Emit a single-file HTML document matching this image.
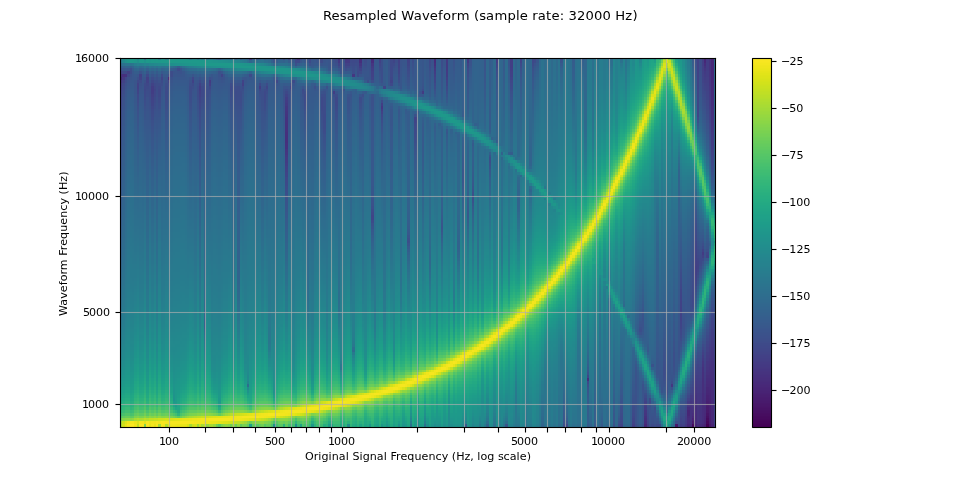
<!DOCTYPE html>
<html lang="en">
<head>
<meta charset="utf-8">
<title>Resampled Waveform (sample rate: 32000 Hz)</title>
<style>
html,body{margin:0;padding:0;background:#fff}
body{width:960px;height:480px;overflow:hidden}
#fig{display:block;width:960px;height:480px;background:#fff;font-family:"DejaVu Sans","Liberation Sans",sans-serif}
</style>
</head>
<body>
<svg id="fig" width="960" height="480" viewBox="0 0 960 480">
<g id="spectrogram" transform="translate(120 58)" shape-rendering="crispEdges" fill="none">
<g stroke-width="2">
<path stroke="#45085b" d="M573 366v3"/>
<path stroke="#48196b" d="M573 363v3m17 0v3"/>
<path stroke="#481e70" d="M590 360v6"/>
<path stroke="#482071" d="M590 355v5"/>
<path stroke="#482172" d="M585 0v2m5 350v3"/>
<path stroke="#482273" d="M573 360v3m12 3v3m5-23v6"/>
<path stroke="#482374" d="M590 343v3"/>
<path stroke="#472575" d="M590 340v3"/>
<path stroke="#472676" d="M315 0v2m275 335v3"/>
<path stroke="#472777" d="M1 19v3m584 338v6m5-31v2"/>
<path stroke="#472878" d="M219 0v2m354 356v2m10 6v3m2-367v3m0 353v2m5-28v3"/>
<path stroke="#472a79" d="M49 19v3m536 333v3m5-29v3"/>
<path stroke="#472b7a" d="M585 352v3m5-29v3"/>
<path stroke="#472c7b" d="M315 2v3m258 350v3m12-9v3m5-29v3"/>
<path stroke="#462d7c" d="M571 366v3m12-34v31m2-361v3m0 338v3m5-29v3"/>
<path stroke="#462f7c" d="M226 0v2m122-2v2m120 318v3m110 43v3m5-49v15m2 8v3m5-346v2m0 315v3"/>
<path stroke="#46307d" d="M315 5v3m258 344v3m10-41v6m2 20v3m5-29v3"/>
<path stroke="#46317e" d="M1 16v3m582 293v2m2 23v3m5-28v2"/>
<path stroke="#45327f" d="M6 16v3m565 330v17m2-17v3m10-43v3m2-304v2m0 325v2m5-28v3"/>
<path stroke="#45347f" d="M1 22v3M377 0v2m201 350v14m7-34v3m5-333v11m0 293v3"/>
<path stroke="#453580" d="M315 8v2m256 336v3m7-3v6m5-46v3m2 20v3m5-319v6m0 284v3"/>
<path stroke="#453681" d="M262 48v3m65-51v2m225 324v3m14 37v3m7-23v3m5-9v6m5-43v3m2-296v3m5 6v6m0 275v3"/>
<path stroke="#443781" d="M571 343v3m7-11v5m7-14v3m5-304v3"/>
<path stroke="#443982" d="M219 2v3m96 5v3m258 330v3m5-14v3m7-12v3m5-298v5m0 264v3"/>
<path stroke="#433a83" d="M1 25v3M226 2v3m122-3v3m223 335v3m7-14v3m5-332v2m0 298v3m2-290v3m0 304v3m5-290v3m0 258v3"/>
<path stroke="#433b83" d="M90 22v3M260 0v2m43 31v3m24-34v11m239 350v3m7-26v3m5-17v3m5-135v3m2 120v3m5-284v3m0 253v2"/>
<path stroke="#433c84" d="M262 51v2m12-53v2m5-2v2m36 11v3m12-3v3m50-14v3m189 355v3M578 0v2m0 321v3m5-29v3m2-284v3m0 295v3m5-278v6m0 244v3"/>
<path stroke="#423d84" d="M1 28v3m139-3v3m74 2v3m48 9v3m65-32v3m244 318v3m2-3v3m5-20v3m12-278v3"/>
<path stroke="#423e85" d="M1 31v2m79-5v5m10-8v3M401 0v2m160 364v3m5-11v2m12-43v3m5-318v6m2 11v3m0 290v2m5-266v3m0 235v3"/>
<path stroke="#424085" d="M80 33v3m43-11v3m77-28v2m115 14v3m12 0v3m201 344v3m45-34v2m5-23v3m5-309v5m0 281v3m2-275v3m0 284v3m5-261v2m0 230v3"/>
<path stroke="#414186" d="M1 13v3m0 17v3m17-8v3m55-9v3M226 5v3m53-6v3m69 0v3m213 241v8M578 2v14m0 296v2m5-301v3m0 181v3m2 106v3m5-256v3"/>
<path stroke="#414286" d="M1 36v3m17-14v3m62-3v3m0 8v3M219 5v3m41-6v3m2 48v3m17-51v5m98-5v3m184 235v6m0 8v6m5 92v3m5-23v2m2-5v3m5-319v6m0 184v5m5-195v3m2 6v3m5 28v3m0 221v3"/>
<path stroke="#404387" d="M1 39v3m17-11v2m31-11v3m74-3v3m46-25v2m2 26v3m144-12v3m12 0v3m88-25v2m146 235v6m0 20v3m0 97v3m17-344v9m0 172v3m0 103v3m5-293v3m0 169v3m0 98v2m2 9v3m5-247v3m0 215v3m5 32v5m0 49v3"/>
<path stroke="#404487" d="M1 42v3m41-26v3m38 17v3m22-26v3m88-19v2m12-2v2m34-2v2m43 8v3m31-13v2m91 0v3m12-5v2m148 232v3m0 29v3m0 91v3m5-11v3m7-26v3m5-301v5m0 15v8m0 152v3m0 92v3m5-287v3m2 3v3m0 269v3m5-241v3m5 238v9m0 5v15"/>
<path stroke="#3f4587" d="M1 45v3m17-15v3m17-5v2m45 9v3m67-17v3m29-31v2m55-2v2m43 0v3m5 8v3m36 6v3m12 0v3m21-20v2m29-2v2m151 353v3m33-135v3m0 35v2m17-235v15m0 149v3m7-172v2m5 241v3m5 20v6m0 29v11"/>
<path stroke="#3f4788" d="M1 48v3m5-32v3m29 6v3m0 2v3m38-17v3m7 23v3m77-26v3m69-17v2m12-10v2m22 3v3m2 48v3m206 258v3m60 40v3m33-135v3m0 40v3m0 84v2m10-28v3m2-98v9m5 57v3m5-281v3m0 261v3m2 5v3m5-235v3m0 203v3m5 20v3m0 46v23"/>
<path stroke="#3e4888" d="M1 51v2m5-40v3m19 15v2m10 3v3m45 9v3m10-23v3m50-6v3m0 3v2m24-33v2m115 14v3m251 321v6m31-120v2m0 46v3m5 72v3m7-118v3m0 9v3m0 77v3m5-132v3m0 14v3m5-189v3m2 2v3m0 258v3m5-229v3m5 221v2"/>
<path stroke="#3e4989" d="M1 53v6m17-37v3m0 11v3m7-11v3m0 2v3m55 15v2m65-20v9m57 0v9m36-38v3m55-16v2m17 0v3m5 20v3m7-28v2m5 26v3m21-21v3m29-3v3m24-8v3m12-6v3m55 318v3m31 40v3m29-11v2m12 6v3m21-146v3m0 129v3m12-130v6m5-175v3m0 238v3m5-272v2m2 3v3m5 32v3m0 195v2m5 18v3"/>
<path stroke="#3d4a89" d="M1 59v3m17-23v3m7-6v3m10-14v3m0 11v3m7-20v3m31 0v3m7-6v3m0 28v3m31-28v5m12-5v3m22 11v3m2-14v2m29-31v3m5-5v2m2 29v2m7-31v3m12 34v3m0 9v2m17-45v2m12-8v3m5-3v3m2 11v3m22-11v2m2-10v2m0 40v3m0 14v3m12-57v3m5 11v3m282 198v3m0 54v3m10 49v3m2-106v2m0 21v2m0 72v3m5-132v3m5-164v3m0 152v3m0 9v3m2 89v2m5-220v2m5 210v3"/>
<path stroke="#3d4b89" d="M1 62v6m24-43v3m0 11v3m5-9v3m5 6v3m7-29v3m7 6v3m31 28v3m36-26v3m53 6v3m2-20v3m29-26v3m14-5v2m24 0v3m72 0v3m17 23v2m21-20v3m65-11v3m115 347v3m33-141v3m0 132v3m5-9v3m7-126v3m5-35v3m5 92v3m2-250v3m5 224v3m5 14v3"/>
<path stroke="#3d4c89" d="M1 68v6m5-52v3m5-12v3m7 26v3m12-17v5m0 3v3m7-14v6m12-15v3m29 12v8m2 20v3m5-37v3m5 3v2m21-8v3m0 5v3m5-5v2m0 3v6m5-9v12m24-14v2m0 12v3m2-23v3m22 11v3m0 3v6m14-18v3m19-34v3m0 48v3m29-51v3m7-3v8m72-5v2m5 18v3m62-18v3m24-8v2m14-8v3m101 361v3m31-37v3m5-12v3m7 40v3m2-155v3m0 63v3m12-63v3m5-6v3m0 77v3m5-264v3m2 3v3m0 244v3m5-216v3m5 201v3"/>
<path stroke="#3c4d8a" d="M1 10v3m0 61v2m24-34v3m5-6v3m5 3v3m2-26v3m0 6v5m5-11v3m36 0v3m0 8v3m2 20v3m5-37v5m26 3v3m10 6v3m19-15v3m5 12v3m2-18v3m22 0v3m0 12v2m2-22v2m31 3v3m0 17v3m12-23v3m10-39v2m2 8v3m10-8v3m7-8v2m5 20v3m2-25v2m10 8v3m2-3v12m0 40v3m31-63v3m10 26v2m19-31v6m12-8v2m14 14v3m5 118v3m17-41v3m74 264v3m84-17v3m19-26v3m24-86v3m2-35v6m0 100v3m5-135v3m5-152v3m7 37v3m0 181v3m5 11v3"/>
<path stroke="#3c4e8a" d="M1 76v6m10-72v3m7 32v3m7-3v3m5-23v3m0 14v3m5-23v3m0 23v3m2-15v3m12-11v3m24-3v3m7 34v6m5-49v3m0 8v3m5-17v3m0 11v3m26-8v3m0 11v3m5-14v2m0 15v3m2-20v2m22 18v2m24 0v3m33 3v3m41-26v3m5-39v2m14 0v8m12-2v2m5 12v3m2-25v2m29 8v3m12-5v2m5 23v3m26 104v2M365 0v2m5 100v3m7-89v3m12-19v2m24 6v2m122 339v3m0 14v3m12-34v2m7-43v15m7-98v3m5 129v3m5-109v9m0 3v5m0 72v3m2-118v3m0 37v3m5 40v3m5-112v3m2-143v3m0 238v3m10-15v3"/>
<path stroke="#3b508a" d="M1 82v6m5-63v3m12-9v3m0 26v3m7-29v3m5 20v3m7-29v3m0 17v6m41-20v3m0 14v3m2 26v3m5-38v3m26 0v3m5 3v3m5-20v3m0 20v2m19-17v3m7-3v3m17-6v6m5-6v3m0 20v3m7-54v3m7 28v3m12-11v3m7 31v3m29-57v2m29 3v3m2 6v3m0 40v3m7-68v2m24 3v3m22 23v2m7-23v3m26 6v3m5 112v3m48-127v3m67 313v3m26 37v3m34-20v3m2-6v3m0 17v3m17-43v3m7-40v5m0 15v3m7-104v3m0 72v3m0 63v3m10-118v3m2-29v3m5-149v3m0 120v3m5-146v3m0 238v3m2-238v3m5 31v3m0 175v3m5 8v3"/>
<path stroke="#3b518a" d="M1 88v6m17-43v2m7-5v3m5-3v3m5 0v2m2-8v3m5-20v3m7 0v2m29 12v3m2 26v2m5-37v3m5-6v3m12-20v3m9 20v3m5 3v3m5 2v3m2-23v3m22-8v3m0 22v3m2-17v3m17-11v2m0 6v3m5 17v3m2-29v3m17-36v2m14 63v3m5-40v3m5-31v2m2 0v3m22 3v2m57-2v2m17 3v3m12-3v3m48 89v3m7-89v3m36-12v3m86 350v3m17-29v29m36-37v3m2-49v6m0 23v2m5 49v3m2-160v2m10 20v6m0 20v3m2-54v5m0 109v3m5-137v2m0 35v3m5-178v3m0 155v3m2 77v3m5-201v3m5 181v2"/>
<path stroke="#3a528b" d="M1 94v5m5-71v3m5-15v3m7 34v3m7-5v2m5-31v3m0 26v2m5 0v3m2-8v5m5-22v2m19-20v3m12 15v2m5 15v3m2-32v3m0 54v6m5-40v3m5-6v3m21 3v3m5-23v3m0 23v2m5 3v3m19-20v3m5 14v3m19-17v3m5-14v2m0 29v3m14-26v3m7-37v3m12 25v3m0 32v3m5-71v2m17 0v3m0 26v2m19-31v6m7-6v14m10 0v3m2 49v3m12-61v3m12-13v2m17-2v2m0 26v3m7-15v3m12-3v3m5 17v3m7-37v3m14 17v3m5 117v3m24-123v3m24-12v3m67 298v3m48 9v11m7-77v3m0 63v6m0 34v3m7-20v3m5 0v3m7-26v3m5-9v3m5-6v3m2-43v3m0 31v3m5-34v14m0 63v3m2-160v3m0 80v3m5 51v3m5-120v5m2-28v3m5 89v2m5-111v2m2-134v2m0 141v3m10 69v3"/>
<path stroke="#3a538b" d="M1 99v6m17-49v3m7-6v3m5-3v3m5 0v3m2-6v3m12-23v3m5-23v3m7-6v3m17 9v3m0 26v2m2 29v3m5-66v3m0 23v6m5-9v3m2-26v3m12-3v3m7 0v3m10 0v3m0 31v3m2-26v3m24 3v3m5-45v2m12 43v3m7-12v3m24-39v2m19 37v3m17-32v3m5-3v3m7-5v2m5-8v3m2 11v3m5-19v2m7 69v3m19-72v8m10-10v2m2 8v3m22 20v3m7-17v3m12-17v3m7-8v2m7 23v3m5 103v3M365 2v6m5 89v2m19-97v3m24 8v3m2-11v3m29 355v3m72-49v9m7-69v3m0 3v6m0 63v3m5 11v3m2 3v3m5 0v11m7-40v3m5-9v3m7-49v6m5-9v12m0 14v3m2-100v3m10 17v3m0 100v3m2-129v3m5-20v3m5-135v3m2 2v3m0 141v3m0 80v3m5-195v3m0 166v3m5 3v3"/>
<path stroke="#39548b" d="M1 105v6m5-80v2m12 26v3m5-37v3m2 28v3m5-3v3m5-40v3m2-6v3m0 37v6m5-29v3m7 0v3m24-6v3m5 17v3m2 29v6m5-40v2m5-8v3m12-26v3m2-9v3m7 29v3m5 2v3m5 6v3m2-26v3m17 0v3m5 14v3m2-17v3m10-23v3m7 0v3m0 17v3m5 14v3m2-29v3m12-14v3m0 11v3m19 26v3m12-69v3m5 2v3m5-8v3m7 28v3m12-29v3m5-8v5m0 9v3m2-3v3m10-3v3m9-20v11m10 12v3m2-18v3m12 0v3m10 9v3m7-9v3m12 0v3m0 143v3M334 8v2m14 18v3m17-23v5m5 95v3m7-86v3m12-23v3m12 8v3m12-3v3m55 310v3m26 31v3m22-54v5m2 49v3m5-115v3m0 12v2m0 64v5m7 15v11m12-43v3m0 6v3m5 2v3m5-23v3m2-49v3m5-11v8m0 87v2m2-163v3m0 146v3m10-135v6m0 37v3m2-66v3m0 57v3m0 57v3m5-94v3m5-175v2m0 227v3m12-23v3"/>
<path stroke="#39558b" d="M1 111v6m5-84v3m5-17v3m7 40v3m5-46v6m0 3v5m2-14v3m0 37v3m5-3v3m5-3v3m2 0v3m5-29v3m7 0v3m5-26v3m2-6v3m5 0v3m12-3v3m0 17v3m5 17v3m2 32v3m5-41v6m5-11v3m2-29v3m10-12v3m9 35v2m5 3v3m5 6v3m2-26v3m17 0v3m5 14v3m2-17v3m17 0v2m5 15v3m2-29v3m12 0v3m17-43v3m2-3v3m0 66v2m10-74v3m2 37v3m10-37v2m7 29v3m12-29v3m0 23v3m5-32v3m14 61v2m7-63v15m5-15v3m7-3v6m0 9v3m22-12v6m7-3v3m12 0v3m0 137v3m12-158v3m14 18v2m5 95v3m12-118v6m12 9v3m67 329v3m50-5v5m22-54v3m7-61v3m0 86v6m5-3v3m14-26v3m5-6v3m7-54v5m0 46v3m5-66v9m0 37v3m12-92v3m2-23v3m5-17v3m5 0v3m2-127v3m0 132v3m5-103v3m5 163v3"/>
<path stroke="#38568b" d="M1 117v5m5-86v3m12-23v3m0 46v3m5-35v3m7-17v3m0 40v3m5-3v3m2 0v6m5-32v3m2-23v12m5 11v3m7-35v3m0 3v3m17 20v3m7 52v5m5-40v6m5-14v2m2-37v3m12 3v3m7 28v3m5 3v3m5 6v3m2-52v3m0 23v3m17-26v3m0 23v3m5-26v3m0 37v3m2-17v5m10-56v2m7 51v3m5-28v3m0 40v3m2-29v3m10-46v3m0 31v3m2-39v2m0 46v3m12-20v2m7 43v3m10-74v3m24 5v3m12-3v6m12 3v3m2 0v3m19-9v9m5-26v8m7 6v3m10-17v17m7 6v3m12 0v3m0 140v3m5-135v3m0 32v2m2-76v2m19 31v3m5 109v3m12-129v6m19-25v2m5 6v2m12 9v3m12-3v3m55 310v3m26 20v3m5 2v3m24-92v3m0 72v20m17-54v14m2-9v3m5-6v3m5-3v3m2-54v3m5-20v8m0 101v3m2-164v3m0 92v3m5-41v9m0 77v3m5-134v5m2-211v2m0 186v3m5-17v3m0 112v3m5-239v3m0 150v2m2-149v3m0 215v3m5-186v3m0 157v3m5-3v3"/>
<path stroke="#38578c" d="M1 122v6M6 10v3m0 26v3m5-20v3m2-9v6m5 46v3m5-35v6m2 20v3m5 0v3m5-3v3m2 3v5m5-63v3m0 26v3m2-14v5m5 9v3m5-29v3m7-3v3m17 37v3m2 37v6m5-40v3m5-15v3m2-31v3m5-9v3m5 3v3m9 28v3m5-37v3m0 37v3m5 6v3m2-26v3m17 0v2m5 15v3m2-15v3m10-40v3m0 6v3m2-6v3m5 28v3m5 15v2m2-76v2m0 46v5m10-20v3m0 3v6m2 6v2m5-20v6m7-37v3m5 31v12m2 31v3m5-80v3m0 26v2m5-25v2m2 21v2m0 12v3m17-15v3m0 6v3m12-3v3m12-43v3m7 71v3m12-63v3m5 32v5m7-46v6m5-14v6m12 28v3m2-39v2m5 26v3m12 0v2m0 129v3m5-94v3m7-61v3m14 20v3m0 115v3m5-32v3m12-103v3m5 83v3m7-83v2m38-25v2m29 348v2m24-48v2m48-8v3m2 20v11m5-91v2m0 72v3m17-20v6m2 0v5m5-8v5m5-2v2m2-57v6m5-26v9m2-55v3m5 49v8m0 9v6m5-63v3m2-23v5m5-123v3m17 183v3"/>
<path stroke="#37588c" d="M1 128v9m5-95v3m7-32v3m0 6v3m5 46v3m5-58v3m0 23v3m2 20v3m5 0v3m5-3v3m2 5v3m5-34v3m2-12v3m5 9v3m7-32v3m10-3v3m2 0v11m5 9v3m5-26v3m0 40v3m2 40v3m5-40v6m5-18v3m2-31v3m5-15v3m0 3v3m5 3v3m2-6v3m5-3v11m2 23v3m5 3v3m5-46v3m0 49v2m2-25v2m5-34v3m12 31v3m5 15v3m2-52v3m0 34v3m17-3v3m5 14v3m2-26v3m10-25v2m0 12v6m2 2v3m5-54v3m0 26v2m0 6v3m12 6v5m2 29v6m5-83v3m7 40v3m10-41v3m7 32v3m5-32v3m7-3v3m0 26v3m12-43v8m7 66v3m5-82v2m7 17v3m5 34v3m7-43v6m5-14v2m2 9v3m17 9v2m5 3v3m7-6v3m12-20v3m2-19v2m5 0v6m7 31v3m0 109v3m0 3v3m17-132v3m5-31v2m7 31v3m12-26v3m12 9v3m12-3v3m55 310v2m7 29v3m19-17v3m24-35v9m0 11v26m5-120v3m0 25v3m5 63v3m12-40v3m0 20v3m2-20v3m5-6v3m5 0v3m2-58v3m0 63v3m5-92v6m0 66v3m2-118v3m5 46v6m0 23v3m5-69v3m0 57v3m0 57v3m2-143v3m0 129v2m5-143v3m0 52v2m5-172v3m0 118v3m0 97v3m2-218v3m0 209v3m5-180v2"/>
<path stroke="#37598c" d="M1 8v2m0 127v5m5-97v6m5-26v3m2-3v3m5 46v2m5-31v6m2 17v3m5 0v3m5-3v3m2 5v6m5-37v3m2-35v3m0 20v3m5-29v3m0 35v2m5-43v3m0 9v3m2-3v3m5-3v3m5-9v3m0 3v3m2-6v3m0 11v3m5 9v6m5 14v3m2 40v6m5-40v8m5-23v3m2-31v2m5-8v6m12 5v6m2 20v3m5 3v3m5 5v3m2-26v6m5-37v3m5-6v6m7 31v3m5 15v2m2-14v6m10-37v2m2-11v3m0 3v3m5 31v3m5 14v3m2-26v6m10-11v2m2 3v3m5-17v6m7-23v3m0 5v3m5-3v3m0 17v3m2-25v2m0 55v3m5-58v3m7-28v2m0 41v2m12-40v3m5-3v3m0 32v5m12-5v3m7-12v9m5-35v6m7 63v3m17-26v3m7-40v3m5-15v3m2 9v3m5 28v3m5 12v23m7-58v3m12 138v3m12-158v3m7-14v2m5 356v3m2-327v3m0 103v3m5-29v3m12-94v5m5 78v3m7-81v3m12-26v3m12 9v3m12-3v3m31 327v3m50-9v3m17 14v3m7-52v3m10-28v2m12 3v6m2 0v6m5-6v3m0 34v3m5-40v6m2-60v5m5-31v8m2-46v3m0 155v3m5-115v6m5-43v6m2-23v3m10-121v3m2 126v3m0 9v3m5 48v3m5-5v2"/>
<path stroke="#365a8c" d="M1 142v6m5-97v2m5-25v3m2-3v3m5 45v3m5-28v2m2-37v3m0 52v3m5 0v2m5-60v3m0 55v2m2-63v3m0 69v6m5-40v5m2-14v6m5 5v6m5-34v3m7-3v3m5-3v3m2 8v3m5 12v2m5 15v3m2-55v3m0 95v3m5-35v6m5-72v3m0 43v6m7-37v2m5-2v2m2-5v3m5-9v3m0 17v3m2-26v3m0 43v6m5 0v3m5 5v3m2-23v3m5-46v3m0 6v3m12 31v6m5 11v3m2-11v3m5-46v8m5 0v3m2-5v2m5-8v3m0 37v3m5 14v3m2-23v3m10-37v3m0 22v6m2 0v6m5-17v3m2-18v9m5-37v3m0 28v3m5 17v6m2 29v3m12-41v3m17-3v3m12-23v3m0 15v5m7-34v3m0 23v3m5-32v6m5 0v3m2 11v3m12-20v3m5 37v3m7-14v2m5-40v3m12 49v3m0 23v8m14-99v2m5 34v3m0 121v2m5-120v3m0 31v3m2-77v6m5 14v3m7-15v3m7 32v6m0 94v3m0 12v2m5-77v3m0 31v3m0 26v3m12-115v3m5 12v20m7-32v3m7-40v11m29 15v3m2-21v3m53 324v3m0 26v3m14-3v3m12-23v3m5 9v2m19-89v3m0 40v3m5-74v3m12 100v3m5-55v3m2 0v6m5-6v6m5-3v3m2-57v3m5-38v12m0 129v3m2-172v2m0 107v2m5-68v5m0 38v2m0 64v2m5-146v3m2-20v3m5-9v3m0 115v3m7-224v3m10 178v3"/>
<path stroke="#365b8c" d="M1 148v6M6 53v3m5-25v2m2-23v3m0 18v2m5 46v3m5-29v6m2 15v2m5-60v3m0 57v3m5-3v3m2 12v6m5-41v3m2-11v3m5 8v3m5-34v3m2-6v3m10 0v3m2-15v3m0 20v6m5 8v3m5 15v3m2 43v5m5-106v3m0 69v6m5-26v3m2-38v3m5-3v3m5-3v3m2-5v2m5 12v6m2 20v3m5 0v2m5 6v3m2-23v6m10-43v3m2-3v6m5 34v3m5-68v2m0 77v3m2-11v5m5-43v3m7-36v2m5 66v3m5 14v3m2-23v6m5-46v3m5 31v3m2 3v3m5-40v3m0 20v5m2-25v2m0 9v6m5-9v3m5 20v3m2 29v3m5-89v2m0 26v6m5-6v12m2 8v6m5-29v9m5-9v3m7 20v6m12-6v6m7-26v3m0 12v2m12 32v3m17-60v3m0 34v3m7-43v3m0 25v3m5-40v3m2 6v3m10 71v6m2-103v6m5 28v3m12 118v3m7-152v2m12 3v3m7 126v3m5-28v2m12-80v3m5-9v18m0 66v2m2-119v2m5 40v3m7-32v9m5-6v3m12 9v3m43 321v3M463 0v2m5 307v3m0 28v3m26 0v3m22-43v3m7-29v3m5 9v3m12 0v2m2-2v5m5-5v5m5-3v6m2-60v6m5-43v8m2-31v3m5 40v3m5-38v3m2-189v3m0 166v3m0 83v3m10-198v3m0 109v3m0 31v3m2 60v3m5-175v3m5 141v3"/>
<path stroke="#355c8c" d="M1 154v6M6 56v6m5-29v3m2-3v3m5 46v3m5-72v3m0 43v3m2 14v3m5 0v3m5-3v3m2 15v5m5-43v6m2-14v5m5 6v6m5-37v2m2-5v3m5-3v3m5-18v3m0 15v2m2 12v3m5 8v6m5 12v5m2 43v6m5-34v8m5-31v5m2-40v3m5-3v3m5-3v3m2-6v3m5 15v5m2 18v2m5 0v3m5 6v3m2-20v3m5-43v3m5-3v3m2-9v3m0 6v2m5 35v3m5 11v3m2-9v3m5-57v3m0 11v6m5-6v3m2-6v3m5 35v3m5-49v3m0 60v3m2-20v5m5-54v3m0 3v3m5 31v6m2-66v3m0 63v6m5-18v6m2-14v5m5-11v3m5-14v2m0 32v6m2 26v2m5-57v3m5-12v3m0 12v5m2 9v3m5-23v6m12 14v6m5-35v3m7 26v6m7-15v6m12 29v3m5-89v6m7 17v3m5 20v3m0 17v3m2-40v2m10-14v3m12 40v3m0 40v3m2-100v5m10 55v3m7-32v3m5 37v3m2-72v6m5 9v3m2-26v6m5 8v3m7 32v2m0 87v2m5-28v3m12-75v3m5-43v31m0 38v3m7-29v3m7-26v3m5-6v3m12 9v2m12-2v2m2-20v3m53 327v6m7 11v6m19-26v3m24-74v2m0 3v3m0 35v2m5-74v3m5 94v3m2-3v3m10-54v6m2-6v6m0 43v2m5-48v3m5-3v5m2-57v3m5-46v9m7 14v6m0 48v3m5-89v3m2-20v3m0 138v3m5-147v3m7-100v3m0 114v3m5 61v2"/>
<path stroke="#355d8c" d="M1 160v5M6 62v6m5-32v3m2-3v3m5-26v3m0 69v6m5-29v6m2 11v6m5-3v3m5-3v3m2 17v6m5-43v6m2-58v3m0 40v3m5 9v3m7-40v2m5-2v2m5 0v3m2 12v5m5 9v3m5 14v3m2 46v3m5-29v6m5-32v3m2-40v6m5-32v3m0 23v3m5-3v3m2-6v3m5-20v3m0 34v3m2 17v3m5 0v3m5 6v3m2-20v5m5-45v2m5-2v2m2 0v6m5 32v3m5-52v3m0 60v3m2-9v6m5-43v3m5-6v6m2-9v3m5 35v2m5-74v3m0 86v3m2-18v6m5-51v2m5 35v3m2 3v2m5-14v6m2-40v3m0 22v6m5-14v3m5 23v3m2 25v3m5-57v3m5 5v6m2 6v3m5-20v3m5-38v3m2 20v6m5 26v6m12-6v6m7-15v3m5-26v3m5 3v6m2 43v3m5-86v11m0 23v3m2 3v5m10 18v3m12-52v3m2 3v3m5 5v3m5 69v6m2-101v6m10 52v3m7 80v3m0 20v3m7-164v3m5 9v3m2-23v8m5 3v3m7 31v3m0 81v3m0 22v3m5-77v3m0 17v6m0 37v3m12-109v3m12 0v3m7-26v6m5-9v3m7-25v2m5 31v3m12-3v3m55 313v9m7-6v8m19-23v3m5 15v3m12 0v8m7-100v3m5-32v3m5 46v3m12-6v3m0 43v3m2-52v6m5-3v6m5-6v6m2-58v6m0 86v3m5-141v9m2-17v3m5 31v6m5-34v2m0 78v3m0 51v3m2-315v3m5 60v3m0 157v3m5-60v3m0 100v3m2-206v3m5 28v3m5 135v3"/>
<path stroke="#345e8d" d="M1 165v3M6 68v3m5-63v2m0 29v3m2-3v6m5 46v3m5-26v6m2 11v3m5-3v3m5-3v6m2 17v6m5-43v3m2-15v6m5 6v5m5-43v6m2-6v3m5-3v3m5 0v3m2 14v3m5 9v6m5-55v3m0 63v3m2 46v6m5-29v9m5-38v6m2-40v3m5-6v3m5-3v6m2-9v3m5 17v6m2 14v3m5-63v3m0 60v3m5-66v3m0 69v3m2-18v6m5-49v3m5-36v2m0 31v3m2 3v3m5 32v5m5 9v3m2-6v3m5-43v3m5-46v3m0 40v3m2-9v3m5 34v3m5 15v3m2-95v3m0 17v3m0 57v6m5-55v3m5 35v5m2 0v6m5-77v3m0 60v6m2-15v3m5-14v3m5 23v5m2-71v2m0 92v3m5-57v5m5-43v3m0 46v6m2 3v6m5-23v5m5-20v3m2 3v6m5 26v5m7-40v6m5 29v5m7-17v6m5-29v6m5-6v3m0 6v3m2 43v3m5-78v3m2 23v3m0 5v6m10 15v2m7-48v3m0 25v3m5-34v3m7-28v2m5 112v3m2-98v3m10 17v3m0 23v3m0 6v2m2-74v11m5 58v8m0 72v3m5-72v3m2-66v3m5 9v5m2-20v3m5 3v3m7 109v3m5-137v2m0 89v3m0 8v6m7-108v2m5 46v3m5 43v3m0 22v3m7-71v2m0 29v3m7-54v5m17 0v3m12-3v3m2-23v3m29 330v3m24 6v8m7-17v3m7 11v3m12-31v2m17 15v6m12-78v3m17-6v6m2-9v6m5-3v6m5-6v6m2-55v3m5-54v8m0 121v3m2-135v3m0 117v3m5-89v3m5-34v6m2-18v3m5-6v3m5-100v3m12 169v3"/>
<path stroke="#345f8d" d="M1 168v6M6 71v5m5-34v3m2 0v3m5 46v3m5-23v5m2 9v3m5-3v3m5 0v3m2 20v5m5-45v5m2-14v6m5 5v6m5-43v3m2-6v3m5-3v3m5 0v3m2 14v6m5 9v3m5 11v3m2 49v5m5-25v8m0 138v6m5-184v3m2-40v3m5-6v6m5-3v3m2-9v3m5 20v3m2 14v6m5-3v3m5 6v3m2-15v3m5-49v3m5-23v3m0 17v3m2-20v3m0 20v3m5 34v3m5 9v3m2-6v6m5-46v5m5-5v3m2-9v3m5 34v6m5 12v2m2-11v3m5-55v6m5 34v3m2-54v3m0 54v3m5-11v5m2-17v6m5-17v5m5 23v3m2 23v6m5-58v6m5-28v2m0 32v6m2 3v2m5-45v2m0 23v6m5-23v3m2-9v3m0 12v3m5 28v9m5-52v3m2-3v3m0 6v6m5-32v3m0 57v6m7-17v3m5-26v6m5 0v2m2 44v2m5-77v3m2 3v3m0 28v6m5-37v3m5 45v3m7-20v3m5-34v3m12 86v5m2-100v3m10 51v3m2-66v9m5 20v3m0 34v9m0 57v6m5-66v3m2-66v3m5 11v3m2-20v6m5 0v3m7 100v6m5-52v3m0 9v8m0 52v3m5-157v2m7 49v2m7-51v6m5 45v3m7-20v3m5-14v3m12 11v3m12-3v3m55 264v3m7 34v6m19-17v3m5 17v3m12-6v3m7-89v3m5-32v3m0 83v3m5-40v3m7 23v3m5-38v3m0 86v3m2-97v5m5-5v8m0 66v3m5-77v8m0 55v3m2-112v5m5-60v9m2-6v3m5 29v5m0 66v3m0 55v3m5-161v3m2-169v2m0 152v3m12-91v2m0 107v2m0 84v2m5-166v3"/>
<path stroke="#33608d" d="M1 174v6M6 76v6m5-37v3m2 0v5m5 44v5m5-23v3m2 9v3m5-3v6m5-3v3m2 22v6m5-46v6m2-14v5m5 6v3m5-43v3m2-6v6m5-6v6m5-3v6m2-35v3m0 46v6m5 6v5m5 9v3m2 51v3m5-20v9m5-46v6m2-43v5m5-5v2m5-2v5m2-11v3m5 20v6m2 14v3m5-3v3m5-91v2m0 95v5m2-17v6m5-52v6m5-6v3m2 3v6m5 31v6m5 6v3m2-3v5m5-97v3m0 48v6m5-8v5m2-11v6m5 34v3m5 11v6m2-14v6m5-55v3m5-20v3m0 51v6m2 0v6m5-12v6m2-77v2m0 58v8m5-68v2m0 46v6m5-54v2m0 72v3m2 26v3m5-104v3m0 46v6m5 6v3m2 2v6m5-20v3m5-23v3m2 6v5m5 32v6m5-63v2m0 6v3m2 9v5m5 29v9m7-23v3m5-49v3m0 23v5m5-3v6m2 40v3m5-77v3m0 17v3m2 17v3m10 11v3m2-29v6m5 3v3m5-34v2m2-2v2m10 26v3m0 60v3m2-100v6m5 8v3m5 37v3m2-60v9m5 37v3m0 17v11m0 41v5m0 35v3m5-138v3m2-23v6m5 8v3m2-17v6m5-3v3m7 25v3m0 29v40m0 37v3m17-115v3m5 18v2m0 46v3m2-117v5m5 43v3m7-20v3m5-14v3m0 63v3m12-55v3m12-3v3m2-26v3m29 324v3M463 2v3m12 335v3m7 17v3m12-34v3m17 11v6m7-89v3m0 46v3m5-81v3m5 60v3m0 38v2m7-34v6m0 3v2m5-45v5m2-14v9m5-6v6m5-6v6m2-49v3m5-66v11m0 181v3m2-184v3m0 169v3m5-143v3m5-32v3m2-14v2m5-2v2m5-94v3m2 132v3m5-21v3m0 58v3m5-15v3"/>
<path stroke="#33618d" d="M1 180v5M6 82v6m5-40v5m2 0v3m5 46v3m5-23v6m2-75v3m0 78v3m5-84v3m0 81v2m5-86v3m0 81v2m2 26v3m5-43v6m2-15v6m5 3v6m5-46v3m2-3v3m5-3v3m5 0v3m2 17v3m5-58v3m0 63v6m5 6v3m2 51v6m5-17v8m0 118v3m5-169v5m2-86v3m0 40v3m5-6v6m5-3v3m2-46v3m0 32v5m5 21v5m2 12v3m5-3v6m5 5v3m2-14v6m5-97v2m0 43v3m5-6v3m2 6v2m5-34v3m0 66v3m5 6v2m2 0v6m5-86v3m0 37v3m5-6v3m2-8v2m5-51v3m0 83v3m5 14v3m2-11v5m5-57v3m5-43v3m0 77v3m2 3v6m5-12v6m2-15v6m5-20v3m5 20v6m2-63v3m0 83v3m5-52v6m5 3v5m2-69v3m0 69v3m5-72v3m0 49v6m5-26v3m2 8v3m5 35v8m5-60v3m2 11v3m5 35v5m5-63v9m2 29v5m5-23v6m5-3v3m2 40v3m5-57v3m2 17v6m10 8v3m2-34v2m0 6v9m5-3v3m12-35v3m5 89v3m2-97v2m10 49v3m2-54v8m5 60v41m5-52v3m2-60v2m5 9v3m2-14v2m5-2v2m5-33v2m2 83v3m17-32v3m5 66v3m2-115v6m5 40v3m7-20v6m5-17v2m7-31v6m5 37v3m12-3v3m62 289v3m19-14v3m5 20v3m12-12v3m5-43v3m2-46v3m10 20v3m7 17v3m5-37v3m2-15v6m5-3v6m5-6v6m2-49v6m5-80v17m2 8v3m5 26v6m5-32v3m2-14v3m0 146v3m5-78v3m0 49v3m5-118v3m0 40v3"/>
<path stroke="#32628d" d="M1 185v6M6 88v6m5-41v3m2 0v6m5 43v3m5-98v3m0 75v6m2 3v5m5-3v3m5-3v3m2 26v6m5-43v6m2-15v6m5 3v6m5-49v5m2-5v3m5-3v3m5 0v5m2 15v5m5 9v6m5 3v5m2 52v3m5-12v9m0 118v2m5-172v3m2-43v6m5-6v6m5-6v6m2-12v3m5 23v6m2 9v5m5-2v2m5 6v3m2-92v3m0 78v5m5-54v3m5-6v6m2 2v6m5 32v6m5 2v6m2 0v3m5-46v6m5-9v6m2-12v6m5 32v3m5 14v3m2-9v6m5-60v5m5 35v6m2 3v2m5-74v3m0 63v8m2-74v3m0 54v6m5-23v6m5-43v3m0 60v3m2 23v5m5-51v5m5 3v6m2 0v6m5-20v5m5-28v5m2 6v6m5-49v3m0 83v9m5-66v3m2-29v3m0 37v6m5 34v9m5-63v6m2 28v3m5-20v6m5-6v6m2 37v3m5-57v5m2 18v2m10 9v6m2-23v6m5-6v6m5-41v3m2 17v9m5-60v31m0 23v3m5 69v6m2-101v3m5 32v6m5 11v3m2-49v6m10 46v3m2-61v3m5 9v3m2-15v3m0 38v2m5-43v6m12-37v60m0 95v3m5-95v3m2-66v17m5 40v3m7-43v3m5 40v6m5-68v2m2 46v3m5-18v3m7-28v5m5 35v3m12-3v3m2-29v3m29 318v3M463 5v3m5 295v3m7 29v2m7 21v2m12-37v3m17 11v3m5-74v5m2-17v3m5-29v3m5 46v3m7 14v6m5-40v6m2-17v5m5-3v6m5-8v8m2-46v3m5-97v23m7 51v3m5-29v3m0 146v3m2-307v3m0 141v3m0 103v3m5-106v3m5-89v3m0 197v3m2-198v3m0 101v3m0 83v3m5-161v3m5 120v3"/>
<path stroke="#32638d" d="M1 191v3M6 94v8m5-46v6m2 0v3m5 43v6m5-20v5m2 3v3m5-3v3m5-3v6m2-98v3m0 121v6m5-130v3m0 84v5m2-14v6m5 3v5m5-49v3m2-5v5m5-5v5m5 0v3m2 17v6m5 9v3m5 5v3m2 52v6m5-9v9m0 97v3m5-158v6m2-43v6m5-6v3m5-3v6m2-15v6m5-46v3m0 66v3m2-72v3m0 80v3m5-3v3m5 6v3m2-9v6m5-57v5m5-5v2m2-53v2m0 57v3m5-62v2m0 95v2m5 6v3m2-108v2m0 17v3m0 86v6m5-46v6m5-9v6m2-69v3m0 54v3m5-40v3m0 69v5m5 12v3m2-6v6m5-61v3m5 38v3m2 2v6m5-6v6m2-17v6m5-23v5m5 18v5m2 23v3m5-49v6m5 3v6m2 0v3m5-18v9m5-32v3m2 9v6m5 40v6m5-69v3m2 14v6m5 37v6m5-63v5m2 26v6m5-20v6m5-6v6m2 34v3m5-55v3m2-17v3m0 31v6m10 9v3m2-20v5m5-48v2m0 41v2m7-14v3m5-6v3m5 72v3m7-72v3m0 6v8m5 6v3m7 92v2m5-91v3m2-61v6m5 6v3m2-15v3m5 0v3m7 40v3m0 83v3M358 2v20m2-3v12m5 31v3m5 63v3m2-109v6m0 51v3m5-14v3m0 8v3m5 12v3m2-46v2m5-17v6m7-29v3m5 35v2m12-2v2m2-28v3m60 304v3m5 31v3m14-49v3m5 23v3m12-17v5m5-74v3m2-15v3m5-28v2m0 55v3m5-12v3m7 12v5m5-37v3m2-20v9m5-6v8m5-8v6m2-41v3m5-97v3m2 45v3m0 132v3m5-112v3m0 86v3m5-118v3m0 101v3"/>
<path stroke="#31648d" d="M1 194v6M6 8v2m0 92v6m5-46v6m2-60v2m0 55v6m5 43v3m5-18v6m2 0v3m5-3v6m5-3v3m2 29v5m5-43v6m2-14v5m5-89v3m0 89v6m5-52v6m2-6v3m5-3v3m5-49v3m0 46v6m2 17v6m5 6v5m5 3v3m2-92v3m0 144v5m5-5v8m5-155v3m0 92v6m2-43v5m5-8v6m5-3v5m2-14v6m5 20v6m2 8v3m5-3v3m5 6v6m2-9v6m5-58v6m5-9v6m2 3v6m5 31v6m5 3v3m2 3v5m5-45v5m5-8v5m2-14v6m5 31v3m5-80v3m0 89v5m2-5v5m5-63v6m5 35v5m2-97v3m0 97v6m5-6v9m2-20v8m5-26v6m5 17v3m2 23v3m5-46v6m5 3v3m2 0v5m5-14v6m5-35v6m2 9v3m5 43v11m5-109v3m0 29v5m2-23v3m0 35v3m5 40v5m5-63v3m2 29v3m5-17v5m5-5v2m2 35v3m5-86v3m0 28v9m2 14v3m5-37v8m5 38v3m2-49v3m0 28v9m5-12v6m7-17v3m5-6v3m5 72v3m2-104v3m5 23v3m0 17v6m5 3v3m12 3v2m2-57v3m7-6v3m5 0v6m12 14v3m0 95v2m5-140v26m0 14v3m2-34v5m5 29v3m7-40v3m5 40v5m7-23v6m5-17v3m7-29v6m5 31v3m12-3v3m2-28v3m29 309v3m24-43v3m7 26v3m7 23v3m12-41v3m5 23v3m5 20v3m7-40v3m5-72v3m0 8v3m2-25v2m10 20v3m7 9v6m5-38v6m2-23v6m5-3v6m5-9v9m2-40v5m0 118v3m5-218v3m2 46v2m5 21v5m5-28v2m2-149v3m0 135v3m5-83v3m5 91v3m2-89v3m0 95v3m5 63v3m5-18v3"/>
<path stroke="#31658d" d="M1 200v6m5-98v6m5-46v6m2-3v5m5 41v2m5-14v6m2-3v3m5 0v3m5-3v3m2 31v6m5-43v9m2-107v3m0 86v6m5 3v6m5-52v6m2-60v2m0 49v6m5-6v6m5 0v6m2 17v6m5 5v6m5 0v6m2 54v3m5-155v3m0 152v12m0 74v3m5-143v3m2-41v6m5-8v5m5-3v6m2-14v3m5 23v5m2 6v6m5-6v6m5 6v2m2-5v3m5-55v3m5-6v6m2 3v6m5 31v3m5-89v3m0 89v6m2 2v3m5-43v6m5-9v6m2-63v3m0 46v6m5 28v3m5 14v3m2-3v6m5-63v6m5 34v3m2 6v3m5 0v8m2-20v6m5-26v6m5 14v6m2 20v6m5-109v3m0 60v9m5-3v5m2 0v6m5-14v6m5-35v3m2 9v5m5 49v9m5-81v3m2 15v5m5 40v9m5-69v6m2 26v3m5-15v9m5-12v6m2 32v3m5-49v6m2 11v6m5-46v3m0 8v6m5 35v2m2-11v6m5-12v3m7-17v3m5-6v9m5 66v2m7-54v9m5-3v5m7-54v3m5 20v3m0 28v3m2-57v3m7-6v3m5 3v5m5-51v8m2 49v3m10-14v14m2-26v9m10 86v3m2-103v5m5 40v3m7-20v3m5-17v3m7-26v3m5 31v3m12-3v3m31 278v3M461 0v2m2 6v2m12 316v3m19-15v3m17 9v3m5-72v3m2-14v3m0 57v3m5-86v3m5 43v2m7 6v6m5-34v2m0 81v3m2-107v6m5-3v6m5-9v6m2-34v3m5 106v3m2-155v3m5 20v3m0 146v3m7-184v3m5 3v3m5-83v2m7 35v3m0 69v2"/>
<path stroke="#31668d" d="M1 206v2m5-94v5m5-45v5m2-3v6m5-72v3m0 106v6m5-14v6m2-6v6m5-3v3m5-3v5m2 32v6m5-40v5m2-17v6m5 3v5m5-51v3m2-6v6m5-6v6m5 0v5m2 18v5m5 6v6m5-98v3m0 95v3m2 54v6m5 6v8m0 63v3m5-137v5m2-40v6m5-9v6m5-3v6m2-17v5m5 23v6m2 6v3m5-114v2m0 14v3m0 92v3m5-98v3m0 100v3m2-5v5m5-57v6m5-6v3m2 6v5m5 29v6m5 3v2m2 3v6m5-43v6m5-9v6m2-14v5m5 26v6m5 11v3m2 0v6m5-63v6m5 31v6m2 3v5m5 3v9m2-23v6m5-26v6m5 14v6m2 20v3m5-40v5m5-74v3m0 68v6m2 0v3m5-11v8m5-40v6m2-40v2m0 46v6m5-54v2m0 104v8m5-86v6m2 14v6m5 43v6m5-69v6m2 23v5m5-11v6m5-12v6m2 29v5m5-83v3m0 32v5m2 12v3m5-32v6m5 31v6m2-11v8m5-17v6m5-35v3m2-26v3m0 35v5m5-2v11m5 57v6m7-51v8m5-63v3m0 17v3m0 34v3m2-57v3m5 137v3m5-86v6m7-57v2m2-8v3m5 5v3m5-46v18m2 143v3m5-12v3m7-120v6m5 17v3m5 63v3m2-101v3m10-37v20m2 40v3m5-17v5m5-53v2m2 23v3m5 31v3m7-62v2m5 57v3m2-31v2m17-33v2m5-2v2m31 295v3m7 23v3m7 26v3m12-43v2m5 26v3m7 23v3m5-49v6m5-72v3m2-14v3m5-26v3m5 43v3m0 63v3m2-46v5m5-25v8m0 37v3m5-74v6m2-26v5m5-5v8m0 115v3m5-129v8m2-34v6m0 166v3m5-261v3m2 43v3m5 20v3m5-23v3m2-144v3m0 126v3m5 86v3m5-23v3m2-135v3m0 121v2"/>
<path stroke="#30678d" d="M1 208v6m5-95v9m5-49v6m2-3v6m5 37v3m5-11v8m2-8v2m5-2v5m5-3v3m2 35v5m5-40v6m2-17v6m5 2v6m5-54v5m2-5v5m5-68v2m0 61v5m5 0v6m2 17v6m5 6v6m5-3v3m2 57v3m5 11v12m0 46v5m0 20v3m5-152v6m2-40v6m5-9v9m5-6v6m2-18v6m5 23v6m2 3v5m5-5v3m5 5v6m2-6v6m5-57v5m5-8v6m2 5v6m5 29v3m5 2v3m2 6v6m5-43v8m5-11v6m2-15v6m5 26v3m5 11v6m2 0v6m5-129v2m0 64v5m5 32v3m2 5v6m5 6v11m2-28v8m5-28v5m5 15v3m2 20v3m5-38v9m5-6v6m2-3v6m5-9v9m5-43v5m2 9v6m5 54v12m5-92v6m2 14v6m5 43v8m5-109v3m0 35v5m2 23v3m5-8v8m5-14v6m2 28v3m5-46v6m2 9v5m5-31v6m5-43v2m0 72v3m2-6v9m5-63v3m0 40v3m5-41v3m0 3v6m2 11v6m5 3v9m5-38v3m0 89v3m2-92v6m5 40v9m5-12v3m2-37v3m5-6v3m5-20v3m0 57v3m2-63v3m7-3v3m0 25v3m10-51v11m12 29v3m2-20v5m12-17v6m10-23v23m0 54v3m2-37v3m5-15v3m7-28v3m5 31v3m12-3v3m2-32v3m5-36v2m24 333v2m19-327v3m12 307v3m5 32v11m2-17v3m5 14v3m7-60v3m5 25v3m12-23v3m5-69v3m7-37v3m5 40v6m2 14v9m0 5v3m5-34v6m5-29v3m2-29v9m5-6v6m5-12v9m2-29v3m5 152v3m7-175v3m0 103v3m5-129v3m2 146v3m5-155v3m5-78v3m2 95v3m0 86v3m10-144v12m0 92v2"/>
<path stroke="#30688d" d="M1 214v6m5-92v6m5-49v6m2-3v9m5 31v6m5-9v6m2-12v6m5-3v3m5-3v6m2 34v3m5-37v6m2-17v5m5 3v6m5-55v6m2-6v6m5-6v6m5 0v6m2 17v9m5 3v5m5-5v5m2 55v6m5 17v17m0 23v6m5-118v3m2-37v8M97 0v2m0 92v5m5-5v5m2-17v6m5 23v6m2-117v2m0 117v3m5-5v5m5 6v3m2-3v6m5-58v6m5-8v5m2-63v3m0 66v6m5 26v5m5 0v6m2 6v6m5-41v6m5-11v5m2-14v6m5 23v3m5 14v3m2-129v3m0 129v5m5-123v3m0 57v6m5 29v5m2 6v3m5 14v9m2-29v6m5-29v9m5 9v5m2 18v5m5-34v6m5-6v3m2-86v3m0 83v3m5-3v8m5-46v6m2-66v3m0 72v6m5 60v8m5-94v5m2 15v6m5 45v6m5-72v6m2 20v6m5-6v6m5-14v5m2-71v3m0 94v3m5-43v6m2 8v3m5-71v2m0 41v2m5-31v3m0 60v3m2 0v6m5-23v5m5-34v6m2 11v3m5 9v8m5-63v3m0 109v3m2-115v3m0 23v6m5 43v11m0 72v9m5-101v3m2-43v3m0 3v8m10 32v3m14-58v3m5-20v9m2 126v3m5-12v3m7-112v3m10 78v3m2-95v3m10-3v14m2 9v6m5-18v6m7-31v5m5 29v3m12-3v3m2-32v3m60 278v3m5 20v15M492 0v2m2 304v3m5 26v2m5-91v3m0 88v29m7-54v5m5-68v2m2-11v3m0 34v3m5 37v3m5-63v3m2 14v6m0 17v3m5-46v9m5-29v6m2-32v6m0 123v3m5-129v6m5-11v5m2-26v6m7-40v3m5 17v3m5-23v3m0 158v2m2-295v3m0 120v3m10 17v3m0 104v2m7-157v3m5-117v2m0 109v11m0 12v3"/>
<path stroke="#2f698d" d="M1 220v3m5-89v6m5-49v6m2 0v5m5 32v3m5-6v6m2-127v3m0 112v3m5-118v3m0 112v6m5-121v3m0 115v3m2 34v6m5-37v6m2-18v9m5 0v6m5-55v9m2-9v6m5-6v6m5 0v6m2-84v3m0 101v5m5 3v6m5-6v3m2 58v2m5 32v23m5-109v6m2-35v6m5-9v6m5-6v6m2-17v9m5 20v5m2 0v6m5-6v3m5 6v6m2-3v6m5-58v6m5-9v6m2 6v6m5 25v3m5 3v3m2 9v2m5-37v6m5-12v9m2-17v6m5 20v5m5 12v3m2 5v6m5-63v6m5 28v3m2 6v6m5-126v2m0 141v11m2-34v9m5-29v6m5 8v3m2 20v3m5-31v8m5-11v5m2-2v5m5 0v9m5-115v3m0 9v3m0 51v6m2 9v5m5 63v9m5-98v6m2 15v5m5 46v6m5-72v6m2 20v3m5-3v9m5-18v6m2 23v3m5-40v6m2 5v6m5-32v9m5 26v3m2 3v11m5-29v3m5-51v2m0 18v5m2 9v6m5 11v9m5 43v3m2-101v3m0 12v3m5-15v3m0 63v12m0 51v9m0 9v2m5-100v6m2-35v9m5 100v3m5-77v3m7-41v9m2-6v3m10-34v8m2 23v3m10 6v20m2-49v6m10 75v2m2-94v5m10 6v15m2 0v2m5-14v3m7-29v3m5 29v6m0 43v2m12-51v3m2-32v3m10-42v2m2-2v2m17 330v3M461 2v3m2 8v3m5 278v3m7 17v3m5 12v11m2 6v3m12-46v3m5 26v3m5-15v17m7-28v3m5-66v3m2-12v3m5-26v3m5 37v3m2 12v5m0 61v2m5-88v5m5-23v3m2-31v5m5-5v8m0 141v3m5-158v9m2-23v2m5-80v3m2 40v3m0 186v3m5-175v6m5-23v3m2-11v2m5 138v3m7-198v3m5 100v3m0 49v3m5-149v17m0 26v3"/>
<path stroke="#2f6a8d" d="M1 5v3m0 215v3m5-86v8m5-51v5m2 0v6m5 29v5m5-5v5m2-14v3m5 0v3m5-3v3m2 37v6m5-37v5m2-14v6m5 0v5M54 8v2m0 81v6m2-9v6m5-6v6m5 0v5m2 20v6m5 3v6m5-9v3m2 57v6m10-54v5m2-34v6m5-104v3m0 92v9m5-9v9m2-17v5m5 20v6m2 0v3m5-6v6m5 6v3m2-140v2m0 138v5m5-132v3m0 72v6m5-9v6m2 6v8m5 20v6m5 0v3m2 8v6m5-37v8m5-11v6m2-17v5m5 20v3m5 12v5m2 6v3m5-60v6m5-75v3m0 97v6m2 6v6m5 22v15m2-40v5m5-28v5m5 6v6m2 17v6m5-29v6m5-12v6m2-3v6m5-100v3m0 100v9m5-52v6m2 8v6m5 66v9m5-101v6m2 14v6m5 46v6m5-72v6m2 17v6m5 0v8m5-89v3m0 66v6m2 20v3m5-37v5m2 6v3m5-26v6m5 23v5m2 9v9m5-35v6m5-32v6m2 9v6m5 14v6m5 40v3m2-86v5m5-37v3m0 92v20m0 20v11m0 20v3m5-97v3m2-29v6m10 23v2m7-45v2m0 9v9m2-43v2m10 3v3m2 118v3m5-12v3m5-63v11m7-48v3m5 2v3m2-26v3m10 18v11m2-9v3m5-14v6m5-69v20m2 17v6m5 29v2m7-74v17m5 52v5m2-34v3m17-43v14m5-14v11m14-13v2m10 3v3m14 304v2m5 3v12m2 14v3m12-46v3m5 26v3m5-23v11m2 32v14m5-63v6m5-66v3m0 51v3m2-66v3m5-26v3m5 35v5m2 9v6m0 31v3m5-63v9m5-23v5m2-34v6m5-6v6m5-12v6m0 138v2m2-157v3m7-38v3m0 152v3m5-141v3m5-20v3m7-74v2m0 72v3m5-72v3m2 89v3m10-100v20"/>
<path stroke="#2e6b8e" d="M1 226v5m5-83v6m5-52v9m2-3v9m5 25v3m5-3v6m2-17v6m5-3v3m5-3v6m2 37v6m5-38v6m2-14v5m5 0v6m5-51v5m2-8v8m5-8v5m5 0v6m2 20v6m5 3v6m5-12v6m2 57v3m5 80v3m5-135v6m2-34v8m5-8v5m5-109v3m0 101v5m2-17v6m5 20v6m2-3v6m5-6v3m5 6v5m2 0v3m5-54v8m5-11v8m2 6v6m5 20v6m5-3v6m2 8v6m5-35v6m5-11v5m2-17v6m5 17v6m5 11v3m2 6v6m5-60v5m5 26v3m2 9v2m5 35v17m2-52v9m5-32v6m5 6v3m2-124v3m0 141v3m5-26v9m5-15v3m2 0v3m5 9v8m5-54v5m2 9v6m5 69v8m5-103v6m2 14v6m5 46v5m5-71v5m2-66v3m0 81v2m5 6v6m5-20v3m2 20v6m5-38v6m2 3v6m5-26v6m5 22v3m2 15v8m5-37v3m5-29v9m2-40v2m0 44v5m5 15v8m5 35v2m2-83v6m5 72v20m0 34v3m5-97v2m2-57v3m0 29v8m5 89v3m5-75v6m2-54v11m5 12v5m2-17v3m10-6v3m7-17v3m0 103v3m5-55v15m2-69v3m5 23v6m5 45v3m2-89v6m10 23v3m2-9v3m5-11v5m5-54v11m2 12v3m5 28v3m5-79v2m2 17v12m5 45v3m2-34v3m5-46v8m12 6v9m5-12v9m2 344v3m5-40v3M461 8v2m0 356v3m2-353v3m5 273v2m7 15v3m5-3v8m7 46v3m7-69v3m5 26v3m5-32v12m2 31v12m5-52v3m5-63v3m2-12v3m5-26v3m0 75v3m5-43v3m0 48v3m2-43v6m5-29v6m5-20v6m0 134v3m2-172v6m5-6v6m0 152v3m5-169v8m2-17v6m7-38v3m5 15v2m0 164v3m5-60v2m2-249v3m0 112v3m10 20v2m12-123v35m0 66v2m0 81v3"/>
<path stroke="#2e6c8e" d="M1 231v3m5-80v6m5-49v6m2 0v5m5 23v6m5-3v6m2-17v3m5-3v5m5-2v2m2 41v2m5-34v9m2-18v6m5 0v6m5-52v9m2-9v6m5-9v9m5-3v9m2 17v6m5 3v2m5-8v3m2 57v6m10-52v3m2-29v9m5-12v9m5-128v2m0 117v9m2-20v6m5 20v6m2-3v3m5-6v3m5 8v3m2 0v6m5-52v6m5-106v3m0 94v6m2 6v6m5 20v3m5 0v2m2 12v3m5-32v9m5-129v3m0 111v9m2-20v6m5 17v3m5-129v3m0 137v6m2 6v5m5-60v9m5 20v6m2 5v6m5 46v37m2-80v6m5-32v6m5 3v6m2 17v3m5-20v8m5-135v3m0 112v6m2-3v6m5 11v12m5-61v9m2 6v5m5 72v6m5-103v5m2 15v5m5 46v6m5-72v6m2 14v6m5-92v3m0 95v9m5-112v3m0 83v5m2 21v2m5-34v6m2 3v2m5-77v3m0 52v5m5 20v6m2 17v12m5-46v6m5-26v6m2 5v6m5 17v6m5 31v3m2-80v9m10 25v3m2-20v6m10 17v3m2-77v2m0 29v6m5 11v9m2-23v6m10-32v3m0 14v3m2 101v3m10-98v3m0 46v11m7-48v2m5 46v3m2-86v6m10 34v6m2-26v3m5-9v6m5-49v6m2 9v3m5 28v3m7-51v11m5 37v3m2-34v5m5-43v9m12 6v6m5-9v6m7 298v3M473 0v2m2 304v3m5-9v9m2 31v3m5 9v11m7-71v5m5 26v3m5-83v3m0 40v11m2 35v8m5-43v3m5-63v3m2-12v3m5-25v2m5 35v3m2 5v6m5-31v8m0 109v3m5-129v3m2-35v6m5-6v6m5-14v6m2-12v3m0 155v3m5-230v3m7 52v3m5-160v2m0 140v3m2 118v3m5-29v3m5-23v3m2-132v3m0 117v3m0 49v3m5-146v2m5-117v37"/>
<path stroke="#2e6d8e" d="M1 234v6m5-80v5m5-48v8m2-3v6m5 23v3M23 8v2m0 144v6m2-20v5m5-3v3m5-3v6m2 37v6m5-31v5m2-17v6m5 0v3m5-46v6m2-9v6m5-6v6m5 0v5m2 18v5m5-132v3m0 129v6m5-11v5m2 58v3m10-52v6m2-26v6m5-9v6m5-6v6m2-20v8m5-109v3m0 124v5m2-5v5m5-8v5m5 6v3m2 3v6m5-52v9m0 209v3m5-224v6m2 6v8m5 15v5m5-3v6m2 9v5m5-28v8m5-14v6m2-20v8m5 12v6m5 11v3m2 8v6m5-57v6m5 20v5m2-120v3m0 123v6m5 77v6m2-80v8m5-155v3m0 118v6m5-112v3m0 112v2m2 18v5m5-17v6m5-20v6m2-127v3m0 121v5m5 18v11m5-63v6m2 5v6m5 72v6m5-104v6m2 14v6m5-103v3m0 146v6m5-72v6m2 14v3m5 12v8m5-29v6m2 17v3m5-31v8m2-3v6m5-23v9m5 17v3m2 26v11m5-135v3m0 81v2m5-83v3m0 58v5m2 6v6m5-75v3m0 89v6m5 28v3m2-74v5m5 115v3m5-95v6m2-20v9m5 77v3m5-69v3m2-43v6m5-41v3m0 52v6m2-23v3m10-12v3m7 89v3m5-32v15m2-72v3m5 8v6m7-37v6m0 2v3m10 29v9m2-32v3m5-6v6m0 3v3m5-55v9m2 3v5m5 26v3m7-43v9m5 31v3m2-32v3m5-37v6m5-23v14m2-14v11m5 18v5m5-8v5m19-33v2m5 8v3m2 6v3m5 267v3m7 11v3m5-14v8m2 37v3m5 6v6m5-350v3m2 284v3m5 28v3m5-46v9m2 37v9m5-40v5m5-63v3m0 37v3m2-51v2m10 12v3m0 86v3m2-83v2m5-34v9m5-15v6m2-37v5m5-5v5m5-17v9m2-9v3m0 192v3m5-54v2m2-174v2m5 12v3m0 126v3m5-146v2m2-117v3m0 106v3m5 8v3m7 20v3m5 9v3"/>
<path stroke="#2d6e8e" d="M1 240v3m5-78v9m5-49v6m2-3v9m5 17v6m5 0v5M25 0v2m0 143v3m5-3v6m5-3v3m2 40v6m5-32v6m2-17v6m5-3v5m5-45v5m2-8v8m5-8v8m5-3v9m2 14v9m5-3v6m5-12v3m2 58v5m10-51v3m2-23v8m5-11v8m5-8v8m2-20v6m5 17v6m2-6v3m5-6v3m5 6v6m2 3v5m5-48v5m5-11v8m2 6v6m5-115v3m0 126v3m5-146v3m0 143v3m2-149v3m0 157v6m5-152v3m0 123v6m5-132v3m0 115v6m2-18v6m5 12v2m5 12v3m2 11v3m5-54v5m5 20v3m2 9v3m5 80v6m2-221v3m0 140v6m5-34v8m5-135v3m0 129v6m2-123v3m0 137v3m5-155v3m0 138v8m5-22v2m2 0v3m5 26v12m0 51v12m5-132v5m2 6v6m5 72v3m5-101v9m2 11v6m5 46v6m5-72v6m2 11v6m5-103v2m0 115v9m5-32v6m2 14v6m5-29v6m2-3v3m5-17v6m5 14v3m2-89v3m0 120v12m5-61v6m5-23v6m2 6v3m5 20v8m5 23v3m2-72v6m10 23v3m2-14v5m5-74v3m5 80v3m2-66v3m0 23v5m5-28v3m0 40v8m2-28v5m5-17v6m5-3v6m2 92v2m10-25v17m2-109v3m0 20v3m5 11v3m5 40v3m2-77v2m5 23v6m5 12v11m7-40v3m0 17v3m5-63v5m2 3v6m5 23v3m5-86v3m0 361v3m2-318v5m5 29v3m2-32v3m5-34v6m5-15v9m2-12v12m5 11v6m5-9v3m7 287v3m7-324v8m10 3v3m0 347v3m2-344v3m5 261v3m7 11v3m5-20v9m2 43v2m5 3v6m5-341v3m0 358v3m2-83v3m5 28v3m5-49v6m2-277v2m0 312v9m10-92v3m2-11v3m0 77v3m5-103v3m5 28v6m2 3v6m0 54v3m5-95v6m5-9v3m2-37v6m5-6v6m5-18v6m2-6v6m7-31v3m5 11v3m7 146v3m10-221v3m2 6v3m10 48v3"/>
<path stroke="#2d6f8e" d="M1 243v3m5-72v6m5-49v9m2-3v5m5 18v2m5 3v6m2-23v6m5-3v3m5-3v6m2 40v3m5-29v6m2-17v5m5-3v6m5-46v9m2-9v6m5-6v6m5 0v6m2 17v6m5-3v6m5-15v6m2 57v3m5 66v3m5-120v5m2-20v6m5-9v6m5-6v6m2-20v9m5 14v3m2-141v3m0 132v6m5-9v6m5 6v3m2 5v3m5-46v9m5-12v6m2 6v6m5 11v6m5-3v3m2 14v3m5-23v9m5-17v8m2-20v6m5-115v3m0 120v6m5 9v5m2-143v3m0 149v6m5-55v9m5 14v6m2 6v5m5-140v3m2 146v9m5-35v6m5-3v6m2 14v3m5-9v9m5-29v6m2-3v6m5 32v17m0 23v11m0 12v3m5-130v6m2 6v9m5 66v5m5-97v5m2 12v6m5 46v5m5-71v5m2 12v3m5-109v3m0 126v8m5-34v6m2 14v3m5-26v6m2-6v6m5-17v5m5 12v6m2 40v14m5-69v3m5-20v6m0 252v3m2-252v5m5 23v6m5 20v6m2-72v6m5 106v3m5-89v3m2-12v9m5 66v3m5-66v3m2-38v6m5 17v6m2-75v3m0 15v3m0 25v3m5-23v3m0 6v6m5-3v6m2-35v3m5 112v3m5-3v14m2-106v3m0 6v3m5 11v3m5 40v3m7-49v6m5 17v12m2-52v3m10-38v6m2 3v3m5 23v3m5-86v23m2 28v9m5 23v3m2-32v3m5-31v5m5-11v8m2-8v8m5 9v6m5-12v6m2 316v8M449 0v2m2 8v6m10 336v11m14-66v3m5-26v9m2 49v3m5 2v3m7-57v3m5 28v3m5-77v3m2 66v5m5-25v3m5-64v3m2-11v3m5-23v3m5 28v3m2 3v6m5-40v8m0 106v3m5-117v5m2-40v6m0 192v3m5-201v6m5-17v5m2-2v2m5-63v3m7 46v3m5-14v3m0 169v3m2-284v3m0 100v3m10 132v3m7-32v3m5-20v3"/>
<path stroke="#2c708e" d="M1 246v3m5-69v5m5-45v5m2-3v9m5 11v6m5 3v3m2-20v3m5-3v6m5-3v3m2 40v6m5-29v6m2-18v6m5-3v6m5-43v9m2-12v9m5-9v9m5-3v8m2 15v5m5-2v5m5-14v3m2 57v3m10-49v6m2-20v9m5-12v9m5-9v9m2-20v5m5 12v6m2-6v3m5-6v3m5 6v5m2 3v6m5-172v3m0 126v6m5-124v3m0 109v9m2-132v3m0 132v8m5 9v6m5-6v6m2 11v6m5-20v5m5-14v6m2-149v3m0 126v8m5 6v3m5 11v3m2 12v6m5-52v6m5-129v2m0 141v3m2-146v2m0 152v6m5 75v3m2-66v5m5-163v3m0 126v6m5-3v3m2 14v6m5-6v6m5-29v6m2-3v3m5 46v23m0 26v2m5-126v9m2 6v5m5 66v3m5-95v6m2 12v3m5 48v3m5-69v6m2-103v3m0 109v5m5 23v9m5-37v5m2 12v3m5-23v6m2-6v3m5-15v9m5 9v2m2-109v3m0 158v14m5-80v6m5-20v8m2-86v3m0 83v6m5-77v2m0 98v6m5 20v3m2-69v6m10 17v3m2-6v6m10 0v5m2-37v9m5 14v9m2-35v6m5-32v3m0 15v5m5-2v2m2 86v3m5-8v3m5 8v6m2-100v2m5 12v3m5-23v3m0 60v3m7-60v2m0 12v3m5 26v8m12-89v6m2 0v6m0 28v3m5-11v3m5-66v11m2 26v6m5 20v3m2-32v3m5-29v6m5-9v6m0 327v3m2-336v9m5 6v5m5-11v6m2-48v2m0 350v6m5-38v3m5 43v3m2-353v6m10-6v3m0 327v6m2-327v3m5 255v3m5-284v23m0 341v3m7-100v5m2 55v3m5 0v5m7-57v3m5 26v5m5-77v3m2 34v3m0 26v6m5-23v3m5-63v2m2-11v3m5-23v3m5 26v5m2 0v6m5-40v6m5-3v3m0 132v2m2-175v6m5-6v6m5-17v6m2 0v3m5 183v3m2-212v3m5 8v3m5-146v3m0 129v3m7 5v3m5 12v3m2 5v3m5-49v3"/>
<path stroke="#2c718e" d="M1 249v5m5-69v6m5-46v9m2-3v6M18 8v2m0 158v3m5 3v6m2-23v5m5-2v2m5-2v5M37 8v2m0 196v2m5-25v2m2-14v6m5-3v6m5-40v5m2-8v5m5-5v5m5 0v6m2 14v6m5-3v6m5-17v6m2-150v3m0 201v6m10-49v3m2-164v3m0 147v5m5-8v5m5-5v5m2-162v2m0 140v9m5-151v2m0 158v5m2-8v5m5-8v6m5 5v3m2-155v3m0 158v6m5-43v8m5-11v6m2 5v6m5 9v2m5-2v2m2 15v3m5-18v9m5-17v6m2-18v6m5-143v3m0 143v6m5-138v3m0 143v6m2 12v2m5-48v8m5 9v6m2 8v3m5 75v3m2-64v6m5-34v5m5-5v5m2 15v3m5-3v8m5-31v3m2-3v6m5 91v3m5-120v6m2 5v6m5 63v3m5-92v6m2 9v5m5 46v6m5-69v9m2 5v3m5 29v9m5-41v6m2 9v3m5-20v5m2-8v5m5-11v6m5 5v3m2 63v9m5-83v3m5-15v6m2 0v6m5 23v5m5 18v3m2-66v5m0 244v3m5-149v3m5-86v5m2-5v5m5 58v3m5-61v3m2-31v5m5 18v8m2-37v6m5-15v6m5-6v6m12 92v3m2-101v6m5-17v3m0 23v3m12-3v3m5-29v3m0 57v14m2-71v3m5 17v3m5-49v6m0 26v2m2-28v5m5 18v3m5-58v9m2 23v8m5 15v3m2-32v6m5-29v3m5-6v6m2-3v6m5 5v6m5-11v5m2 293v6m5-35v3m7-298v6m5-26v37m0 327v3m5-350v3m0 318v6m2-318v3m10-6v23m2 246v3m5-34v6m2 57v3m5 0v3m5-324v2m2 267v3m5 26v3m5-78v6m2 60v6m10-80v3m2-12v3m5-23v3m5 26v3m2 2v3m5-43v9m5-3v6m2-40v2m5-5v5m5-20v9m2 0v6m7-26v3M571 5v3m2 23v2m0 95v3m5-55v3m5 6v3"/>
<path stroke="#2c728e" d="M1 254v3m5-66v6M11 5v3m0 146v6m2-3v8m5 6v6m5 3v5m2-23v3m5-3v6m5-3v3m2 40v6M42 8v2m0 175v6M44 8v2m0 167v6M49 8v2m0 170v3m5-38v9m2-12v9m5-9v9m5-3v9m2 11v6m5-3v3m5-164v3m0 147v2m2 58v3m5-213v3m0 267v3m5-109v6m2-15v9m5-12v9m5-9v6m2-17v6m5 8v6m2-9v3m5-152v3m0 144v2m5 6v6m2 6v3m5-38v6m5-11v8m2 3v6m5-155v3m0 157v6m5-152v3m0 143v6m2-152v3m0 161v5m5-14v6m5-17v8m2-20v6m5 3v3m5 11v3m2 11v6m5-46v6m5 9v2m2 9v6m5 72v2m2-60v6m5-35v6m5-6v3m2 15v5m5 0v6m5-34v5m2-2v5m10-25v5m2 6v3m5 63v3m5-89v9m2-109v2m0 112v6m5 46v3m5-63v5m2 3v6m5 32v8m5-43v3m2-115v3m0 121v5m5-20v6m2-9v3m5-8v8m5 0v6m2 66v6m5-86v5m5-14v6m2 0v3m5 25v3m5 18v2m2-63v6m10-83v3m0 94v3m2-3v9m10-6v3m2-29v6m5 20v9m2-40v3m5-12v6m5-6v6m2 77v3m5-8v2m5 15v3m2-98v3m5 9v5m5 35v3m7-43v2m5 43v12m2-69v3m5-3v3m0 6v5m5-48v5m2 0v3m0 32v3m5-17v2m5-51v8m0 304v6m2-287v6m5 12v2m2-28v3m5-29v6m5-6v6m2-3v5m5 6v6m5-12v3m2 284v6m5-346v2m7 26v5m5 6v20m5 278v3m2-309v2m5 247v3m5-235v8m2 236v2m5-37v6m2 60v3m5-3v6m5 23v14m2-92v3m5 26v3m5-80v5m0 38v2m2 18v8m10-77v3m2-12v3m10 6v3m2 0v5m5-48v8m5 3v3m2-40v6m5-9v6m5-20v5m2 6v3m5-54v2m2 29v3m0 172v3m5-164v3m5-137v2m0 121v3m14-40v3m0 160v3m5-69v3"/>
<path stroke="#2b738e" d="M1 257v3m5-63v6m5-43v8m2-3v6m5 6v3m5 5v6m2-26v6m5-3v3m5-3v6m2 40v3m5-26v6m2-14v5m5-5v5m5-34v6m2-9v9m5-9v6m5 0v5m2 12v6m5-6v6m5-18v6m2 55v3M90 10v3m0 167v3m2-9v9m5-12v6m5-9v9m2-20v5m5 9v6m2-12v6m5-9v6m5-155v3m0 158v3m2 6v5m5-37v9m5-12v6m2 3v8m5 3v3m5-3v3m2 14v3m5-183v3m0 169v8m5-17v6m2-20v8m5-2v5m5 9v3m2 14v6m5-46v9m5 2v6m2 9v3m7 17v6m5-35v6m5-9v6m2 14v3m5 3v9m5-38v3m2 0v3m5 86v3m5-112v6m2 3v6m5 60v3m5-83v5m2 6v6m5 43v6m5-64v6m2 3v3m5 37v9m5-49v6m2 8v3m5-17v3m2-9v6m5-6v9m5-3v3m2 69v5m5-86v3m5-97v3m0 83v6m2-3v5m5 23v6m5 14v3m2-60v9m10 8v3m2 3v6m5 46v3m5-155v2m0 95v3m2-26v6m5 23v6m2-43v5m5-11v3m5-3v6m12 86v3m2-98v6m5-40v2m0 46v3m5 35v2m7-43v6m5 49v9m2-81v3m0 3v3m5 8v6m5-49v6m2-3v6m10-29v6m2 23v6m5 8v3m2-28v2m5-25v5m5-5v5m2-3v6m0 307v3m5-304v6m5-15v6m2 275v3m5-26v3m5-315v14m2 17v3m5 23v15m5-52v3m0 307v5m12-281v9m2 224v3m5-38v3m2 63v3m5-3v3m5-313v3m0 324v15m2-81v3m5 23v6m5-83v6m2-224v6m0 269v12m10-72v3m2-12v3m5-20v3m0 120v3m5-100v3m2-3v6m5-49v6m5 8v3m2-40v3m5-9v6m5-20v6m0 229v3m2-224v3m12-8v2m0 181v3m5-316v3m2 112v3m5 112v3m0 34v3m5-60v3m2-12v3m10-69v3"/>
<path stroke="#2b748e" d="M1 260v3m5-60v5m5-40v6m2-3v9m5 0v5m5 6v3M25 8v2m0 161v3M30 8v2m0 161v6m5-3v3m2 40v6m5-26v6m2-15v6m5-6v6m5-34v8m2-8v5m5-8v8m5-3v9m2 9v5m5-5v5m5-17v3m2 55v2m10-45v5m2-5v5m5-11v8m5-8v6m2-173v3m0 149v9m5 6v3m2-9v3m5-6v3m5 6v6m2 5v6m5-34v8m5-14v6m2 5v6m5 0v6m5-6v6m2 11v6m5-9v6m5-17v6m2-18v6m5-3v3m5 9v6m2 14v3m5-40v5m5 3v3m2 9v5m5 66v3m2-244v3m0 190v5m5-34v6m5-9v3m2 14v3m5 9v6m5-41v6m2-3v6m5-158v3m5 132v9m2 0v5m5-146v3m0 201v3m5-81v6m2 6v5m5 44v2m5-60v6m2 0v6m5 40v11m5-54v5m2 6v3m5-17v6m2-121v3m0 109v3m5 0v6m5-6v6m2 68v3m5-86v6m5-11v8m2-6v6m5 23v6m5-124v3m0 132v3m2-54v5m5 81v3m5-167v3m0 86v6m2 3v8m10-14v3m2-23v6m5 23v8m2-46v3m5-11v5m5-2v2m2 72v3m5-9v3m5 18v2m2-94v3m5 8v3m5 34v3m2-66v3m5 23v3m5-37v3m0 89v5m2-77v6m5 8v6m5-49v6m2-3v6m0 6v2m0 267v3m10-307v9m0 287v2m2-269v6m5 5v3m2-29v6m5-26v3m5-3v6m0 278v26m2-307v6m5 6v5m5-14v6m2-66v20m0 310v5m5-25v2m5-298v9m0 333v8m2-330v3m5 35v11m5-60v3m0 301v3m2-299v3m5 241v3m5-215v3m0 284v14m2-80v3m5-40v5m2 63v3m5-6v6m5 6v11m2-68v2m5 23v3m5-83v6m2-212v2m0 261v3m5-17v6m0 20v3m5-72v3m2-11v2m5-20v3m5 20v6m2-3v3m5-49v6m5 9v5m2-43v6m5-9v3m5-20v6m2 11v3m7-20v3m0 207v2m5-200v3m0 146v3m5-276v3m0 112v3m2-98v3m5 104v2m5 12v3m2 5v3m5-43v3m0 52v3m5 37v3"/>
<path stroke="#2a758e" d="M1 263v3M6 5v3m0 200v3m5-37v6M13 5v3m0 172v5m5 0v3m5 6v6m2-26v3m5 0v3M35 8v2m0 167v3m2 43v3m5-23v5m2-14v6m5-6v3m5-29v6m2-9v9m5-9v6M66 8v2m0 161v6m2 8v6m5-6v3m5-17v6m2 51v6m5 49v3m5-98v6m2-6v9m5-12v6m5-8v5m2-17v6m5 3v5m2-11v6m5-9v3m5 9v2m2 9v3m5-29v6m5-14v8m2 3v6m5 0v3m5-3v3m2 14v3m5-6v9m5-20v5m2-17v6m5-6v6m5 9v2m2 15v6m5-41v9m5-3v6m2 8v3m7 20v6m5-34v5m5-11v6m2 11v3m5 12v5m5-40v6m2-3v3m10-17v5m2 0v6m5 55v2m5-77v9m2 2v6m5 40v3m5-57v6m2 0v2m5 49v9m5-58v6m2 3v6m5-17v5m2-11v6m5 0v8m5-8v2m2 69v3m5-83v3m5-6v6m2-6v6m5 23v6m5 8v3m2-152v3m0 97v6m10 6v3m2 8v6m5 35v2m5-54v6m2-23v5m5 26v9m2-52v6m5-12v6m5-6v6m7 63v3m7-74v5m5 6v3m7-34v2m0 3v6m5 20v3m5 57v3m2-74v2m0 247v3m5-238v6m5-49v9m2-6v6m5 2v3m0 17v3m5-51v5m0 279v3m2-261v5m0 6v3m5-6v3m2-26v3m5-26v6m5-3v3m0 261v14m2-275v6m5 5v3m5-11v3m2-49v14m0 293v3m10-307v6m0 321v6m2-319v6m0 321v3m5-284v9m0 258v14m5-338v3m0 295v3m2-293v3m10 29v3m0 272v9m2-69v3m5-40v3m2 65v3m5-5v2m5-301v3m0 301v9m2-60v3m5 20v5m5-86v6m7 40v3m5-46v3m2-11v3m5-21v3m0 101v3m5-84v3m2-3v6m0 118v3m5-175v8m5 12v3m2-41v3m5-8v5m5-23v6m0 212v3m2-200v2m0 218v3m5-269v3m2 25v3m5 9v3m5-121v3m0 106v3m0 143v3m2-152v3m10-37v3m2 6v2"/>
<path stroke="#2a768e" d="M1 266v3m5-58v6m5-37v8m2-3v6m5-3v6m5 6v6m2-29v6m5-3v5m5-5v5m2 41v2m5-20v3m2-11v6m5-9v6m5-29v9m2-9v6m5-9v9m5-3v6m2 8v3m5-6v6m5-17v3m2 54v3m10-43v3m2 0v6m5-12v6m5-9v9m2-20v6m5 2v6m2-11v3m5-9v6m5 5v3m2 9v6m5-29v9m5-15v6m2 3v6m5-3v5m5-5v5m2 12v6m5-3v6m5-21v6m2-17v6m5-6v3m5 8v6m2 15v2m5-34v6m5-3v3m2 8v6m5 60v3m2-43v6m5-35v3m5-8v3m2 11v6m5 11v9m5-43v3m2-3v6m5 74v3m5-95v6m2 0v6m5 51v3m5-71v5m2 3v3m5 40v6m5-57v5m2-3v6m5 52v11m5-63v3m2 6v3m5-15v6m2-11v2m5 6v6m5-12v3m7-11v6m5-6v6m2-6v3m5 26v2m5 9v3m2-49v6m5-98v3m0 167v2m5-71v3m2 11v6m10-112v3m0 92v2m2-20v6m5 29v8m2-54v6m5-78v3m0 12v2m0 49v6m5-6v6m2 63v3m5-118v3m5 126v3m2-89v3m5 6v6m5 28v3m2-74v3m0 11v3m5 20v3m5 57v3m2-75v3m5 15v8m17-69v6m0 270v3m2-253v6m7-23v3m5-23v3m0 298v3m5-304v6m0 249v6m2-255v5m5 3v6m5-14v5m2-40v12m0 275v6m5-327v20m0 287v3m5-281v5m0 313v3m2-307v3m5 46v5m0 247v6m5-321v2m0 290v3m2-287v3m0 324v3m5-95v3m5-206v3m0 261v8m2-63v3m7 26v5m5-8v6m5 0v5m2-68v2m0 12v3m5 20v3m5-83v2m2-198v3m5 238v3m5-46v3m0 83v3m2-97v3m5-20v2m5 21v2m0 118v3m2-123v2m0 98v3m5-155v6m5 14v6m2-43v5m0 198v3m5-209v3m5-23v5m2 18v3m5 174v3m14-281v3m0 227v3m0 28v3m17-66v3"/>
<path stroke="#2a778e" d="M1 269v2m5-54v6m5-35v6m2-3v9m5-6v3m5 9v2m2-25v2m5 0v3m5-3v3m2 40v6m5-23v6m2-11v2m5-5v5m5-25v5m2-8v5m5-5v5m5-2v8m2 3v6m5-6v6m5-20v3m2 54v3m10-43v6m2 0v5m5-11v9m5-9v6m2-20v8m5 0v3m2-11v5m5-8v3m5 5v6m2 9v3m5-23v5m5-14v9m2 0v5m5-3v3m5-3v3m2 15v3m5 0v5m5-20v6m2-17v5m5-8v3m5 11v3m2 14v3m5-31v5m5-5v5m2 9v3m7 23v6m5-38v6m5-11v5m2 12v3m5 17v6m5-201v3m0 152v5m2-2v2m10-14v6m2-149v3m0 146v6m5 48v3m5-69v6m2 0v6m5 40v3m5-55v6m2-3v3m5 60v15m5-75v6m2 3v3m5-12v6m2-15v6m5 6v6m5-15v6m2 63v3m5-77v2m5-2v5m2-8v5m5 23v6m5 6v3m2-46v6m10 0v2m2 15v6m5-121v3m0 143v3m5-49v3m2-17v6m5 31v9m2-57v3m5-9v3m5-3v3m7 57v3m7-123v3m0 51v6m5 6v3m5 28v3m2-60v6m5 17v3m5-40v2m0 95v3m2-75v3m5 20v6m7-37v3m0 229v9m10-273v6m7 20v3m2-23v3m5-23v6m5-3v5m0 241v3m2-244v6m0 273v11m5-281v6m5-15v6m0 284v3m2-321v8m0 264v3m5-301v11m5 3v3m0 304v6m2-301v3m5 48v6m0 235v6m5-313v3m0 281v6m2-281v3m5-45v2m0 269v3m5-200v2m0 253v6m7-92v3m2 60v3m5-6v3m5-290v3m0 287v6m2-52v3m5 20v3m5-83v3m2-193v3m5 233v2m5-45v2m2-11v3m0 80v3m10-83v6m0 94v3m2-103v6m5-58v6m5 17v3m0 184v2m2-226v3m5-9v6m5-23v3m2 20v3m7-18v3m5 9v3m5-115v3m0 100v3m12 138v3"/>
<path stroke="#29788e" d="M1 271v3m5-51v3m5-32v6m2 0v6m5-9v3m5 8v6m2-29v6m5-3v3m5-3v6m2 40v3m5-20v3m2-12v6m5-6v3m5-23v9m2-12v9m5-9v6m5 0v6m2 3v6m5-6v3m5-20v5m2 52v3m5 43v3m5-86v3m2 2v9m5-11v5m5-8v5m2-17v6m5-3v6m2-12v3m5-8v5m5 6v3m2 9v5m5-23v9m5-14v5m2-175v3m0 172v6m5-6v6m5-6v3m2 15v5m5 0v9m5-23v6m2-187v3m0 166v6m5-11v5m5 9v3m2 14v6m5-32v6m5-6v3m2 9v6m5 54v3m2-34v2m5-34v6m5-12v3m2 12v3m5 20v5m5-46v3m2-3v6m5 69v3m5-86v6m2 0v2m5 49v3m5-66v6m2 0v6m5 37v3m5-52v6m2-6v3m5 72v14m5-227v3m0 141v3m2 3v2m5-8v3m2-12v3m5 9v8m5-17v3m2 63v3m5-78v6m5-3v6m2-9v3m5 26v3m7-141v3m0 104v5m5 63v3m5-69v6m2-120v3m0 132v5m5 23v3m5-49v3m2-14v6m5 34v12m2-66v5m5-11v6m5-6v6m2-64v3m0 118v3m5-6v3m5 14v3m2-83v3m5 6v2m5 29v3m2-57v5m5 15v3m5 57v3m2-75v3m5 23v6m7 180v9m0 9v11m5-244v3m5-37v6m0 255v3m2-227v3m7-37v6m5-23v5m5-3v6m0 46v3m0 183v3m2-235v3m0 255v15m5-264v6m0 269v3m5-287v3m2-29v9m0 249v6m5-287v9m0 264v3m5-270v6m0 295v3m2-292v5m5 49v3m0 229v3m5-304v3m0 275v3m2-272v3m10 28v3m0 244v6m2-52v3m5-40v3m2 60v3m5-9v6m5-284v3m0 278v6m2-52v6m5 17v6m5-83v3m7 43v3m12-69v3m5 14v3m2-3v3m5-58v6m5 20v3m2-43v6m5-9v3m5-23v6m2 17v6m0 198v3m12-207v3m5 175v3m2-190v3m5 15v3"/>
<path stroke="#29798e" d="M1 274v3m5-51v5m5-31v6m2 0v5m5-11v6m5 8v3m2-26v3m5-3v6m5-3v3m2 40v3m5-20v6m2-12v6m5-9v6m5-20v6m2-9v6m5-9v9m5-3v6m2 3v5m5-8v5m5-20v3m2 52v3m10-40v2m2 9v6m5-12v6m5-9v6m2-17v6m5-3v6m2-15v3m5-6v3m5 6v6m2 8v3m5-17v6m5-15v6m2 0v6m5-6v3m5-6v6m2 14v3m5 6v6m5-23v5m2-17v6m5-12v3m5 9v6m2-195v2m0 207v3m5-29v9m5-12v6m2 9v3m7 22v6m5-34v3m5-12v3m2 12v5m5 20v6m5-49v6m2-3v3m10-11v5m2-3v6m10-14v6m2 0v2m5 38v3m5-201v3m0 149v3m2-6v6m5 80v6m5-235v2m0 147v5m2 0v6m5-11v5m2-154v2m0 138v6m5 11v6m5-20v3m2 63v3m5-75v3m5 0v6m2-12v6m5 23v6m5 0v3m2-38v6m10-3v3m2-112v3m0 126v9m10-29v3m2-11v5m5 41v11m2-161v3m0 86v3m5-8v2m5-80v3m0 75v5m12-63v3m0 129v3m2-83v3m5 5v3m7-23v3m5-40v3m0 52v2m5 58v3m2-75v6m5 23v5m7 173v2m10-243v3m0 249v3m7-238v3m2-17v2m5-20v3m5 0v3m0 227v2m2-229v6m0 238v11m5-243v2m5-14v6m2-26v6m0 241v2m5-272v6m0 255v3m5-261v6m0 286v3m2-284v3m0 301v6m5-258v3m0 221v5m5-298v3m0 270v2m2-266v3m5 218v2m5-192v3m0 235v6m2-49v3m5-40v3m2 60v3m5-303v2m0 292v3m5-3v6m2-49v3m5 20v3m5-80v3m2-184v3m0 232v3m5-14v6m5-43v3m2-12v3m0 103v3m5-126v3m5 14v3m2-6v6m5-57v2m5 20v6m2-43v3m5-9v6m5-26v6m2 20v3m5-37v3m2 23v2m5 6v3m5-106v3m2 14v3m5 37v3m5 9v3m2 5v3m0 58v2m0 92v3m5-132v3m5 20v3"/>
<path stroke="#287a8e" d="M1 277v6m5-52v9m5-34v14m2-9v12m5-17v5m5 6v9m2-32v9m5-6v9m5-9v9m2 34v9m5-23v8m2-14v8m5-11v6m5-20v11m2-14v14m5-14v11m5-8v11M68 8v2m0 201v9m5-12v9M78 0v2m0 189v9m2 46v5m5 38v3m5-84v9m2 6v11m5-17v11m5-14v12m2-23v11m5-8v8m2-20v9m5-12v9m5 3v5m2 6v9m5-20v14m5-23v12m2-6v11m5-14v9m5-9v6m2 11v9m5 3v11m5-29v12m2-23v11m5-20v9m5 6v5m2 12v8m5-28v11m5-17v9m2 3v8m5 46v3m2-29v9m5-40v11m5-20v9m2 8v6m5 20v12m5-55v6m2-6v9m5 60v3m5-78v12m2-9v9m5 37v6m5-60v11m2-9v9m5 32v5m5-51v11m2-11v8m5 78v5m5-86v9m2-3v6m5-12v9m2-17v6m5 11v14m5-31v8m2 58v3m5-75v9m5-3v11m2-17v9m5 20v8m5-5v5m2-37v9m5 51v3m5-63v6m2 20v9m5 8v3m5-46v9m2-127v3m0 109v12m5-109v3m0 146v23m2-92v9m5-15v12m5-9v6m2 49v6m5-9v6m5 14v3m2-83v8m0 221v3m5-224v6m5 23v6m2-55v9m5 8v9m5 52v3m2-72v6m5 22v12m5 192v3m2-252v8m0 207v3m5-233v3m0 20v6m5-34v8m0 238v3m2-235v3m0 8v3m0 3v6m5-6v3m2-32v6m5-23v9m0 264v11m5-281v12m0 43v2m0 167v3m2-221v8m0 218v12m5-230v12m5-20v8m0 250v17m2-295v11m0 221v9m5-264v11m0 241v3m5-252v5m0 276v5m2-278v6m0 281v14m5-249v6m0 206v9m5-290v6m0 258v6m2-261v5m0 284v26m5-364v11m0 253v3m5-187v3m0 221v11m2-317v2m0 267v5m5-274v2m0 232v3m2-237v2m0 290v8m5-14v8m5-272v3m0 258v11m7-28v8m5-83v6m2-178v3m0 221v8m5-17v6m0 23v3m0 14v3m5-86v6m0 74v3m2-92v6m5-20v3m5 8v9m2-9v6m5-60v9m0 180v3m5-166v5m2-43v6m5-11v5m5-28v8m2 20v6m5 215v3m2-229v3m0 189v3m5-187v3m5-100v3m0 91v3m2-80v3m0 72v2m5 124v3m5-95v3m0 69v3m2-12v3m5-43v3m0 17v3m5 17v3"/>
<path stroke="#287b8e" d="M1 283v3m5-46v3m5-23v6m2-3v5m5-17v6m5 9v5m2-28v3m5 0v2m5-2v2m2 41v2m5-17v3m2-9v3m5-8v5m5-14v9m2-9v6m5-9v6m5-3v6m2 0v3m5-6v3m5-20v6m2 45v3m10-37v6m2 11v6m5-12v6m5-8v5m2-17v6m5-6v3m2-14v5m5-8v3m5 5v6m2 9v3m5-9v6m5-17v5m2 0v6m5-11v2m5-5v5m2 15v3m5 11v6m5-23v6m2-18v6m5-17v3m5 8v6m2 14v3m5-20v6m5-14v3m2 8v3m5-207v3m0 250v3m2-23v3m5-32v3m5-14v3m2 11v3m5 29v5m5-54v6m2-3v3m10-6v3m2-3v6m5 37v3m5-52v6m2-6v6m5-169v2m0 198v3m5-43v6m2-9v3m10 3v3m2 0v3m5-6v6m2-17v5m5 20v6m5-181v3m0 149v3m7-8v3m5 5v6m2-14v3m5 25v3m5-3v3m2-31v5m5-140v3m5 129v3m2 26v5m5 6v3m5-40v3m2-118v3m0 109v6m5 57v3m2-86v5m5-8v3m5-6v6m14-12v3m5 3v6m0 209v3m5-290v3m0 98v3m2-49v3m5 14v3m7-55v3m0 38v2m0 221v3m5-192v6m5-66v5m2 6v3m0 201v3m5-201v3m5 206v3m2-209v6m7-35v3m5-17v3m0 258v3m5-258v2m0 207v3m2-210v6m0 207v5m5-206v3m0 244v8m5-267v6m0 232v12m2-267v6m0 212v3m5-244v6m0 232v3m5-244v6m0 267v3m2-267v3m0 272v6m5-26v3m5-275v3m0 252v3m2-250v3m0 273v8m5-327v12m0 238v3m5-181v3m0 215v3m7-75v3m2 55v3m5-9v3m5-261v3m0 249v6m7-20v3m7-26v3m5-12v3m5-40v3m2-12v3m5-17v3m5 9v2m2-5v5m5-60v6m5 20v6m2-40v2m5-11v6m5-29v6m2 26v2m5-31v3m2 20v3m10 3v2m7 15v3"/>
<path stroke="#277c8e" d="M6 243v6m5-23v5m2-3v6m5-17v3m5 11v3m2-28v5m5-3v3m5-3v6m2 37v3m5-17v6m2-12v6m5-9v3m5-8v5m2-8v6m5-9v6m5-3v6m2-3v5m5-8v3m5-17v2m2 46v3m10-34v3m2 14v6m5-12v6m5-9v3m2-14v6m5-9v3m2-12v3m5-8v5m5 6v3m2-215v3m0 221v2m5-5v5m5-17v6m2 0v3m5-12v6m5-6v3m2 15v2m5 15v6m5-23v2m2-14v3m5-17v6m5 8v3m2 14v3m5-17v6m5-204v3m0 184v2m2 9v3m7 26v5m5-34v6m5-17v5m2 9v3m5 31v3m5-51v2m2-183v3m0 178v2m5 58v3m5-66v5m2-2v2m10-8v6m2-6v3m5 31v3m5-40v3m2-9v3m5 77v3m5-77v6m2-3v6m5-6v3m2-15v3m5 23v6m5-32v3m2 55v3m5-66v5m5 6v6m2-17v5m5 23v3m5-172v3m0 166v3m2-29v6m5 43v3m5-57v5m2 26v6m10-34v2m2-2v5m5-132v3m0 184v3m2-84v3m5-8v5m5-5v3m2 46v2m5-5v3m5-135v3m0 146v3m2-75v6m5 3v3m7-23v5m5-48v3m0 57v3m5 49v2m2-66v3m5 35v5m5-66v6m2 3v6m5 0v3m7 3v2m0 224v3m5-238v3m2-26v6m5-20v5m0 247v6m5-253v6m2 0v6m0 195v6m5-198v5m0 224v15m5-253v3m0 221v8m2-249v6m0 203v3m5-235v6m5-9v3m0 261v3m2-261v6m0 263v3m5-223v2m0 195v6m5-269v2m0 247v3m2-244v3m0 264v6m5-307v6m5 266v6m2-37v3m7 17v3m5-287v8m0 270v3m5-255v3m0 243v3m7-17v3m5-75v3m2-169v3m0 209v6m5-14v5m5-40v3m2-11v2m5-17v3m5 9v3m2-6v3m5-58v3m0 215v3m5-195v3m0 186v3m2-226v3m5-12v3m5-26v3m14 34v3m0 167v3m0 28v3m5-295v3"/>
<path stroke="#277d8e" d="M1 2v3m0 281v3m5-40v2m5-20v3m2 0v3m5-17v3m5 11v3m2-26v3m5-3v6m5-3v3m2 37v3m5-14v3m2-9v3m5-9v3m5-6v6m2-8v5m5-8v5m5-2v5m2-3v3m5-8v5m5-20v3m2 46v3m5 32v2M90 0v2m0 224v2m2 18v5m5-11v6m5-12v6m2-14v2m5-218v3m0 207v6m2-15v3m5-6v3m5 6v3m2 8v6m5-6v6m5-17v6m2-3v6m5-12v3m5-6v3m2 14v3m5 18v2m5-23v6m2-17v6m5-17v2m5 9v3m2 14v3m5-14v5m5-20v6m2 6v3m5 43v3m2-18v3m5-31v3m5-15v3m2 9v3m5 31v6m5-55v6m2-6v6m10-6v6m2-6v3m5 35v3m5-43v2m2-186v3m0 178v5m5 29v3m5-40v6m2-175v2m0 161v6m10 3v3m2-175v2m0 173v2m5-177v2m0 170v5m2-17v3m5 26v6m5-184v3m0 146v6m7-152v3m0 140v3m5 9v3m0 160v3m2-178v3m5 23v6m5-6v3m2-26v3m10-9v3m2 29v6m5-3v3m5-38v3m2 0v3m7-26v3m5-6v3m5-5v5m7 41v2m7-54v3m5 3v2m5 21v2m2-94v3m0 48v3m5 12v3m7-15v3m5 37v3m5-77v3m0 11v3m2 6v3m0 189v3m5-192v3m5-35v3m0 229v3m2-198v6m12-49v3m0 241v3m5-241v3m0 195v3m2-195v3m0 189v3m5-187v3m0 213v8m5-235v6m0 209v6m2-235v5m0 195v3m5-226v5m0 218v3m5-232v6m0 252v3m2-252v2m0 256v5m5-218v3m0 190v2m5-261v3m0 241v3m2-238v3m0 255v6m5-295v5m0 224v3m5-175v3m0 201v5m2-295v8m0 253v3m5-264v11m0 215v3m2-229v11m0 270v3m5-276v6m0 212v3m0 43v6m5-11v5m2-28v3m10-64v3m0 61v2m2-20v3m5-11v3m5-38v3m2-11v3m5-18v3m5 9v3m2-6v3m5-58v3m5 23v3m2-37v3m5-12v3m5-26v3m2 32v3m7-9v3m5 6v2m7-74v3m0 66v3m10-23v3m2 5v3m0 52v3"/>
<path stroke="#277e8e" d="M1 289v3m5-41v3m5-20v6m2-3v6m5-20v5m5 9v6m2-29v3m5 0v3m5-3v3m2 37v3m5-14v3m2-9v3m5-9v6m5-6v6m2-9v6m5-9v6m5-3v6m2-6v6m5-9v3m5-20v6m2 43v3m10-35v3M92 0v2m0 249v6m5-11v5m5-11v6m2-18v6m5-8v2m2-14v6m5-9v3m5 6v3m2 11v3m5-3v6m5-17v5m2-2v5m5-14v3m5-6v6m2 11v6m5 14v6m5-23v3m2-14v5m5-20v6m5 6v3m2 14v6m5-15v3m5-17v3m2 6v5m7 26v3m5-31v2m5-14v3m2 9v2m5 35v6m5-55v3m2-3v3m10-3v3m2-6v6m5 32v2m5-43v6m2-6v3m5 29v3m5-212v2m0 173v2m2-8v3m5 71v3m5-71v2m2 0v3m5-3v3m2-17v6m5 26v5m5-34v3m2 49v2m5-60v3m5 9v5m2-160v3m0 140v3m5 26v3m5-6v3m2-26v6m5 37v3m5-52v3m2 32v5m5-5v3m5-38v3m2 0v6m5 49v3m2-81v6m5-9v3m5-3v3m2 40v3m5-143v3m7 86v3m5 2v3m5 20v3m2-43v3m5 12v2m5 46v3m2-114v2m0 49v3m5 37v6m5-66v6m2 3v3m5 0v2m7 6v3m5-37v3m0 17v3m2-23v3m5-15v6m0 232v3m5-235v6m2 0v3m0 183v3m5-181v3m0 204v6m5-221v3m0 200v6m2-224v3m0 190v2m5-218v3m5-8v3m0 246v3m2-247v3m0 250v3m5-23v3m5-256v3m0 235v3m2-232v3m0 249v3m5-284v6m5 247v3m2-282v12m0 238v3m5-250v12m2-12v9m0 258v3m5-267v6m0 249v3m5-243v2m0 233v3m7-12v3m7-235v3m0 198v5m0 23v3m5-37v3m12 89v2m5-140v3m2-6v3m5-57v2m5 23v3m2-37v3m0 252v3m5-267v3m5-26v3m2 32v3m0 244v2m5-275v3m12-57v2m0 81v3m19 114v3"/>
<path stroke="#267f8e" d="M1 0v2m0 290v2m5-40v6m5-20v6m2-3v6m5-21v3m5 12v3m2-29v6m5-3v3m5-3v6m2 34v3m5-14v2m2-8v6m5-9v3m5-3v3m2-6v6m5-9v6m5-3v3m2-3v3M73 8v2m0 221v3m5-17v3m2 43v3m10-35v6m2 20v6m5-12v3m5-8v3m2-15v6m5-12v3m2-11v3m5-9v6m5-218v3m0 218v5m2 9v3m5 0v6m5-18v6m2-3v3m5-14v6m5-6v3m2-218v3m0 229v3m5 17v6m5-26v6m2-15v3m5-17v3m5-209v2m0 213v5m2 15v3m5-15v6m5-20v3m2 8v3m5 38v2m2-14v3m5-32v6m5-17v6m2-210v3m0 212v6m5 35v2m5-54v3m2-3v3m5 49v2m5-54v6m2-6v3m5 31v3m5-40v6m2-9v3m5 29v3m5-38v6m2-186v3m0 172v3m10 2v3m2-178v3m0 175v3m5-3v3m2-14v3m5 28v6m5-37v3m7-9v3m5 11v6m2-20v3m5 26v3m5-6v3m2-23v3m0 160v3m10-175v3m2 34v3m5-180v2m5 138v3m2 3v3m7-26v3m5-9v6m5-6v3m0 192v3m2-155v3m5-6v3m5 12v3m2-66v2m5 3v3m5 20v3m2-43v6m5 8v3m7-71v3m0 54v3m0 206v3m5-169v3m5-63v3m0 226v3m2-226v5m0 178v3m5-184v3m5-20v3m0 207v2m2-186v6m5-20v3m7-32v3m0 226v3m5-226v3m0 183v3m2-186v5m0 175v3m5-175v6m0 192v6m5-212v2m0 193v5m2-215v6m0 181v3m5-213v6m0 207v2m5-220v2m0 241v3m2-241v3m0 244v3m5-207v3m0 181v3m5-250v3m0 230v2m2-226v3m0 241v5m5-275v6m0 209v3m5-169v3m0 192v3m2-267v6m0 229v3m5-235v6m0 195v2m2-206v6m0 246v6m5-258v3m0 244v2m5-238v3m0 224v6m7-266v2m5-2v2m0 181v2m0 81v3m2-46v3m5-9v3m5-35v3m2-11v3m5-18v3m5 6v3m2-9v6m5-57v3m5 23v2m2-37v3m5-11v2m5-25v2m2 32v3m7-6v3m5-108v2m0 112v3m5 157v3m2 17v3m5-23v3m5-129v3m7-23v3m5 20v3"/>
<path stroke="#26808e" d="M6 260v3m5-17v5m2-2v2m5-20v3M23 5v3m0 238v3m2-26v3m5-3v5m5-2v2m2 35v3m5-15v6m2-8v2m5-8v3m5-3v6m2-6v6m5-9v6m5-6v6m2-6v6m5-12v6m5-20v3m2 43v3m5 25v3m5-60v3m2 23v3m5-12v6m5-11v5m2-14v3m5-12v6m2-14v3m5-6v3m5 5v3m2 9v3m5 3v5m5-17v6m2-6v6m5-14v2m5-5v3m2 14v3m5 20v3m5-23v3m2-15v6m5-20v3m5 8v3m2 15v3m5-12v6m5-23v6m2 5v3m7 26v3m5-29v3m5-215v3m0 198v3m2 8v3m5 34v3m5-54v3m2-3v3m10 0v3m2-6v3m10-3v3m2-9v6m10-6v3m2-11v5m5 66v3m5-69v6m2-3v3m5-3v6m2-17v3m5 31v6m5-40v3m2 45v3m5-57v6m5 11v3m2-20v6m5 23v2m7-25v5m5 32v3m5-49v3m2 34v6m5-11v2m5-34v3m2 3v6m5 43v2m2-74v3m5-6v3m5-103v2m0 95v6m2-112v3m5 143v3m7-52v6m5 0v3m7-17v3m5 8v3m7-14v3m5 40v6m5-66v3m0 220v3m2-218v3m5-3v3m5-26v3m0 3v6m0 198v3m2-178v3m0 192v14m5-226v2m7-31v3m0 221v2m5-220v2m0 6v3m2-6v3m0 169v3m5-166v3m0 183v6m5-204v6m0 181v6m2-204v3m0 175v3m5-204v3m0 201v3m5-216v3m0 235v3m2-235v3m0 235v6m5-26v6m5-244v3m2 6v3m0 235v3m5-264v5m0 201v3m5 23v6m2-258v5m5-2v5m2-8v3m0 240v3m5-249v3m0 238v3m5-12v3m14-232v3m0 186v6m5-9v3m5-34v2m2-11v3m5-17v2m5 6v3m2-9v3m5-54v3m5 20v6m2-38v3m5-11v3m0 258v3m5-287v3m2 31v3m5 209v3m12-209v3m7-32v3m0 46v3m5 126v3"/>
<path stroke="#26818e" d="M1 294v3m5-34v3m5-15v3m2-3v6M18 5v3m0 226v3m5 12v2m2-25v2m5 0v3m5-3v3m2 35v3m5-12v3m2-9v3m5-8v3m5 0v5m2-5v2m5-5v5m5-5v5m2-5v3m5-9v3m5-20v3m2 43v2m10-31v3m2 23v5m5-11v6m5-12v3m2-14v6m5-12v3m2-230v3m0 213v2m5-5v3m5 5v3m2 9v6m5 2v6m5-17v3m2-3v3m5-230v3m0 212v3m5-5v2m2 15v3m5 20v5m5-25v5m2-14v3m5-20v3m5 8v3m2 15v2m5-8v3m5-20v2m2-209v3m0 212v3m5 34v3m2-11v3m5-29v3m5-14v2m2 9v3m5 34v3m5-54v5m2-5v5m5 43v3m5-48v5m2-8v5m5-200v3m0 223v3m5-34v5m2-8v3m5 23v3m5-32v6m2-12v3m10 3v3m2-3v3m5 0v3m2-17v2m5 35v3m5-40v2m2 46v3m5-54v3m5 11v3m2-17v3m5 22v3m5-8v3m2-18v3m10-14v3m2 37v3m10-43v3m2 6v2m7-28v3m5-6v3m5-3v3m2 34v3m10 9v2m2-60v3m0 192v3m5-195v3m5 17v3m2-37v3m5 8v3m5 40v3m2-57v3m5 43v3m5-66v2m0 216v2m2-212v6m5-6v3m5-17v3m2 23v2m0 181v9m5-210v3m2-14v3m5-20v3m0 215v3m5-216v6m0 172v3m2-175v3m0 164v2m5-160v3m0 177v3m5-192v3m0 175v3m2-195v3m0 169v3m5-198v6m5-15v3m0 230v2m2-229v3m0 229v3m5-195v3m0 169v3m5-235v3m0 221v3m2 11v6m5-256v3m5 38v3m0 180v3m2-247v6m0 215v3m5-221v6m0 181v3m2-195v5m0 233v2m5-243v3m0 232v3m5-230v3m0 215v3m12-77v3m2 31v3m5-6v3m5-34v3m0 109v2m2-123v3m5-17v3m0 132v2m5-129v3m2-8v2m0 147v3m10-181v3m2-35v3m5-11v3m5-26v3m0 269v3m2-241v3m7-3v3m0 227v3m5-224v3m5-81v3m0 267v3m2-258v3m0 60v3m12 137v3"/>
<path stroke="#25828e" d="M1 297v3m5-34v3m5-15v6m2-3v3m5-23v3m5 11v6m2-29v3m5 0v3m5-3v3m2 35v2m5-11v3m2-9v3m5-8v5m5 0v6m2-9v6m5-6v3m5-3v3m2-5v2m5-8v3m5-20v5m2 40v3m10-31v3m2 25v6m5-11v3m5-12v6m2-14v2m5-11v3m2-15v6m5-8v2m5 6v3m2 12v2m5 6v6m5-20v6m2-6v6m5-18v3m5-6v6m2 12v3m5 22v3m5-23v3m2-14v3m5-20v5m5 6v3m2 14v3m5-8v5m5-23v3m2 6v3m7 26v3m5-29v6m5-18v3m2 9v3m5 34v3m5-52v3m2-3v3m10 0v3m2-215v3m0 206v3m10-3v3m2-8v3m5 23v2m5-28v3m2-12v3m10 3v3m2-3v3m5-187v3m0 184v3m2-18v6m5 32v5m5-43v6m7-178v3m0 167v2m5 12v6m2-20v2m5 23v3m5-8v2m2-17v6m5 26v3m5-46v3m2 37v6m5-18v3m5-31v3m2 5v6m7-31v5m5-8v5m5-5v3m7 31v3m7-135v3m0 86v3m5 0v3m0 186v3m5-172v3m2-115v3m0 75v2m5 9v3m7-14v2m5 44v2m5-109v3m0 40v6m2 6v3m0 163v3m5-172v3m5-17v3m0 189v3m2-170v3m0 175v3m5-198v3m7-31v2m12 190v5m5-186v3m0 166v6m2-189v5m0 161v3m5-189v3m0 189v3m5-207v6m0 221v3m2-224v3m0 223v3m5-23v3m5-229v3m0 215v3m2-215v2m0 224v3m5-247v6m0 189v3m5-157v2m0 175v3m2-238v6m0 206v3m5-212v6m0 172v3m2-187v3m0 227v3m5-238v2m0 224v6m5-224v3m0 207v5m2-28v5m12-200v2m0 178v3m5-8v5m5-34v3m2-12v3m10-9v3m0 158v3m2-169v3m0 169v3m5-224v3m5 17v3m0 224v3m2-261v2m5-11v3m7 8v3m5-20v3m0 252v3m14-71v2m12-166v3m5 63v3"/>
<path stroke="#25838d" d="M1 300v3m5-34v2m5-11v3m2-3v6m5-26v6m5 11v3m2-29v6m5-3v3m5-3v3m2 34v3m5-11v3m2-9v3m5-6v3m5 3v3m2-6v6m5-9v6m5-6v6m2-9v3m5-8v3m5-18v3m2 40v3m5 20v3m5-54v3m2 28v3m5-11v5m5-11v3m2-15v6m5-14v3m2-12v3m5-9v6m5 3v3m2 11v3m5 9v6m5-20v2m2-2v2m5-17v6m5-6v3m2 12v2m5 23v3m5-23v3m2-14v6m5-233v3m0 209v3m5 6v3m2 14v3m5-6v3m5-23v3m2 6v3m5 31v3m2-8v2m5-25v3m5-18v3m2 9v3m5 34v3m5-52v3m2-218v3m0 212v3m5 40v3m5-43v6m2-9v3m5 23v3m5-238v3m0 206v6m2-11v2m5 23v3m5-226v3m0 195v2m2-11v3m5 60v3m5-60v3m2-3v3m5 0v2m2-14v3m5 34v6m5-43v3m2 40v3m5-52v3m5 15v2m2-20v3m5 23v3m5-9v3m2-14v3m10-17v3m2 40v3m10-46v3m2 8v3m5 34v3m2-66v3m5-6v3m5-5v2m2 32v3m10 8v3m2-57v3m5 0v3m7-18v6m10 46v3m2-55v3m0 193v2m10-252v3m0 37v3m0 204v3m2-201v3m5-6v3m5-49v3m0 29v5m2 20v6m0 164v5m7-223v2m0 247v3m5-40v3m5-38v3m2-169v3m0 158v3m5 14v3m5-178v3m0 160v3m2-178v3m5-25v2m5-11v3m0 215v3m2-218v3m0 218v2m5-186v3m0 161v2m5-223v3m0 209v3m2-210v3m0 218v3m5-238v3m5 204v5m2-229v3m5 0v3m2-12v3m0 221v3m5-233v3m0 218v3m5-215v3m0 201v3m2-249v2m0 221v3m5-224v3m5-3v3m0 172v3m2 28v3m5-8v3m12-52v3m5 3v2m0 141v3m2-152v3m5-52v3m5 17v3m2-34v3m5-12v3m5-23v3m9 31v3m5 6v3m17-14v2m0 127v2m7-31v3m5 11v3"/>
<path stroke="#24848d" d="M6 271v3m5-11v6m2-3v3m5-23v3m5 11v3m2-26v3m5-3v3m5-3v6m2 31v3m5-11v3m2-9v6m5-9v3m5 3v6m2-6v3m5-6v3m5-3v3m2-9v3m5-8v2m5-17v3m2 40v3m10-31v2m2 29v6m5-12v3m5-11v3m2-12v3m5-14v5m2-14v3m5-6v3m5 3v6m2 8v3m5 12v2m0 52v3m5-75v6m2-6v3m5-14v3m5-238v3m0 229v3m2 11v3m5 23v6m5-26v3m2-11v2m5-20v3m5 6v3m2 14v3m5-6v6m5-26v3m2 6v3m7 25v3m5-25v2m5-238v3m0 218v3m2 9v3m5 34v3m5-52v3m2-3v3m10 3v3m2-9v3m5 23v3m5-26v3m2-12v6m5-209v3m0 226v3m5-29v3m2-11v3m10 3v2m2-2v2m5 0v3m2-14v3m5-181v3m0 215v6m5-46v3m7-9v3m5 14v3m2-20v3m5 23v3m7-20v3m5 23v3m5-43v2m2 41v2m5-20v3m5-28v2m2 9v3m7-29v3m5-123v3m0 114v3m5-6v3m7 29v3m0 146v3m7-192v3m5-104v3m0 101v3m5 14v3m2-32v3m5 3v3m5 189v3m2-204v3m5 40v3m5-60v3m0 198v3m2-195v2m0 155v3m5-163v3m5-15v3m0 178v3m2-158v3m0 158v3m5-187v3m0 215v3m2-235v3m5-18v3m0 204v3m12-26v3m5-172v3m0 155v2m2-172v3m0 152v3m5-181v3m0 181v3m5-195v3m0 209v3m2-212v3m0 212v3m5-23v3m5-218v2m0 204v3m2-204v3m0 212v3m5-232v3m0 181v2m5 15v3m2-221v3m0 198v2m5-200v2m2-11v3m0 215v3m5-227v3m0 212v3M499 5v8m0 218v6m5-232v8m2 20v3m0 170v2m5-8v3m5-29v3m2-12v3m5-17v3m5 3v3m2-9v3m10-32v3m2-34v3m0 249v3m5-264v3m7 12v2m0 236v2M566 2v6m5 28v3m0 69v3m2-60v2m5 193v3m7-95v3m0 60v3"/>
<path stroke="#24858d" d="M1 303v3m5-32v3m5-8v2m2-2v2m5-22v2m5 12v3M25 5v3m0 232v3m5-3v6m5-3v3m2 31v3m5-11v2m2-5v3m5-9v3m5 6v5m2-8v5m5-8v6m5-6v3m2-9v6m5-12v6M78 8v2m0 227v3m7 60v3m5-52v6m2 29v3m5-12v3m5-11v5m2-14v3m5-12v3m2-14v3m5-6v3m5 6v3m2 8v3m5 11v6m5-20v3m2-6v3m5-14v3m5-6v3m2 11v3m5 26v3m5-26v6m2-15v3m5-20v3m5 6v3m2 14v3m5-3v3m5-26v3m2 6v3m5 28v3m2-6v3m5-26v3m5-17v3m2-218v3m0 224v2m5 35v3m5-52v3m2-3v3m10 3v3m2-9v3m10 0v3m2-9v3m10-6v6m2-14v3m10 2v3m2-3v3m5 0v3m2-14v3m5 40v3m5-46v3m2 37v3m5-49v3m5 14v6m0 123v3m2-149v3m5 23v3m5-12v3m2-11v3m10-178v3m0 157v3m2 40v3m5-20v3m5-29v3m2 9v3m7-155v3m0 123v3m5-6v3m5-6v3m2 29v3m12-43v3m5-98v3m0 95v2m5 15v3m2-32v3m5 3v3m7-12v3m5 40v3m0 152v3m5-215v3m2 5v3m5-5v2m5-14v3m2 23v3m0 149v6m5-181v3m2-17v3m5 183v3m5-34v2m2-8v3m5 11v3m5-166v3m0 149v3m2-167v3m0 146v3m5-175v6m5-14v3m0 203v3m2-206v2m0 207v3m5-23v3m5-213v3m0 198v3m2-198v3m0 204v5m5-226v3m5 28v3m0 161v3m2-215v5m0 190v3m5-196v6m2-14v3m0 209v3m5-221v3m0 207v2m5-206v3m2 172v3m5-210v6m0 207v5m0 6v3m5-227v3m0 158v3m2 23v6m5-9v3m0 66v3m5-98v3m2-12v3m10-11v3m2-9v3m5-151v2m0 100v3m5 14v3m7-43v3m5-20v3m0 298v3m2-272v3m7 0v2m0 210v3m5-304v2m0 95v3"/>
<path stroke="#24868d" d="M1 306v3m5-32v3m5-9v3m2-3v3m5-23v3m5 12v3m2-26v3m5 0v3m5-3v3m2 31v3m5-12v3m2-5v2m5-8v3m5 8v3m2-6v3m5-5v2m5-5v5m2-8v3m5-9v3m5-20v3M80 8v2m0 270v3m10-26v3m2 29v3m5-12v6m5-12v3m2-14v6m5-15v3m2-14v3m5-244v3m0 235v3m5 6v2m2 9v3m5 14v6m5-23v3m2-6v6m5-17v3m5-6v3m2 11v3m5 26v3m5-23v3m2-15v3m5-20v3m5 6v3m2 14v3m5-3v3m5-26v6m2-236v3m0 236v2m7 26v3m5-26v3m5-17v3m2 8v3m5 35v3m5-52v3m2-3v3m5-218v3m0 249v3m5-34v3m2-9v3m5 20v3m5-23v3m2-9v3m5 17v3m5-23v3m2-14v2m5 55v3m5-55v3m2-3v3m5-201v3m0 198v6m2-17v3m5-193v3m0 230v5m5-48v3m2-184v3m5 172v3m5 17v3m2-201v3m0 175v6m5 20v3m5-12v3m2-11v2m5 21v2m5-40v3m2 40v3m10-204v3m0 155v3m2 9v5m5 26v3m2-60v3m5-6v3m5-6v6m7 23v3m5 8v3m2-51v2m5 0v3m7-14v3m5 3v3m5 34v3m2-49v3m0 181v3m10-201v3m0 189v3m2-187v6m5-66v3m0 54v3m0 201v3m5-218v3m0 169v3m2-149v3m0 143v3m5-172v3m2-17v2m5-5v3m0 180v3m12-26v3m5-160v2m0 144v3m2-161v3m5-23v3m0 169v3m5-186v2m0 198v3m2-201v3m0 201v3m5-175v3m0 149v3m5-207v3m0 192v3m2-192v3m0 198v3m5-218v5m0 170v3m5 11v3m2-207v3m0 184v3m5-187v3m2-14v3m0 203v3m5-215v3m0 201v3m5-201v3m0 175v2m0 15v3m2-29v3m5-201v3m0 201v3m5-210v3m2 17v3m0 158v3m5-6v3m5-29v3m2-11v2m0 121v3m0 11v3m5-152v3m5 0v3m2-9v3m5-49v3m0 221v3m5-209v2m2-31v3m12 0v3m5-15v3m7 210v2m7-186v3m5 17v3m5 14v3m7-17v3"/>
<path stroke="#23878d" d="M6 280v3m5-9v6m2-6v6M18 0v2m0 252v3m5 12v2m2-25v3M30 5v3m0 241v2m5-2v2m2 32v3m5-12v3m2-6v3m5-8v3m5 8v6m2-9v6m5-9v6m5-6v3m2-8v3m5-9v3m5-20v6m2 34v3M85 0v2m5 258v3m2 29v2m5-8v3m5-12v3m2-11v2m5-14v3m2-14v3m5-239v3m0 230v3m5 5v3m2 9v3m5 17v3m5-23v6m2-6v3m5-17v2m5-5v3m2 11v3m5 26v3m5-23v2m2-14v6m5-23v3m5 6v2m2 15v3m5-3v5m5-25v3m2 2v3m5 26v3m7-26v3m5-17v6m12-233v3m0 224v3m2-3v3m10-227v3m0 227v2m2-8v3m5 20v3m5-241v3m0 215v5m2-11v3m5 17v3m5-23v3m2-15v6m10 0v3m2-3v3m5 3v3m2-207v3m0 187v2m5 43v3m5-48v2m7-8v3m5 17v3m2-20v3m5 20v3m0 117v3m5-132v3m2-12v6m0 126v3m10-149v3m2 40v3m5-23v3m7-12v3m7-31v3m5-6v3m5-3v3m0 160v3m2-140v3m5-3v3m7-41v3m0 172v3m5-175v3m0 169v3m5-275v3m0 112v3m2-29v3m5 3v2m7-11v3m5 37v3m5-57v2m2 9v3m0 140v3m10-163v3m0 163v3m2-143v3m0 137v3m5-166v3m2-18v3m0 210v11m10-224v3m2 0v3m0 135v3m5-135v6m0 137v3m5-14v3m2-155v3m0 137v3m5-163v3m5-15v3m0 192v3m2-195v3m0 195v3m5-23v3m5-201v3m2 3v3m0 192v3m5-210v3m5 23v3m0 152v3m2-201v3m5 0v3m2-14v2m0 198v3m5-209v3m0 195v3m7-244v6m0 206v3m5-195v3m0 195v3m0 31v3m5-238v3m0 149v3m2 20v3m5-6v3m12-49v3m5 0v3m2-9v3m10-31v3m2-32v3m5-12v3m14 15v3m5-87v3m5 26v3m19 186v3"/>
<path stroke="#23888d" d="M1 309v3m5-29v3m5-6v3m2-3v3m5-26v3m5 11v3m2-25v2m5 0v3m5-3v3m7 23v3m2-6v3m5-8v2m5 12v3m2-6v3m5-6v3m5-6v3m2-8v2m5-8v3m5-17v2m2 35v3m5 14v3m5-43v3m2 28v6m5-11v3m5-12v3m2-12v3m5-14v3m2-14v2m5-5v3m5 5v3m2 9v3m5 17v6m0 37v3m5-63v2m2-5v3m5-18v3m5-241v3m0 233v2m2 12v3m5 26v2m5-23v3m2-11v3m5-258v2m0 233v6m5 2v3m2 15v2m5 0v3m5-25v2m2 3v3m7 23v3m5-23v3m5-14v2m2 3v3m5 35v2m5-48v3m2-3v3m5 31v3m5-32v6m2-11v3m10 2v3m2-226v3m0 212v3m5-218v3m5 212v3m2-12v3m10 0v3m2-3v3m5 3v3m2-213v3m0 192v3m5 43v6m5-52v3m2 32v3m5-43v3m5 17v3m2-20v2m5 21v2m7-17v3m5 14v3m5-37v3m2 40v3m10-49v3m2 14v3m7-31v3m5-6v3m5-3v3m2 23v2m10 6v3m2-49v3m5 0v3m5 12v2m2-28v3m5 2v3m5 172v6m2-189v3m5-83v2m0 3v3m5 57v3m0 181v3m2-175v3m5-12v3m5-11v3m2 23v2m0 132v3m5 40v6m2-238v3m0 14v3m0 201v6m5-215v2m0 175v3m5-31v3m2-144v3m5-14v3m0 152v2m5-14v3m2-149v3m5-23v3m0 160v3m5-178v3m2 0v3m0 189v3m5-166v3m0 140v3m5-195v3m0 183v3m2-183v3m0 186v3m5-204v3m0 161v3m5 8v3m2-195v3m0 175v3m5-178v3m0 149v3m2-167v3m0 193v2m5-203v3m0 189v3m5-192v2m2-45v11m5 6v3m0 189v3m5-198v3m2 14v3m0 149v3m5-6v3m0 86v3m5-115v3m2-11v3m10-15v3m2-8v2m5-45v2m5 12v3m7-40v2m5-17v3m2 26v3m12 11v3m0 212v3m5-215v3m2-55v3m12 52v3m10 43v3"/>
<path stroke="#23898d" d="M6 286v3m5-6v3m2-3v3m5-26v3m5 11v3m2-26v3m5 0v3M35 5v3m0 246v3M37 5v3m0 278v3m5-9v3m2-6v3m5-9v3m5 12v3m2-6v3m5-6v3m5-6v3m2-9v3m5-8v3m5-18v3m12 12v3m2 31v3m5-11v2m5-11v3m2-12v3m5-14v3m2-15v6m5-8v2m5 6v3m2 9v2m5 21v5m0 23v3m5-52v3m2-5v2m5-17v3m5-6v3m2 12v3m5 25v3m5-23v3m2-11v3m5-20v2m5 3v3m2 14v3m5 0v3m5-26v3m2 3v3m5-241v3m0 261v3m2-3v3m5-23v3m5-15v3m2 3v3m5 34v3m5-48v2m2-2v2m10 6v3m2-11v2m5 18v2m5-17v3m2-11v3m5 14v3m5-20v3m2-12v3m5 46v3m5-49v3m2-3v3m5 3v3m2-18v3m5 46v3m5-52v3m7-8v2m5 18v3m7 2v3m5-14v3m2-6v3m10-184v3m0 161v3m2 40v3m5-26v3m5-26v3m2 14v3m0 129v3m5-112v3m2-54v2m5-5v3m5-3v3m7 20v2m0 135v3m7-292v2m0 115v3m5 0v3m7-14v2m5-97v6m0 94v3m5 29v3m0 135v2m2-180v3m0 169v3m5-138v3m0 140v6m5-201v3m2 9v3m5-12v3m5-52v3m0 38v2m0 155v3m2-135v3m0 126v3m5-157v2m0 190v8m2-212v3m0 192v6m5-227v3m0 17v3m0 169v3m5-172v3m2-17v3m0 17v3m0 126v3m5-126v3m0 129v3m7-155v3m0 129v2m5-154v2m0 155v3m5-172v3m0 184v2m2 0v3m5-23v3m5-189v3m0 178v2m2 6v3m5-198v3m5 20v3m0 143v3m2-189v3m5 0v3m2-15v3m0 187v3m5-198v2m0 184v3m5-187v3m2-37v6m0 186v3m5-186v3m0 183v3m5-192v3m0 140v3m2 17v3m10-29v3m0 115v3m2-129v3m5-15v3m5-3v3m2-8v3m10-32v3m2-29v3m5-14v3m7 11v3m5-12v3m2 12v3m5-81v3m12 69v3"/>
<path stroke="#22898d" d="M1 312v2m5-25v3m5-6v3m2-3v3m5-26v3m5 11v3m2-26v3m5 0v3m5-3v3m2 29v3m5-9v3m7-12v3m5 12v5m2-8v6m5-9v3m5-6v3m2-9v3m5-8v2m5-17v3m2 32v3M85 8v2m5 259v2m7 23v3m5-11v3m2-12v3m5-14v3m2-12v3m5-9v6m5 3v3m2 8v3m5 23v6m0 14v3m5-46v3m2-6v3m5-269v3m0 249v3m5-6v3m2 12v2m10 6v3m2-11v2m5-20v3m5-238v3m0 238v3m7 17v3m5-270v3m0 241v3m2 3v3m12 3v3m7-9v3m10-12v3m2-3v3m10 6v3m2-12v3m10 3v3m2-11v2m5 15v3m5-20v2m2-11v3m10 0v3m2-3v3m5 3v2m2-17v3m5 46v3m5-52v3m2 29v3m5-41v3m5 18v2m2-23v3m5 23v3m5-14v3m2-6v3m10-20v3m2 40v3m10-49v3m2 14v3m7-32v3m5-5v2m5-2v2m2 20v3m12-37v3m10 11v3m2-26v3m10 164v6m7-6v8m5-192v3m0 172v3m2-166v3m0 129v2m5-143v3m0 189v3m5-204v3m2 147v2m5-197v2m0 43v3m0 181v6m2-201v3m0 186v3m5-198v3m5 0v3m0 135v3m2-135v3m5-9v3m0 9v2m0 124v3m5-147v3m0 132v3m2-140v2m0 3v3m5-29v3m5-14v3m0 178v3m2-184v3m0 181v2m5-157v3m0 131v3m5-183v3m0 172v3m2-175v3m0 177v3m5-192v3m0 152v3m5 6v2m2-183v3m0 166v3m5-169v3m2-15v3m0 181v3m5-193v3m5 167v3m2-201v3m0 180v3m5-180v2m0 178v3m5-186v3m2 154v3m5-3v3m12-48v2m5-2v2m2-8v3m5-43v3m5 8v3m2-29v3m12 273v3m12-259v3m7 190v2m10-195v3m7 66v3"/>
<path stroke="#228a8d" d="M6 292v2m5-5v3m2-3v3m5-26v3m5 11v3m2-26v3m5 0v3m5-3v3m2 29v2m7-14v3m5-6v3m5 14v3m2-5v2m5-8v3m5-6v3m2-9v3m5-9v3m5-17v3M80 0v2m0 290v2m5 12v3m7-6v3m5-9v3m5-11v3m2-12v3m5-14v2m2-269v3m0 255v3m5-6v3m5 3v3m2 8v3m5 26v9m0 2v3m5-40v3m2-6v3m5-17v3m5-6v3m2-247v3m0 255v3m5 23v3m5-20v3m2-12v3m5-20v3m5 3v3m2 11v3m5 3v3m5-26v3m2 3v3m5 20v3m2-3v3m5-20v2m5-17v3m2 6v3m5-244v3m0 272v3m5-46v3m2-3v3m5 26v3m5-23v3m2-12v3m5-235v3m0 246v3m5-14v3m2-238v3m0 223v3m10-3v3m2-11v3m10 0v3m2-3v3m7-12v3m5 46v3m5-52v3m7-9v3m5 17v3m2-23v3m5 129v3m5-315v2m2 190v3m5 8v3m5-31v2m7 15v3m5-184v3m0 158v3m2 14v3m7-32v3m5-6v3m5-3v3m7 17v3m0 129v3m5-126v3m0 126v3m2-172v3m0 158v2m5-163v3m0 158v2m7-172v3m0 175v3m5-178v3m5 29v3m0 123v3m2-169v2m0 164v3m5-6v6m5-181v3m0 166v3m2-160v2m5-71v3m0 238v8m5-198v3m0 146v3m2-129v3m0 118v3m5-147v3m0 172v6m2-192v3m0 178v5m5-28v2m5-163v3m2-12v3m0 12v3m5 2v3m0 118v3m5-12v3m2-135v3m0 121v3m5-147v3m0 146v3m5-163v3m0 172v3m2-178v3m0 175v3m5-23v2m5-177v3m2 0v2m0 172v3m5-186v3m5 17v3m0 135v3m2-178v3m0 160v3m5-163v2m2-14v3m0 175v3m5-12v6m5-181v3m2-31v5m0 198v3m5-201v3m0 172v3m0 29v3m5-212v2m2 9v3m0 138v2m0 84v2m5-271v2m0 181v2m5-25v2m2-11v3m10-17v3m2-9v3m10 206v3m7-275v3m5-15v3m2 23v3m5 250v2m7-321v3m5 23v3m12 212v3m2-11v2"/>
<path stroke="#228b8d" d="M1 314v3m10-25v2m2-2v2m5-25v2m7-11v3m5 0v3m5-3v3M42 5v3m0 278v3m2-6v3m5-6v3m5 14v3m2-6v3m5-8v3m5-6v3m2-9v3M73 0v2m0 272v3m5-17v3m12 8v3m2 32v3m5-9v3m5-11v2m2-11v3m5-15v3m2-11v3m5-6v3m5-253v3m0 253v3m7 43v2m5-34v3m2-6v3m5-17v3m5-6v3m2 11v3m5 23v3m5-20v3m2-12v3m5-20v3m5 3v3m2 11v3m5 3v3m5-26v3m2 3v3m7-250v3m0 267v3m5-279v3m0 255v3m5-17v3m2 6v3m10-12v3m2-3v3m10-235v3m0 238v3m2-12v3m10 3v3m2-12v3m5 12v2m5-17v3m2-11v3m5 40v3m5-43v2m2-2v2m5 0v3m2-14v3m5 46v3m5-52v3m2-207v3m0 230v2m5-37v3m5-198v3m0 212v3m0 101v2m2-126v3m5 20v3m5-14v3m2 109v2m10-132v3m2 38v2m10-45v2m7 32v3m2-49v3m5-6v3m5 144v2m2-129v3m12-34v3m5-3v3m5 8v3m2-23v3m5 0v3m0 169v3m5-23v3m2-164v3m5 32v3m0 117v6m5-172v3m2 132v3m5-138v3m0 172v6m5-187v3m2 20v3m5 143v3m2-183v3m0 172v3m5-187v3m0 158v3m5-158v3m2 3v2m0 115v3m5-115v3m5 103v3m2-120v3m5-32v3m5-14v3m0 166v3m2-172v3m0 169v3m5-23v3m5-172v2m0 164v3m2-167v3m0 167v2m5-180v3m0 143v3m5 3v3m2-172v2m5 0v3m2-14v3m0 169v3m5-184v3m5 161v3m2-190v3m0 170v2m5-172v3m0 167v2m5-175v3m0 129v3m7 12v3m5-26v3m2-12v3m5-14v3m0 169v3m12-221v3m0 243v3m5-238v3m2-29v3m0 281v3m5-298v3m12 252v3m2-235v3m10 11v3m0 172v3m0 20v3m2-247v3m0 46v3m5 163v3m7-123v3m5 46v3"/>
<path stroke="#218c8d" d="M6 294v3m5-3v3m2-3v3m5-26v3m5 9v3m2-23v3m5 0v3m5-3v3m2 25v3m5-8v3M44 5v3m0 278v3m10 11v3m2-6v3m5-8v5m5-8v3m12-29v3m2 28v3m10-23v3m2 32v3m5-9v3m5-12v3m2-11v3m5-287v3m0 269v3m7-14v3m5 3v2m2 6v3m10 3v3m2-6v3m5-17v3m5-6v3m14 11v3m5-20v3m5 3v3m2-253v3m0 261v3m5 3v3m0 77v3m5-106v3m2 3v2m12 3v3m5-17v3m7 37v3m5-43v3m2-3v3m5 23v3m7-264v3m0 232v3m5 11v3m5-252v3m0 238v3m7 2v3m5-17v3m12-9v3m2-3v3m5 0v3m2-14v3m5-210v3m0 253v2m12-57v3m5 17v3m2-23v3m5 20v3m0 97v3m5-114v2m2-5v3m5 8v3m5 106v3m7-123v3m7-6v3m0 114v6m7-307v3m0 155v3m5-6v3m5-6v3m7 17v3m0 124v2m5-120v3m2-40v3m5-3v3m5 8v3m0 149v3m2-281v3m0 103v3m5 0v3m5 143v3m2-158v3m5 146v3m5-163v3m0 157v3m2-155v3m5-11v3m0 166v3m5-178v3m0 138v2m2-120v3m0 109v3m5-141v3m0 164v2m2-8v3m5-198v3m0 14v3m5 3v3m0 123v3m2-124v3m5 115v3m5-129v6m2-12v3m0 112v3m5-138v3m0 138v2m5-154v2m2-2v2m0 164v3m5-146v2m0 121v3m5-167v3m0 158v3m7-169v3m5 143v3m2-167v3m0 152v3m5-155v3m2-14v3m0 163v3m5-178v3m5-3v3m0 155v3m2-184v3m0 164v3m5-167v3m5-6v3m2 6v3m0 132v3m5-6v3m5 109v3m12-158v3m2-9v3m10-32v3m2-28v2m12 3v3m12 15v2m12 26v3m17 80v3"/>
<path stroke="#218d8c" d="M1 317v3m5-23v3m5-3v3m2-3v3m5-26v3m5 9v3m2-23v3m5 0v2m5-2v2m2 26v3m5-8v2m2-5v3m5-9v3m5 17v3m2-6v3m5-6v3m5-8v2m2-11v3m5-9v3m5-14v3m2 28v3m5 9v3M90 8v2m0 267v3m7 26v3m5-12v3m2-11v3m5-15v3m2-14v3m5-3v3m5 2v3m2-264v3m0 267v3m10 3v3m2-6v3m5-17v2m5-5v3m2 8v3m5 23v3m5-20v3m2-281v2m5 253v3m5 3v2m7 18v3m5-26v3m7 20v3m2 0v2m5-17v3m5-17v3m2 3v2m5-255v3m5 244v3m2-3v3m5-247v3m5 247v2m2-8v3m5-241v3m5 241v2m2-14v3m10 0v3m2-14v2m17 6v3m2-14v3m10-213v6m0 201v3m2 25v3m5-34v3m5-198v3m0 212v3m2-23v3m5 20v3m7-17v2m5-198v3m5 175v3m2 37v3m10-46v3m2 15v3m0 106v5m7-140v3m5-161v3m0 152v3m5-6v3m2 17v3m17-31v2m0 147v3m7-161v3m10 26v2m0 112v3m2-152v3m0 152v3m5-250v3m0 121v3m0 109v2m5-157v3m2-81v3m0 83v3m5-11v3m0 160v3m5-172v3m2 126v3m5-135v3m0 155v6m2-175v2m0 164v3m5-175v3m0 149v3m5-149v2m2 112v3m5-109v3m0 106v3m5-120v2m0 107v2m7-140v3m5 146v3m2-3v3m5-23v3m5-161v3m2-3v3m0 161v3m5-172v2m0 135v3m5-126v3m2-35v3m0 146v3m5-149v3m7-23v3m0 158v3m5-164v3m0 149v3m0 23v3m2-204v3m5 0v3m0 158v3m5-44v3m2 12v3m5-6v3m5-23v3m2-12v3m5-14v3m5-6v3m2-9v3m10-31v2m0 253v3m7-293v3m7 11v3m5-5v2m7-57v3m5 23v3m7 201v2m5-109v3m0 83v3m7-97v3"/>
<path stroke="#218e8c" d="M6 300v3m5-3v3m2-3v3m5-26v3m5 9v3m2-23v2m5 0v3m5-3v3m7 20v3m2-5v2m5-8v3m5 17v6m2-9v3m5-6v3m5-9v3m2-11v3m5-9v3m5-14v2m12 9v3M92 8v2m0 302v2m5-5v3m7-20v2m7-25v2m10 3v3m2 6v3m10 3v3m2-287v3m0 278v3m5-18v3m5-5v2m2 9v3m5 23v3m5-20v3m2-12v3m10-12v3m2 9v3m5 6v2m7-23v3m17-8v3m2 2v3m5 29v3m5-40v3m12 2v3m2-8v3m5 8v3m5-9v3m2-14v3m5 11v3m5-14v3m2-15v3m5 38v2m5-40v3m2-3v3m5 3v3m2-14v2m5 43v3m5-51v3m7-6v3m7-3v3m5-204v3m0 313v2m5-109v3m2-3v3m5 6v3m5-29v3m7-178v3m0 187v2m5-20v3m2 15v2m0 101v3m12-135v3m5-158v3m0 149v3m2-146v2m5 0v3m0 155v3m5 123v6m2-160v2m0 147v3m10-141v3m2 140v6m5-166v3m12 129v3m5 0v2m2-146v3m0 112v3m5 31v3m5-166v3m0 129v3m2-115v3m0 100v3m5-178v3m0 198v3m2-210v3m0 40v3m0 158v3m5-169v3m0 143v3m5-144v3m0 115v3m2-118v3m17 98v3m5-150v3m0 155v3m2-161v3m10 135v3m2-155v3m0 155v3m10-29v3m2-158v3m5 0v3m2-17v3m0 157v3m5-169v3m5 143v3m2-172v3m0 155v3m5-3v3m5-164v3m0 209v3m2-206v3m0 123v3m5-175v3m5 146v3m2-154v2m5 129v3m5-6v3m0 189v3m2-201v3m0 187v2m5-226v3m5 3v3m2-26v3m5-15v3m5-9v3m0 287v3m9-261v3m0 241v3m12-61v3m12-163v3m0 106v3"/>
<path stroke="#208f8c" d="M1 320v3m10-20v3m7-26v3m5 9v2m2-23v3m5 0v3m5-3v3m2 23v3M49 5v3m0 281v3m5 20v2m2-8v3m10-12v3M68 0v2m0 287v3m5-9v3m5-15v3m2 26v3m5 9v2m5-31v3m7 26v2m5-14v3m2-9v3m5-17v3m2-12v3m5-5v2m7 15v3m10 3v2m7-20v3m5-6v3m2 9v3m5-273v3m5-8v2m0 282v2m2-11v3m5-20v3m5 5v3m2 9v3m5-279v3m0 281v3m5-28v2m2 3v3m5 15v2m2 0v3m5-17v3m5-14v2m2 3v3m10-255v3m0 244v2m2-5v3m5 20v3m5-18v3m2-255v3m12 238v3m12-12v3m10 0v3m2-3v3m5 3v3m2-15v3m10-5v2m7-5v3m5 14v3m2-20v3m5-201v3m0 215v3m7-224v3m0 206v3m10-20v3m2 34v3m10-43v3m2 14v3m0 95v3m5-89v3m2-43v3m5-3v3m5-6v3m0 132v3m2-121v3m5 115v3m5-279v3m0 161v3m0 112v2m2-152v3m5-3v3m5-129v3m2 115v3m0 152v5m5-157v3m0 157v3m5-29v3m2-146v3m0 146v3m5-17v3m5-149v2m0 147v3m2-141v3m5-14v2m0 152v3m5-229v3m7 60v3m0 146v3m2-161v3m0 152v3m5-163v2m7 6v3m5 0v3m0 100v3m5-132v3m0 14v3m0 101v3m2-9v3m5-129v3m5-15v3m0 149v3m2-155v3m0 152v3m5-138v3m0 112v3m5-155v3m0 146v3m2-149v3m0 149v3m5-164v3m0 129v3m5-120v3m0 117v3m2-152v3m0 138v2m5-20v3m2-137v2m0 152v3m10-166v3m0 140v3m0 17v3m2-186v3m0 149v3m5-155v3m0 149v3m5-158v3m0 218v3m2-95v3m0 83v3m5-255v5m0 161v3m0 95v2m7-129v3m5 149v3m7-178v3m0 204v3m24-255v2m12 18v3"/>
<path stroke="#20908c" d="M6 303v3m5 0v3m2-6v3M18 2v3m7 269v3m5 0v3m5-3v3m2 23v3m5-9v3m2-6v3m5-5v2M54 5v3m0 306v3m2-8v3m5-9v3m5-6v3m2-11v2m5-8v3m5-15v3m12 9v3m2 25v3m10-14v3m2-304v3m5 278v3m2-12v3m5-6v3m5 3v3m7-270v3m5-8v3m0 286v3m2-8v3m10-18v3m7 32v3m5-18v3m2-11v3m5-20v2m7 18v3m5-276v3m5 252v3m2 3v3m12-261v3m0 261v3m5-15v3m12-3v3m2-252v3m0 244v2m10-249v3m0 252v3m2-11v2m5 9v3m5-9v3m2-11v3m5 8v3m5-14v3m2-12v3m10 0v3m2-3v3m17-12v3m2-215v3m0 232v3m5-235v3m5 221v3m7 0v2m0 84v3m5-104v3m2 0v3m0 95v3m5-95v3m5-26v3m7 8v3m7 92v3m7-123v2m10-5v3m7 11v3m5 115v3m2-147v3m0 138v3m5-144v3m0 138v3m5-135v3m0 137v6m2-281v3m0 115v3m0 146v3m5 3v5m5-135v3m0 104v2m2-140v3m0 140v3m5-117v2m0 98v3m5-224v3m0 77v3m7-3v3m0 147v2m5-157v3m0 123v3m2-109v3m0 94v3m5-123v3m2 137v3m5-158v3m0 135v3m5-138v3m2 103v3m5-100v3m0 94v3m5-109v3m2-11v3m5-23v3m5-15v3m2-3v3m0 146v3m5-23v3m5-149v3m2 146v3m5-158v3m5 126v3m2-146v3m5-3v3m2-15v3m0 147v2m5-160v3m0 146v3m7-172v3m5-3v3m0 143v3m5-152v3m0 112v2m7-152v6m0 152v3m5-23v3m2-11v2m5-14v3m5-6v3m0 178v3m7-224v3m5 3v3m2-26v3m5-15v3m14 253v2m5-292v3"/>
<path stroke="#20918c" d="M1 323v3M6 2v3m0 301v3m7-3v3m5-26v3m5 8v3m2-20v3m10 0v3m7 17v3m2-6v3m10 17v3M56 5v3m0 304v2m5-8v3m12-20v3m7 11v3M97 8v2m0 304v3m5-315v3m0 301v3m2-12v3m5-14v3m2-12v3m5-6v3m5 3v3m2 6v3m10 5v3m2-8v2m5-17v3m5-3v3m2 6v3m12 0v3m5-21v3m5 3v3m7 17v3m5-26v3m7 17v3m2-284v3m0 281v3m5-14v3m7-12v3m5 26v3m7-290v3m0 249v3m5-252v3m0 267v2m7-23v3m10 3v3m12-11v2m2-11v3m5 31v3m12-31v3m2-15v3m5 40v3m5 66v3m7-330v3m0 207v2m5 18v2m0 84v3m2-109v2m10 6v3m2-209v2m22 184v3m2 14v3m7-29v3m5-5v2m7 12v3m5 109v3m5-3v3m2-141v3m10 138v5m2-154v2m0 141v3m5-146v2m0 147v3m5-26v3m2-135v3m5 120v3m5-138v3m0 138v3m2-224v3m0 86v3m5 132v3m5-152v2m7 135v3m2-155v3m10-3v3m0 106v3m2-109v3m10-26v6m0 109v3m7-126v2m0 121v3m5-138v3m0 140v3m2-3v3m10-163v3m0 137v3m2-143v3m0 140v3m5-152v3m0 120v3m7-8v3m5-135v3m0 109v5m0 6v3m2 0v3m0 3v3m5-155v3m0 140v3m5-149v3m0 135v2m2-157v2m0 141v3m5-6v3m7-143v2m0 115v3m5-155v3m0 146v3m5-168v2m12 120v3m2-8v2m5 207v3m5-241v3m14-20v3m0 263v3m5-340v2m0 69v3m0 258v3m2-253v3m5 209v3m5-198v3m2-43v3m10 40v3m7 121v2"/>
<path stroke="#1f928c" d="M11 309v3m2-3v3m5-26v3m5 8v3m2-20v3m5-3v3m7 23v3m12-15v3m5 23v3m0 17v3m2-29v3m5-8v3m5-9v3m2-12v3m10-20v3m7 34v3m5-28v3m2 25v3m5-3v3m7-20v3m5-14v3m2-12v3m5-6v3m5 3v3m2 6v2m12 0v3m5-17v3m7 6v3m10-279v3m0 281v3m7-26v3m5 3v3m2 9v2m5 6v3m5-26v3m2 0v3m17-264v3m0 252v3m2-261v3m0 261v3m10-9v3m12 3v3m2-9v3m5 6v3m5-6v3m2-14v2m5 9v3m5-12v3m2-11v3m10-3v3m2-3v3m5 3v2m2-14v3m10-6v3m2 20v3m5-29v3m7-209v3m0 203v3m5 17v3m7-14v3m10-20v3m2-190v3m0 218v3m0 86v3m5-115v3m5-17v3m2 14v3m0 83v3m5-281v3m0 198v3m7-41v3m5-5v2m0 124v3m7-115v3m5 3v3m0 100v3m7-138v3m0 132v3m5-267v3m0 135v3m0 126v3m2-147v3m0 135v3m5-141v3m0 141v3m7-18v3m5-20v3m7-123v3m0 100v3m5-118v3m0 138v3m5-147v3m0 115v3m2-103v3m0 88v3m5-117v3m0 134v3m2-149v3m0 140v3m5-192v3m0 37v3m0 129v3m5-129v3m2 0v3m5 0v3m0 89v2m5-103v3m2-11v2m0 95v3m5-118v3m7-17v3m5 14v3m0 103v3m5-140v3m0 132v2m2-137v3m10 0v2m0 109v3m2-140v3m5 0v3m2-18v3m5 138v3m5-152v3m0 129v3m2-153v3m0 135v3m0 49v3m5-195v2m5-5v3m2 114v3m5-149v3m5 123v3m2-146v3m0 132v3m0 154v3m5-172v3m7-14v3m12-52v3m0 278v3m5-296v3m5-5v2m0 307v3m19-315v3m24 106v3"/>
<path stroke="#1f938b" d="M1 326v3m5-20v3m5 0v2m7-25v3m5 8v3M25 2v3m0 278v3m5-3v3m5-3v3m7 17v3m2-6v3M49 0v2m0 295v3m5 23v3m0 11v3m2-23v3M61 5v3m0 304v2m5-8v3m2-12v3m5-8v2m5-14v3m2 23v3m10-17v2M102 8v2m0 299v3m2-9v3m7-23v3m5-6v3m5 3v3m2 5v3m5-292v3m0 324v3m5-325v3m0 287v3m7-20v3m5-6v3m2 9v2m5-286v2m0 302v2m5-14v3m2-290v3m0 276v2m5-17v3m5 3v3m2-276v3m5 290v3m5-290v3m2 264v3m5-273v3m2 284v3m5-14v3m5-15v3m2-261v3m10-3v3m0 255v3m2-6v3m10 6v3m14-15v3m22-8v3m2-3v3m5 2v3m2-14v3m10-6v3m7-6v3m5 14v3m12-229v3m0 212v3m2 0v3m5 0v3m5-23v3m2-198v2m12 3v3m5 307v3m2-138v3m5-3v3m0 132v3m5-141v3m12-157v2m2 141v3m0 129v3m5-273v3m0 135v3m5 129v3m7-3v3m5-121v3m0 95v3m2-129v3m10-104v3m0 86v3m0 132v3m2-126v3m5-15v3m0 132v3m12-15v3m2-5v2m5-146v3m12-31v2m0 3v3m12 112v3m5-132v3m0 135v2m2-140v3m0 135v2m5-22v2m7 0v3m5-146v3m0 115v2m5-2v2m2-134v3m0 123v3m5-12v3m2-132v3m5-11v2m0 135v3m5-14v3m2-147v3m5-6v3m0 132v3m5-34v3m7-138v3m0 137v3m5-23v3m2-140v3m0 278v3m10-170v3m7-40v3m5 0v3m14-20v3m7-71v2m5 23v3m0 63v3m0 220v3m12-229v3m12 74v3"/>
<path stroke="#1f948b" d="M13 312v2m17-28v3m5-3v3m2 20v3m5-6v3m2-6v3m10 20v11m2-17v3M66 0v2m0 307v3m2-12v3m5-9v3m5-14v3m12 8v3M97 2v3m0 315v3m5-11v2m2-306v2m5 282v2m7-11v3m17 17v3m2-296v3m0 284v3m5-14v3m5-6v3m14 8v3m5-17v3m7 11v3m10-17v3m2-267v3m0 267v3m5 8v3m7-8v2m5-278v3m2 264v3m5-267v3m0 287v3m5-32v3m2-6v3m5 14v3m5-11v3m2-12v3m5 6v3m5-6v3m2-12v3m5 6v3m5-12v3m2-11v3m29-9v3m12-221v3m0 229v3m2-235v3m0 209v3m5 17v3m0 75v3m7-3v3m5-307v3m5 312v3m7-109v3m5-17v3m2-184v3m0 195v3m0 77v3m7-109v3m0 129v3m10-138v3m2 9v3m0 120v3m5-126v3m0 103v3m5-6v3m2-129v3m5-141v3m0 261v3m5-123v2m0 118v3m2-138v3m0 129v3m5-135v3m0 132v3m5-23v3m2 6v2m5-109v3m0 86v3m5-126v3m0 126v3m7-3v3m5-138v3m2-77v3m0 2v3m0 84v2m0 84v2m5-111v2m0 127v2m2-140v3m0 132v3m5-18v3m5-166v3m0 40v3m0 97v3m2-143v3m0 40v3m0 89v2m10-100v3m0 86v3m2-101v3m5-20v3m5-14v3m0 129v3m2-3v3m10-152v2m0 127v3m2-132v2m0 130v2m5-140v3m5 5v3m2-25v2m5-2v2m0 101v3m2 17v3m5-15v3m5-137v2m2-17v3m0 126v3m5-6v3m0 55v3m5-195v2m2 0v3m0 106v3m5-5v2m5 121v6m2-281v2m0 124v3m5-15v3m5-125v2m0 115v2m2-8v3m10-32v3m7-34v2m14 26v3m12 20v3m0 184v3m5-170v3m7 23v3"/>
<path stroke="#1f958b" d="M6 0v2m0 310v2m5 0v3m2-3v3m5-25v2m5 9v3m2-20v3M30 0v2m0 287v3M35 0v2m0 287v3m2 20v2m12-14v3m7 20v3M61 0v2m0 312v3M66 5v3m2-3v3m10 278v3m2 20v3m5 5v3M92 2v3m0 315v3m5 0v3m7-20v3m5-15v3m2-11v3m10 0v3m2-287v3m0 289v3m10 6v3m2-9v3m10-17v3m2-281v2m0 284v3m5 17v3m5-14v3m12-296v3m0 273v3m2 8v3m5 6v3m5-26v3m2-273v3m7 287v3m5-290v3m5 261v3m2 3v3m24-9v3m10 3v3m12-12v3m2-11v2m5 26v3m5-31v2m2-2v2m5 3v3m2-14v3m5 34v3m7-23v3m5-26v3m7-3v3m10 3v3m2 0v3m5 0v2m5-22v2m19-192v3m2 175v3m5-6v3m5 112v3m7-281v3m5 175v2m0 92v3m2-267v3m0 264v3m5-129v3m7-9v3m0 123v3m5-129v3m0 126v3m7-140v2m5 106v3m5-120v3m2-95v3m0 98v2m0 92v3m5-195v3m0 83v3m5-6v3m0 106v3m9-126v3m5-9v3m7-34v2m5 38v3m0 83v3m7-118v3m0 11v3m0 86v3m5-109v3m0 106v3m7-126v3m5 11v3m0 95v3m5-130v3m7-8v3m0 106v3m5-3v3m2-9v3m7-135v3m5-12v3m5 118v3m7-144v3m5-6v3m0 98v3m2 3v2m5-137v3m0 246v3m5-275v6m0 132v2m2-132v3m12 95v3m12-49v3m12 287v3m5-32v3m26-80v3m5-46v3"/>
<path stroke="#1f968b" d="M1 329v3m5-18v3m5 0v3m7-26v3m7-8v3m17 17v3m2-6v3m5-6v3m12 11v3m5-8v2m2-11v3m5-9v3M90 2v3m0 292v3m12 14v3m7-309v2m2 279v3m5-6v3m5-284v3m0 284v2m19-284v3m0 276v3m19 5v3m5-287v3m0 267v3m5 3v3m7 17v3m5-299v3m0 270v3m2 0v3m5-276v3m0 281v3m2-287v3m5 275v3m5-14v3m12-3v3m2-6v3m5 14v3m5-11v3m7-3v3m7-15v3m5 6v3m17-18v3m2-3v3m5 92v3m2-103v3m10-6v3m7-6v3m5 14v3m0 72v3m7-310v3m0 229v3m17-29v3m2 26v3m0 80v3m5-313v3m0 204v3m5-17v3m0 117v3m2-106v3m5 3v2m7-34v3m5-6v3m2-169v3m0 175v3m5 97v3m7-273v3m0 144v3m5-3v3m5 2v3m0 112v3m7-6v3m5-20v3m2-118v3m0 121v3m10-15v3m7-3v3m5-206v2m2 89v3m0 78v3m5-107v3m0 121v3m2-6v3m5-135v3m0 115v2m5-117v3m2 0v3m10-9v3m0 80v3m12-123v3m0 123v3m2-129v3m0 123v3m10-23v3m2-127v3m0 124v3m10-29v3m2-124v3m5-3v3m2-14v3m5-12v3m0 124v2m5-132v3m0 115v3m0 40v3m2-178v3m0 120v3m0 46v3m5-54v2m12-157v3m0 126v3m0 111v3m5-266v5m2 0v3m0 115v3m5-134v2m0 117v3m5-8v3m7-38v3m5-3v3m0 261v3m7-298v3m7 14v3m5 0v3m14-9v3m10 75v2m0 112v3"/>
<path stroke="#1e978a" d="M13 317v3m5-23v3m5 6v3m2-17v2M30 2v3m0 287v2m5-2v2m2 20v3m7-8v3M56 0v2m0 324v3M73 5v3m0 292v3m5-14v3m2 20v2M85 2v3m5 295v3m7 23v3m7-20v3m5-15v3m2-292v2m0 282v2m5-5v3m7 8v3m10 6v3m2-9v3m5-14v2m5-286v2m0 279v3m2 5v3m10 6v3m2-9v3m5-293v3m0 273v3m5-276v3m0 276v2m2-281v3m0 284v3m5-290v3m14 290v3m12-20v3m5 20v2m5-28v3m2-6v3m12-3v3m10 3v3m12-12v3m2-12v3m17 3v3m12-14v3m2 14v3m12-26v3m10-215v3m0 215v3m2 0v2m10-220v2m2 307v3m10-114v2m2 86v3m5 20v6m2-126v3m5-175v3m0 289v6m5-295v3m0 163v3m7 6v3m5 91v3m2-117v2m5 115v3m5-6v3m2-126v3m0 117v3m5-123v3m5 14v3m7-6v3m0 78v2m5-114v3m2 5v3m5-14v3m0 117v3m5-126v3m0 100v3m7-112v3m0 115v3m2-129v3m0 120v3m10-169v3m0 40v3m0 88v3m2-91v2m0 81v3m5-127v3m0 38v2m0 78v3m7-98v3m5-20v3m5-14v2m0 118v3m2-3v3m5-20v3m5-124v3m2-3v3m0 118v3m5-129v2m5 3v3m2-23v3m0 109v3m5-115v3m0 92v3m2 11v3m5-11v3m7-141v3m5-9v3m0 118v3m5-127v3m2-3v3m0 98v3m5-6v3m5-144v3m0 121v3m14-35v3m5 227v2m5 12v3m2-293v3m0 296v2m5-2v2m5-312v3m14-23v3m0 57v3m5-40v2m0 244v3m14-186v3m5 20v3m5 66v2"/>
<path stroke="#1e988a" d="M6 317v3m5 0v3m12-14v3m7-18v3M35 2v3m0 289v3m7 15v2M44 0v2m5 304v3M54 0v2m2 327v3m5-12v3m5-9v3m2-11v3M78 5v3m0 284v2M80 2v6m12 315v3m10-9v3m2-8v2m5-14v3m7-298v5m0 282v2m5 0v3m2 6v3M140 8v2m5 0v3m0 279v2m2-284v3m0 287v3m5-293v3m0 304v3m5-310v3m0 296v3m2-302v3m17 299v2m5-25v3m2 0v2m12 3v3m5-14v3m24 3v2m7-2v2m5-2v2m2-14v3m5 6v3m5-9v3m2-12v3m0 89v3m5-69v3m5-29v3m2-3v3m0 89v3m5-89v3m2-14v2m17-8v3m5 14v3m2-20v3m5 14v3m0 66v3m7-304v3m0 220v3m0 75v3m5-301v2m0 218v3m5-221v3m0 198v3m2 101v2m10-304v3m2 207v3m5 89v2m2-295v3m0 175v3m0 117v3m5-126v3m0 115v2m5-14v3m2-100v2m0 112v3m5-23v3m5-270v3m0 172v3m2 89v3m5-120v2m5 3v3m2-14v3m0 112v2m5 0v3m5-20v3m2-112v3m0 115v3m10-15v3m2-109v3m0 83v3m5-189v3m5 83v3m9-17v2m5-8v3m0 109v3m19-41v3m5 0v3m7-117v2m5 9v3m0 86v3m5-118v3m0 112v3m7-23v3m5-6v3m9-129v3m0 120v3m5-135v3m5-6v3m0 109v3m2-11v2m5 66v3m5-103v3m7-123v2m5-17v3m2-3v3m0 109v3m5-14v2m0 187v3m5-198v3m12-38v3m14-17v3m5-63v3m2-3v3m0 71v3m10 18v2m0 181v3m7-32v3m0 15v2m5-40v3"/>
<path stroke="#1e998a" d="M1 332v3m5-15v3M11 2v3m0 318v3M13 2v3m0 315v3m5-23v6M23 2v3m0 307v2m2-20v6m5-3v3m5-3v3M37 2v3m0 312v3M42 0v5m0 309v3M44 2v3m0 307v2M49 2v3m0 304v3m5 31v3M56 2v3m0 327v5M61 2v3m0 318v3M66 2v3m0 312v3M68 2v3m0 304v3M73 2v3m0 298v6M78 2v3m0 289v3m2 17v3M85 5v3m0 312v3M90 5v3m0 295v3M92 5v3m5-3v3m0 321v3m5-327v3m0 312v3m2-318v3m0 306v3m5-312v3m0 295v3m2-301v3m0 286v6m5-6v3m5-289v2m0 287v3m2-292v2m0 296v3m5-301v2m5-2v2m0 302v2m2-306v2m0 296v3m5-15v6m5-6v3m2 6v3m10 6v2m2-11v3m5-17v5m5 0v3m2 6v3m5 8v3m5-25v2m2 0v3m5 6v3m2 3v3m5-12v3m5-14v3m2 0v2m5 20v3m5-28v3m2-6v6m5 8v3m5-9v3m2-11v3m5 5v3m5-3v3m2-14v3m5 6v2m5-8v3m2-12v3m10-3v3m2-3v3m5 3v3m2-15v3m5 29v3m5-37v2m2 15v3m5-23v3m0 97v3m5-86v3m2-20v3m5 14v3m5-17v2m2 3v3m10-20v3m0 100v3m2-310v3m0 227v3m0 66v6m5-302v3m0 204v3m5-207v3m0 189v3m2 15v2m5 0v3m0 78v6m2-296v3m0 181v3m0 109v5m5-298v3m0 175v3m0 106v6m5-290v3m0 169v3m0 100v3m2-275v3m0 281v8m5-289v2m0 173v2m5 86v3m2-112v3m0 109v3m5-115v3m0 109v3m5-109v3m0 98v5m2-117v3m0 106v3m5-115v3m0 112v2m5-100v3m0 77v3m2-106v3m0 109v3m5-20v3m5-109v5m0 106v3m2-103v3m5-17v3m0 111v3m5-117v3m0 91v3m2-86v3m0 72v3m5-170v3m0 69v3m0 106v6m2-184v3m0 60v3m0 112v3m5-172v3m0 46v3m0 103v3m5-106v2m0 84v2m2-134v3m0 45v3m5-3v3m0 72v3m5-86v3m0 74v3m2-86v3m5-20v6m0 91v3m5-112v3m0 112v3m2-118v3m0 112v3m5-23v3m5-112v3m0 106v3m2-115v3m0 112v3m5-124v3m5 3v3m0 86v3m2-112v3m0 103v3m5-109v3m0 86v3m2-103v3m0 111v3m5-126v3m0 112v3m0 23v2m5-40v3m2-123v3m0 109v3m5-121v3m0 112v3m5-121v3m2-3v3m0 92v3m0 109v3m5-236v3m0 115v3m5-135v6m0 109v3m2-118v3m0 103v3m5-126v3m0 109v3m5-115v3m0 103v3m2-9v3m5-29v3m5-5v2m2-20v3m5-14v3m12 281v3m2-327v3m12 266v3m10-172v3m2 115v3"/>
<path stroke="#1e9a89" d="M13 323v3m12-26v3m5-3v3m5-3v3M37 0v2m0 318v3m7-9v3m5-5v2M54 2v3m2 332v3m5-14v3m5-9v3m2-11v2m10-17v3m2 17v3m10-14v3m2 17v3m17-23v3m7-12v3m5 0v3m12 11v3m2-8v3m10-15v3m7 20v3m7-17v3m10-12v3m2 6v3m10-15v3m2 0v3m5 6v3m7-6v3m5-14v2m2 0v3m10-5v2m12 3v3m2-11v3m12-6v3m12-9v3m10-3v3m2-3v3m7-9v3m10-6v3m7-5v2m17 0v3m7 0v3m12-11v3m5-15v3m0 106v3m2-307v3m0 273v2m5-275v3m0 284v3m2 3v3m5-112v3m5-6v3m2 5v3m0 98v3m5-15v3m5-8v2m2-106v3m5 103v3m12-117v3m0 106v3m7-118v3m5 86v3m12-106v3m0 106v2m5-200v3m7 77v3m2 100v3m5-172v3m0 52v2m5 0v3m2 75v3m10-86v3m12-38v3m0 106v3m2-3v3m5-103v3m7-29v3m0 106v3m5-118v3m0 92v3m7-112v3m0 97v3m5-103v3m2 95v2m5-11v3m5-118v3m0 100v3m2-117v3m5-9v3m0 106v3m5-115v3m0 189v3m2-106v3m5-118v3m0 109v3m5-126v3m2-6v3m5-20v5m5 95v3m2-9v3m0 212v3m5 12v3m5-261v3m0 272v3m7-307v3m0 315v3m5-318v3m0 298v3m2-290v3m5 3v3m0 258v3m2-321v2m0 304v3m0 9v3m5-298v2m24 190v3"/>
<path stroke="#1e9b89" d="M1 335v2m5-14v3m5 0v3m7-23v3M23 0v2m0 312v3m12-14v3m7 11v3m14 20v6m17-37v3m5-12v3m7 20v3m5-17v3m12 11v3m2-9v3m7-20v3m10 0v3m2 3v3m5 23v2m7-25v2m5-14v3m7 3v3m10 5v3m7-23v3m5 3v3m7 14v3m5-23v3m9 12v2m22-20v3m2-5v2m5 9v3m7-14v2m10 3v3m7-6v3m5-8v3m7 11v3m12-20v3m12-15v3m12 9v3m0 60v3m2-83v2m5 15v3m7-12v3m10-20v3m2 86v3m5 14v3m5-9v3m2-92v3m5 72v3m2-100v2m5 98v3m7-3v3m5-101v3m5 0v3m2-23v3m0 100v3m5-109v3m5 98v3m2-109v2m0 101v3m5-3v3m5-18v3m2 6v3m5-92v3m5-29v3m0 101v2m2-97v3m0 74v3m5 12v3m5-109v3m0 86v2m2-177v2m0 95v3m0 66v3m5-164v3m0 172v3m2-175v3m0 60v3m0 103v3m5-14v3m5-152v3m2 51v3m12-17v3m0 72v2m10-103v3m2-6v3m0 103v3m10-123v3m0 100v3m2-3v3m5-112v3m5 83v3m9-117v2m5-11v3m5 140v3m2-160v2m0 101v3m5-9v3m5-26v3m12-20v3m2 158v2m5 3v3m5-295v3m0 309v3m2 3v3m5-252v2m26-2v2m5 9v3"/>
<path stroke="#1e9c89" d="M13 326v3m12-26v3m5-3v3m14 11v3m5-6v3m7 29v3m5-20v3m5-9v3m2-12v3m29 15v3m12-26v3m2-9v3m5-6v3m17 14v3m12-20v3m14 6v3m5-15v3m7 9v3m12-12v3m12 3v3m5-15v3m2 0v3m22 0v3m7-6v3m7-11v3m12-9v3m10-3v3m2-3v3m5 77v3m2-89v3m12 9v3m5-21v3m12 72v3m7-3v3m22-92v3m0 98v2m9-8v3m5-106v2m5-5v3m0 91v3m2-89v3m0 89v3m5-12v3m5-8v3m7-101v3m0 98v2m5-100v3m7-14v2m7-8v3m5 80v3m12-100v2m19-23v3m5 0v3m7-3v3m0 66v3m5-9v3m7-94v2m0 87v2m5 0v3m7-20v3m7-106v3m5 80v3m7-106v3m0 92v2m5-17v3m2 9v3m5-12v3m5-112v3m0 95v2m0 49v3m7-169v3m5 189v3m2-201v3m0 83v3m0 109v3m5-224v3m0 103v3m5-120v3m2-6v3m0 94v3m0 164v3m5-282v3m0 98v3m5-12v3m0 204v3m2-215v2m10-31v3m2-18v3m12 284v3m5-338v3m2 2v3m5 284v3m5-247v3m2 9v3m17 94v3m0 41v2m5-48v2"/>
<path stroke="#1e9d88" d="M11 0v2m0 327v3M13 0v2m5 307v3m5 5v3m7-14v3m5-3v3m2 14v3m5-6v3m31-11v2m5-11v3m2 14v3m10-11v2m12 12v3m2-9v3m17-17v3m2 3v2m17-11v3m5-3v3m2 3v3m5 11v3m17-23v3m12-6v3m7 6v3m12-15v3m7 17v3m5-23v3m2-6v3m12-3v3m10 3v3m12-11v2m19-5v3m2-12v3m5 83v3m5-92v3m7-6v3m5 12v3m2-21v3m10 0v3m0 89v3m7-92v3m0 86v3m5-106v3m0 92v2m2-74v3m0 57v3m5-80v2m12 72v3m2-95v3m5 92v3m5-100v2m2 92v3m12-109v3m10 89v3m2-104v3m0 95v3m5-3v3m5-89v3m0 69v2m2 6v3m10-112v3m0 95v3m7-6v3m5-103v2m7-11v3m0 94v3m2-106v3m0 98v2m5-14v3m5-17v3m2-78v3m12-17v3m5-18v3m5-14v3m2-6v3m0 98v2m10-117v3m0 94v3m2-3v3m5-106v3m5-3v3m0 77v3m2-97v3m5-6v3m2-15v3m5-11v3m7-18v3m0 95v3m0 63v3m5-75v3m5-106v3m12 60v3m7-118v3m7-16v2m5 330v3m7 14v3m5-313v3m5 316v2m2-304v3m24 32v3m0 25v3m12 89v3"/>
<path stroke="#1e9e88" d="M1 337v3m5-14v3m7 0v3m5-20v2m7-8v3m19 11v3m5-6v3m12 12v3m7-18v3m24 9v3m17-20v2m2-8v3m5-6v3m17 14v3m2-9v3m5-11v3m17 8v3m2-8v2m5-14v3m7 9v2m5 6v3m7-20v3m7 8v3m12-17v3m17 3v3m5-6v3m7-6v3m7-11v2m5 3v3m7-14v3m10-3v3m2-3v3m12 17v3m5 54v3m19-77v3m7-12v3m22-23v3m0 92v3m2-84v3m0 55v3m5-61v3m2 72v3m5-101v3m12 0v3m0 78v2m5-80v3m0 69v3m2 3v2m5-5v3m5-95v3m7-15v3m19-11v3m0 69v2m5-86v3m5 78v3m2-75v3m0 60v3m12-95v3m5 0v3m2 66v3m10-80v2m12 64v2m7-94v3m0 71v3m7-100v3m19 63v3m5-12v3m5-106v3m0 89v3m2 54v3m5-169v3m5 71v3m2-3v3m5-106v3m0 97v3m5-114v2m2-5v3m0 88v3m5-14v3m5-103v2m0 89v3m2-8v3m5-95v3m0 66v3m5-9v3m33 218v3m17-75v3"/>
<path stroke="#1e9f88" d="M11 332v3m12-15v3m2-14v3m5-3v3m5-3v3m2 14v3m5-6v3m24 0v3m7-15v3m5-11v3m7 17v3m5-15v3m7 18v2m7-14v3m12-20v3m5 0v3m2 2v3m22-11v3m2 3v2m22-8v3m12-6v3m14 3v3m5-12v3m12-3v3m2-6v3m12-3v3m22-6v3m7 9v3m12-17v2m2-11v3m10-6v3m2 9v2m5-17v3m7-6v3m10 0v3m12-14v3m2 74v3m5 14v6m12-26v3m2-89v3m5 86v3m5-95v3m0 83v3m2-83v3m0 80v3m12-103v3m5-6v3m5 86v3m2-98v3m0 89v3m5-3v3m5-17v3m2-89v3m0 91v3m5-83v3m0 60v3m5-89v3m7 86v3m5-98v3m7-11v3m0 89v2m2-100v3m0 92v3m22-43v2m2-5v3m5-84v3m0 78v3m5-95v3m2-6v3m0 92v3m10-112v3m0 88v3m2-3v3m5-20v3m5-8v2m7-94v3m2-15v3m5-11v3m7-18v3m5 83v3m0 78v3m5-181v3m2-6v3m0 195v3m10-233v3m0 89v3m7-112v3m19 32v2m12 296v3m7-281v3m5-41v3m0 276v2m7-215v3m12 43v3m0 95v3"/>
<path stroke="#1ea087" d="M6 329v3m12-18v3m26 6v3m5-6v3m19-3v3m10-14v3m2 11v3m22 3v3m7-18v3m2-8v3m22 11v3m2-9v3m5-11v3m12 14v3m5-9v3m2-9v3m5-14v3m12 17v3m7-20v3m5 3v2m14-11v3m34-3v3m2-12v3m12-8v3m10-3v3m2-3v3m7 74v3m17-6v3m5-74v2m14-11v3m5-6v3m5 72v3m7-87v3m0 84v2m5-97v3m9 80v3m5-95v3m17 69v3m2 3v3m17-104v3m17 72v3m2-86v3m5-15v3m19-23v3m0 83v3m7-86v3m5-6v3m0 60v3m7-77v3m29-52v3m5-3v3m2-17v2m5 69v3m2 6v3m5-12v3m5-14v3m2-9v3m5-100v2m12-31v3m0 92v2m7-111v2m5-14v3m7 69v3m12 261v3m5-322v3m5 3v3m2 8v3m5 6v3m2-52v3m22 121v3m2-23v2m5 21v2m5 41v2"/>
<path stroke="#1fa187" d="M1 340v3m12-11v3m10-12v3m2-14v2m5-2v2m5-2v2m7 12v3m19 6v2m5-8v3m7-15v3m17-3v3m26-11v3m5 0v2m2 3v3m22-11v3m19-6v3m5 0v3m2 2v3m10-11v3m9 8v3m5-8v2m5-11v3m7 14v3m5-20v3m2-6v3m5 6v3m5-6v3m7-6v3m12-6v3m5-6v3m19 60v3m2-77v3m5 74v3m5-83v3m7-6v3m5 63v3m2-72v3m5 12v2m0 49v3m7-3v3m5 17v3m5-97v2m7 84v3m5-6v3m2-78v3m5 57v3m2-83v3m5 80v3m7-6v3m5-83v3m0 72v3m7-92v3m5-6v3m0 86v3m5-89v3m0 77v3m2-92v3m5 83v3m5-80v3m2-20v2m0 86v3m10-100v3m7 80v3m5-17v3m7-86v3m0 83v3m2-95v3m0 86v3m10-95v3m0 66v3m12-81v3m12 58v3m2-95v3m5 71v3m5-91v2m2-5v3m0 86v2m19-123v3m5-11v2m5-8v3m2-12v3m5 77v3m0 84v2m5 6v3m2-118v3m10-109v3m2 78v2m5-14v3m0 195v3m5-296v3m0 84v2m12-37v3m26 17v3m5 9v3m0 197v3m7-43v3m5-6v3m7-46v3"/>
<path stroke="#1fa286" d="M11 335v2m7-20v3m17-6v3m2 12v3m12-9v3m19-3v3m10-14v2m2 12v3m5 0v3m7 0v3m12-9v3m5-12v3m2-8v2m24 6v3m5-11v2m7 0v3m55-11v3m24-9v3m10 3v3m2-12v3m12-8v2m17 0v3m7 63v3m7-69v3m22-17v3m0 80v3m7-8v5m7-23v3m17-66v3m2 63v3m5-89v3m5-6v3m0 78v2m2-77v3m10-3v3m14 57v3m10-17v3m7-12v3m5 3v3m7-92v3m5-6v3m2 6v3m0 54v3m12-86v3m7 60v3m17-92v3m0 72v3m5-89v3m2 83v3m5-86v2m5 64v2m7-94v3m5 63v3m2-84v3m5-5v2m2 75v3m5-12v3m7-20v3m10-100v3m0 68v3m7-97v3m0 86v3m5-18v3m2-92v3m12-34v3m0 83v3m5-23v3m7-23v3m17-43v2m31 210v3m5-20v3"/>
<path stroke="#1fa386" d="M6 332v3m17-9v3m2-15v3m5-3v3m14 9v3m17 8v3m12-20v3m24 14v3m5-8v3m14-23v2m5 0v3m2 3v3m5 14v3m5-14v3m12-17v2m12 9v3m2-9v3m5-11v3m5 0v2m7 12v3m5-20v3m2-3v3m5 2v3m7-3v3m17 49v3m2-66v3m10 3v3m31-3v3m5-20v2m2-2v2m29 0v3m2-17v3m0 83v3m10-9v3m2-77v3m5-6v3m5-15v3m2 15v3m5-18v3m0 75v3m5-89v3m0 80v3m9-92v3m5 74v3m7-5v2m5-8v3m5-9v3m2 3v3m5-89v3m0 80v3m5-9v3m2-86v3m5-6v3m0 80v3m7-92v3m0 81v2m10-94v3m2 3v2m0 61v3m5 5v3m12-14v3m7-15v3m7-80v3m12-17v2m10 58v3m7-20v2m5-86v3m2-5v2m5 66v3m7-11v3m17-29v3m7-101v3m7-11v3m17-49v3m0 275v3m5-209v3m2-92v3m0 309v3m10-261v3m2 290v3m5-322v3m14 281v3m10-264v3m0 224v3m2-9v3m5-14v3m5-161v3m0 123v3"/>
<path stroke="#20a485" d="M13 335v2m5-17v3m17-6v3m7 9v3m12 14v3m12-17v3m12-21v3m12 3v3m19-3v3m2-9v3m29-3v3m7 0v3m5 9v3m19-15v3m10 46v3m19-63v3m12-3v3m7 3v2m7-11v3m5 0v3m7-9v3m5 0v3m5-6v3m2-9v3m5 69v3m12-72v3m2-11v3m5 66v2m5-74v3m2 77v3m5-86v3m0 74v3m12-69v3m5 61v2m7-5v3m5-6v3m7-6v3m7-72v3m0 46v3m5 3v2m12-80v3m7 0v3m7-17v3m10-3v3m2 68v3m17-80v3m17-29v3m7-11v2m2-8v3m0 80v3m5-89v3m5-3v3m7-6v3m0 54v3m5-8v3m2-6v3m5-75v3m5-14v2m2-5v3m0 80v3m12-20v3m10-92v3m2-15v3m0 78v3m5-21v3m2-80v3m0 80v3m5-95v3m0 81v2m5-91v3m2-12v3m5 72v2m7-22v2m5-91v2m0 81v3m5-98v3m2 72v3m5-15v3m5-92v3m0 296v5m2 3v3m22 26v3m2-301v2m0 290v3m7-330v3m0 304v3m5-290v3m7 29v3m17 89v2"/>
<path stroke="#20a585" d="M1 343v3m10-9v3m14-23v3m5-3v3m7 12v3m7-6v3m5-6v3m7 20v3m12-26v3m5-6v3m31 3v3m12-18v3m5 0v3m14 3v3m10-12v3m36-5v2m2-2v2m7 6v3m12-14v3m34-3v3m24-18v3m2-3v3m0 66v3m12-57v3m19-29v3m10-3v3m14 51v3m10-71v2m0 75v3m9-86v3m0 74v3m5-83v3m5 69v3m2-72v3m0 66v3m12-9v3m12-89v3m5-6v3m5 63v3m7-12v3m5 3v3m7-86v3m5 63v3m7-3v3m12-26v3m12-75v3m7 49v3m17-20v3m7-89v3m5 63v3m2-9v3m5-81v3m12 49v3m2-9v3m10-94v2m12 43v3m2-86v3m5-14v3m7-20v2m0 75v3m24 258v3m7-281v3m12 212v3m12-60v2m5-74v3m0 60v3"/>
<path stroke="#21a685" d="M6 335v2m17-8v3m12-12v3m43-6v3m2 9v3m5 0v3m5-12v3m2 9v2m10-2v2m9-20v3m12 3v3m10 3v3m24-6v3m2-9v3m5-11v2m5 0v3m2 3v3m24-6v3m5-11v3m7 11v3m5-17v3m2-6v3m10 3v2m24-11v3m2-9v3m17 58v2m2-68v2m0 69v3m5-11v3m5-69v3m0 68v3m2-66v3m5-14v3m5 8v3m14-11v3m0 48v3m5 9v3m5-81v3m7 0v3m0 66v3m19-14v2m12-11v3m5-66v3m0 54v3m2-74v2m5-5v3m0 74v3m5-9v3m7-6v3m5-71v3m2-18v3m0 75v3m10-89v3m2 2v3m5 63v3m7-74v3m0 48v3m7-74v3m0 74v3m5-12v3m29-112v3m0 75v3m2-83v2m0 75v3m5-78v3m5-20v3m2-6v3m0 75v3m5-17v2m14-97v3m5-12v3m7-17v3m5-12v3m0 75v3m5-20v2m12-100v3m12 46v3m7-29v3m5-12v3m2-14v3m10-9v3m0 313v3m7-299v3"/>
<path stroke="#21a784" d="M13 337v3m5-17v3m7-6v3m5-3v3m12 9v3m7-6v3m12 8v3m5-8v2m2-8v3m41-9v3m7-9v3m5 0v3m19-6v3m7 0v3m29 6v3m12-15v3m38-14v3m5 0v3m7-9v3m5 0v3m24-9v3m24 40v3m2 17v3m5-26v3m5 12v3m7-72v3m5 60v3m19-72v3m0 49v3m2 2v3m5-77v3m5-6v3m7 0v3m17-17v2m2 63v3m22-20v3m2-14v3m10-72v3m7-12v3m7-11v3m5-3v3m2-3v3m0 51v3m12-72v3m5-14v3m12 46v3m19-101v3m7 60v3m5-11v3m5-86v2m14-28v3m0 63v3m5-87v3m0 75v3m7-23v3m5-15v3m12-97v3m12 23v2m12-23v3m2 307v3m5-23v3m7-23v3"/>
<path stroke="#22a784" d="M11 340v3m26-8v2m7-5v3m29-9v3m5-9v3m12 3v3m7 11v3m7-11v3m7-15v3m24 3v3m10-12v3m19-6v3m5 0v3m12-6v3m2-3v3m19-5v2m12-5v3m5 2v3m17-5v2m0 52v3m19-57v2m5-17v3m2-3v3m19 63v3m5-8v2m7-74v3m0 71v3m5-66v3m5-14v3m7 60v3m5-75v3m12-9v3m0 69v3m9-80v3m10 60v3m2-3v3m12-9v3m5-77v2m0 69v3m7-80v3m5-6v3m0 69v2m5-14v3m2-69v3m10-11v2m7-8v3m0 69v2m5-14v3m7-3v3m19-86v3m0 49v2m5-8v3m2-6v3m10-6v3m12-92v3m0 69v3m7-83v2m5-5v3m7-18v3m0 58v2m12-17v3m2-9v3m22-48v2m2-80v3m5-14v3m5-15v3m2-9v3m0 69v3m24-37v3m12 28v3m12 35v2m12 38v3m5 2v3"/>
<path stroke="#23a883" d="M6 337v3m12-14v3m5 3v3m2-12v3m5-3v3m5-3v3m45 6v3m22 2v3m14-20v3m7 3v3m10 3v3m7-15v3m12 9v3m5-6v3m2-9v3m31-3v3m5-6v3m5-11v2m12-2v2m12 0v3m24-11v3m0 57v3m2-69v3m0 60v3m5-3v3m14-72v3m5 55v3m5-63v2m2 66v3m5-74v3m17 60v3m2-63v2m12-2v2m0 41v2m5-57v3m0 60v3m7-63v3m12 46v3m5-72v3m2 0v3m5 54v3m5-9v3m2-69v3m10 60v3m14-11v3m5-66v3m0 46v2m7-63v3m19-28v2m0 69v3m5-11v2m5-14v3m12-69v3m7 43v3m5-75v3m2-6v3m0 69v3m12-92v3m0 69v3m12-26v3m7-83v3m0 68v3m5-83v3m0 69v3m7-89v3m5-12v3m0 69v3m5-81v3m12-34v3m12 40v3m12-38v3m12 296v3m9-336v3m5 287v3m12-218v3m12 45v3"/>
<path stroke="#23a982" d="M1 346v3m12-9v3m29-8v2m7-5v3m12 8v3m5-9v3m2-8v3m5-6v3m5-9v3m31 0v3m12-6v3m24-6v3m2 0v3m17-9v3m7 3v3m5 6v3m5-18v3m7 0v3m38-14v3m12-6v3m5 0v3m24-9v3m14-6v3m10-3v3m2 55v2m17-14v3m5-3v3m14-23v3m5 0v3m2 3v2m5-71v3m31 43v2m22-20v3m12-77v3m7-12v3m7-11v3m5-3v3m19-29v3m12 40v3m12-20v3m7-78v3m17-32v3m12 35v3m2-6v3m5-81v3m0 69v3m60 161v2m7-37v3m7-141v3m0 118v3"/>
<path stroke="#24aa82" d="M30 326v3m5-3v3m9 6v2m41-2v2m5-8v3m2 5v3m12-5v2m7-14v3m17 14v3m7-14v3m34-12v3m14-6v3m17-6v3m2-3v3m5 9v3m5-15v3m2-5v2m17-2v2m5 0v3m19 43v3m5-63v3m2-3v3m5 52v3m2-61v3m0 60v3m10-5v2m2-2v2m5-68v2m7-5v3m10-3v3m7-3v3m5-12v3m7 57v3m5-69v3m0 63v3m9-74v2m10 55v3m2-3v3m5-63v3m5-3v3m2-15v3m0 63v3m5-72v3m0 63v3m5-69v3m2-8v3m5-6v3m0 63v3m5-63v2m2-14v3m0 63v3m10-78v3m7-8v3m0 63v3m12-15v3m14-77v3m12-18v3m10 43v3m7-72v3m5-17v3m0 63v3m7-78v3m5 52v3m19-35v3m2-8v2m12-88v2m10 38v3m2-75v3m0 63v3m5-80v2m0 64v2m5-80v3m2-9v3m0 63v3m5-20v3m7-23v3m5-17v3m14 34v3m5-29v3m5 17v3m0 224v3m7-26v3m7-124v3"/>
<path stroke="#25ab81" d="M11 343v3m7-17v3m5 3v2m2-11v3m12 8v3m79-17v3m7 3v3m17-9v3m19 0v3m60-12v3m29-11v3m2-9v3m12 54v3m12-51v2m5-20v3m14 58v3m10-9v3m2-15v3m36-11v3m5-66v3m7 51v3m5-9v3m12-5v2m12-17v3m14-17v3m10-9v3m2-54v2m0 43v3m7-66v3m0 63v3m5-11v3m29-101v3m2-6v3m0 63v3m12-86v3m0 63v3m10-23v3m7-72v3m2-11v2m0 64v2m5-77v3m0 63v3m7-83v3m5-12v3m0 63v3m17-106v3m12 34v3m24-52v3m19 52v3m12 40v3m0 112v2"/>
<path stroke="#26ac81" d="M6 340v3m43-8v2m19-2v2m5-5v3m5-9v3m2 6v2m17 6v3m12-17v3m2-6v3m10-3v3m12 6v2m12-14v3m2 0v3m10 3v3m7-15v3m7 3v3m10-9v3m9 3v3m5-6v3m29-9v3m2-8v2m10 49v3m2-57v3m10 51v3m7-52v3m19 32v3m7 3v3m5-3v3m12-58v3m7-9v3m5 46v3m12-63v3m12-3v3m7-17v2m7-2v2m24 38v3m17-23v3m7-58v3m10-14v3m7-12v3m7-11v2m7 43v3m46-114v2m2-11v3m0 57v3m5-14v3m24-104v3m7-23v3m0 63v3m29-77v2m7 310v6m7-324v3m19 49v2m5 161v3m5-26v3m12-40v3"/>
<path stroke="#27ad80" d="M13 343v3m5-14v3m7-6v3m5-3v3m5-3v3m7 5v3m24 0v3m24-11v3m12 5v3m14-17v3m36 6v2m17-14v3m14-6v3m5 0v3m14-9v3m12-6v3m10 49v3m19-57v2m17-11v3m0 60v3m2-66v3m5 0v3m2-9v3m12 0v3m10-3v3m0 34v3m2-51v2m5 43v3m17-57v3m0 57v3m2-14v3m10-58v3m0 57v3m2-54v3m5 37v3m2-58v3m0 58v3m12-12v3m12-9v3m5-66v3m0 57v3m5-63v3m2-8v2m5-5v3m0 57v3m17-78v3m0 58v2m7-68v2m0 58v3m12-15v3m12-71v2m7-8v3m0 43v3m5-9v3m2-6v3m5-60v3m0 51v3m12-20v3m5-66v3m0 57v3m7-72v3m24-46v3m0 57v3m14-34v3m12-89v3m5-15v3m12-28v2m24 3v3m0 40v3m7 244v3m5-17v3m2-221v3m22 111v3"/>
<path stroke="#28ae7f" d="M1 349v3m22-15v3m21-3v3m10 9v3m7-6v3m24-12v3m19-3v3m17-11v3m2 0v3m12-3v3m5-9v3m19 0v3m17 3v2m24-20v3m12-3v3m19-6v3m5 0v3m14-14v3m5 49v2m24-63v3m7-6v3m7 55v3m10-63v2m0 52v3m7-57v2m12 43v3m24-17v3m14-69v3m10 49v3m14-72v3m0 57v3m31-92v3m0 57v3m10-20v3m12-63v3m12-26v3m0 57v3m2-66v3m0 57v3m12-80v3m0 57v3m5-14v3m26-106v2m0 58v3m5-72v3m0 57v3m5-17v3m12-86v2m0 58v3m2-9v3m5-14v3m5-75v3m2-9v3m0 57v3m31-57v3m5 281v3m17-198v3m2 114v3"/>
<path stroke="#29af7f" d="M11 346v3m24-17v3m2 5v3m41-14v3m31 0v3m2-6v3m34-6v3m2 0v3m17-9v3m17-3v3m38-6v3m7-9v3m10 43v3m2-51v2m5 52v3m5-57v2m0 46v3m19-11v3m2 3v2m10-5v3m2-6v3m29-15v3m7-49v3m24-26v3m0 52v3m5-60v2m7-2v2m0 46v3m29-26v3m7-51v3m31-41v3m0 52v3m7-60v2m12-17v3m34-3v3m7-66v3m2-12v3m0 58v3m5-72v3m0 57v3m19-98v3m5 43v3m17-43v3m7-26v3m5-62v2m2 37v3m5-17v3m43 123v3m5 26v3"/>
<path stroke="#2ab07e" d="M6 343v3m12-11v2m7-5v3m5-3v3m12 5v3m7-6v3m19-3v3m5-5v2m7 0v3m12 0v3m24-14v3m17 5v3m24-5v2m14-8v3m12-9v3m12 0v3m7-9v3m5 6v3m17-12v3m36-17v3m2-3v3m24 43v3m7-61v3m22 43v3m7-57v3m5 46v2m2-14v3m7-52v3m0 52v3m12-61v3m0 46v3m10-54v2m0 41v2m14-63v3m0 52v3m10-58v3m12 35v3m2-55v3m10-14v2m0 46v3m7-60v3m0 51v3m43-106v3m19-37v3m0 51v3m36-129v3m29-17v3m26 25v3m24 66v3"/>
<path stroke="#2bb17d" d="M13 346v3m31-9v3m12 9v3m22-23v3m12 0v2m50-8v3m24 34v3m5-43v3m19-3v3m2 0v3m10-12v3m12-3v3m2-6v3m24 46v3m5-55v3m7-8v3m0 48v3m12-5v2m5-51v3m2-9v3m5 40v3m5-49v3m7-6v3m7 49v3m12-55v3m0 35v2m10-51v3m7 46v2m5-57v3m33-23v3m0 51v3m5-60v3m0 52v2m12-65v2m0 52v3m7-63v3m0 51v3m10-66v3m2 43v3m5-55v3m0 52v3m7-58v3m0 38v2m17-63v3m19-28v2m0 46v3m17-77v3m0 51v3m7-66v3m5-9v3m19-40v3m0 52v2m12-80v3m14-37v3m5-15v3m62 198v3"/>
<path stroke="#2cb17d" d="M23 340v3m12-8v2m31 6v3m36-3v3m7-11v2m2-5v3m10-3v3m2 0v2m5 6v3m7-11v2m10-8v3m14 0v3m5-9v3m43 37v3m17-6v3m7-49v3m24-3v3m0 35v3m5 5v3m21-60v3m17-6v3m5-12v3m0 46v3m31-23v3m12-55v3m0 46v3m24-66v3m0 46v3m19-23v3m26-75v3m0 52v2m12-22v2m22-77v3m0 51v3m2-60v3m0 52v2m5-14v3m7-63v3m0 51v3m17-34v3m2-3v3m5-12v3m7-72v3m0 52v3m5-66v3m0 51v3m7-20v3m10-78v3m0 52v3m2-9v3m5-14v3m5-69v3m2-9v3m0 52v2m24-34v3m7 17v3m5-23v3m12 69v3m5 129v3m12-84v3"/>
<path stroke="#2eb27c" d="M25 335v2m5-2v2m7 6v3m12-6v3m12 6v3m12-15v3m24 6v3m7-9v3m43-11v3m5 2v3m29-14v3m45-12v3m10 0v3m0 35v2m2-46v3m10-3v3m0 41v2m12 0v3m9-8v3m12-9v3m10-46v3m19-15v3m0 40v3m7-11v3m12-43v3m5-6v3m7-15v3m0 46v3m12-12v3m67-106v3m0 46v3m5-12v3m7-51v3m0 37v3m5-9v3m2-6v3m29-40v3m14-78v3m5-11v3m24-52v3m0 51v3m17-43v3m24-49v3m26 61v2m5 141v3"/>
<path stroke="#2fb37b" d="M6 346v3m5 0v3m7-15v3m50 0v3m17-3v3m5-6v3m26-8v3m53-6v3m7 5v3m0 23v3m7-40v3m12 0v3m0 34v3m7-46v3m12-6v3m5 0v3m5-3v3m19 37v3m17-57v3m2-3v3m12 2v3m5 35v3m7-6v3m7-55v3m0 46v3m22-12v3m12-57v3m0 46v3m9-58v3m0 46v3m17-58v3m5 35v3m14-58v3m0 46v3m10-14v2m12-57v3m0 46v3m12-61v3m7-11v3m0 46v2m14-63v3m10-14v3m36-12v3m2-54v3m0 45v3m5-57v3m24-3v3m31-124v3m12 9v3m12-9v3m12 43v3m14 166v3m5-86v3"/>
<path stroke="#30b47a" d="M1 352v3m41-12v3m36-11v2m2 3v3m41-8v2m12 3v3m7-11v3m17 2v3m14-8v3m29-12v3m12-3v3m0 37v3m31-49v3m7-8v2m17-2v2m0 35v3m2-46v3m10-6v3m7-6v3m29-14v3m7-3v3m0 40v3m26-61v3m0 40v3m12-57v3m0 46v2m5-54v3m0 46v3m12-61v3m0 46v3m7-57v3m0 45v3m12-57v3m5-12v3m0 46v3m5-12v3m9-8v3m24-75v3m5-12v3m5-11v3m12-20v2m0 46v3m31-54v3m14-81v3m12-31v2m5-14v3m12 14v3m5-14v3m2-12v3m19-14v3m24 94v3m0 109v3m10-40v3"/>
<path stroke="#32b57a" d="M23 343v3m2-9v3m5-3v3m5-3v3m9 3v3m48-3v3m17-9v3m2-5v2m24 0v3m10-8v3m19-6v3m24-3v3m2 0v3m34 25v3m2 3v3m5-49v3m0 43v3m7-6v3m22-8v2m31-23v3m7-5v2m5-40v3m0 40v3m2-43v3m41-29v3m12-6v3m12-14v3m0 40v3m19-57v2m26-34v3m34 6v2m2-54v3m0 46v3m5-55v3m7-17v3m0 46v2m5-57v3m14 20v3m10-69v3m2-9v3m5 37v3m5-60v3m12-32v3m14 12v3m24-74v2m5 51v3m24 187v3m2-106v2m10 46v3"/>
<path stroke="#33b679" d="M13 349v3m5-12v3m48 3v3m7-9v3m43-8v2m7 0v3m36-5v2m22-8v3m26 0v3m0 28v3m19-46v3m12-6v3m5 40v3m5-46v3m2 38v2m12-5v3m19-12v3m36-52v3m17 20v3m7-46v3m5 37v3m36-66v3m38-43v3m5-6v3m19 14v3m38-106v3m5-11v2m0 46v3m7-17v3m5-60v3m7 28v3m10-23v3m2-9v3m5-14v3m5-63v3m0 45v3m2-57v3m53 106v3"/>
<path stroke="#35b778" d="M37 346v3m12-6v3m19-3v3m10-9v3m12 0v3m12 3v3m2-6v3m43-11v2m36-8v3m7 34v3m29-3v3m17-46v3m12 29v3m7-6v3m5-43v2m9 38v3m5-12v3m5 3v3m2-43v3m12-12v3m17 32v2m19-17v3m7-43v3m5 37v3m12-11v2m19-57v3m17 23v3m7-9v3m12-49v3m0 32v3m5-3v3m7-12v3m36-49v3m12-20v3m5-52v3m2-8v2m5 32v3m31-109v3m0 46v2m60-31v3m2-17v2"/>
<path stroke="#36b877" d="M35 340v3m19 9v3m86-20v2m29-5v3m26-3v3m5-9v3m2-3v3m12-6v3m0 40v3m10-43v3m14 31v3m12-49v3m5 3v3m7-11v2m7-5v3m10-6v3m7-6v3m0 40v3m7-6v3m5-40v3m7 23v3m5-38v3m5-8v2m0 41v2m12-51v3m0 40v3m9-9v3m12-12v3m5-43v3m7-11v3m0 40v3m5-49v3m0 40v3m7-9v3m5-49v3m0 40v3m7-8v2m10-54v3m0 40v3m7-52v3m0 40v3m5-49v3m7-11v3m14 20v3m34-87v3m93-126v3m41 135v3"/>
<path stroke="#38b976" d="M6 349v3m19-12v3m5-3v3m12 3v3m38-6v3m5-3v3m26-9v3m10-3v3m24-5v2m7 3v3m12-11v3m7 0v2m41-11v3m7-3v3m17 26v3m24-3v3m7-44v3m24-8v3m26 14v3m5 0v3m7-40v2m19-17v3m10 26v3m24-20v3m2-43v2m31-31v3m0 40v3m10-17v2m7-45v2m0 32v3m5-9v3m7-49v3m5-11v3m0 40v3m2-6v3m10-17v2m2-5v3m10-21v3m2-5v2m5-51v3m12 17v3m26-104v3m22-14v3m7-26v3m19 52v2m7 18v3m10 17v3m12 51v3m0 23v3"/>
<path stroke="#39b976" d="M11 352v3m7-12v3m5 0v3m21-3v3m17 3v3m48-15v3m7-6v3m79 23v3m31-3v3m5-3v3m12-46v3m0 35v2m60-23v3m19-48v2m12-5v3m12-15v3m24 20v3m26-60v3m10 23v2m21-60v3m10-14v3m2 28v3m12-57v3m12-20v2m19 9v3m5-12v3m5-54v3m2-9v3m5 32v2m5-14v3m2-49v3m10-26v3m7-20v3m12-32v3m7 17v3m24 9v3m29 143v3"/>
<path stroke="#3bba75" d="M49 346v3m24-6v3m5-6v3m19 6v3m26-12v3m5 3v3m5-6v3m2-6v3m22-3v3m19-3v3m5-11v3m7-3v3m36 23v2m2-37v3m5-3v3m7-6v3m24 29v3m5-9v3m14-6v3m22-46v3m38-23v3m5 31v3m24-54v3m50-49v3m19-23v3m29-46v3m14-29v3m5-12v3m7 26v3m5-54v2m5-11v3m24-60v2m2-8v3m0 40v3m5-18v3m17-25v2m9 26v3"/>
<path stroke="#3dbb74" d="M1 355v3m12-6v3m55-9v3m22-6v3m2 0v3m48-12v3m7-3v3m12-3v3m24-8v3m7 0v2m10 29v3m7-9v3m7-37v3m5 34v3m12-6v3m7-5v2m10-40v3m2 32v3m10-44v3m33-14v3m12-3v3m5 26v3m17-9v3m9-46v3m5 31v3m31-60v3m41 0v3m12-52v3m19 9v2m12-54v3m50-55v3m5-54v3m0 40v3m5-15v3m2-8v2m5-14v3m5-14v2m26-74v3m5 14v3m19 89v3"/>
<path stroke="#3ebc73" d="M25 343v3m5-3v3m5-3v3m31 3v3m38-6v3m7-9v3m10-3v3m43-8v2m5-2v2m0 29v3m31-40v3m2-3v3m0 34v3m34-43v3m14-12v3m5 29v3m5 0v3m2-41v3m7-5v2m0 35v3m5-35v3m5-11v3m0 34v3m2-37v2m5-8v3m0 34v3m7-6v3m22-49v3m0 35v3m12-46v3m7 25v3m2 0v3m17-14v3m5-38v3m2-8v2m0 35v3m5-6v3m7-9v3m5-6v3m7-8v3m5-41v3m5-11v3m0 34v3m7-9v3m19-23v3m55-115v3M540 2v3m21 23v3m10 34v3m7 31v3m17 69v6"/>
<path stroke="#40bd72" d="M37 349v3m65-3v3m43-15v3m62-5v2m5-8v3m0 28v3m2 0v3m12-6v3m22-11v3m62-55v3m12 23v3m26-17v2m17-48v3m12-12v3m5-3v3m2-9v3m17-17v3m5-6v3m7-11v2m2-5v3m0 34v3m34-80v2m7 23v3m5-46v3m7 23v3m5-46v3m7 20v3m12-23v3m55-138v3m38 106v3"/>
<path stroke="#42be71" d="M6 352v3m12-9v3m5 0v3m19-3v3m14 3v3m29-12v3m24-6v3m7-6v3m55-6v3m19 23v3m5-31v2m24-8v3m5-3v3m19 23v3m48-23v2m7-5v3m5 0v2m50-60v3m17 17v3m19-20v3m7-9v3m12-43v3m0 26v3m41-46v3m2-43v3m0 34v3m10-17v3m2-6v3m12-23v3m19-75v3m65-60v2m26 84v3"/>
<path stroke="#44be70" d="M44 349v3m29-6v3m5-6v3m2 0v3m77 17v3m24-34v2m38 23v3m7-37v3m12-6v3m5-3v3m24-9v3m7 20v3m48-49v3m24-17v3m2-3v3m10 20v3m24-20v3m62-98v3m19-32v3m10 18v2m7-48v3m2 28v3m5-11v2m12-25v3m17-78v3m2-9v3m5-14v3m17-9v3"/>
<path stroke="#45bf6f" d="M30 346v3m5-3v3m14 0v3m74-9v3m12-3v3m17-3v3m19 20v3m17-34v2m43-11v3m0 29v2m5-8v3m19-32v3m7 23v3m36-43v3m5-9v3m14-6v3m24-20v3m79-66v3m5 23v3m2-6v3m41-89v3m14-29v3m5-12v3m5-11v3m2 28v3m10-23v3m26-63v3m24-32v3m29 89v3"/>
<path stroke="#47c06e" d="M11 355v3m14-12v3m65-3v3m21-6v3m29-6v3m7-3v3m10 0v3m2-6v3m10-6v3m7 20v3m7-28v2m12 23v3m5-31v3m14-6v3m10 23v3m14-3v3m10-35v3m2-6v3m0 29v3m10-38v3m9-6v3m12 23v3m5-34v3m5 0v2m2-8v3m12 20v3m22-9v3m2-9v3m7-34v3m5 25v3m5-5v2m24-48v3m2-6v3m24-20v3m10 17v3m7-9v3m19-55v3m0 26v3m5-9v3m2-6v3m60-132v3m7-17v3m5-14v2m0 35v3m17-81v3m2-8v3m17-18v3m26 60v3"/>
<path stroke="#49c16d" d="M68 349v3m53-9v3m12 0v3m31-12v3m24 26v3m12-6v3m2-34v3m0 28v3m5-8v2m7 0v3m12-5v2m34-11v3m2-35v3m7 26v3m10-37v2m0 29v3m7-6v3m7-6v3m17-11v3m5-35v3m0 29v3m2-9v3m10-34v2m2 0v3m7 20v3m17-14v3m7-38v3m5 26v3m7-9v3m5-5v2m7-8v3m10-43v3m7 22v3m26-60v3m10-14v3m67-115v3m12 5v3m2-8v3m5-15v3m5-14v3m7-58v3m0 32v2m7-22v2m41 84v2"/>
<path stroke="#4bc26c" d="M13 355v3m5-9v3m43 3v3m31-9v3m24-9v3m29-6v3m45-6v3m77 3v3m67-54v2m26 9v3m5-37v2m12-11v3m7-9v3m10 20v3m7-40v3m12-15v3m2 26v3m5-9v3m5-37v3m14-20v3m5 20v3m17-58v3m14-26v3m31-29v3M552 0v2m2 3v3m24 100v3"/>
<path stroke="#4dc26b" d="M37 352v3m29-3v3m12-9v3m26 0v3m48 14v3m29-6v3m2 0v3m29-37v3m7 23v2m17-31v3m7 20v3m12-9v3m50-43v3m17 14v3m26-17v3m67-86v2m34-43v3m2 26v3m5-40v3m7 17v3m29-52v3m74-103v3m5 34v3m7 14v3m7 23v3"/>
<path stroke="#4fc369" d="M23 352v3m31 0v3m43-6v3m12-9v3m67-6v3m5-9v3m67 9v3m33-38v3m22 15v3m55-58v3m12 14v3m36-60v3m43-23v3m2-37v2m5 21v2m5-8v3m7-15v3m84-163v3m7-9v3m2 31v3m5 12v3m7 17v3m12 40v3"/>
<path stroke="#51c468" d="M1 358v2m5-5v3m19-9v3m5-3v3m5-3v3m7 0v3m2-3v3m29-6v3m7-3v3m5-3v3m43-3v3m43-12v3m24-6v3m17 18v2m7-28v3m5-3v3m2-6v3m5 23v3m7-32v3m72-26v3m24 8v3m7-31v3m5-6v3m117-121v3m10-17v3m2 23v3m5-12v3m2-6v3m5-11v3m7-49v3m5 20v3m19-78v3m24-62v2m19 29v2"/>
<path stroke="#53c567" d="M49 352v3m53-3v3m21-9v3m67 11v3m53-37v3m19 17v3m5-29v3m55-26v3m31-20v3m29-23v3m7-9v3m55-63v3m38-63v3m34-72v3m7-20v3m17-46v3m0 28v3m38 66v3"/>
<path stroke="#55c666" d="M90 349v3m21-6v3m29-6v3m7-3v3m12 20v3m24-32v3m5-3v3m12-5v2m2 23v3m12-31v3m17-6v3m7 20v3m12-32v3m10-6v3m9-6v3m17-8v2m7-5v3m10-6v3m24 11v3m9-34v3m12-9v3m10 14v3m14-37v3m17 8v3m7-9v3m24-51v3m53-46v3m7-43v2m7-17v3m5-11v2m2 23v3m36-83v3m41 3v3m12 54v3m2 3v3"/>
<path stroke="#57c665" d="M121 346v3m14-3v3m10-6v3m0 20v3m12-6v3m2-23v3m5-6v3m5-3v3m19 20v3m12-6v3m2-28v2m5 0v3m7 18v2m12-5v3m24-9v3m10-6v3m2-29v3m7 20v3m10-32v3m0 23v3m2-6v3m5-3v3m7-5v2m22-11v3m26-17v2m5-5v3m14-38v3m5 20v3m5-31v2m7 18v3m5-9v3m12-37v2m7 18v2m7-34v3m0 20v3m5-6v3m55-100v2m31-60v3m12-29v3m0 29v3m17-75v3m55 80v3"/>
<path stroke="#59c764" d="M18 352v3m50-3v3m10-6v3m38-6v3m36-3v3m19 14v3m77-40v3m26-9v3m36 3v3m5-29v3m12-9v3m9 17v3m24-17v3m5-32v3m7 18v2m12-11v3m22-23v3m98-144v3m2-37v3m10 6v2m12-31v3m2-40v2m29 15v3m14 28v3"/>
<path stroke="#5bc862" d="M133 366v3m50-6v3m53-17v3m117-49v3m24-43v3m7-9v3m10 14v3m2-28v2m5-8v3m14 8v3m10-14v3m2-6v3m48-95v3m43-60v3m5-15v3m31-49v3m29 86v3"/>
<path stroke="#5ec961" d="M11 358v2m19-8v3m5-3v3m98-6v3m24-6v3m12 14v3m26-8v2m17-25v2m7 18v3m5-6v3m19-6v3m12-26v3m19 8v3m17-8v3m7-6v3m115-101v3m2-6v3m5 18v2m12-40v3m0 20v3m17-49v3m12-20v3m43-80v3m2 20v2m29-100v3m0 26v3m7-23v3"/>
<path stroke="#60c960" d="M23 355v3m2-6v3m84-6v3m81-12v3m17 12v3m115-38v3m26-17v3m79-92v3m10-14v2m0 20v3m2-5v2m5-8v3m7-12v3m12-20v3m29-52v3M554 8v2"/>
<path stroke="#62ca5f" d="M13 358v2m24-5v3m36-6v3m19-3v3m29 11v3m7-3v3m53-29v3m50 9v3m36-15v3m24-29v3m7-5v2m5 15v3m2-6v3m12-26v3m53-14v2m36-54v3m19-23v3m14-20v3m10 8v3m2-32v3"/>
<path stroke="#64cb5d" d="M42 355v3m24-3v3m38-6v3m48 8v3m12-3v3m7-23v3m17 14v3m38-31v3m12-6v3m10 14v3m69-29v3m12-9v3m12-28v3m5-6v3m110-109v3m5 14v3m2-32v3m19-9v3m5-11v3m7-43v3m5 14v3m74-46v3"/>
<path stroke="#67cc5c" d="M6 358v2m38-5v3m36-6v3m31-6v3m24 14v3m5-23v3m0 17v3m7-3v3m34-9v3m14-23v3m17 12v3m7-23v2m17-5v3m19 8v3m5-23v3m2 17v3m19-29v3m12-8v2m12-5v3m24-15v3m5-6v3m134-112v3m7-14v3m7-40v3m34-72v3m2-9v3m5-14v2m43-2v2m5 29v3"/>
<path stroke="#69cc5b" d="M49 355v3m7 0v2m29-8v3m5-3v3m33-6v3m36 11v3m5-23v3m19-6v3m5-3v3m12-6v3m2 18v2m12-25v2m10-2v2m7-5v3m12-6v3m7-6v3m19-9v3m17-9v3m24-11v3m17 8v3m9-28v2m36-25v2m72-74v3m12 3v3m17-52v3m14-29v3m53-98v3m12-11v3m7-3v3m2 25v3"/>
<path stroke="#6bcd59" d="M18 355v3m60-6v3m38 11v3m5-20v3m24-6v3m2-3v3m22-6v3m21 12v2m10-2v2m2-23v3m12 15v3m12-6v3m12-6v3m12-6v3m29-12v3m24-31v3m12 11v3m7-26v3m36-23v3m19 3v3m43-63v2m60-63v3m14-28v2m17-37v3m19-49v3m31-29v3m5 32v3m5 0v3m2 8v3"/>
<path stroke="#6dce58" d="M116 349v3m67 8v3m77-20v3m2-23v3m5-3v3m2 14v3m10-26v3m7 15v2m7-5v3m22-32v3m12-9v3m7 12v2m7-5v3m5-6v3m2-23v3m5-6v3m7-9v3m5 14v3m19-17v3m10-32v3m7 12v3m12-15v3m60-80v3m19-61v3m7-17v3m12-29v3m17-43v3m12-34v2"/>
<path stroke="#70ce56" d="M61 358v2m7-5v3m29 8v3m14-3v3m24-20v3m201-40v2m24-17v3m5-26v3m5-6v3m98-112v3m12-23v3m48-80v3m2-35v3m43 49v3"/>
<path stroke="#72cf55" d="M25 355v3m5-3v3m5-3v3m124-12v3m89-20v3m33 3v2m91-48v3m5-26v3m5-6v3m2-6v3m5-6v3m26-9v3m89-135v3m12-28v3m26-95v3m5 5v3m5-11v3"/>
<path stroke="#74d054" d="M1 360v3m53-5v2m43-5v3m74 2v3m139-40v3m48-29v3m36-29v3m2-5v2m5-25v3m14-18v3m46-60v3m14-26v3m31-63v3m12-6v3m5-15v3"/>
<path stroke="#77d052" d="M123 366v3m5-17v3m48 3v2m36-23v3m7 12v3m163-75v3m7-9v3m17-17v3m7-29v3m36-46v3M554 31v2m5 12v3"/>
<path stroke="#79d151" d="M102 355v3m0 8v3m7-17v3m134-9v3m110-49v3m55-63v3m0 14v3m12-14v3m31-41v3m12-20v3m41-97v2m2 15v3m29-95v3m0 20v3m7-23v3"/>
<path stroke="#7cd24f" d="M23 358v2m50-5v3m60 5v3m24-6v3m19-17v3m5-6v3m50 3v3m91-35v3m26-17v3m48-55v3m29-14v3m24-32v3m2-26v3m41-49v3m62-135v3m17 66v3"/>
<path stroke="#7ed24e" d="M25 366v3m144-9v3m19-5v2m38-25v2m12-5v3m65-9v3m124-92v3m55-80v2m12-45v2m77-45v2"/>
<path stroke="#81d34c" d="M111 352v3m36 8v3m5-17v3m55-12v3m139-54v3m24-3v3m57-72v3m5-9v3m0 14v3m5-8v2m2-5v3m5-9v3m17-26v3m2-26v3m24-23v3m12-26v3m67-78v3"/>
<path stroke="#83d34b" d="M18 358v2m19-2v2m91 3v3m12-17v3m5 11v3m50-11v3m65-32v3m2 11v3m79-51v2m65-51v3m19-23v3m12-18v3m79-140v3m2-9v3m5-15v3"/>
<path stroke="#86d449" d="M80 355v3m12-3v3m17 8v3m24-17v3m2 8v3m22-17v3m7-6v3m19-6v3m7-3v3m10-6v3m2 12v3m12-21v3m10 9v3m12-6v3m14-20v3m19-9v3m24-12v3m146-111v2m17-25v2m12-2v2m14-45v2m5-11v3m53-103v2m19-5v3m12 45v3"/>
<path stroke="#88d547" d="M11 360v3m31-5v2m2-2v2m5-2v2m29-5v3m7-3v3m19 8v3m55-9v3m12-17v3m84-20v3m31-15v3m29 0v3m12-9v3m9-23v3m139-126v3m55-118v3m22-37v3m9 11v3m0 12v2m5 12v3"/>
<path stroke="#8bd546" d="M90 355v3m26-6v3m5-3v3m2-3v3m17 8v3m5-17v3m2-3v3m17 8v3m17-5v2m2-2v2m5-17v3m12 9v3m7-6v3m5-3v3m7-18v3m29 3v3m19-9v3m7-17v3m5 9v2m93-66v3m84-74v3m17-46v3m21-23v3m17-58v3m0 17v3m17-63v3"/>
<path stroke="#8dd644" d="M6 360v3m19-5v2m5-2v2m74-5v3m65-12v3m33-9v3m12 9v3m12-6v3m5-17v2m7 9v3m5-17v3m7 8v3m10-6v3m2-17v3m7 8v3m10-20v3m2-3v3m5 9v3m5-6v3m69-52v3m5 9v2m12-11v3m17-32v3m26-29v3m24-31v3m36-41v3m12-43v3m7-17v3m41-101v3"/>
<path stroke="#90d643" d="M13 360v3m22-5v2m31-2v2m86 0v3m122-28v2m19-8v3m5-6v3m7-6v3m10-20v3m69-32v3m17-17v3m12-15v3M528 62v3m2-29v3"/>
<path stroke="#92d741" d="M195 343v3m41-11v2m55-20v3m7-6v3m5-5v2m7-5v3m17-12v3m9 6v3m24-18v3m113-123v3m43-86v3m36-89v3"/>
<path stroke="#95d73f" d="M224 337v3m31 0v3m62-37v3m5-6v3m19 0v3m24-32v3m103-115v3m12-23v3m26-54v3m12-12v3m5-14v2"/>
<path stroke="#97d83e" d="M190 355v3m115-46v2m12 3v3m12-8v2m5-17v3m12 3v3m2-17v3m24-6v3m5-20v2m7-8v3m31-17v2m89-134v2M542 5v3m12 20v3m5 11v3m7 11v3"/>
<path stroke="#9ad83c" d="M135 352v3m132-29v3m62-29v3m24-17v3m17-15v3m24-8v2m21-37v3m34-43v3m12-20v3m14-26v3m67-135v3"/>
<path stroke="#9dd93a" d="M68 358v2m91-11v3m199-69v3m43-37v2m50-45v2m12-20v3m41-92v3m31-77v3m0 14v3m19-32v3m12 46v3"/>
<path stroke="#9fd938" d="M78 366v3m170-37v3m33-3v3m53-26v3m79-75v3m79-100v2m14-31v3"/>
<path stroke="#a2da37" d="M171 358v2m211-94v3m38-26v3m31-55v3M561 39v3"/>
<path stroke="#a5da35" d="M212 340v3m7 6v3m91-32v3m79-63v3m7 3v3m10-12v3m43-52v3m33-54v3m5-12v3m7-32v3m65-91v2m2 15v3m5 8v3"/>
<path stroke="#a7db33" d="M1 363v3m89 0v3m33-6v3m120-23v3m115-52v3m105-123v3m36-52v3m19-60v3m5-15v3m17-31v3m7-23v2"/>
<path stroke="#aadb32" d="M1 366v3m91-3v3m17-14v3m273-81v3m7-9v3m36-37v3m36-49v3m21-52v3m34-71v2m36-57v3"/>
<path stroke="#addc30" d="M23 360v3m50-5v2m108-14v3m7 6v3m43-12v3m91-35v3m26-17v3m5-6v3m43-46v3m12-14v3m0 8v3m19-23v3m17-23v3m43-83v3m43-84v3"/>
<path stroke="#afdc2e" d="M121 363v3m182-43v3M511 99v3m17-57v3m12-35v3"/>
<path stroke="#b2dd2c" d="M18 360v3m129-3v3m22-5v2m57-23v3m12-5v2m108-45v2m24-8v3m57-66v3m5-9v3m0 8v3m5-20v3m0 9v3m2-6v3m17-38v3m12-8v3m7-15v3m19-37v3m17-52v3m17-29v3m24-54v2m7 29v3"/>
<path stroke="#b5dd2b" d="M111 355v3m230-64v3m65-51v3m19-23v2m14-20v3m34-51v2m19-37v3m7-17v3m31-75v3m17-37v3m14 34v3"/>
<path stroke="#b7dd29" d="M140 352v3m120-26v3m2 5v3m31-23v3M516 88v3m38-66v3m7 17v3"/>
<path stroke="#bade27" d="M202 352v3m12-15v3m122-46v3m120-103v3m24-40v2m38-80v3m5-14v3m19-66v2m12 6v3m5 14v3"/>
<path stroke="#bdde26" d="M25 360v3m53-5v2m67 0v3m19-14v3m19-6v3m17-6v3m50-14v3m19-9v3m17-9v3m41-11v2m45-40v3m48-46v3m24-31v3m98-187v3"/>
<path stroke="#bfdf24" d="M80 358v2m235-43v3m62-40v3m17-26v3m19-11v2m60-80v3m31-60v3m2-20v2m29-60v3m24-6v3"/>
<path stroke="#c2df22" d="M18 366v3m12-9v3m86 0v3m163-34v3m81-52v3m5 3v3m19-18v3m17-17v3m67-95v3m12-23v3m55-123v3"/>
<path stroke="#c5df21" d="M85 366v3m31-14v3m388-256v3m48-89v3"/>
<path stroke="#c7e01f" d="M35 360v3m2-3v3m242-40v3m170-129v3m12-20v3m14-26v3m31-52v3"/>
<path stroke="#cae01e" d="M85 358v2m60-8v3m19 3v2m19-5v3m17-6v3m2-12v3m12 3v3m36-12v3m19-8v2m17-8v3m29-23v3m45-20v2m55-57v3m0 6v3m36-46v3m12-21v3m29-51v3m48-115v3m12-18v3m2 9v3"/>
<path stroke="#cde01d" d="M80 366v3m60-9v3m120-26v3m2-11v3m65-29v3m38-26v3m19-17v3m110-147v3m24-54v3m5-15v3m31-43v3"/>
<path stroke="#cfe11c" d="M42 360v3m31 3v3m38-6v3m10-11v3m26-6v3m22-6v3m124-26v3m43-23v3m41-38v3m24-23v3m50-60v3m31-43v3m5-12v3m12-26v3m17-49v3m14-28v2m10-37v3"/>
<path stroke="#d2e11b" d="M44 360v3m137-8v3m7-12v3m38-3v3m12-6v3m103-43v3m31-23v3m22-20v3m55-63v2m79-160v3m24-38v3"/>
<path stroke="#d4e11a" d="M90 358v2m19 3v3m14-11v3m108-21v3m12-5v2m60-23v3m43-17v3m67-63v3m50-66v3m19-35v3m5-11v3m24-52v3m0 6v2m17-43v3m2-17v3"/>
<path stroke="#d7e219" d="M92 358v2m79-11v3m41-3v3m7-12v3m103-37v3m26-17v2m22-17v3m50-40v3m41-55v3m81-181v3m0 3v3"/>
<path stroke="#dae218" d="M49 360v3m19 3v3m67-9v3m24-5v2m31-14v3m58-9v3m33-20v3m29-14v2m43-25v3m53-38v3m69-92v3m19-37v3m5-20v3"/>
<path stroke="#dce218" d="M18 363v3m36-6v3m50 0v3m48-14v3m43-3v3m29-9v3m12-6v3m19-14v3m12 0v2m91-51v3m86-78v3m24-37v3m24-52v3m24-46v3m2-9v3m5-14v3m12-35v3"/>
<path stroke="#dfe318" d="M6 363v3m50-6v3m41-5v2m5 3v3m26-11v3m5 2v3m24-5v2m50-17v3m98-26v3m29-23v3m48-34v2m14-8v3m29-32v3m31-49v3m17-29v3m62-134v2"/>
<path stroke="#e1e318" d="M176 355v3m98-32v3m17-3v3m7-6v3m19-17v3m12-3v3m60-49v3m38-35v3m12-17v3m41-63v3m24-49v3m2-15v3m34-80v3m2-12v3"/>
<path stroke="#e4e318" d="M25 363v3m24 0v3m12-9v3m41-5v2m74-11v3m98-20v3m17-15v3m7-6v3m19-6v3m12-14v3m79-60v3m0 2v3m24-34v3m0 3v2m5-14v3m0 3v3M540 19v3m7-22v5"/>
<path stroke="#e7e419" d="M66 366v3m31-6v3m7-8v2m24 0v3m5-8v3m19 0v2m5-8v3m38-9v3m12 0v3m17-12v3m12-6v3m19-3v3m50-26v3m29-11v3m24-17v2m24-20v3m7-8v2m7-14v3m29-32v3m2-5v2m12-17v3m17-20v3m24-46v3m24-49v3"/>
<path stroke="#e9e419" d="M6 366v3m24-3v3m5-3v3m26-3v3m5-9v3m2-3v3m24 0v3m43-11v3m24-6v3m31-3v3m58-20v2m19-8v3m14-3v3m29-15v3m43-26v3m53-48v2m38-45v2m24-37v3m5-6v3m33-66v3m12-34v2m5-14v3m5-14v2m2-5v3m5-18v3"/>
<path stroke="#ece41a" d="M90 363v3m19-8v2m14 0v3m48-8v3m10-9v3m31-9v3m7 0v3m12-6v3m12-6v3m60-23v3m19-11v2m24-20v3m2 0v3m22-17v3m50-52v3m55-77v2m17-28v3m24-58v3m12-29v3m2-11v3"/>
<path stroke="#eee51b" d="M30 363v3m26 0v3m17-9v3m12 0v3m26-8v2m10 0v3m19-8v3m7 0v2m22-5v3m19-6v3m38-15v3m12-6v3m22-8v3m2 0v2m31-17v3m43-23v3m5-6v3m31-23v3m5-3v3m17-20v3m7-6v3m12-14v3m36-49v3m12-20v2m2-2v2m19-34v3m5-12v3m7-20v3m5-9v3m12-28v3m12-32v3"/>
<path stroke="#f1e51c" d="M35 363v3m9 0v3m10-3v3m24-9v3m2-3v6m36-8v5m29-5v2m19-8v3m19-6v3m17-6v3m2 0v3m12-9v3m36-11v2m19-8v3m10-3v3m7-9v3m29-12v3m12-8v3m33-26v3m5-3v3m19-18v3m31-34v6m36-49v6m31-55v3m5-11v2m24-51v3m5-12v3m2-9v3"/>
<path stroke="#f3e51e" d="M23 363v3m55-3v3m7-6v3m26-3v3m10-5v2m19-2v2m5-5v3m2-3v3m17-3v3m5-6v3m14-3v3m17-6v3m2-6v3m12-3v3m12-6v3m12-6v3m12-6v3m10-5v2m2-5v3m7-3v3m10-9v3m7-3v3m7-6v3m22-14v2m12-8v3m9-6v3m5-6v3m19-14v3m5-9v3m7-6v3m5-9v3m7-8v2m10-8v3m7-12v3m12-14v3m7-9v3m29-37v3m12-21v3m2-8v3m5-9v3m5-12v3m2-6v3m5-11v3m12-26v3m2-6v3m5-14v2m5-11v3m2-9v3"/>
<path stroke="#f6e61f" d="M11 363v3m2-3v3m24-3v3m5-3v6m2-6v3m5-3v3m5-3v3m2-3v3m5-3v3m5-3v3m2-3v3m5-3v3m17-6v3m2-3v3m5-3v3m5-3v3m2-3v3m5-3v3m14-5v2m5-2v2m5-2v2m2-2v2m17-5v3m5-3v3m2-3v3m12-6v3m5-3v3m5-3v3m7-6v3m2-3v3m5-3v3m12-6v3m5-3v3m7-6v3m5-3v3m7-6v3m5-3v3m7-6v3m5-3v3m7-5v2m12-5v3m7-6v3m7-6v3m10-6v3m7-6v3m5-6v3m2-3v3m5-6v3m7-5v2m5-5v3m7-6v3m5-6v3m12-9v3m2-6v3m5-5v2m5-5v3m12-12v3m12-12v3m7-8v3m7-9v3m10-12v3m2-5v2m17-20v3m2-6v3m5-8v3m5-9v3m2-6v3m5-9v3m12-20v3"/>
<path stroke="#f8e621" d="M37 366v3"/>
<path stroke="#fae622" d="M23 366v3"/>
<path stroke="#fde724" d="M11 366v3m2-3v3"/>
</g>
<g stroke-width="3" transform="translate(.5)">
<path stroke="#440154" d="M587 366v3"/>
<path stroke="#45085b" d="M587 363v3"/>
<path stroke="#460c5f" d="M587 360v3"/>
<path stroke="#471163" d="M587 358v2"/>
<path stroke="#471567" d="M587 355v3"/>
<path stroke="#48196b" d="M556 366v3m31-17v3"/>
<path stroke="#481c6e" d="M587 349v3"/>
<path stroke="#481d6f" d="M587 346v3"/>
<path stroke="#482071" d="M252 0v2m335 341v3"/>
<path stroke="#482273" d="M587 340v3m5-343v2"/>
<path stroke="#482374" d="M587 337v3m5 26v3"/>
<path stroke="#472575" d="M240 0v2"/>
<path stroke="#472676" d="M568 352v6m7 8v3m12-34v2"/>
<path stroke="#472777" d="M525 366v3m62-37v3m5-333v14"/>
<path stroke="#472878" d="M568 366v3m19-40v3m5-316v9m0 324v17"/>
<path stroke="#472a79" d="M568 358v2m24-335v8m0 307v9"/>
<path stroke="#472b7a" d="M575 360v6m12-40v3m5-296v6m0 293v8"/>
<path stroke="#472c7b" d="M568 360v3m7-8v5m5 6v3m7-46v3m5-287v3m0 284v6"/>
<path stroke="#462d7c" d="M252 2v3m273 358v3m43-17v3m0 11v3m7-17v6m12-35v3m5-281v6m0 272v6"/>
<path stroke="#462f7c" d="M240 2v3m285 355v3m50-17v3m12-32v3m5-272v3m0 263v6"/>
<path stroke="#46307d" d="M3 16v3m163 55v11m409 258v3m17-295v5m0 256v2"/>
<path stroke="#46317e" d="M166 65v9m0 11v3m12-88v2m50-2v2m297 356v2m50-20v3m5 20v3m7-52v3m5-261v3m0 247v6"/>
<path stroke="#45327f" d="M166 59v6m0 23v3m409 246v3m5 12v11m7-51v2m5-255v3m0 241v3"/>
<path stroke="#45347f" d="M166 56v3m409 276v2m5 9v6m12-290v3m0 235v3"/>
<path stroke="#453580" d="M166 53v3m0 35v3m359 261v3m43-12v3m7-17v3m5 8v3m7-37v3m5-247v3m0 226v6"/>
<path stroke="#453681" d="M166 51v2m0 41v3m67-81v3m7-14v3m12-3v3m323 321v3m5 8v3m7-37v3m5-241v3m0 221v2"/>
<path stroke="#443781" d="M166 48v3m359 301v3m55-20v5m7-37v3m5-235v3m0 215v3"/>
<path stroke="#443982" d="M3 19v3m163 75v2M391 0v2m184 324v3m5 3v3m7-335v2m5 72v2m0 210v3"/>
<path stroke="#433a83" d="M166 45v3m62-46v3m347 318v3m5 3v3m7-32v3m5-227v3m0 204v3"/>
<path stroke="#433b83" d="M130 0v2m36 97v3m86-94v2m273 339v3m55-26v3m7-32v3m5-221v3m0 198v3"/>
<path stroke="#433c84" d="M32 31v2m134 9v3m0 57v3m402 238v3m7-26v3m5 0v3m7-324v3m5 77v3m0 192v3"/>
<path stroke="#423d84" d="M32 28v3m0 2v3M240 8v2m48-10v2m103 0v8m134 336v3M587 5v8m0 281v3m5-212v3m0 186v3"/>
<path stroke="#423e85" d="M166 39v3m0 63v3m86-98v3m139-3v3m122 353v3m62-161v9m0 100v3m5 0v3m7-310v6m5 69v3m0 180v3"/>
<path stroke="#424085" d="M8 13v3m19 3v3m5 14v3m359-26v3m184 187v5m0 9v3m5 97v3m7-301v6m0 267v2m5-203v3"/>
<path stroke="#414186" d="M166 108v3M228 5v3m24 5v3m139 0v3m134 324v3m38 20v3m12-172v6m0 17v3m0 91v3m5-3v3m7-292v3m0 261v3m5-23v2"/>
<path stroke="#414286" d="M3 22v3m17-9v3m12 6v3m0 11v3m134 69v3m86-98v3m43 40v3m273 278v3m7-149v3m12-169v5m5 61v3m0 169v3"/>
<path stroke="#404387" d="M27 22v3m139 11v3m67-39v2m38 20v3m17-23v3m213 361v3m12-6v3m62-178v6m0 29v3m0 86v2m5-2v2m7-281v3m0 250v3m5-192v2m0 164v3"/>
<path stroke="#404487" d="M20 19v3m12 20v3m134 69v3m74-107v3m12 6v3m0 135v3m12-132v3m7-31v2m24 60v3m96-46v3m184 163v3m5 121v3m7-276v3m0 158v3m5 60v3"/>
<path stroke="#3f4587" d="M32 45v3m134 69v2m86 41v2M288 5v3m225 352v3m12-23v3m38 20v3m12-183v2m0 41v2m12-189v3m0 241v3m5-187v3"/>
<path stroke="#3f4788" d="M3 25v3m24-3v3m12 3v5M216 0v2m29-2v2m26 17v3m120 0v3m122 333v2m50 0v3m5-26v3m7-160v3m0 126v3m5-6v3m7-267v3m0 149v3m5-95v3m0 152v3"/>
<path stroke="#3e4888" d="M3 13v3m5 0v3m24 3v3m0 23v3m7-15v3m127-6v3m0 83v3m50-83v9m36 106v3M288 8v2m7 55v3M441 0v2m60 361v3m62-8v2m12-183v3m12-135v3m0 232v3"/>
<path stroke="#3e4989" d="M3 28v3m24-15v3m12 9v3m43 0v8m84 83v3M228 8v2m5-8v3m38-3v17m0 6v3m24 40v6m96-49v3m110 332v3m12-8v3m62-184v3m0 51v3m5 72v3m7-258v3m5 54v3m0 146v3"/>
<path stroke="#3d4a89" d="M27 28v3m5 20v2m7-14v3m7-9v3m36-8v3m72-31v2m12 123v3m7-106v3m5-23v3m7 31v9m19 11v9m12-17v3m60-51v2m12 8v3m7 61v2m151 290v3m55-11v2m24-23v3m7 26v3m5-3v3m26-14v3M575 0v2m0 169v3m0 132v3m5-309v2m0 198v6m7-155v2m0 224v3m5-29v3"/>
<path stroke="#3d4b89" d="M3 31v2m29 20v3m7-14v3m7-17v5m0 3v6m12-32v3m24 26v3m48-26v3m55 26v3m19 0v8m0 9v6m12-20v2m17-48v3m19 143v3m0 8v3m43-89v3m96-51v3m110 324v3m12-6v3m62-187v3m5 26v3m0 100v3m7-250v3m5 52v3"/>
<path stroke="#3d4c89" d="M3 33v3m17-14v3m7 6v2m5 23v3m7-34v3m7 14v3m5-32v6m19 9v8m12 6v3m36-17v11m48 89v3m38-92v9m0 23v3m12-72v3m0 31v3m24-26v3m0 23v3m5-40v3m43 8v3m7 63v3m17-82v2m38-2v2m163 347v3m31-43v8m19 35v3m5-20v2m7-172v3m0 63v3m5-28v2m12 41v2"/>
<path stroke="#3c4d8a" d="M27 33v3m5-17v3m0 37v3m7-17v3m7-23v3m0 17v3m24-12v6m43-14v3m5 8v3m48-11v2m0 98v3m19-101v3m0 12v3m19-15v3m0 35v2m12-23v3m17-48v2m0 3v3m7 26v3m55 37v3m96-54v2m110 319v3m43-49v3m0 8v3m36-126v3m0 100v3m7-244v3m0 215v3m5-166v3"/>
<path stroke="#3c4e8a" d="M3 36v3m24-3v3m12 9v3m7-3v3m24-26v3m0 14v3m12-20v3m0 17v3m5-17v8m26-8v2m5 9v6m24-15v9m24 92v3m19-86v2m31 3v3m5-59v2m12 8v3m12-8v3m7 14v3m0 123v3M276 2v3m12 11v3m0 164v2m213 164v3m12-6v3m7-78v3m5 61v2m19-34v3m0 14v3m12 40v3M575 2v3m0 157v3m0 138v3m5-304v11m7 46v3m5 184v3"/>
<path stroke="#3b508a" d="M3 39v3m5-23v3m24 40v3m14-14v2m24-8v3m12 0v3m5-23v3m0 8v6m26-20v3m0 5v3m5-11v3m0 20v3m24-20v2m0 9v6m24 89v3M185 0v2m0 51v3m12-56v2m7-2v2m0 31v3m0 40v3m12-74v3m0 51v3m24-17v3m48 132v3m7-98v3m96-55v3m129 233v2m12 92v3m12-69v6m0 20v3m19 23v3m12-192v2m0 72v3m5-224v6m0 172v3m0 14v3m0 83v3m7-235v3m0 126v3m0 77v3m5-160v3"/>
<path stroke="#3b518a" d="M3 42v6m17-23v3m7 11v3m5 23v3m7-46v3m0 26v2m7-31v3m0 28v3m24-34v3m0 23v3m17-6v3m12-35v3m14 20v3m5 12v5m24-8v5m62 26v3m5-82v2m19 8v3m0 26v6m12 3v3m5-43v2m7 29v9m0 97v3m0 17v3M276 5v3m7-8v2m5 17v3m7 34v3m29-59v2m93-2v2m84 344v3m12-6v3m19 14v3m5 0v3m7-72v3m19-31v5m5 61v3m7-330v3m5 11v3m12 221v3"/>
<path stroke="#3a528b" d="M3 48v3m24-9v6m5 20v3m7-18v3m7 0v3m5-40v3m19 29v2m12-2v2m5-28v3m0 20v3m12-35v3m14 20v3m5 14v3m24-6v3m24 84v2m19-86v3m7-59v2m12 80v3m12-23v3m12-20v3m24 0v5m0 89v3m43-57v3m5-58v3m12-34v3m38-3v3m41 31v3m110 304v3m12-6v3m19-37v3m0 49v2m12-68v2m0 32v3m19-69v6m0 5v3M575 8v2m0 147v3m5-138v6m0 160v3m7-126v3m5 49v2"/>
<path stroke="#3a538b" d="M3 51v2m5-31v3m12-12v3m0 12v3m7 17v3m5 20v3m7-18v3m7 0v3m12-49v3m12 37v3m12-34v3m0 28v3m5-5v2m26-31v3m0 17v3m5 14v6m24-37v3m0 25v6m24-34v3m0 111v3m19-114v2m0 26v3m31 3v3m5-66v11m7 35v3m12 0v2m5-43v3m7 23v3m0 14v6m24-51v2m12 12v3m7 66v3m17-89v3m38-3v3m163 329v3m7-74v3m0 5v3m24 12v3m19-38v6m0 14v3m0 69v3m12-195v3m0 143v3m5-275v3m0 261v2m7-226v3m0 198v2m5-31v3"/>
<path stroke="#39548b" d="M3 53v6m24-46v3m0 35v2m5-37v3m0 55v2m14-57v3m0 40v3m24-9v3m5-34v6m7 25v3m5-6v3m12-37v3m14 23v6m5 14v6m24-9v3m24 80v3m7-148v2m0 23v3m12 34v3m19-34v2m0 52v3m12-55v3m0 32v3m5-58v3m7 20v3m0 12v2m12-17v3m0 14v3m12 3v6m0 75v2m0 26v3m5-171v2m31 175v3m0 5v3m7-188v2m5-2v2m7-2v2m84 37v3m50-40v3m60 335v3m31 12v3m5 2v3m7-77v3m5 17v11m14-66v3m12-244v3m0 224v3m5-209v2m0 152v3m0 23v3m7-26v3"/>
<path stroke="#39558b" d="M3 10v3m0 46v3m5-37v3m7-6v9m5 0v2m7 20v3m5 20v3m7-60v3m0 37v3m7 3v3m5-46v3m7-9v3m12 0v3m0 37v3m5-40v3m0 6v2m7 26v3m5-40v3m0 31v3m26-8v2m5-31v3m0 46v5m7-57v6m17 40v6m24 77v3m19-86v3m12-66v3m7-3v3m0 83v3m5-89v8m7 61v3m12-21v3m12-40v3m0 37v3m5-46v3m0 3v3m7 43v9m0 60v6m24-130v3m7-11v3m5 20v3m7 66v3m17-89v2m12-8v3m19 112v5m43 244v3m5-327v3m110 292v3m12-5v2m7-74v3m5 66v3m12-29v11m7-34v3m0 43v3m5-35v9m0 11v6m14-77v5m0 26v3m5-40v9m7-98v3m5-121v3m7 35v3m5 45v3"/>
<path stroke="#38568b" d="M3 62v6m5-58v3m7 18v5m5-3v3m7 20v6m5 17v3m7-20v3m7 3v3m17-58v6m7 43v3m5-32v6m12 20v6m12-43v3m14 28v6m5 17v9m12-66v3m12 3v3m0 43v3m12-72v3m0 17v3m12 126v3m19-86v3m7-69v3m12 86v3m12-86v2m0 64v2m29-60v3m7 55v8m0 46v6M264 0v2m7 49v17m5-55v3m7-11v3m41-3v3m7-8v2m12 109v6m0 5v3m7-117v2m67-8v3m96 327v3m19 17v3m5-55v6m7-26v3m5 9v5m14-54v3m5-15v9m0 9v5m0 75v3m7-319v3m5 20v3m0 144v2m0 104v3m7-218v2m0 109v3m0 78v3m5-32v3"/>
<path stroke="#38578c" d="M3 68v6m5-46v3m7-12v3m0 14v3m5-3v3m7 23v6m5 14v6m7-23v3m7 3v3m5-49v3m7-9v3m5-3v3m7 43v3m5-49v3m0 17v3m7 20v3m5 0v3m12-43v3m14 31v3m5 23v6m7-66v3m12 0v14m5 32v5m12-54v3m12 126v3m19-86v3m7-69v3m12-3v3m0 86v3m5-87v3m7 63v3m12-23v3m12 0v3m12 20v15m0 22v9m19-60v6m12-66v2m12 87v2m17-89v3m12-5v2m19 98v3m0 14v3m48-83v3m55 315v3m55-31v2m12-8v3m24-38v6m7-23v3m5 9v3m0 31v3m14-89v6m0 100v3m5-120v5m0 23v3m24-135v3"/>
<path stroke="#37588c" d="M3 74v2m12-37v6m5-6v3m7 26v3m5 17v3m7-23v3m7 3v5m24-11v6m5-32v3m7-26v3m0 43v3m5 0v3m7-52v3m5 6v3m14 31v6m5 23v8m19-57v6m5 31v3m12-63v3m0 6v3m12 126v3m7-132v3m12-29v3m12 26v2m7 64v2m12-20v3m12-23v3m12 0v3m12 32v22m0 52v3m5-172v6m14 40v3m0 23v5m5-63v3m7-9v3m5 15v3m0 143v3m7-175v26m0 71v3m5-100v6m0 23v2m7-31v8m5 3v3m26-16v2m5 103v3m7-98v3m41 35v3m62-51v2m48 330v3m12-9v3m7-69v3m12 86v3m5-63v5m0 23v3m7-46v3m0 55v3m5-52v6m0 37v3m7-35v18m7-78v3m0 43v3m5-63v6m0 31v3m7-244v3m0 129v3m0 146v3m5-261v3m0 138v3m0 31v3m7-141v3m0 104v2"/>
<path stroke="#37598c" d="M3 76v6m5-51v2m7-17v3m0 26v3m5-6v3m7 26v5m5 15v3m7-23v3m7-58v3m0 60v3m5-54v3m7-9v3m5-3v3m7 49v2m5-31v6m7 17v3m5-52v3m0 49v3m7-52v3m5 6v2m7-14v9m7 40v3m5 28v6m7-77v3m5-9v3m7 0v3m0 20v5m5 29v6m7-63v8m5-2v2m31-5v3m0 43v2m7-48v11m12 60v3m12-20v3m12-23v3m12 0v3m5-35v3m12-28v5m7 12v3m7 51v9m12-75v3m12 12v3m0 71v3m5-97v11m0 9v3m0 5v3m7-29v9m17-9v3m19 86v6m0 23v3m7-118v3m67-11v3m84 321v3m12-9v3m24-43v6m7-18v3m5 3v6m7 6v5m0 18v2m0 46v3m7-135v6m5-20v6m0 40v3m7-23v3m5-201v3m0 241v3m7-26v3m5-32v3"/>
<path stroke="#365a8c" d="M3 82v6m5-55v3m7 12v5m5-8v3m7 28v6m5 12v3m7-23v2m7 6v3m5-54v2m7-8v3m5-3v3m7 48v3m5-28v2m7 18v3m5 0v2m7-60v3m0 6v6m5 2v3m7-8v3m7-12v3m0 49v5m5 29v9m7-83v2m12 20v3m5 32v3m7-58v3m5-3v3m7-5v5m5 124v2m7-160v3m0 26v2m12 43v3m7-40v6m5-40v3m0 20v3m0 2v3m19 49v3m12-75v3m0 49v3m12 0v3m12 103v3m5-164v6m7-17v6m7 80v6m5-75v3m7-6v3m5 152v3m0 14v3m12-172v9m7-9v6m5-9v3m7-19v2m5 11v3m7-14v14m12 81v2m48-48v2m50-48v3m79 249v3m0 106v3m17-95v9m0 75v2m7-91v2m5 0v6m0 52v3m7-49v6m7-63v2m5-20v6m7-195v3m0 123v3m5-103v3m0 129v3m7-101v3m0 98v3m0 17v3"/>
<path stroke="#365b8c" d="M3 88v6m5-58v3m7 14v3m5-8v3m7 31v6m5-75v3m0 81v2m7-83v3m0 57v3m7 6v3m5-55v3m19-20v3m0 60v3m5-66v3m0 34v6m7 15v2m5 0v3m7-48v2m5 3v3m7-8v2m7 43v6m5 32v8m7-89v3m5-11v3m7-28v2m0 54v6m5 29v6m7-75v3m0 11v3m5-3v6m7-42v2m0 26v3m0 5v6m5-17v3m0 134v3M178 5v3m7 71v3m7-74v2m0 15v3m0 17v6m5-15v3m7 63v3m12-17v3m12-58v3m0 32v3m12 0v3m5-52v3m12-6v3m7-14v17m7 69v8m5-80v3m12 31v6m7-31v2m0 72v3m12-83v3m5-9v3m12-6v3m7-3v6m12 34v3m0 35v3m0 34v3m7-118v3m41 34v3m110 270v3m12-9v3m7-69v3m0 20v3m5 49v3m7 14v3m5-80v5m7-11v6m5 0v2m7 6v6m7-63v6m0 114v3m5-137v2m0 55v3m0 60v3m12-281v3m12 74v3"/>
<path stroke="#355c8c" d="M3 94v5m5-60v3m7 14v6m5-11v5m7 32v6m5 5v6m7-26v3m7 6v3m5-81v3m0 23v3m7-31v2m0 18v3m5-3v3m7 51v3m5-26v3m7 14v3m5 0v6m7-52v3m5 3v3m7-9v3m7 46v6m5-69v3m0 100v12m7-98v3m5-11v3m7 31v3m5-43v3m0 72v2m7-60v3m5 0v3m7-3v6m5 117v3m7-135v3m12 46v6m7-37v5m5-17v3m7 63v3m12-17v3m12-23v3m12 0v2m17-54v3m14 3v3m0 14v3m0 54v6m12-89v3m5 31v3m0 6v6m0 100v3m7-63v3m12-83v3m17-12v3m7 0v6m7-26v8m5 43v3m0 32v6m0 40v3m48-43v3m26-89v2m36-8v3m48 318v3m12-9v3m24-63v12m7-9v3m0 72v2m5-74v6m7 0v8m0 37v3m7-100v3m0 63v3m5-86v6m7-184v3m5 149v3m0 40v3m7-138v3m0 92v3m0 80v3"/>
<path stroke="#355d8c" d="M3 99v9m5-66v6m7-35v3m0 46v3m5-9v3m7 35v5m5 6v3m7-26v3m7 6v3m5-55v3m7-11v2m5-2v2m7 52v6m5-29v6m7 11v3m5 3v3m7-52v3m5 3v3m7-9v3m7 49v6m5 40v8m7-103v3m5-11v2m7-11v3m0 40v6m5 28v6m7-63v6m5-3v3m7-23v3m0 20v3m5 117v3m7-135v3m5-11v11m7 49v3m7-35v6m5-20v3m7-37v2m0 98v3m12-101v3m0 81v3m5-66v5m7 38v2m12 0v3m12 98v3m19-72v6m12-92v3m5 6v2m0 35v8m0 89v3m7-57v3m12-83v2m5-11v3m19 3v5m7-23v15m5-25v2m0 83v3m7-69v3m12-22v2m29 54v3m62-54v5m48 310v3m12-9v3m7-66v3m0 72v26m17-103v8m7 0v3m5 0v3m0 69v3m7-72v6m7-58v6m5-20v3m0 66v3m7-127v3m5-94v2m0 230v3m12-55v3"/>
<path stroke="#345e8d" d="M3 108v6m5-66v3m7 14v6m5-12v6m7 34v6m5 3v3m7-26v3m7 6v5m5-57v3m7-12v3m5-26v3m0 20v3m7 55v3m5-26v6m7 8v3m5 3v3m7-52v3m5 3v6m7-35v3m0 20v3m7 52v5m5 43v12m7-138v3m0 23v3m5-12v3m7 35v3m5 31v6m7-63v3m5-3v5m7-2v5m5-56v2m0 169v3m7-135v6m5-6v6m7 46v3m7-32v6m5-23v3m7-20v3m0 80v3m5-83v11m7-11v2m0 64v2m5-63v3m7 37v6m5-49v6m7 40v3m17-57v3m14 86v5m5-94v3m7-3v3m5 48v6m0 80v3m0 26v3m19-161v3m5-11v3m7-26v3m5 17v3m7 8v3m7-11v8m5 18v2m0 29v3m0 52v3m7-118v3m41 34v3m26-52v3m24-5v2m5 350v3m7-353v6m48 301v3m12-8v2m7 9v3m0 26v14m12-63v3m5-69v12m0 71v3m7-69v3m5-3v6m7-3v6m7-55v3m5-17v3m7-172v3m0 215v3m0 48v3m12-212v3m5 40v3"/>
<path stroke="#345f8d" d="M3 114v5m5-68v2m7 18v5m5-66v3m0 52v3m7-58v3m0 92v6m5 0v6m7-29v3m7-78v3m0 83v3m5-57v3m7-12v6m5-6v3m7 55v3m5-23v5m7-63v3m0 66v6m5-75v3m0 72v3m7-52v3m5 6v2m7-11v3m7 54v6m5 49v14m7-123v3m5-12v3m7 35v5m5 32v3m7-63v2m5 0v6m7-3v3m5 115v3m7-132v3m5-3v6m7 43v3m7-29v8m5-28v3m7 63v5m5-77v6m7 51v3m5-63v6m7 37v3m5-46v3m7 40v3m5-49v3m7 141v3m12-141v14m7 63v6m17-43v9m0 69v2m7-109v3m0 58v3m17-89v3m7-26v14m0 46v3m5-43v3m7 8v3m7-6v6m5 3v9m7-26v3m5-28v2m36 60v3m12-65v2m50 14v3m60 290v3m7-63v2m0 69v3m5-49v9m7 26v3m5-84v9m7 12v5m5-5v5m7-3v6m7-54v5m5-20v6m12-141v3m0 115v3m7 0v3"/>
<path stroke="#33608d" d="M3 8v2m0 109v6m5-72v6m7 17v6m5-14v6m7 37v6m5 0v2m7-28v3m7 8v3m5-57v5m7-11v3m5-6v3m7 55v5m5-23v6m7 6v3m5 0v5m7-86v3m0 29v6m5-51v2m0 51v6m7-14v3m7 57v6m5 57v15m7-135v5m5-14v3m7 37v3m5 32v5m7-66v6m5 0v3m7-3v6m5 112v3m7-132v3m5-26v3m0 23v2m7 44v2m7-23v6m5-31v5m7 63v3m5-74v5m7 49v6m5-63v3m7 37v3m5-46v3m7 40v6m5-52v3m19 14v9m7 60v6m12-103v3m5 60v11m0 52v6m7-127v3m0 81v2m12-57v3m12-46v9m5 0v3m7 8v3m7-3v6m5-32v29m0 98v2m7-114v3m5 34v3m36-3v3m26-55v3m36 3v3m17 344v3m31-55v3m12-11v3m7-63v3m5 20v5m0 9v3m7 57v3m5-129v11m7 18v3m5-3v3m7-3v5m0 66v3m7-120v3m0 134v3m5-155v3m7-160v3m0 109v2m5-86v3m7 29v3m0 166v3"/>
<path stroke="#33618d" d="M3 125v6m5-72v6m7 17v3m5-11v5m7 38v5m5-3v3m7-109v3m0 78v5m7 6v6m5-58v3m7-11v3m5-6v6m7 54v3m5-20v6m7 3v3m5 2v3m7-51v2m5 6v6m7-17v5m7 58v6m5 66v17m7-147v3m5-14v3m7 37v6m5 31v3m7-122v2m0 57v6m5-3v6m7-3v6m5 109v3m7-178v3m0 43v5m5-3v6m7-54v3m0 91v3m7-20v6m5-32v3m7 63v3m5-97v3m0 22v6m7 49v3m5-63v5m7 35v3m5-46v6m7-18v3m0 55v3m5-52v3m7 138v2m5-146v6m7 20v9m7 57v6m5-109v3m12 20v2m0 49v15m0 28v9m7-35v3m12-57v3m5-37v2m7-5v5m5-2v2m7 9v3m7 0v3m0 28v3m5-77v11m0 66v3m0 60v3M362 2v8m29 58v3m62-49v3m12-25v2m36 310v2m12-11v3m7 11v3m5-54v3m7 31v3m5-97v11m0 138v3m7-115v3m0 91v3m5-100v6m0 89v2m7-97v6m0 112v2m7-163v3m0 86v3m5-106v2m0 84v2m0 52v3m7-295v2m5 135v3m0 49v3m0 57v3"/>
<path stroke="#32628d" d="M3 131v6m5-72v3m7 17v6m5-12v6m7 37v6m5-6v6m7-29v3m7 9v3m5-58v6m7-14v3m5-3v3m7-38v3m0 89v3m5-17v6m7 0v2m5 3v3m7-52v6m5 6v3m7-15v3m7 61v8m5 75v11m7-155v6m5-17v6m7-32v3m0 66v6m5 28v6m7-63v6m5-3v6m7-3v5m5 107v2m7-129v3m5 0v6m7 37v6m7-20v9m5-89v2m0 49v6m7 60v3m5-69v3m7 49v3m5-61v6m7 32v3m5-63v2m0 18v2m7-34v3m0 72v3m5-52v6m12-15v3m0 6v6m7 23v8m7 55v3m17-23v28m0 49v3m7-75v3m12-89v3m0 29v3m5-38v3m7-3v3m5-3v6m7 32v5m7-28v3m0 28v3m0 101v8m12-160v2m12-23v9m29 52v3m26-58v3m24-9v3m60 296v3m12-12v3m7-60v3m5 14v6m0 20v3m0 37v3m12-129v6m7 31v6m5-9v6m7-9v9m7-49v6m5-17v3m12-124v3m7 29v3m0 77v3m5-43v3m0 94v3"/>
<path stroke="#32638d" d="M3 137v8m5-77v6m7 17v6m5-12v6m7 37v6m5-6v3m7-29v3m7 9v3m5-55v6m7-17v5m5-5v5m7 52v6m5-101v3m0 81v5m7-3v3m5 3v6m7-52v3m5-52v3m0 55v6m7-18v6m7 63v6m5 80v9m7-158v3m5-52v3m0 35v2m7 41v3m5 31v6m7-115v3m0 49v5m5-2v5m7-57v3m0 51v3m5 106v3m7-129v6m5 0v6m7-46v3m0 80v3m7-14v5m5-37v3m7 60v3m5-69v6m7 46v3m5-58v6m7 29v3m5-44v6m7 38v2m5-48v2m7 132v3m5-137v5m7 26v9m7 49v5m5-97v5m19 72v3m12-69v3m0 9v3m5-38v3m7-3v3m0 29v3m5-32v3m7 3v3m7 34v3m0 95v3m0 8v3m5-49v3m7-115v3m5-34v11m7 6v9m5 338v3m31-229v8m5-146v8m7-10v2m0 92v11m36 253v2m7-335v3m48 278v3m12-12v3m7-60v3m5 14v3m7 37v3m5-109v9m7 34v3m5-6v3m7-8v5m7-43v3m5-17v6m7-147v3m0 101v3m5 25v3"/>
<path stroke="#31648d" d="M3 145v6M8 8v2m0 64v5m7-69v3m0 84v5m5-11v6m7 37v6m5-9v3m7-29v3m7 9v5m5-54v6m7-18v6m5-6v3m7 55v3m5-15v6m7-6v6m5 3v3m7-52v6m5 6v5m7-17v6m7-52v3m0 112v6m5 83v6m7-161v6m5-18v6m7 38v5m5-83v3m0 112v3m7-61v6m5-3v6m7-83v3m0 74v6m5-63v3m0 163v3m7-126v6m5 0v3m7 37v3m7-12v9m5-43v6m7 57v3m5-66v6m7 43v5m5-57v3m7 29v5m5-43v6m7 34v3m5-49v6m12-3v3m7 32v6m7 48v6m5-98v3m7-25v2m12 95v3m12-57v2m12-37v3m5 0v3m14 6v2m0 32v9m0 83v3m5-32v3m7-115v6m5-29v12m7 3v5m5-33v2m12-2v2m12 72v2m7 61v3m0 8v3m5-141v6m7 72v6m0 11v3m0 23v3m7-115v3m5 344v3m19-356v3m12 12v3m48 272v3m12-12v3m7-60v3m0 74v3m5-63v3m12-72v6m7 37v6m5-8v5m7-11v6m7-41v3m5-17v3m7 72v3m5-187v3m7 29v3"/>
<path stroke="#31658d" d="M3 151v6m5-78v6m7 17v6m5-11v5m7 38v5m5-135v3m0 121v6m7-32v6m7 8v3m5-51v2m7-14v3m5-6v6m7 52v5m5-14v6m7-6v3m5 3v3m7-49v6m5 5v6m7-17v6m7 63v5m5-126v3m0 207v2m7-157v5m5-74v3m0 54v6m7 37v3m5 32v5m7-60v6m5-3v6m7-6v6m5 100v3m7-123v5m5-2v5m7 35v3m7-6v8m5-45v5m7 55v6m5-66v5m7 43v3m5-57v6m7 28v3m5-40v3m7 34v6m5-49v3m7-37v3m0 160v3m5-163v3m0 28v6m7-26v3m0 55v8m7 46v3m5-109v3m0 8v6m7-11v5m5 141v3m7-69v3m5-72v9m7 5v3m17-34v3m7 28v3m7-5v2m0 18v8m0 69v6m0 17v3m12-155v3m5-20v8m7 0v6m29 37v3m7-79v2m0 129v6m0 14v3m5-138v3m7 60v9m43-57v2m12-31v17m5 344v3m26 0v3m5-69v3m12-11v2m7-14v3m5-32v3m7 38v5m5-114v2m7 41v2m5-5v3m7-12v6m7-37v2m5-17v3m0 100v3m7 18v2m5-71v3m7 28v3"/>
<path stroke="#31668d" d="M3 157v5m5-77v6m7 17v6m5-12v6m7 37v6m5-11v2m7-28v3m7 8v6m5-55v6m7-17v6m5-6v6m7 51v3m5-11v8m7-11v3m5 3v5m7-48v5m5 6v9m7-20v5m7 63v6m5 80v3m7-155v6m5-17v3m7 37v6m5 31v6m7-60v6m5-3v8m7-8v6m5-95v3m0 189v3m7-121v6m5-60v3m0 54v6m7 32v5m7-3v6m5-100v3m0 51v6m7 55v2m5-63v6m7 40v3m5-100v3m0 43v8m7 23v3m5-89v3m0 46v6m7 34v3m5-49v6m12-3v6m7 34v9m7 40v3m5-95v3m7-9v6m12 72v3m5-78v3m0 9v5m7 3v6m5-46v3m7 29v3m12-26v3m0 28v3m7 20v12m0 51v6m5-20v3m7-109v3m5-15v9m7-3v6m12-45v2m17 77v6m7 43v3m5-112v6m7 37v17m7-57v3m24-9v3m5 336v3m7-325v3m12-17v14m5 327v3M501 0v2m0 295v3m19-66v3m5 12v2m7 38v3m5-115v6m7 40v3m5-9v6m0 114v3m7-132v6m0 106v3m7-146v6m0 106v3m0 43v2m5-172v3m7-132v3m0 95v3m5-72v3m0 94v3m0 112v3m7-112v3"/>
<path stroke="#30678d" d="M3 162v6m5-77v6m7 17v5m5-11v6m7 37v6m5-15v6m7-31v2m7 12v3m5-52v9m7-20v5m5-5v5m7 49v3m5-6v6m7-115v3m0 98v5m5-106v3m0 106v3m7-46v6m5 9v5m7-20v6m7 63v6m5 77v3m7-152v6m5-20v6m7 37v6m5 31v3m7-57v5m5-83v3m0 80v6m7-8v5m5 95v3m7-118v6m5-3v6m7 31v3m7 0v9m5-49v6m7-81v3m0 129v3m5-132v3m0 69v9m7 34v6m5-52v6m7-72v3m0 12v2m0 75v6m5-40v5m7 32v3m5-46v6m7 117v3m5-123v5m7 38v8m7-80v3m0 112v5m5-97v6m7-23v3m0 11v3m5-32v3m0 164v3m7-66v3m5-64v6m7 3v3m12-46v3m0 29v2m12 6v3m7-32v3m0 58v20m0 23v8m0 32v3m5-46v3m7-109v3m5-9v6m0 14v3m7-20v6m29 34v3m0 3v3m7 31v3m5-103v3m7-26v60m7-37v3m36 8v3m12-6v12m5 313v2m31-66v3m7 69v3m12-138v3m5 9v6m0 40v3m7-6v3m5-115v3m0 146v3m7-109v6m0 117v3m5-132v6m7-14v5m7-34v3m5-15v3m0 155v3m19-226v2m0 104v3m5-72v3"/>
<path stroke="#30688d" d="M3 168v6m5-77v8m7 14v6m5-11v8m7 35v5m5-14v3m7-32v6m7-115v3m0 121v3m5-46v6m7-21v6m5-6v6m7 46v6m5-6v6m7-15v3m5 3v6m7-46v6m5 8v6m7-92v3m0 69v6m7 63v6m5 74v3m7-149v9m5-23v5m7 38v5m5-122v2m0 149v6m7-58v9m5-3v9m7-12v6m5 92v3m7-184v3m0 66v6m5-3v8m7 26v6m7 3v6m5-49v6m7 48v3m5-54v5m7 35v3m5-121v3m0 69v6m7 20v3m5-38v9m7 26v5m5-45v5m7 115v3m5-121v6m7 40v9m7 31v3m5-94v5m7-11v6m12 69v2m5-60v6m7-49v3m0 46v6m12-18v3m12 6v3m7 46v23m12-106v2m5-5v14m7-11v5m5-54v11m12-11v14m7-16v2m5 86v3m7 31v3m0 29v3m5-129v3m14-3v3m5 332v3m19-347v3m12 17v3m12 3v11m24-56v2m0 364v3m7-6v3m5-74v2m19-66v3m5 9v3m7 37v6m0 54v3m5-172v3m7 40v3m5-9v3m7-14v6m7-32v3m5-14v2m7-123v3m5 118v2m12 64v2"/>
<path stroke="#2f698d" d="M3 174v6m5-75v6m7 14v6m5-9v6m7 34v6m5-17v6m7-32v3m7 9v5m5-45v5m7-20v6m5-6v6m7 46v3m5-3v6m7-18v3m5 6v3m7-43v8m5 6v9m7-23v6m7 63v5m5 72v3m7-143v5m5-23v6m7 37v3m5 32v3m7-52v9m5-112v3m0 106v5m7-11v6m12-20v8m5-3v6m7 26v3m7-112v3m0 115v8m5-51v5m7 46v6m5-55v6m7-92v3m0 121v3m5-46v5m7 18v2m5-31v6m7 25v3m5-43v6m12-52v3m0 46v6m7 43v9m7 25v3m5-92v6m7-11v5m12 66v3m5-89v3m0 29v6m7 0v3m5-35v9m7 8v6m5-37v3m7 37v3m12-15v3m0 78v3m7-107v3m12 0v6m5-49v18m7 48v3m5-66v12m19-26v95m5-66v5m7 72v3m0 23v3m7-106v2m5 327v3m19-341v3m5 327v3m19-299v9m5 290v3m26-9v14m5-74v3m12-3v3m7-66v2m5 9v3m7 34v6m5-112v3m7 37v6m5-11v5m7-17v6m7-29v3m5-14v3m12-92v3m7 180v3"/>
<path stroke="#2f6a8d" d="M3 180v5m5-74v6m7 14v6m5-9v6m7 34v6m5-17v3m7-150v3m0 115v6m7 8v3m5-43v6m7-20v6m5-6v6m7 43v5m5-2v5m7-20v6m5 3v6m7-41v6m5 9v5m7-22v5m7 63v6m5 69v3m7-243v2m0 100v6m5-23v6m7 34v6m5 29v5m7-163v3m0 112v5m5-3v9m7-14v8m5 81v3m7-104v6m5-3v6m7 23v3m7 11v9m5-55v6m7 46v3m5-52v6m7 29v5m5-46v9m7 11v6m5-31v5m7 23v3m5-40v6m7 106v3m5-112v6m7 46v8m7 20v3m5-140v2m0 49v6m7-12v6m5 121v3m7-170v3m0 106v3m5-54v3m7 0v5m5-60v3m0 26v3m7 11v3m12 3v3m7 106v3m5-144v3m0 98v2m7-106v3m12 3v3m5-34v8m7-37v34m5-8v8m19 61v2m0 20v3m0 35v3m5-124v3m7 89v3m7-98v3m5 322v2m31-318v3m12 20v3m5 284v3m26-15v9m5-63v3m19 23v2m5-80v3m0 86v3m7-57v5m5-109v3m0 184v3m7-149v2m5-8v3m7-15v3m0 164v3m7-193v3m5-14v3m7-115v3m0 86v3m0 115v2m12-152v3"/>
<path stroke="#2e6b8e" d="M3 185v6m5-74v8m7 12v5M20 8v2m0 124v6m7 34v6m5-20v5m7-31v3m7 8v6m5-43v9m7-23v8m5-8v5m7 43v3m5 0v6m7-20v3m5 6v2m7-37v6m5 8v9m7-26v9m7 60v6m12-69v9m5-26v8m7 32v6m5 28v6m7-49v9m5-3v6m7-12v6m5 78v2m7-100v9m5-6v6m7 20v5m7-132v3m0 144v5m5-54v6m7 43v3m5-49v8m7-91v3m0 114v3m5-40v6m7 11v3m5-29v9m0 184v2m7-169v6m5-40v8m12-5v5m7 49v9m7 14v3m5-86v3m7-9v6m12 60v3m5-54v5m7 0v3m5-31v5m7 9v6m12 0v5m12 63v3m19-100v3m5-29v9m7-12v20m0 38v3m5-61v6m24-3v3m14-6v3m24-14v3m5 321v3m7-307v3m12 20v6m19 292v3m12-34v5m5-57v3m7 57v23m12-143v3m5 5v3m7 29v6m5-107v3m7 35v6m5-12v6m7-17v5m7-26v3m5-14v3m0 120v3m12-206v3m0 83v3m0 66v2"/>
<path stroke="#2e6c8e" d="M3 191v6m5-72v6m7 11v6m5-8v5m7 35v5m5-20v3m7-31v5m7 9v3m5-37v5m7-20v6m5-9v6m7-95v3m0 132v6m5 0v9m7-26v6m5 2v6m7-37v8m5 9v6m7-23v6m7 60v6m5 60v3m7-129v5m5-23v6m7-89v3m0 118v3m5 31v3m7-43v9m5-6v8m7-123v3m0 106v6m5 74v3m7-94v5m5-5v5m7 20v3m7 17v9m5-57v5m7 41v2m5-137v3m0 91v6m7 23v3m5-37v8m7 6v6m5-26v6m7 17v3m5-35v6m7 95v3m5-104v9m7 49v8m7 9v6m5-89v6m7-9v6m5 112v2m7-57v6m5-55v6m7-3v6m5-32v6m7-40v3m0 14v3m0 29v5m5-28v8m7-28v2m0 46v3m19-43v3m12 6v3m5-23v8m7 0v23m5-37v9m7-49v23m12 135v2m5-120v6m7 89v3m7-101v3m5 313v3m19-330v3m12 17v3m12 23v2m5 273v3m7 14v3m12-52v49m7-37v6m5-55v3m7 49v11m12-123v3m5 3v5m7 26v6m5-103v2m7 35v3m5-12v6m0 146v3m7-166v6m7-23v2m0 130v2m5-146v3m7-106v3m5 226v3m7-112v3"/>
<path stroke="#2e6d8e" d="M3 197v3m5-69v9m7 8v3m5-6v9M27 8v2m0 175v3m5-20v6m7-32v3m7 9v6m5-38v9m7-23v9m5-12v9m7 37v3m5 6v5m7-25v2m5 6v3m7-32v6m5 9v8m7-25v5m7 61v2m5 61v3m7-127v9m5-26v6m7 29v5m5 29v6m7-40v5m5-3v6m7-14v6m5 71v3m7-92v9m5-123v2m0 112v9m7 14v6m7 20v6m5-58v9m7-103v3m0 134v6m5-43v6m7 20v6m5-35v6m7 6v3m5-23v8m7 12v3m5-32v6m7-78v3m0 167v3m5-98v6m7 51v9m7 6v3m5-86v5m7-69v3m0 58v5m12 58v3m5-52v3m7 0v3m5-29v6m7 8v3m5-34v3m0 8v6m7 17v6m7 95v3m5-41v3m24-112v9m12-14v5m7-31v11m17 12v3m14-9v3m5 307v3m7-355v2m5-2v2m7 29v2m5 313v3m7-298v2m5 313v3m7-293v3m5 267v3M489 2v3m0 238v74m7 3v9m5-52v3m7-23v3m0 63v9m12-115v3m5 3v3m7 25v6m5-100v3m7 34v3m5-12v3m7-17v6m7-20v3m0 172v3m24-233v3m5 32v3"/>
<path stroke="#2d6e8e" d="M3 200v6m5-66v5M15 8v2m0 141v6m5-3v6m7 28v6m5-20v3m7-32v3m7 12v2M51 8v2m0 121v6m7-20v5m5-8v5m7 35v6m5-150v3m0 152v6m7-29v6m5 3v6m7-32v9m5 8v6m7-26v9m7 54v6m12-60v9m5-29v8m7 26v6m5 29v3m7-38v9m5-6v9m7-17v5m5 69v3m7-86v6m5-6v6m7-129v2m0 141v3m7 23v8m5-57v6m7 34v3m5-40v9m7 17v3m5-32v9m7 0v3m5-18v6m7 9v5m5-31v8m12-5v5m7 55v9m7 0v2m5-83v9m7-12v6m5 103v3m7-51v2m5-51v6m7-3v5m5-60v3m0 29v6m7 5v6m5-23v6m7 17v3m12 57v3m24-106v6m7 26v2m5-43v6m0 23v3m7-52v12m0 315v3m17-315v5m7 84v2m7-97v3m5-48v2m19 31v3m5 307v3m7-293v3m17 287v3m26-32v6m5-46v3m7 37v9m12-109v3m5 3v3m0 69v2m7-48v5m5-97v3m7 31v6m5-14v5m7-17v3m0 152v3m7-172v3m5-12v3m0 169v3m7-31v3m5-218v2m0 78v3"/>
<path stroke="#2d6f8e" d="M3 206v5m5-66v6m7 6v5m5-2v5m7 29v6m5-23v6m7-35v6m7 8v6m5-31v8m7-23v9M63 8v2m0 109v9m7 32v2m5 9v6m7-29v3m5 6v3m7-150v3m0 121v6m5 8v9m7-26v6m7 54v6m5 52v2m7-238v3m0 124v5m5-26v6m7 26v3m5 29v5m7-34v8m5-5v5m7-17v6m5 66v3m7-83v8m5-8v5m7-120v3m0 129v3m7 28v6m5-181v3m0 121v6m7 31v3m5-34v5m7 15v5m5-28v8m7-5v5m5-17v9m0 152v3m7-150v3m5-26v6m7 81v2m5-177v2m0 86v6m7 58v5m7-3v3m5-77v6m7-12v6m5-63v3m7 111v3m5-126v3m0 75v5m7-66v3m0 60v3m5-25v5m7 6v6m5-23v6m7 14v6m7-61v3m0 147v2m5-37v3m7-112v3m0 17v6m12-17v3m0 17v8m5-28v3m0 17v3m0 269v3m7-267v6m5-43v6m7-20v8m12 61v2m0 43v3m5-109v3m14-11v3m5 298v3m31 14v3m5-369v2m7 77v3m19 258v26m5-361v3m7 301v5m12-8v8m5-57v12m7-58v3m5 3v3m7 20v6m5-95v3m7 31v3m5-11v3m7-18v6m7-17v3m5-12v3m7-97v3m0 77v3m12 118v2m5-28v3"/>
<path stroke="#2c708e" d="M3 211v3m5-63v9m7 2v6m5-3v6m7 29v3m5-20v2m7-31v3m7 11v3m5-26v6m7-20v6m5-9v6m7 28v6m5 9v6m7-32v3m5 6v5m7-25v8m5 9v5m7-25v8m7-132v3m0 181v3m5 51v3m7-109v9m5-29v9m7 20v6m5 28v3m7-29v9m5-9v9m7-20v6m5-152v3m0 212v3m7-215v2m0 135v9m5-12v6m7 9v5m7 29v6m5-57v5m7 29v6m5-35v6m7 14v3m5-23v6m7-6v3m5-11v8m7 0v6m5-26v9m7 74v3m5-86v6m7 57v9m7-9v3m5-74v5m7-11v8m5 92v3m7-163v2m0 112v3m5-46v3m7-3v6m5-26v6m7 6v3m5-20v5m7 15v2m19-31v6m12-6v3m0 8v6m12 0v6m5-43v6m7-18v6m12 37v3m5-43v6m7 77v3m7-94v2m24-17v3m0 327v3m5-29v3m7-287v3m12 23v3m5 255v3m7-343v2m0 356v8m7-43v17m12-37v6m5-38v3m7 26v6m5-52v3m7-49v3m0 72v3m5-72v3m7 17v6m0 72v2m5-166v3m7 29v5m0 158v3m5-175v6m7-17v2m7-14v3m5-11v2m19-37v3"/>
<path stroke="#2c718e" d="M3 5v3m0 206v6m5-60v5m7 3v6m5-3v6m7 26v5M32 8v2m0 175v3m7-31v5m7 9v6m5-26v9m7-23v8m5-11v8m7 26v3m5 12v5m7-34v6m5 5v3m7-20v9m5 5v9m7-26v6m7 49v6m12-52v8m5-28v6m7-138v3m0 155v5m5-149v3m0 172v3m7-178v3m0 152v9m5-9v6m7-172v3m0 149v5m5-143v3m0 201v3m7-72v6m5-12v6m7 8v3m7 32v6m5-58v6m7 29v3m5-32v9m7 8v3m5-20v9m7-12v6m5-9v6m7 0v3m5-20v6m12-9v9m7 57v9m7-175v2m0 158v3m5-72v6m7-9v6m12 43v3m5-118v3m0 69v6m7-3v3m5-23v6m7 3v5m5-20v6m7 11v6m12 49v3m7-83v5m5-11v11m7 6v6m5-37v2m0 18v3m7-15v3m0 26v8m0 247v3m5-295v11m7-23v9m12 94v3m5-103v3m14-15v3m5 290v3m7-347v29m5-29v17m7 20v6m12 14v3m5 281v23m12-29v3m7 9v9m7-49v14m12-26v6m5-301v3m0 264v2m7 23v6m5-49v3m0 15v2m7-65v2m5 3v3m7 14v6m5-89v3m0 178v3m7-152v3m5-12v3m7-17v6m7-15v3m5-11v3m12-64v3m0 72v3m0 74v3"/>
<path stroke="#2c728e" d="M3 220v6m5-61v6m7 3v3m5 0v6m7 25v6m5-26v6m7-32v3m7 12v3m5-20v5m7-20v6m5-9v6m7 23v6m5 11v6m7-34v2m5 6v6m7-17v5m5 9v6m7-26v6m7 49v5m5-198v3m0 238v3m7-95v6m5-28v8m7 17v3m5 26v6m7-20v8m5-11v8m7-23v6m5 58v2m7-68v8m5-14v6m7 5v6m7 32v8m5-60v6m7 26v2m5-25v5m7 6v6m5-17v5m7-11v3m5-6v9m7-6v3m5-17v8m7 63v3m5-74v5m7 61v5m7-17v3m5-69v6m7-9v6m5 83v3m7-46v3m5-43v6m7-6v6m5-23v5m7 3v3m5-60v3m0 40v6m7-46v3m0 54v3m7 80v3m5-34v3m7-81v3m5-17v3m0 11v6m7 6v8m5-22v2m7 20v9m12-57v5m5 38v3m12-49v6m7 71v3m7-92v6m5-60v6m0 335v3m7-315v11m5-23v17m0 330v3m7-324v3m5 289v3m7-278v3m5 249v29m7-258v3m5 247v2m7 6v6m7-52v12m5-301v2m0 230v3m7 51v3m12-11v8m5-48v5m7-48v3m0 103v3m5-106v5m7 12v5m12-57v6m5-12v3m7-17v3m7-12v3m5 132v3m7-229v2m0 198v3"/>
<path stroke="#2b738e" d="M3 226v2m5-57v9m7-3v6m5 0v5m7 26v3m5-23v3m7-32v6m7 9v5m5-20v9m7-23v9m5-12v9m7 20v3m5 14v3m7-187v3m0 149v6m5 6v3m7-15v9m5 6v8m7-28v8m7 46v3m12-46v9m5-29v6m7 14v6m5-172v3m0 195v3m7-15v9m5-12v6m7-23v6m12-6v6m5-14v8m7 3v3m7 37v6m5-60v5m7 23v6m5-26v6m7 6v3m5-15v9m7-17v5m5-2v8m7-11v5m5-14v6m7 60v3m5-72v6m7 60v6m7-20v3m5-66v6m7-95v3m0 83v6m12 37v3m5-40v3m7-98v3m0 92v3m5-21v6m7 0v6m5-17v5m7 9v3m12 49v3m7-81v6m5-40v3m0 34v6m7 8v6m5-26v3m7 26v6m12-58v6m5 29v3m0 3v2m7 49v3m5-97v2m14-14v3m5-57v23m7 11v11m0 313v3m5-333v12m7 0v3m5-51v2m0 333v2m7-272v3m0 295v3m5-364v8m0 287v17m12 18v3m7 5v3m7-54v8m12-8v5m12-14v6m5-43v3m12-43v3m7 11v6m5-81v3m7 23v3m5-11v5m7-20v6m7-11v2m5-8v3m19 69v2m5-68v2"/>
<path stroke="#2b748e" d="M3 228v3m5-51v5m7-2v5m5 0v6m7 23v6m5-26v6m7-32v3M46 8v2m0 175v3m5-14v6m7-20v5m5-8v5m7 18v5m5 12v6m7-35v3m5-161v3m0 164v6m7-12v6m5 8v6m7-191v2m0 163v6m7 43v6m5-220v2m0 255v3m7-83v6m5-29v8m7 12v3m5 26v5m7-11v9m5-15v9m7-26v6m5 48v3m7-57v9m5-15v6m7 0v3m7 40v6m5-61v6m7 23v3m5-23v6m7 3v3m5-9v9m7-21v3m5 3v9m7-15v3m5-11v8m12-11v6m7 60v9m7-26v3m5-161v3m0 95v5m7-8v5m5 75v3m7-43v3m5-40v5m7-5v5m5-20v6m7 0v6m5-18v6m7 6v6m7 74v3m5-31v2m7-106v3m0 26v6m5-3v3m7 11v6m5-29v6m7 26v8m12-60v6m5 31v3m12-46v3m7 32v3m0 34v3m7-86v3m5-37v11m0 298v3m7-290v9m5-14v11m7-8v2m0 250v63m5-34v3m7-267v3m0 287v5m5-353v9m0 270v8m7-209v3m5 238v3m7-330v6m0 327v5m7-60v9m12-6v6m17-49v3m7-43v3m5-3v3m7 8v6m5-77v2m7 23v3m5-11v3m0 183v3m7-204v3m0 207v3m7-218v3m0 154v3m5-166v3m7-81v3m0 69v3m5-49v3m0 189v3m7-166v3"/>
<path stroke="#2a758e" d="M3 231v6M8 5v3m0 177v6m7-3v6m5 0v3m7 26v3m5-23v3m7-32v6m7 8v3m5-11v5m7-20v9m5-12v9m7 14v3m5 15v5m7-37v6m5 6v2m7-8v8m5 6v6m7-26v9m7 40v3m5 37v3m7-80v8m5-29v6m7 9v6m5 25v3m7-5v8m5-14v6m7-26v3m5 48v3m7-51v8m5-172v3m0 152v6m7-3v6m7 40v5m5-60v6m7 20v3m5-20v6m7 0v5m5-5v5m7-23v3m5 9v6m7-18v6m5-9v6m7 49v3m5-63v5m7 64v5m7-28v3m5-61v6m7-9v6m12 32v5m5-40v3m7-3v3m5-17v6m7 0v3m5-15v6m7 6v3m19-26v5m5-5v5m7 12v6m5-29v6m7 28v6m12-60v6m5 28v3m12-46v6m14-17v6m5-32v9m0 286v3m7-278v6m5-9v9m7-15v3m0 241v6m12 52v3m5-339v9m0 255v6m7-198v3m0 272v3m5-43v3m7-321v5m0 316v6m7-335v2m0 269v9m5-270v3m7 264v6m5-17v3m12-32v3m7-43v3m5-3v3m0 120v3m7-117v5m0 126v3m5-203v3m0 209v3m7-192v5m5-14v6m7-17v2m24 6v3"/>
<path stroke="#2a768e" d="M3 237v3m5-49v6m7-3v3m5 0v6m7 23v5m5-25v2M39 8v2m0 170v3m7 8v6m5-12v9m7-20v6m5-9v6m7 11v6m5 14v6m7-37v3M87 0v2m0 183v6m7-6v6m5 6v9m7-26v5m7-185v2m0 221v3m12-35v6m5-29v9m7 6v2m5 26v3m7 0v9m5-17v5m7-28v5m5 46v3m7-46v6m5-17v3m7 0v2m7 43v6m5-60v6m7 17v3m5-17v5m7 0v3m5-3v9m7-29v6m5 9v8m7-20v3m5-6v9m7 43v3m5-61v6m7 63v3m7-28v2m5-57v3m7-6v6m5 66v3m7-38v3m5-40v6m7-6v6m5-109v3m0 89v5m7-2v5m5-14v6m7 3v5m12 40v3m7-69v3m5-40v3m0 34v6m7 12v5m5-28v5m0 241v3m7-215v6m0 209v3m5-267v6m7 255v3m5-238v3m7 43v3m0 192v3m5-284v3m7 63v3m7-80v2m5-25v8m7 9v8m5-8v6m0 284v8m7-310v6m0 232v3m5 32v3m7-261v3m0 275v6m5-327v5m0 247v3M470 0v2m0 321v3m7-313v6m0 307v3m7-63v5m12 0v6m17-43v3m7-43v3m5-3v3m7 3v6m12-49v3m5-12v3m7-17v6m7-6v3m0 192v3m5-204v3m19 31v3m0 81v3"/>
<path stroke="#2a778e" d="M3 240v6m5-49v6m7-6v6m5 0v5m7 23v3m5-26v6m7-31v2m7 12v3m5-6v6m7-20v8m5-11v8m7 9v3m5 17v3m7-37v5m5 6v3M94 0v2m0 189v9m5 6v5m7-26v6m7 35v5m5 32v3m7-69v9m5-29v6m7 2v6m5 23v3m7 6v11m0 40v12m5-75v6m7-29v6m5 43v3m7-43v6m5-20v5m7-3v6m7 43v3m5-57v5m7 15v6m5-18v6m7-3v3m5 3v6m7-29v3m5 14v9m0 86v3m7-267v3m0 149v3m5 0v6m12-15v6m7 60v6m7-32v3m5-57v6m7-6v6m12 28v3m5-37v3m7-3v3m5-15v6m7-100v3m0 94v3m5-97v2m0 84v5m7-89v3m0 89v3m7-77v3m0 140v3m5-29v3m7-69v6m5-3v3m7 14v6m5-29v6m7 29v6m5-63v2m0 6v6m7-17v3m5 31v3m12-43v6m14-18v3m5-20v6m0 270v2m7-261v6m0 276v8m5-292v8m0 270v6m7-296v3m0 227v2m5-292v20m0 304v3m7-255v2m0 270v3m5-316v3m0 241v3m7-186v3m5 223v3m7-304v6m0 295v6m7-69v9m5-253v3m7 253v2m12-17v3m5-26v3m0 52v3m7-98v3m5-3v3m0 100v3m7-100v3m5-66v3m7 17v3m5-12v3m7-17v3m0 192v3m7-198v3m5-134v2m0 123v3m0 186v3m7-31v3"/>
<path stroke="#29788e" d="M3 246v3m5-46v5m7-5v3m5 2v3m7 23v3m5-23v3m7-32v6m7 9v6m5-6v6m7-18v6m5-9v6m7 6v3m5 17v6m7-38v3m5 6v3m7 3v6m5 5v6m7-26v6m7 34v3M125 2v3m0 201v5m5-28v8m7 0v3m5 23v6m7 11v12m0 23v5m5-57v6m7-29v3m5 43v3m7-40v8m5-23v6m7-3v3m7 43v6m5-58v6m7-178v3m0 190v2m5-14v6m7-6v6m5 3v5m0 101v3m7-135v6m5 17v6m7-175v2m0 144v6m5 0v8m7 32v3m5-52v6m7 60v3m7-32v3m5-54v5m7-5v5m5 58v3m7-35v3m5-37v5m7-5v3m5-12v3m7-3v6m5-12v6m7 0v3m12 40v3m7-66v6m5-6v6m7 14v6m5-66v3m0 34v3m7 32v5m5-54v3m12-6v3m0 20v3m7 40v3m5-83v3m0 22v3m7 32v3m7-78v6m5-20v6m0 261v3m7-253v6m0 261v9m5-276v6m0 258v6m7-287v3m5-46v9m0 292v3m7-250v3m0 264v3m5-310v6m0 232v3m12 40v3m7-295v3m0 289v3m7-69v6m12 6v6m5-264v3m12 218v5m7-43v3m5-3v3m7 0v6m5-66v3m7 17v3m5-12v3m7-17v3m7-3v3m12-75v3m5 23v3m0 146v3"/>
<path stroke="#29798e" d="M3 249v2m5-43v6m7-8v5m5 0v6m7 20v6m5-26v3m7-29v3m7 12v2m5-2v5m7-17v6m5-9v6m7 3v6m5 17v3m7-38v3m5 6v6m7 3v5m5 6v6m7-26v6m7 31v3m5 29v3m7-58v9m5-29v6m7-3v6m5 23v3m7 20v23m0 17v3m5-66v5m7-31v6m12 8v6m5-23v6m7-6v3m7 46v6m5-58v3m7 14v3m5-11v6m7-6v3m5 5v9m0 89v3m7-126v2m5 21v8m7-31v2m5 6v6m7-169v3m0 195v2m5-48v3m7 60v3m12-81v6m7-6v6m5-135v3m7 155v3m5-35v3m7-5v5m5-14v6m7-3v3m5-9v6m7-3v6m7 60v3m5-146v2m7-11v3m0 66v3m5-3v3m7 17v6m5-32v6m7 31v3m0 192v3m5-249v5m7-11v6m5 20v3m12-40v2m14-14v3m5-17v5m7 12v6m0 249v6m5-261v6m0 246v6m7-278v3m0 218v3m5-261v8m0 281v3m7-244v3m0 258v3m5-301v6m0 223v3m7-177v2m0 244v23m5-52v3m7-289v3m0 281v5m7-315v11m0 236v2m5-235v3m7 241v3m12-12v3m0 23v3m5-57v3m7-41v3m5-3v3m7-3v6m5-63v3m7 14v6m5-14v5m7-17v3m12-6v3m7-3v3m5 20v3m7-37v3m5 106v3"/>
<path stroke="#287a8e" d="M3 251v6m5-43v12m7-15v9m5-3v9m7 17v6m5-29v8m7-34v9m7 5v9m5-6v12m7-23v14m5-17v14m7-5v8m5 12v8m7-43v9m5 3v8m7 0v15m5-3v11m7-224v3m0 190v11m7 23v9m5 23v2m7-51v11m5-34v11m7-8v8m5 18v5m7-226v3m0 281v3m5-64v12m7-37v8m5 32v6m7-32v14m5-31v8m7-11v9m7 43v8m5-235v3m0 169v12m7 5v9m5-14v8m7-11v5m5 9v11m7-43v9m5 20v14m0 55v3m0 8v3m7-112v9m5 3v11m7-177v2m0 195v3m5-48v11m7 52v5m7-37v6m5-49v9m7-9v12m5 43v5m7-34v6m5-38v9m7-9v6m5-14v11m7-11v8m5-11v8m7-5v5m7 58v3m5-29v6m7-63v8m5-8v8m7-60v3m0 72v8m5-92v3m0 55v8m0 216v2m7-192v12m5-61v9m7-23v3m0 6v8m0 236v2m5-263v2m0 38v5m7 35v3m0 183v3m5-267v3m7 55v3m0 206v3m7-281v9m5-21v12m0 238v6m7-238v11m0 230v8m5-249v11m0 227v8m7-269v8m0 207v3m5-250v14m0 264v3m7-238v3m0 250v5m5-292v8m0 213v2m7-172v3m0 224v17m5-341v20m0 287v5m7-283v8m0 267v6m7-299v9m0 215v12m5-230v3m7 235v3M508 0v2m0 244v5m5-34v6m0 48v3m7-94v5m5-5v5m7-8v8m5-60v3m7 12v5m0 201v3m5-218v6m7-18v6m7-3v6m5-126v3m0 114v3m0 158v3m7-224v3m0 192v3m17-115v3"/>
<path stroke="#287b8e" d="M3 257v6m5-37v5m7-11v3m5 3v5m7 18v2m5-23v3m7-28v3m7 11v3m5 3v5m7-14v6m5-9v6m7-3v3m5 17v3m7-37v6m5 5v3m7 12v5m5 3v6m7-26v6m7 26v3m5 22v3m7-43v6m5-29v9m7-9v3m5 20v3m12 6v6m7-35v6m5 32v2m7-20v6m5-29v6m7-8v2m7 49v6m5-57v2m7 12v3m5-9v6m7-12v6m5 14v6m7-40v3m5 31v9m7-43v3m5 11v9m7 14v3m5-40v6m7-164v3m0 212v3m7-34v3m5-43v5m7-2v5m12-149v3m0 161v3m5-32v6m7-9v6m5-9v3m7-6v3m5-6v6m7-6v6m12 32v3m7-58v6m5-6v6m7-77v2m0 92v6m5-32v6m7 32v3m5-55v6m7-12v6m5 14v3m7-31v3m0 63v3m0 177v3m5-261v3m7 55v2m7-65v2m5-11v6m7 11v6m0 23v3m0 192v6m5-230v6m0 218v3m7-253v3m5-29v6m0 255v3m7-232v3m0 244v3m5-279v3m0 207v3m7 51v6m5-304v6m0 278v3m7-270v3m0 258v6m7-284v6m0 206v3m5-215v3m7-25v2m5 6v2m0 224v9m7-3v6m5-32v3m12-40v3m7-9v6m5-55v3m7 12v3m5-12v3m7-14v2M568 5v3"/>
<path stroke="#277c8e" d="M3 263v3m5-35v3m7-11v5m5 3v3m7 17v3m5-23v3m7-28v5m7 9v3m5 5v6m7-14v6m5-9v6m7-6v3m5 17v6m7-37v2m5 6v3m7 14v6m5 3v6m7-26v6m7 23v2m12-14v6m5-26v6m7-12v3m5 20v6m12 6v5m7-34v3m5 31v3m7-17v6m5-29v6m7-12v6m7 49v3m5-58v6m7 9v3m5-6v3m7-207v3m0 195v3m5 17v6m7-221v3m0 6v3m0 166v3m5 37v9m0 34v3m7-86v3m5 17v6m7 11v3m5-37v3m7 51v3m7-34v3m5-41v6m7-3v3m5 40v3m7-28v2m5-28v3m7-6v3m5-9v6m7-9v6m5-6v3m7-3v3m7 52v3m5-23v3m7-55v3m5-3v3m7 20v6m5-32v3m7 32v5m0 170v2m5-272v3m0 43v3m7-35v3m0 23v3m5 14v3m19 14v3m7-66v3m5-8v5m0 224v3m7-215v3m0 212v3m5-218v3m0 26v2m0 181v6m7-247v6m0 195v3m5-227v3m0 250v2m7-226v3m0 238v3m5-273v3m0 201v3m7-164v3m0 209v6m5-292v5m0 270v3m7-264v3m0 252v3m7-272v3m17 200v3m0 29v3m7-29v3m5-29v3m7-214v2m0 175v3m0 126v3m5-135v3m7-9v3m5 158v3m7-201v6m5-12v3m7-14v3m7 2v3m0 175v3m5-292v2m0 107v2m12-34v3"/>
<path stroke="#277d8e" d="M3 266v3m5-35v6M15 5v3m0 220v3m5 3v6m7 14v3m5-23v3M39 0v2m0 209v3m7 9v5m5 6v6m7-14v5m5-8v5M70 8v2m0 210v3m5 20v3M82 0v2m0 206v3m5 6v3m7 17v6m5 3v5m7-25v5m7 20v3m5 20v3m7-34v6m5-26v5m7-215v3m0 198v6m5 20v3m7 49v2m5-43v6m7-37v6m12 17v6m5-29v3m7-9v3m7 49v3m5-55v3m7 9v2m5-5v5m7-11v3m5 20v6m7-46v6m5 40v8m0 20v6m7-80v6m5 17v5m12-25v5m7 49v3m7-221v3m0 184v2m5-37v3m7-3v6m12 11v3m5-28v2m7-5v3m5-127v3m0 118v6m7-9v3m5-6v6m7-6v3m19-20v6m5-6v3m7 23v3m5-32v6m0 198v3m7-170v3m5-97v3m0 40v5m7-11v6m0 218v3m5-210v3m7 32v2m0 173v2m5-238v3m14-23v6m5-9v3m7 12v5m0 201v6m5-212v5m0 201v3m7-235v3m5-29v6m0 241v3m7-221v3m0 232v3m5-267v6m7 241v5m5-281v6m0 261v3m7-258v3m0 246v3m7-266v2m0 198v3m5-209v3m0 189v3m7 34v3m5-29v3m7-229v3m0 229v3m5-29v3m7-37v3m0 109v3m5-118v3m7-12v6m0 146v3m5-198v3m7 6v3m5-12v6m0 221v3m7-238v3m7 3v2m5-109v3m12 129v3m0 124v2m7-157v3m0 126v3"/>
<path stroke="#277e8e" d="M3 269v2m5-31v6m7-15v3M20 5v3m0 232v3m7 14v6m5-26v6m7-29v3m7 11v3m5 9v6m7-15v6m5-9v6M70 0v2m0 221v5m5 18v3m7-38v6m5 3v6m7 17v6m5 2v3m7-23v3m7 20v3m12-8v5m5-26v6m7-14v3m5 20v3m12 11v3m7-244v3m0 207v2m5 26v3m7-8v5m5-31v5m7-11v3m7 49v5m5-57v6m7 5v3m5-3v3m7-11v3m5 23v5m7-45v2m5 46v20m7-68v2m5-177v2m0 195v6m7 3v3m5-32v3m7-180v2m0 227v3m7-35v3m5-37v6m7-3v6m5 31v3m7-26v3m5-29v6m7-8v5m5-5v2m7-8v3m5-3v3m7-6v3m7-118v3m0 164v2m5-22v2m7-48v2m5-5v5m7 21v5m5-31v3m7 31v6m0 158v3m5-216v3m7-8v3m5 11v3m7-52v3m12 20v3m0 37v3m0 195v3m7-258v3m0 255v3m5-267v6m0 212v3m7-204v3m0 195v3m5-201v3m0 195v3m7-229v3m0 186v3m5-215v6m7 20v3m0 226v3m5-258v3m0 189v3m7 40v6m5-270v3m0 252v6m7-252v3m0 238v5m7-261v3m5-8v3m0 183v3m0 3v3m0 14v3m12-14v2m0 15v3m7-18v6m5-28v2m7-37v3m5-6v3m7-11v2m5-45v2m7 6v3m5-11v2m7-11v3m0 238v3m12-339v3m0 98v3m7-55v3"/>
<path stroke="#267f8e" d="M3 271v3m5-28v3m7-15v3m5 6v3m7 17v3m5-23v3m7-29v6m7 8v3m5 12v3m7-12v6m5-9v3m7-9v3m5 18v5m7-37v3m5 6v2m7 21v5m5 0v6m7-26v6m7 17v3m5 17v3m7-26v6m5-26v3m7-14v3m5 20v3m12 11v6m7-38v3m5 26v3m7-6v6m5-32v3m7-11v3m7 51v3m5-54v3m7 5v3m5-3v6m7-14v3m5 25v9m0 43v3m7-98v3m12-3v3m5-186v3m0 206v3m7 3v3m5-32v6m19-17v3m7 0v3m12 8v3m5-26v3m7-6v3m5-6v6m7-11v5m5-123v3m0 115v5m7-8v6m12-121v3m0 143v3m7-49v6m5-6v3m7 23v3m5-31v5m7 32v3m5-55v3m7-8v5m5 9v3m7 28v3m0 167v3m5-233v3m7 232v3m7-252v3m5-6v3m0 206v3m7-198v6m0 186v3m5-195v6m0 186v3m7-223v5m5-25v2m0 230v3m7 8v6m5-252v5m7 29v3m0 189v6m5-261v6m0 244v2m7-243v2m0 233v3m7-253v6m12-40v14m0 212v3m5-221v3m0 210v3m7-221v3m0 218v2m5-25v3m7-38v3m5-6v3m7-11v3m5 186v3m7-227v3m5-11v3m7-12v3m7 6v3m12 2v3m12 86v3"/>
<path stroke="#26808e" d="M3 274v3m5-28v2m7-14v6m5 3v3m7 17v3m5-23v3m7-26v3m7 8v3m5 12v5m7-11v3m5-9v6m7-12v3m5 20v3m7-37v3m5 5v3m7 23v3m5 3v6m7-26v3m7 17v3m12-3v6m5-29v6m7-17v5m5 18v2m12 15v3m7-38v6m5 23v3m7-3v6m5-35v3m7-11v5m7 49v3m5-54v5m7 3v3m5 0v3m7-14v2m5 32v6m7-55v3m12-3v3m5 23v6m12-26v3m7 43v3m7-35v3m5-31v3m7 0v5m5 26v3m7-23v3m5-26v3m7-6v3m5-3v3m7-9v3m5-3v3m7-5v2m7 43v3m12-63v3m5-6v3m7 23v6m5-32v3m0 184v3m7-155v3m5-55v6m0 212v3m7-224v3m0 204v3m5-198v3m12-55v3m0 20v3m7 37v3m0 184v5m7-246v3m5-6v3m7 14v3m0 14v3m0 161v5m5-186v3m0 178v5m7-215v3m0 175v3m5-204v6m0 221v3m7-209v2m0 215v3m5-241v3m0 178v3m7 34v3m5-249v3m0 238v3m7-239v3m0 227v3m7-244v3m0 183v3m5-200v2m0 178v3m7-198v9m0 198v5m0 3v3m5-14v3m7 0v3m0 34v3m5-63v3m12-41v3m0 152v3m7-166v3m5-43v3m7 2v3m5-11v3m7-12v3m7 6v3m5-98v3m0 92v3m0 198v2m12-80v3m7-77v2"/>
<path stroke="#26818e" d="M3 277v3m5-29v6m7-14v3m5 3v5m7 15v2m5-22v2m7-25v2M46 0v2m0 235v3m5 14v3m7-11v5m5-8v6m7-15v3m5 20v3m7-37v5m5 3v3m7 23v6m5 3v3m7-26v6m7 14v3m5 14v3m7-17v5m5-28v6m7-18v3m5 17v3m7 40v3m5-28v5m7-37v3m12 26v3m5-35v6m7-12v3m7 49v3m5-52v3m7 3v3m5 0v6m7-18v3m5 35v5m7-57v6m12-6v3m5 26v6m7-6v3m5-26v6m7 40v3m7-35v3m5-31v5m7 0v3m5 26v3m7-23v3m5-172v2m0 144v3m7-6v3m5-3v3m7-9v3m5-3v6m7-9v3m12 23v3m7-43v3m5-6v3m7 26v3m5-32v3m7 32v3m0 146v3m5-201v3m7-9v3m5 9v2m7 26v3m0 161v3m5-224v6m7 215v3m7-238v2m5-5v5m0 195v3m7-186v3m0 172v3m5-178v3m0 172v3m7-207v3m5-23v3m0 215v3m7-204v3m0 210v2m5-235v3m7 26v3m0 178v5m5-243v2m0 233v3m7-233v3m0 221v3m7-238v3m5-15v3m7-11v6m0 189v3m5-210v3m7-8v2m0 210v3m5-26v3m7-35v3m5-8v2m7-14v6m5-43v3m7 3v2m5-11v3m7-12v3m0 227v3m7-6v3m12-46v3m5-198v3"/>
<path stroke="#25828e" d="M3 280v3m5-26v3m7-14v3m5 5v3M27 5v3m0 263v3m5-23v3m7-26v3m7 9v6m5 11v6m7-12v6m5-8v5m7-17v6M75 8v2m0 250v3m7-35v3m5 3v6m7 23v6m5 0v5m7-25v2m7 15v3m12 2v6m5-28v5m7-20v3m5 17v3m12 17v3m7-37v3m5 20v3m7 3v5m5-34v3m7-233v3m0 218v3m7 49v6m5-55v3m7 3v3m5 3v3m7-224v3m0 203v6m5 34v6m0 23v3m7-83v3m5 74v3m7-83v6m5 26v5m7-8v3m5-23v2m14 9v3m5-207v3m0 175v3m7 0v3m12 6v3m5-26v3m7-6v3m5-3v6m7-12v3m5 0v3m7-9v3m12 23v3m7-43v3m5-98v3m0 89v6m7 23v3m5-32v6m7 29v2m5-51v3m7-9v3m0 195v3m5-190v3m0 201v3m12-232v3m0 226v3m7-198v3m0 175v3m7 8v6m5-247v3m0 190v2m7-11v3m5-172v6m0 163v3m7-201v3m5-23v3m7 14v3m0 204v3m5-230v3m0 169v3m7 29v3m5-236v3m0 227v3m7-12v6m7-232v3m5-15v3m0 169v3m7-180v5m0 181v3m5-3v3m7-6v6m5-26v3m0 83v3m7-121v3m12-20v3m0 187v2m12-223v3m5-12v3m14 0v3m5-92v3m12 118v2m7-25v2"/>
<path stroke="#25838d" d="M3 283v3m5-26v3m7-14v2m5 6v3m7 14v3m5-23v3m7-26v6m7 9v3m5 14v3m7-9v3m5-6v3m7-14v3m5 17v3m7-35v3m5 6v3m7 26v5m5 0v3m7-26v6m7 12v2m5 12v3m7-9v6m5-29v3m7-20v3m5 17v3m12 17v6m7-40v3m5 20v3m7 5v6m5-37v3m7-12v3m7 52v3m5-55v3m7 3v6m5 0v2m7-14v3m5 37v9m0 11v3m7-77v3m12-3v3m5 28v3m12-29v3m7-198v3m0 233v2m12-57v3m7 0v6m5 20v3m7-20v2m5-25v5m7-8v3m5 0v3m7-147v3m0 132v3m5 0v3m7-9v3m7 37v3m12-158v3m0 98v6m5-6v3m7 23v5m5-31v3m0 169v3m7-144v3m0 138v3m5-192v2m7-63v3m0 52v6m5 5v3m7 181v3m5-212v2m7 204v3m7-215v3m0 215v8m12-60v3m5-3v3m7-195v3m0 163v3m5-189v6m0 203v3m7 6v3m5-224v3m7 23v3m0 169v3m5-230v6m0 218v3m7-224v3m0 209v3m7-223v2m0 164v3m0 3v3m5-187v3m7-6v6m0 172v3m5-3v3m7-207v3m0 198v3m5-23v3m0 89v3m7-126v2m5-5v3m0 137v3m7-158v3m5-37v3m7 0v3m5-12v3m7-8v2m12 9v3m7-46v3m17 149v3"/>
<path stroke="#24848d" d="M8 263v6m7-18v3m5 6v3m12-6v3m7-23v3m7 9v2m5 15v5m7-11v6m5-9v6m7-17v3m5 17v3m7-35v3m5 6v3m7 28v3m5 0v3m7-23v3m7-250v3m5-11v3m0 281v3m7-6v3m5-29v6m7-23v3m5 17v3m7 34v3m5-17v3m7-40v3m5-241v2m7 270v3m5-37v3m7-12v3m7 52v2m5-54v3m12 8v3m7-14v3m5 43v11m7-71v2m12-2v2m5 29v6m7-14v2m5-20v3m14 6v3m5-26v6m7 0v3m17-18v3m7-158v3m0 147v3m5 0v2m7-11v6m5-3v6m7-12v3m12 20v3m7-37v2m5-5v3m7 25v3m5-31v3m7 28v3m5-123v3m0 68v6m0 192v6m7-206v2m5 6v3m7 20v3m0 152v3m5-207v3m7-31v3m0 57v3m0 166v3m7 0v6m5-230v3m0 184v3m7-15v3m5-149v3m0 143v3m7-189v6m5-23v3m0 197v3m7-192v3m0 195v3m5-218v6m0 157v3m7 26v3m5-221v3m0 212v3m7-218v3m0 204v2m7-218v3m0 155v3m5-8v2m7-166v3m0 163v6m5-198v3m0 192v3m7-6v3m5-211v2m0 186v3m12-37v3m7-17v2m12-34v3m5-12v3m7-8v3m7 8v3m5-86v3m0 258v3m7-29v3m17-115v3"/>
<path stroke="#24858d" d="M3 286v3m5-20v2m7-17v6m5 3v3m7 11v3m5-20v3m7-23v3m7 8v3m5 17v3m7-8v5m5-8v3m7-17v2m5 18v2m7-34v3m5 6v3m7 28v6m5-3v6m7-26v3m7 8v3m12 12v6m5-29v3m7-23v6m5-236v3m0 247v3m12 20v3m7-40v2m5 18v2m7 12v6m5-40v5m7-14v3m7 51v3m5-54v6m7 0v2m5 3v3m7-14v3m5 66v2m7-86v3m5-203v3m7 197v3m5 32v3m7-15v3m5-20v6m7 31v3m7-31v3m5-23v3m7 0v2m5 18v3m7-21v3m5-20v3m7-8v5m5-3v3m7-8v3m5 0v2m7-11v3m7 34v3m5-17v3m7-38v3m5-5v2m7 26v3m5-31v2m0 161v3m7-135v3m0 129v3m5-181v3m0 187v2m7-198v3m0 181v3m17-204v3m14-17v3m0 209v3m12-52v3m5-3v3m7-180v2m0 152v3m5-177v2m0 193v2m7-186v3m0 189v3m5-209v3m7 17v3m0 157v6m5-215v3m0 206v3m7-212v3m0 198v3m7-213v3m0 155v3m0 9v2m5-186v3m7 0v3m0 158v2m0 43v3m5-46v3m7-198v3m0 190v2m5-23v3m7-186v3m0 152v3m5-9v3m7-17v3m5-35v3m7-3v3m5-11v2m7-8v3"/>
<path stroke="#24868d" d="M3 289v3m5-21v3m7-14v3m5 3v3m7 11v3m5-20v3m7-23v3m7 8v3m5 17v3m7-6v3m5-8v3m7-18v3m5 17v3m7-34v3m5 6v2m7 32v3m5 0v3m7-26v6m7 5v3m5 12v3m7 0v2m5-28v5m7-22v2m17 38v5m7-43v6m5-241v3m0 252v3m7 15v3m5-38v3m7-238v3m0 221v3m7 51v3m5-51v2m7 0v3m5 3v3m7-14v3m12-18v3m12-3v3m5-206v3m0 235v5m12-31v3m14 3v3m5-23v2m7 0v6m12-3v3m5-20v3m7-6v3m5-3v6m7-11v2m5 0v3m7-11v3m12 163v3m7-181v3m5-6v3m7 26v3m5-32v3m7 29v3m5-49v3m0 181v3m7-193v3m5-63v3m0 63v3m7 20v3m0 146v3m5-198v3m0 209v6m7-189v3m0 160v3m7-224v3m0 218v3m5-37v3m7-161v3m0 141v2m5-2v2m7-175v3m5-23v3m7 9v3m0 183v3m5-203v2m7 172v3m5-206v3m0 200v3m7-206v3m0 192v3m7-207v3m0 146v3m5-166v3m0 155v3m0 17v3m7-178v3m0 152v3m0 28v3m5-218v3m0 184v2m7-5v3m0 68v3m5-94v2m0 92v3m7-126v3m5-9v3m7-17v3m5-35v3m7-3v3m0 244v3m5-258v3m14 5v3m0 195v3m5-278v3m0 77v3m7 9v2m12 121v3"/>
<path stroke="#23878d" d="M3 292v2m5-20v3m7-14v3m5 3v2m7 12v3M32 5v3m0 258v3m7-23v3m7 8v3m5 17v3m7-6v3m5-8v5m7-20v3m5 17v3m7-34v6m5 2v3m7 32v6m5-3v3m7-23v2m7 6v3m12 14v3m5-26v3m7-23v3m5-249v3m0 258v3m12 25v3m7-40v3m12 32v5m5-40v3m7-14v3m12 2v3m7 0v3m5 3v3m19-29v3m12-3v3m5 34v3m7-20v3m5-14v3m7 28v3m12-49v3m7 3v3m5-192v3m0 201v2m7-17v3m5-20v3m7-6v3m5 0v3m7-12v3m5 0v3m7-11v3m7 31v3m5-17v3m7-35v3m5-6v3m7 26v3m0 146v3m5-181v3m7-100v3m0 126v3m0 120v3m5-172v3m0 175v3m7-187v3m0 172v3m5-172v3m0 183v6m12-249v2m0 32v3m0 201v5m7-23v3m7-203v3m0 195v5m5-215v3m7 23v3m5 135v3m7-170v3m0 144v2m5-169v3m0 184v3m7 2v3m5-198v3m0 147v2m7 18v2m5-200v3m0 195v2m7-11v3m7-201v3m5-17v3m7 0v2m0 147v3m5 0v3m7-190v3m0 181v3m5 71v3m7-126v3m5-9v3m7-17v3m5 198v3m0 8v3m7-247v3m12-14v3"/>
<path stroke="#23888d" d="M3 294v3m5-20v3m7-14v3m5 2v3m7 12v3m5-20v2m7-22v2m7 9v3m5 17v3m7-6v6m5-9v3m7-20v3m5 17v3m7-31v2m5 3v3m7 35v2m5-2v2m7-23v3m7 6v3m5 9v2m7 3v3m5-26v3m7-23v3m5 12v2m7 29v3m5-6v3m7-40v3m5 11v3m7 20v3m5-40v3m7-14v2m7 49v3m5-49v3m7-235v3m0 232v3m5 3v3m7-17v2m12-14v3m5-218v3m0 275v3m7-278v6m0 206v3m5 34v6m7-23v3m5-14v3m14-216v3m0 213v2m5-20v3m7-198v3m0 198v3m5 11v3m7-17v3m5-198v3m0 175v3m7-178v3m0 169v3m5 0v3m7-12v3m5 0v3m7-152v3m0 138v2m12 18v2m7-34v3m5-6v3m7 26v3m5-32v3m0 149v3m7-123v3m5-49v3m7-9v3m5 3v3m0 178v2m7-163v3m0 140v3m5-189v3m0 192v6m7-175v3m0 152v2m7-197v2m0 190v3m5-32v3m7-152v3m0 132v3m5-138v3m7-32v3m5-23v3m0 178v3m7-175v3m0 175v2m5-192v3m7 12v2m0 147v3m5-195v2m0 190v3m7-198v3m0 183v3m7-195v3m0 138v2m5-157v2m0 147v3m7-150v3m5-34v3m0 235v3m7-66v3m5-20v3m19-55v3m5-32v3m7-5v2m5-8v3m14 5v3m12-34v3m5 20v3m0 43v3m0 126v3"/>
<path stroke="#23898d" d="M8 280v3m7-14v2m5 3v3m7 12v3m5-21v3m7-23v3m7 9v3m5 17v6m7-6v3m5-9v3m7-20v3m5 17v3M82 8v2m0 241v3m5 3v3m7 34v3m5-3v3m7-23v3m12-267v3m7 287v3m5-26v6m7-26v3m5 11v3m12 26v3m7-40v3m5 11v3m12-17v3m7-15v3m7 49v3m5-293v3m0 241v3m7 0v3m5 3v3m7-18v3m5-229v3m7 212v3m12-3v3m5 37v3m12-34v2m7 26v3m7-29v3m5-20v3m7 3v3m12-195v3m5 172v3m7-6v3m5 0v3m7-12v3m5 0v3m7-12v3m7 29v3m12-46v3m5-6v3m7 26v3m5-32v3m7-112v3m0 252v3m5-163v3m0 166v3m7-178v3m0 163v3m5-163v3m0 172v3m7-21v3m5-183v3m0 186v3m7-17v3m7-193v3m0 184v3m5-192v5m7 12v3m0 126v3m5-3v3m7-161v3m5-23v3m0 172v3m7-169v2m0 170v3m5-187v3m0 138v3m7 14v3m5-190v3m0 184v3m7-192v2m0 178v3m7-189v3m5-18v3m7 0v3m0 138v3m5-175v3m0 172v3m0 43v3m7-230v3m0 172v3m5-195v3m0 172v3m7-32v3m0 152v3m5-164v3m7-20v3m5 212v3m7-249v3m5-9v3m0 258v3m7-267v3m12-60v3m0 71v3m19 14v3m5 61v2"/>
<path stroke="#22898d" d="M3 2v3m0 292v3m5-17v3m7-15v3m5 3v3m12-6v3m7-23v3m7 9v3m5 20v3m7-6v3m5-9v3m7-20v3m5 17v3m7-32v3m5 3v3m7 34v6m5-6v3m7-23v3m7-278v3m0 278v3m12 17v3m5-23v3m7-26v3m5 11v3m12 26v3m7-40v3m12 31v3m5-37v3m7-15v3m7 49v3m5-49v3m7 0v3m5 3v2m7-17v3m12-14v3m12-3v3m5 37v3m7-26v3m5-12v3m14-218v3m5 0v3m0 195v3m7 3v3m5 8v3m7-17v3m5-17v2m7-5v3m5 0v2m7-11v3m5 0v3m7-167v3m0 152v3m12 14v3m7-31v3m5-6v3m7 26v2m0 135v3m5-169v3m0 140v3m7-117v2m5-45v2m0 161v3m7-172v3m5 172v3m7-155v3m5-43v2m0 181v3m7-163v2m0 144v3m7-187v3m0 178v3m5-184v3m0 152v3m7-143v2m0 121v3m5-129v3m0 123v3m7-155v3m0 132v3m5-158v3m7 172v3m5-181v3m7 8v3m0 138v3m5-184v3m7-6v3m0 172v3m7-183v3m0 129v3m12-12v3m5 0v3m7-9v3m5-189v3m0 166v3m7-32v3m5-8v2m7-20v3m5-28v2m7-8v3m5-9v3m7-6v3m0 261v3m24-112v3"/>
<path stroke="#228a8d" d="M3 300v3m5-17v3m7-15v3m5 3v3m7 9v2m5-17v3m7-23v6m7 6v2m5 21v2m7-5v3m5-9v6m7-23v3m12-12v3m5 3v3m7 37v3m5-6v3m7-23v3m7 3v3m5 5v3m12-11v3m7-26v3m12 37v3m5 0v3m7-301v2m5 270v3m7 20v3m5-37v2m7-14v3m7 49v3m5-49v3m7 0v3m5-253v3m0 252v3m7-17v3m5-241v3m7 224v3m12-3v3m5 37v3m12-35v3m7 23v3m7-29v3m5-17v3m7 3v3m12-6v3m5-18v3m7-5v2m5 0v3m7-11v3m5 0v3m7-12v3m7 26v3m5-15v3m7-31v3m5-6v3m0 163v3m7-141v3m0 124v8m5-163v3m7 25v3m0 106v3m5-155v3m7-91v2m0 81v3m0 154v3m5-157v2m0 164v3m7-17v2m5-175v3m0 175v3m14-195v3m5-3v3m0 146v3m12-140v2m0 118v3m7-149v3m5-23v3m0 163v3m7-164v3m0 161v3m5-175v3m0 129v3m7 11v3m5 0v3m7-14v2m12-195v3m0 138v3m7-141v3m0 129v3m5-166v3m0 163v3m7-175v3m0 163v3m5-20v3m7-169v3m12 111v3m0 195v3m17-238v3m14-85v2m0 95v2m5 210v3m24-127v3"/>
<path stroke="#228b8d" d="M8 289v3m12-9v3m7 8v3m5-17v3M39 5v3m0 255v3m7 5v3m5 20v3m7-5v2m5-5v3m7-23v2m5 15v3m7-29v3M87 8v2m0 256v3m7 37v3m5-6v3m7-23v3m19 20v3m5-20v3m7-26v3m5 8v3m12 29v5m7-45v2m12 35v3m5-38v3m7-14v3m12 3v3m7 0v2m5 3v3m7-17v3m12-14v2m12-2v2m5 38v3m7-29v3m5-9v3m14-3v3m5-17v3m7-204v3m0 204v2m5 6v3m7-14v3m5-18v3m12-3v3m7-183v2m0 170v3m5 0v2m7-11v3m12 143v3m7-160v2m5-137v3m0 129v3m7 146v3m5-276v3m0 121v3m7 129v2m5-149v3m0 152v3m7-163v2m5 0v3m7 144v3m5-170v3m0 169v3m7-155v3m0 138v3m7-178v3m0 169v3m5-175v3m7 8v3m0 115v3m5-121v3m12-48v2m7 3v3m12-3v3m0 129v3m5-175v3m0 172v3m7-181v3m0 164v3m7-175v2m0 124v3m5-144v3m0 172v3m7-175v3m0 123v3m12-6v3m5-180v2m0 158v3m7-29v3m0 144v3m5-155v3m7-23v2m5-25v3m7-9v3m5-12v3m7-3v3m12-51v2m0 66v3m7 178v3m12-72v3"/>
<path stroke="#218c8d" d="M3 0v2m0 301v3m5-14v2m7-17v3m5 6v3m7 8v3m19-26v3m12 17v6m5-8v2m7-23v3m5 15v3m7-29v3m5 3v2m7 38v3m5-6v3m7-23v3m7 0v3m5 5v3m7 9v3m5-20v2m7-289v3m0 261v2m5 9v3m7-270v3m5 298v3m7-46v3m5 9v3m12-276v3m0 261v3m7-14v3m7 46v2m17-37v3m7-17v3m12-15v3m5 49v3m7-55v3m5 38v2m7-28v3m5-9v3m7 20v3m12-40v3m7 2v3m17-20v3m7-9v3m5 3v3m7-11v2m5 0v3m7-11v3m12 11v3m7-29v3m5-5v2m7 23v3m0 112v6m5-146v2m0 129v3m7-109v3m5-43v3m0 146v3m7-158v3m0 147v2m5-149v3m0 155v3m7-146v3m5-98v3m0 57v3m0 164v2m7-14v3m7-172v3m0 163v3m5-169v3m0 137v3m7-132v3m5 109v3m7-143v3m0 123v3m5-147v3m0 155v3m7 0v3m5-169v3m7 134v3m5-169v3m0 166v3m7-175v3m0 158v3m7-170v3m0 141v3m5-161v3m0 129v3m12-166v2m0 158v3m7-169v3m0 155v2m5-175v3m12 121v3m7-23v3m12-32v3m19 6v3m12-26v3m12 83v3"/>
<path stroke="#218d8c" d="M3 306v3m5-15v3m7-17v3m5 6v3m12-9v3m7-20v3m7 8v3m5 17v3m7 0v3m5-9v3m7-23v3m5 15v2m7-28v3m5 2v3m7 38v2m5-5v3m7-23v3m7 0v2m17 0v3m7-26v3m5 9v3m7 20v3m5 8v3m7-46v3m12 32v3m5-35v3m7-14v3m7 45v3m5-48v2m7 0v3m5-252v3m0 255v3m12 31v3m7-295v6m0 226v3m5-232v3m7 226v3m5 37v3m26-37v3m5-227v3m0 210v2m7 3v3m5 3v3m7-14v2m12-20v3m5 3v3m12-9v3m14 12v3m5 111v3m7-295v3m0 140v3m5-6v3m7 23v3m0 106v3m5-138v3m7-123v3m0 241v3m5-141v3m7-9v3m5 152v3m7-235v3m0 215v3m5 0v3m7-147v3m0 129v3m7-6v3m5-183v3m0 17v3m7 8v3m0 106v3m5-115v3m0 106v3m7-137v2m5-20v3m0 149v3m7-152v3m0 149v3m5-163v2m0 121v3m7 6v2m5-163v3m0 160v3m7-14v3m7-164v3m12-17v3m0 117v3m5-155v3m0 152v3m7-11v3m5-18v3m7-28v2m5-11v3m0 180v3m12-226v3m7-12v3m5-9v3m7-3v3m0 253v3m7-12v3m12-212v3m17 31v3m0 29v3"/>
<path stroke="#218e8c" d="M8 297v3m7-17v3m12 14v3m5-17v3m7-20v2M46 5v3m5 292v3m7 0v3m5-9v3m7-23v3M75 0v2m7 267v2m5 3v3m12 35v2m7-312v3m12 295v3m12-6v3m7-26v3m17 43v3m7-46v3m5 6v3m7-273v3m12 250v2m7-258v3m0 3v3m5 249v3m7 0v3m5 6v3m7-20v3m12-12v3m0 106v3m12-112v3m5 37v3m7-31v2m5-8v3m19-15v3m19-3v3m5-17v3m7-6v3m5-189v3m0 189v3m7-15v3m5 3v3m7-14v3m12 11v3m7-26v3m5 146v3m7-129v3m0 100v3m5-132v3m0 121v2m7-103v3m5 100v3m7-8v3m5-236v3m0 89v3m7 12v2m0 118v3m5-158v3m0 155v3m14-175v3m0 154v3m5-157v2m0 130v2m7-20v3m5-129v3m7-9v3m0 115v3m5-138v3m7 146v3m5-158v3m7 3v3m5-37v3m0 155v2m7-166v3m7 109v3m5-135v3m0 123v3m7-11v2m12-157v3m0 146v3m5-167v3m0 146v3m7-157v2m0 127v3m12-29v3m5 223v3m12-266v2m0 290v3M563 2v3m12 255v3m5-129v3"/>
<path stroke="#208f8c" d="M3 309v3m12-26v3m5 3v2m7 9v3m5-17v3m7-21v3m7 6v3M51 5v3m0 295v3m7 0v3m5-9v3m7-23v3m5 11v3m7-26v3m5 3v3m7 34v3m5-3v3m7-25v2m7 0v3m12-287v3m0 299v2m5-14v3m12-17v3m12 34v6m7-49v3m5 6v3m7 20v2m5-34v3m14 34v3m5-46v3m7 0v3m12-261v3m0 247v2m12-11v3m17 37v3m12-37v3m7 17v3m7-26v3m5-12v3m7 0v3m5-221v3m0 221v3m12-26v3m7-6v3m0 126v3m12-138v3m5-181v3m0 181v3m7-14v2m0 138v3m7-120v2m5-180v3m7 143v3m0 146v3m5-158v3m0 146v3m7-287v3m0 3v3m0 252v3m5-255v3m7 241v3m5-135v3m7-9v3m5 0v3m0 143v3m12-169v3m7 14v3m0 123v3m7-160v2m5-34v3m7 40v3m5-32v3m0 23v3m0 100v3m7-129v3m5-20v3m0 140v3m7-146v3m0 140v3m5-152v3m7 121v3m12-161v3m0 146v3m7-158v3m5-17v3m7-3v3m0 166v3m0 9v2m5-215v3m0 146v3m24-60v3m7-23v3m0 221v3m5-247v3m0 244v2m7-258v3m12-8v2m7-71v3m0 83v3m5-61v3m0 61v2m12-5v3m12 117v3"/>
<path stroke="#20908c" d="M8 300v3m7-14v3m5 2v3m19-23v3m7 6v3m5 20v3m24-12v3m7-26v3m5 3v3M94 8v2m0 307v3m5-3v3m7-26v3m7 0v3m5 3v3m12-3v3m7-29v3m5 9v3m12-279v3m0 313v3m0 34v3m24-86v3m7-15v3m12 3v3m7-264v3m5 267v3m7-18v3m12-11v3m12-6v3m5 40v3m7-35v3m5-5v2m14-5v3m12-9v3m12-9v3m5-14v3m7-6v3m5 0v3m7-12v3m0 129v3m5-3v3m7-141v3m7-163v3m5 169v3m0 115v2m7-140v3m5-9v3m0 141v2m7-120v3m5-29v3m12-17v3m0 132v2m7-143v3m0 132v3m5-230v3m0 232v3m7-132v3m0 112v3m5-149v3m0 146v3m7-15v3m7-155v3m0 147v2m5-152v3m0 124v3m12-121v3m12 95v2m7-140v3m0 135v2m5-34v3m7 3v3m5-152v3m0 149v3m7-15v3m7-152v3m0 106v3m5-126v3m7 106v3m5-144v3m0 141v2m7-154v2m0 141v3m5-161v3m0 141v2m7-28v3m5 163v3m19-227v3m0 287v3m5-298v3m14-66v2m5 276v3m19-167v3m0 112v3"/>
<path stroke="#20918c" d="M3 312v2m5-11v3m12-9v3m7 6v3m5-17v2m7-17v3m7 6v3m12 20v3m5-9v3m7-23v3m29 34v3m7-26v3m19 14v3m5-11v3m7-29v3m12 26v3m5-304v2m0 322v3m7-52v3m5 6v2m7-284v3m5 273v3m7-15v3m12-258v3m7 258v3m5 6v3m7-270v3m5-3v3m7 241v3m5 37v3m7-46v3m17 5v3m7 15v3m12-35v3m7-221v3m0 221v3m5 0v3m7-12v3m5-14v3m12-3v3m7-12v3m5 0v3m7-12v3m24-17v3m7 115v2m5-120v3m0 112v3m7-98v3m0 86v3m5-126v3m7-9v3m5-3v3m7 120v3m5-143v3m0 140v3m7-132v3m0 115v2m7-192v3m0 40v3m0 141v3m5-147v3m7 6v3m0 94v3m5-5v2m7-123v3m0 3v3m0 100v3m5-129v3m12-9v3m7 0v3m0 109v3m5-146v2m0 144v3m7-155v3m0 137v3m12-46v3m0 35v2m7-157v3m12-41v3m0 135v3m0 89v3m5-109v3m12-35v3m7-23v3m5-23v3m7-14v2m5-8v3m14 232v3"/>
<path stroke="#1f928c" d="M3 314v3m12-25v2m17 0v3m7-17v3m7 6v3m5 17v3M58 5v3m0 304v2m5-8v3m7-23v3m5 11v3m7-26v3m5 3v3m7 34v3M99 2v3m0 3v2m0 313v3m14-26v3M130 5v3m0 2v3m0 296v3m7-29v3m5 6v2m19-8v3m12 25v3m5-301v3m7 258v3m7 40v3m5-43v3m7 0v3m12-12v3m24-11v3m5 37v3m7-35v3m19-8v2m5-11v3m12-221v3m7-3v3m12 198v3m5 3v2m12-8v3m14 5v3m5-11v3m7-23v3m5-6v3m0 132v3m7-115v3m0 86v3m5-115v3m12-17v2m0 124v3m7-135v3m0 123v3m5 6v2m7-232v3m12 14v3m7 181v3m5-141v3m7-34v3m0 2v3m0 32v3m5-6v3m12-43v3m0 129v3m7-135v3m0 129v3m5-141v3m0 103v3m12-138v3m7-8v3m0 131v3m7-143v3m5-17v2m7 101v3m5-138v3m0 135v3m7-15v3m0 100v3m5-255v3m7-12v3m0 118v3m5-12v3m7-23v3m12 247v3m12-284v3m7-64v3m0 75v3m5-55v3m24 149v3"/>
<path stroke="#1f938b" d="M8 306v3m7-15v3m5 3v3m7 6v3m5-15v3m7-17v3m12 26v2m7 0v3m5-8v3m7-23v3m5 11v3m7-26v3m5 3v3m19 11v3m12 3v3m19-23v3m24 0v3m5 2v3m12-8v3m7-12v3m12 0v3m12-267v3m0 270v2m7-17v3m12-11v2m29 3v3m19-14v3m7 0v3m5 0v2m7-11v3m5-14v2m7-5v3m12-9v3m5 3v3m7-15v3m7 129v3m5-14v3m7-132v2m0 132v6m5-14v3m12-26v3m7-9v3m17-126v3m0 129v3m7-124v3m0 103v3m5-137v2m0 135v3m7-14v3m7-144v3m5 115v3m7-20v2m5-5v3m12-132v3m7 123v3m12-29v3m5 0v3m14-152v3m0 97v3m5-9v3m7-114v2m0 98v3m5-132v3m0 129v3m7-144v3m5 115v3m24-75v3m7-14v3m5-9v3m26 6v2m0 195v3m0 3v3"/>
<path stroke="#1f948b" d="M3 317v3m5-11v3m7-15v3m5 3v3m7 6v2m19-22v2m12 23v3M63 5v3m19 275v3m5 3v3M94 2v3m0 318v3m5 0v3m7-26v3m7-3v3M125 5v3m0 309v3m5-8v2m12-20v3m7-289v2m0 302v2m29-22v2m7-281v3m19 3v3m0 264v3m5 5v3m19-26v3m12-5v2m12 6v3m5-3v3m7 12v2m7-23v3m12-5v2m17-223v3m0 200v3m7-5v2m5-198v3m0 195v3m7-11v3m5 117v3m7-129v3m0 123v3m7-112v3m5-11v3m7 109v2m5-137v3m7 20v3m0 80v3m5-250v3m0 138v3m7 14v3m5-35v3m0 118v3m7-129v3m0 117v3m5-123v3m7 108v3m5-132v3m0 129v3m7-123v3m0 106v3m7-138v3m0 129v3m5-135v3m7 6v3m12-32v3m0 100v3m5 6v3m7-129v3m5-9v3m7-3v3m0 100v3m5-135v3m0 132v3m7-143v2m0 127v2m12-152v3m12 178v3m7-95v3m5-146v3m0 126v3m7-26v3m5-12v3m7-23v3m12-34v3m12-3v3m7-58v3m5 78v3m12 143v3m0 20v3"/>
<path stroke="#1f958b" d="M32 300v3m7-17v3m7 5v3m5 17v3M63 0v2m0 310v2m7-22v2m5 12v3m7-23v3m17 40v3m7-324v2m12 299v3m12 2v3m7-307v3m0 276v3m5 5v3m12 35v2m7-324v3m0 276v2m5 3v3m7 17v3m12-304v3m0 264v3m7 37v3m5-310v3m0 267v3m7 0v3m12-12v3m5 34v3m7-46v3m12-6v3m5 35v3m31-46v3m7 97v3m5-98v3m7-229v3m0 215v3m17-12v3m0 109v3m7-123v3m0 114v3m5-307v3m0 187v2m0 109v3m26-135v3m0 124v3m5-132v2m0 121v3m7-26v3m5-103v2m7 92v3m5-112v3m7-8v2m5 121v3m31-158v3m0 106v3m12-109v3m0 83v3m12-126v2m7 118v3m5-129v3m0 94v3m12-129v3m7 115v3m7-132v3m5-18v3m7-6v3m0 92v3m5-126v3m0 123v3m7-138v3m0 120v3m12-152v3m12 81v2m5-20v3m12-20v3m0 287v3m7-12v3m7-261v3"/>
<path stroke="#1f968b" d="M3 320v3m5-11v2M15 2v3m0 295v3m5 3v3m7 5v3m5-14v3m7-17v3m12 25v3M58 0v2m0 318v3m5-9v3M70 5v3m0 286v3m17-5v2m19 12v3m7-3v3m17 8v3m7-28v2m29-284v6m12 278v3m7-11v3m7-273v3m5 270v3m12 5v3m7-17v3m17 23v3m7-38v3m12 3v3m5-3v3m14-9v3m5-8v2m7 0v3m17-229v3m0 206v3m7-206v2m0 198v3m0 109v3m17-115v3m0 104v2m7-120v3m0 117v3m7-301v3m5 0v3m0 181v2m0 101v3m7-281v2m0 155v3m0 118v3m5-279v3m7 170v2m5 75v3m12-3v3m7-9v3m5-117v2m0 118v3m7-115v3m0 95v2m5-126v3m0 123v3m7-117v3m0 100v3m7-132v3m0 123v3m5-169v3m7 46v2m0 81v3m17-127v3m0 115v3m7-123v2m0 115v3m12-126v3m0 94v3m5 0v3m7-138v3m7 86v3m5-8v2m0 46v3m24-209v3m0 120v3m7-26v3m0 172v3m5-186v2m19-54v3m5-9v3m26 212v3m17-100v3"/>
<path stroke="#1e978a" d="M8 2v3m0 309v3m7-14v3m5 3v3m19-20v2m7 3v3m12 23v3m12-29v3M75 5v3m0 301v3m7-23v3M87 2v3m0 289v3m7 29v3m5 3v3m7-26v3m7-304v2m5-5v3m7 312v3M142 8v5m0 287v3m7 11v3m12-307v3m0 281v3m5 3v3m7-290v3m5-3v3m0 281v3m26-8v2m24-17v3m36 14v3m19-23v3m12-11v3m5-12v3m7-212v3m0 203v3m5 0v3m7-204v3m0 190v2m12-8v3m7 11v3m0 100v6m17-138v3m0 115v3m7-270v3m5 146v3m7 12v3m0 71v3m5-106v3m7-9v3m12-103v3m5 80v3m0 118v2m7-197v2m7 58v3m0 117v3m5-123v3m0 100v3m12-138v3m0 32v3m0 77v3m7-106v5m17-25v3m12-32v3m0 120v3m7-14v3m7-126v2m5-17v3m12-34v2m0 118v3m7-132v3m0 115v2m12-146v3m12 75v3m0 223v3m24-258v3m0 267v2m7-321v3m5 20v3m0 264v3m7-198v3m0 149v3m5-135v3"/>
<path stroke="#1e988a" d="M15 0v2m12 315v3m5-14v3M39 2v3m7 295v3M51 0v2m0 318v3m7 3v3m5-12v3M82 2v6m0 284v2m5 3v3m12 35v2M113 5v3m0 301v3m5-304v2m0 302v2m12 6v3m7-29v3m12-287v3m12 284v3m24-11v3m12 0v2m12 6v3m7-17v3m12-9v3m12-6v3m12 3v3m5-3v3m14-9v3m5-9v3m12 0v3m7-8v2m17-11v3m7 97v3m5-109v3m0 98v3m14 0v2m5-109v3m0 95v3m7-118v3m0 112v3m5-278v2m0 155v3m7 89v3m17-109v3m0 103v3m7-115v3m0 103v3m5-112v3m0 112v3m7-17v3m5-201v6m7 183v3m31-52v3m5-109v3m0 109v3m7-118v3m0 109v3m12-29v3m12-129v3m19-26v3m0 86v3m5-118v3m0 193v2m7-94v3m5-132v3m0 114v3m7-26v3m5-11v3m12-41v3m7-17v3m5-9v3m38 155v3"/>
<path stroke="#1e998a" d="M3 323v3M8 0v2m0 315v3m7-14v3M20 2v3m0 307v2M27 2v3m0 315v3M32 0v5m0 304v3m7-18v6M46 2v3m0 298v3m5 17v3M58 2v3m0 324v3M63 2v3m0 315v3M70 2v3m0 295v6M75 2v3m0 307v2m7-20v3M87 5v3m0 292v3M94 5v3m0 321v3M99 5v3m0 329v6m7-338v3m0 304v2m7-2v2m5 0v3m7-309v2m0 313v3m5-318v2m0 313v3m7-318v2m0 287v3m5 3v3m12-296v3m7 287v3m5 0v3m7 14v3m5-23v3m7-11v2m7 32v3m0 37v3m5-75v3m7-3v3m5 6v3m7-17v3m12-9v3m12-6v3m5 29v2m7-28v3m5-3v3m7 8v3m7-20v3m5-9v3m7 0v3m0 83v3m5-89v3m7-9v3m0 92v3m5-109v6m7-9v3m5-209v2m0 210v3m0 94v6m7-313v3m0 195v6m5-201v3m0 198v3m0 92v3m7-296v6m0 181v3m0 109v2m7-100v3m0 89v6m5-290v3m7 0v3m0 163v3m0 106v3m5-115v3m0 106v3m7-95v3m0 66v3m5-92v3m0 89v3m7-80v3m0 65v3m5-97v3m0 97v3m7-109v3m0 97v3m5-106v3m0 106v3m7-106v3m0 86v3m5-115v6m0 109v3m7-109v3m0 91v3m7-175v3m0 52v5m0 109v3m5-117v5m0 92v3m7-95v3m0 75v3m5-83v2m0 72v3m7-98v3m5-17v3m0 103v3m7-112v3m0 103v3m5-114v2m0 86v3m7-94v3m0 86v2m5-117v6m0 111v3m7-126v3m0 109v3m7-121v3m0 83v3m5-103v3m0 92v3m0 45v3m7-66v3m5-112v3m0 109v3m7-126v3m0 106v3m5-126v2m0 109v3m7-126v3m0 97v3m0 170v2m5-294v2m0 109v3m0 198v2m7-223v3m5-20v2m7-17v3m5-9v3m7-56v2m0 60v3m7-46v3m0 60v3m0 235v3m5-232v3m12 3v2m7 26v3m0 26v3m5-6v3"/>
<path stroke="#1e9a89" d="M3 326v3m5-9v3m7-14v3m5 2v3m19-17v3m7 3v3M51 2v3m12 318v3m12-12v3m7-20v3m5 3v3m12 37v3m7-32v3m31-17v3m5 3v3m7 8v3m29-17v3m7-12v3m12 0v3m7-3v3m12-8v2m17 18v2m7-31v3m17 3v3m19-15v3m7 0v3m24-23v3m0 97v3m5-5v2m7-2v2m12-111v2m0 104v3m7-293v3m5 186v3m0 89v3m7-109v3m0 100v3m5-6v3m12-109v3m36 69v3m7-103v2m0 86v3m7-5v2m12-154v2m0 46v3m12-26v3m0 81v2m5-100v3m7 95v2m5-109v3m12 81v2m7-17v6m12-129v3m7-9v3m0 155v3m0 3v3m5-84v3m7 98v3m24-181v3m0 238v3m43-256v3m12 155v3m5-46v3"/>
<path stroke="#1e9b89" d="M15 312v2M20 0v2m12 310v2m19 12v3m7 3v3m12-29v3m12-9v3m48 23v3m7-26v3m24-3v3m5 0v3m43-3v3m12 11v3m7-37v3m24 0v3m19-9v3m12 74v3m5-83v3m12-17v3m12-3v3m7-12v3m5 0v3m0 86v3m7-101v3m7 9v3m0 83v3m17-115v3m7 14v3m5-20v3m0 80v3m7-11v2m5-91v3m7-9v3m5-6v3m0 100v3m7-100v3m0 80v3m5-106v3m7-84v3m7 6v3m0 54v3m5-3v3m7 72v3m17-12v3m7-106v3m5 75v2m7-5v3m5-109v2m0 104v3m7-118v3m7-9v3m5 72v3m12-121v3m7-14v3m0 100v3m0 115v2m5-238v3m0 104v2m7-25v2m5-11v3m19-55v3m5-8v2m7 287v3m12-301v3m0 244v3m24-81v3"/>
<path stroke="#1e9c89" d="M8 323v3m12-9v3M27 0v2m0 321v3m5-12v3m7-14v3m7 3v3m12 23v2m5-11v3m12-12v3m12-14v3m19 8v3m7-6v3m5 0v3m24-11v3m31 11v3m5-20v3m7-12v3m12 0v3m7-3v3m12-9v3m12-8v3m12-6v3m5 25v3m12-25v2m19-14v3m7 0v3m12-12v3m5 89v3m7-106v3m5 89v3m12-95v3m19-9v3m0 83v3m7-103v3m0 94v3m5-6v3m7-23v3m17-3v3m7-8v2m5 0v3m12-14v3m7-14v2m7-5v3m5-161v3m0 140v3m12-92v3m0 66v3m7-89v3m5-17v3m7 89v3m5-104v3m7-8v2m19 41v2m5-94v3m7 68v3m5-3v3m19-143v3m5 278v3m7-221v3m5-17v3m26 5v3m0 224v3"/>
<path stroke="#1e9d88" d="M3 329v3m12-18v3m55-8v3m12-9v3m12 26v3m31-9v3m5 0v3m7-26v3m17 28v3m7-34v3m5 0v3m26 17v3m17-23v3m0 54v3m55-69v3m31 60v3m5-97v2m7-5v3m5 0v2m7-11v3m0 92v3m5-12v3m7-95v3m0 95v3m7-9v3m17-109v3m24-17v2m7-8v3m5-6v3m7 80v3m5-100v3m7 2v3m7-23v3m5-3v3m7 0v3m12 52v3m24-29v3m5-104v3m0 98v3m7-112v3m7-9v3m12-23v3m5-26v3m7-14v2m0 95v3m5-115v3m0 98v3M525 2v3m0 100v3m19-55v3m0 307v3m12-307v3m0 275v3m7-318v3m12 241v3"/>
<path stroke="#1e9e88" d="M8 326v3m12-9v3m7 3v3m5-12v3m7-14v3m7 3v2m5 15v3m7 5v3m5-11v3m12-12v3m12-14v3m26 5v3m36 0v3m29-14v3m7-12v3m12 0v3m7-3v3m12-9v3m12-8v2m12-5v3m12 0v2m5 0v3m14-11v3m5-6v3m7 0v3m0 69v2m5-77v3m7-9v3m17 72v3m38-109v3m0 88v3m5-97v3m7 11v3m5-20v3m0 74v3m7-71v2m0 58v3m5 2v3m7-8v3m5 0v2m7-91v3m5 74v3m14-17v3m24-118v3m5-17v5m0 87v2m7-100v3m0 89v3m24-40v2m12-114v3m0 77v3m12-17v2m19-137v3m0 86v3m5-112v3m19 347v3m5-310v3m26 218v2m5-28v3"/>
<path stroke="#1e9f88" d="M3 332v3m12-18v3m24-11v3m31 0v2m12-8v3m17 37v3m7-29v3m12-3v3m12 9v3m7-26v3m5 0v2m19-5v3m48 0v2m24 0v3m67-46v3m7-5v2m0 87v2m5-89v3m7-11v3m5 0v3m7-12v3m7 6v3m0 74v3m5-86v3m0 77v3m12-8v2m7-23v3m17-89v3m7-8v3m5-6v3m7 74v3m5-94v2m7 81v3m7-101v3m5-3v3m0 77v3m7-17v3m29-112v3m0 72v3m7-9v3m5-98v3m0 92v3m7-106v3m0 91v3m7-31v3m12-23v2m5-97v3m0 186v3m7-112v3m5-109v3m0 92v3m7 160v3m5-292v2m7-10v2m0 80v3m5-17v3m7-20v2m36 207v3m12-89v3"/>
<path stroke="#1ea087" d="M20 323v3m26-12v3m5 15v3m24-12v3m7-17v3m5 0v2m43 52v3m36-57v2m7 12v3m5-17v2m7-11v3m19 0v3m24-15v3m12-5v2m12 0v3m19-8v3m12-3v3m12-12v3m0 77v3m24-11v3m5-12v3m7 3v3m19-103v2m0 84v2m17-94v3m36 51v3m14-17v3m17-98v3m0 60v3m12-8v3m7-95v3m0 83v3m12-101v3m19-37v3m17 46v3m7-107v3m17-46v3m0 89v3m7 218v3m17-281v3m0 307v3m19-313v3m0 40v3m7 17v3m5 17v3"/>
<path stroke="#1fa187" d="M8 329v3m7-12v3m12 6v3m5-12v3m7-11v2m19 26v3m5-11v3m7-21v3m24 18v2m12-14v3m7-6v3m12 6v3m12-20v2m5 0v3m7 6v3m12-14v2m36-8v3m19-9v3m41-6v3m0 66v3m7-66v3m12-20v3m7 66v3m5-72v3m12-15v3m0 86v3m7-95v3m5 0v3m0 72v3m7-86v3m5 0v2m7-11v3m7 77v3m5-6v3m12-94v3m0 83v3m12-21v3m12-86v3m0 78v2m7-88v2m0 78v3m5 0v3m12-104v3m7 0v3m0 72v3m7-95v3m12-3v3m12-23v3m0 66v3m17-95v3m31-57v2m7-11v3m0 152v3m5-178v3m0 180v3m7-112v3m5-103v3m0 86v3m7-106v3m0 80v3m0 180v3m12-218v3m12-34v3m5 312v3m7-310v3m7 17v3m5 224v3"/>
<path stroke="#1fa286" d="M3 335v2m43-20v3m36-8v2m5 0v3m43 18v2m48-23v3m7-11v3m24 5v3m12 6v3m7-29v3m12-6v3m5 20v3m19 46v3m36-9v3m31-17v3m7-80v2m5-8v3m7-15v3m17-8v3m7 2v3m0 52v3m17-86v3m7 0v2m0 66v3m24-103v3m0 72v2m31-34v3m5-20v3m7-9v3m5-92v3m0 86v3m7-100v2m0 84v3m12-35v3m7-17v3m12-104v3m17-46v3m0 83v3m7 224v3m5-264v3m26-43v3m24 100v3m0 86v3"/>
<path stroke="#1fa386" d="M8 332v3m12-9v3m12-6v3m7-12v3m12 18v2m7 6v3m12-29v3m5 6v3m43-6v3m19-12v3m29-3v3m31-8v3m7-3v3m12-9v3m36-9v3m5 0v3m14-11v2m5-5v3m7 0v2m12-11v3m5-9v3m7 75v3m12-89v2m0 78v3m5-81v3m0 66v3m14-6v3m12-8v3m5-86v2m7 9v3m0 49v2m17-80v3m7-9v3m5 75v3m12-98v3m0 80v3m7-14v3m7-6v3m12-29v3m17-95v3m0 78v3m7-89v3m12-15v3m12 52v3m7-92v3m5-15v3m12 52v3m7-17v2m17 167v3m24-270v3m26 34v3m5 17v3"/>
<path stroke="#20a485" d="M15 323v3m12 6v3m19-15v3m17 12v2m19-23v3m5 0v3m19 6v3m7-6v3m29-9v3m19-6v3m24-8v3m7 20v3m36-35v3m5 14v3m7-23v3m5 66v3m31-3v3m12-80v3m7 66v2m12-86v3m5 0v3m0 66v3m19-86v3m12 69v2m7-83v3m5 72v3m24-23v3m7-9v3m5-80v2m19-14v3m7-20v3m5-3v3m12-9v3m0 55v2m7-74v3m17-26v3m12-29v3m0 80v3m14-37v3m17-109v3m12-29v3m0 80v3m7-100v2m0 75v3m5-95v3m0 287v3m7-307v3m0 71v3m12-34v3m12-46v3m7 312v3m29-166v3m0 37v3"/>
<path stroke="#20a585" d="M3 337v3m17-11v3m12-6v3m7-12v3m19 26v3m12-29v3m60 14v3m7-23v3m36 9v3m5-15v3m26-8v2m5 3v3m7-14v3m24 57v3m24-63v3m12-17v2m7 58v3m5 11v3m12-11v2m19-89v3m12 69v3m7-11v2m5-71v3m7 60v3m5-81v3m12-5v2m0 61v2m24-11v3m7-78v3m0 61v2m5-2v2m14-17v3m5-14v3m7-72v3m17-35v3m7 66v3m12-26v3m12-95v3m19-31v3m12-35v3m17 35v2m12-37v3m50 86v3m0 77v3"/>
<path stroke="#21a685" d="M8 335v2m7-11v3m31-6v3m29 3v3m7-15v3m5 0v3m7 14v3m24-14v3m7 3v3m17-15v3m7 3v3m12-12v3m5-3v3m19-8v2m12-2v2m43-14v3m12-3v3m5 0v3m0 57v3m7-3v3m7-72v3m12-3v3m12-11v3m5-9v3m7-6v3m0 72v3m5-75v3m7 63v3m5-75v3m7-11v3m7 2v3m36 29v3m5-69v3m7-9v3m17-20v3m7 63v3m7-83v3m24 37v3m5-3v3m7-83v2m24 35v3m12-98v3m0 63v3m7-17v3m5-83v2m0 75v3m7-17v3m5-15v3m12-109v3m7-17v3m12 350v5m5-324v3m7 11v3m7 253v3m5-20v2"/>
<path stroke="#21a784" d="M27 335v2m12-17v3m12 14v3m7 9v3m5-15v3m7-17v3m36 3v3m7-6v3m41 11v3m74-40v3m60-14v2m12 61v3m12-15v3m12-9v3m19-8v3m7-78v3m5 66v3m24-23v3m7-9v3m5-75v3m31-31v3m19-23v3m5-15v3m7 60v3m5-77v3m0 57v3m12-89v3m0 74v3m14-97v3m29-69v3m7-18v3m0 69v3m24-66v3m19-17v3m0 43v2m5-28v3m24 157v3"/>
<path stroke="#22a784" d="M15 329v3m5 0v3m12-6v3m14-6v3m36-9v3m5 0v3m50-6v3m41-3v3m19-9v3m7-3v3m5 3v3m7-14v3m5 54v3m24-6v3m12-6v3m19-69v3m0 66v3m19-11v3m5-75v3m19-12v3m12 63v3m7-11v3m12-9v3m5-75v3m7 6v3m0 43v3m5-61v3m7 0v3m5-17v3m12 57v3m7-14v3m5-3v3m7-75v3m7 54v3m12-26v3m36-106v3m0 57v3m12-89v3m0 69v3m7-23v3m24-115v3m17 29v3m7-89v2m0 64v2m17 282v2m31-114v3"/>
<path stroke="#23a883" d="M3 340v3m36-20v3m31 0v3m5 3v3m55 5v3m12-20v3m19-6v3m5-3v3m19-9v3m43-11v3m12-6v3m5 14v3m7-20v3m5 0v3m7 0v3m0 48v3m7-66v3m5 60v3m7-66v3m5 63v3m7-77v3m12-12v3m5 0v3m7 57v3m5-69v3m7-11v2m12-2v2m24 38v3m19-78v3m17-20v3m7 57v3m7-77v3m5 57v3m7-66v3m5-9v3m0 49v3m12-12v3m7-78v3m17-31v3m0 69v2m31-132v3m0 69v3m7-17v3m5-86v2m0 69v3m12-103v3m12 34v3m12-26v3m19 46v3"/>
<path stroke="#23a982" d="M8 337v3m19-3v3m31 12v3m48-23v3m12-6v3m7 3v2m12-14v3m12 3v3m24 0v3m48-9v3m12-9v3m12 37v3m26 3v3m12-20v3m5-58v3m0 63v3m12-11v3m7-6v3m17-17v2m14-63v3m5 52v3m7-72v3m5 60v3m19-26v3m5 0v3m12-75v3m7-3v3m24-31v3m19-23v2m0 52v3m5-69v3m7 54v3m36-126v3m0 57v3m7-74v3m0 54v3m24-118v3m0 63v3m24-66v3m5 318v3m26-258v3m5 149v3m12-89v3"/>
<path stroke="#24aa82" d="M15 332v3m5 0v2m12-5v3m14-6v3m5 8v3m12-3v3m19-20v3m5 0v3m12 20v3m14-23v3m65-9v3m26-9v3m5 43v3m7-54v2m60-17v3m19 52v3m5-69v3m12 51v3m7-66v3m12 57v3m7-11v3m17-75v3m12-6v3m12-14v3m7 51v3m5-3v3m7-14v3m5-69v3m0 63v3m14-83v2m0 63v3m41-114v2m0 52v3m19-92v3m0 63v3m7-77v2m24-54v3m24 3v3m31 240v3m5-17v3m12-178v3"/>
<path stroke="#25ab81" d="M39 326v3m31 0v3m24 8v3m67-20v3m5-3v3m19-9v3m7 15v2m5-20v3m12 3v3m19-17v3m5 54v3m7-63v3m12-3v3m5 49v2m7-2v2m7-60v3m5 55v2m7-60v3m5 55v2m7-68v2m12-11v3m5 0v3m12-9v3m7-12v3m12-3v3m7 49v3m36-89v3m24-20v3m55-72v3m0 52v2m5-71v3m0 63v3m31-127v3m0 63v3m7-17v3m17-109v3m0 63v3m7-84v3m24 38v2m7 259v2m24-94v3"/>
<path stroke="#26ac81" d="M3 343v3m5-6v3m67-8v2m7-11v3m5 0v3m50-6v3m5-3v3m50 34v3m53-8v2m12-51v3m43 37v3m19-12v3m24-17v3m7-66v3m5 54v3m7-57v3m29-35v3m19 37v3m12-71v2m0 52v3m7-14v2m17-77v3m0 57v3m7-72v3m0 58v2m31-57v3m29-121v3m0 63v3m7-83v3m17 14v3m12-26v3m7-31v3m7 23v2m24 98v3m0 94v3m5-34v3"/>
<path stroke="#27ad80" d="M15 335v2m5 0v3m7 0v3m5-8v2m7-8v3m7 0v3m60 0v2m7-5v3m5-3v3m12 8v3m48-20v3m26 37v3m12-55v3m5 46v3m43-54v2m7 49v3m5-66v3m12-6v3m0 55v3m12-69v3m7 54v3m12-69v3m12 52v2m7-60v3m17-20v3m7 43v3m5-3v3m7-52v3m5 40v3m7-9v3m5-3v3m12-74v3m0 57v3m14-17v2m12-68v3m5-9v3m0 43v3m7-61v3m36-60v3m0 57v3m12-83v3m31-12v3m24-66v3m19 32v3m5 220v3m7-215v3"/>
<path stroke="#28ae7f" d="M51 343v3m12-3v3m7-14v3m79-3v3m12-9v3m24-9v3m12-3v3m7-3v3m24-11v2m12-5v3m24 43v3m12-3v3m7-12v3m12 0v3m12-66v3m5 48v3m12-8v3m7-61v3m7 49v3m12-9v3m17-66v3m12-14v3m7-9v3m12-9v3m0 46v3m19-78v3m24 23v3m17-75v3m26-46v3m5 40v3m7-68v2m0 49v3m5-69v3m7-17v3m0 57v3m17-103v3m0 57v3m7-23v3m36-20v2m12 49v3m12 52v3"/>
<path stroke="#29af7f" d="M82 329v3m5 0v3m38 2v3m12-11v3m5-3v3m24-6v3m7 6v2m36-11v3m24-6v3m7 37v3m12-57v3m5 43v3m14-55v3m0 54v3m12-60v3m5 46v3m7-61v3m17-8v3m12-9v3m26-20v3m24 28v3m36-77v3m0 45v3m43-106v3m12 32v3m5-66v2m0 58v3m31-61v3m12-89v3m0 58v2m55 178v3m12-51v2m12-45v2"/>
<path stroke="#2ab07e" d="M8 343v3m7-9v3m17-3v3m7-8v3m7 0v2m29 0v3m158 23v3m12-11v3m7 8v3m5-57v2m43-22v2m0 52v3m7-6v3m12-63v3m0 51v3m24-66v3m0 46v3m12-63v3m0 51v3m36-83v3m0 52v2m31-86v3m0 46v3m24-83v3m0 51v3m7-11v3m5-15v3m62-172v3m12-32v3m5 37v3m12-25v2m31 221v3"/>
<path stroke="#2bb17d" d="M3 346v3m17-9v3m7 0v3m43-11v2m36 0v3m7-5v2m5-2v2m60-8v3m7-9v3m31-9v3m5 9v3m0 28v3m7-49v3m12-5v2m5 9v3m26 32v2m5-57v3m0 46v3m12-55v3m19-14v3m24-15v3m0 52v3m48-86v2m0 46v3m24-74v2m0 52v3m14-72v3m0 52v3m48-115v3m5 40v3m7-69v3m0 51v3m12-77v3m55-81v3m43 112v3m0 72v5"/>
<path stroke="#2cb17d" d="M82 332v3m12 8v3m60-3v3m7-17v3m36-9v3m7-3v3m24 37v3m60-17v3m7-6v3m43-69v3m0 40v3m29-66v3m0 40v3m19-63v3m0 46v2m12-14v3m31-37v3m12-61v3m29-49v3m14 23v3m17-86v3m7-17v3m0 51v3m12-31v2m5-68v2m12-33v2m19 46v3m19 51v3m17 63v3m0 29v3"/>
<path stroke="#2eb27c" d="M39 335v2m7 0v3m5 6v3m12-3v3m24-14v2m50-5v3m5-3v3m7 0v2m17-8v3m43 28v3m24-3v3m19-51v2m12 0v3m0 35v3m7-49v3m24-12v3m17-8v2m0 41v2m12-51v3m0 40v3m26-63v2m0 46v3m12-51v2m36-34v3m31-34v2m5-8v3m0 37v3m24-78v3m26-46v3m5 35v2m7-63v3m5 38v2m12-83v3m0 52v3m12-32v3m7-23v3m48 183v3m12-51v3"/>
<path stroke="#2fb37b" d="M15 340v3m17-3v3m26 12v3m17-18v3m134-14v3m7-12v3m41-9v3m14 38v3m12-52v3m0 34v3m17-52v3m0 46v3m7-6v3m12-57v3m0 46v2m24-17v3m12-57v3m0 45v3m7-14v3m12-46v3m17-23v3m0 46v3m19-23v2m31-40v3m5-54v3m0 45v3m7-11v3m12-23v3m31-58v3M556 8v2m7 23v3m5 46v3"/>
<path stroke="#30b47a" d="M8 346v3m12-6v3m50-9v3m12-5v2m43 3v3m5 3v3m55-23v3m43-12v3m12-6v3m12 46v3m5-14v3m19-49v3m31-17v2m24-14v3m0 46v3m12-55v3m60-52v3m0 46v3m7-54v2m7-14v3m0 46v3m5-55v3m31-43v3m24 9v2m43-140v3m12-32v3m17 9v3"/>
<path stroke="#32b57a" d="M3 349v3m24-6v3m12-12v3m48-3v3m19 0v3m7-6v3m5-3v3m43-8v3m12 2v3m5-8v3m14 2v3m5-14v3m7-3v3m36 31v3m5-11v3m31-6v3m12-49v3m0 40v3m7-6v3m79-52v3m5-46v3m0 40v3m7-51v3m36 5v3m36-49v3m19-77v3m12-23v3m12-29v3m7 31v3m17-92v3m12 15v2m7-22v2m19 35v3m17 51v3m7 9v3m5 23v2"/>
<path stroke="#33b679" d="M46 340v3m91-8v2m84 21v2m12-34v3m0 29v2m19 0v3m19-54v3m24-12v3m29-14v3m14 28v3m12-52v3m0 40v3m17-54v3m19 23v3m12-15v3m43-89v3m24-37v3m5-15v3m0 46v3m31-60v3m7-66v2m5-14v3m7 29v3m5-15v3m12-83v3m38 80v3m0 9v5"/>
<path stroke="#35b778" d="M15 343v3m17-3v3m38-6v3m12-6v3m60-5v2m7 0v3m17-8v3m26 25v3m24 3v3m36-55v3m12 32v3m7 0v3m29-58v3m12-6v3m7-8v3m0 40v3m5-9v3m14-46v3m17-17v2m0 41v2m12-14v3m24-17v3m55-106v2m7 32v3m31-55v3m29-57v3m55-61v3m24 109v3"/>
<path stroke="#36b877" d="M63 349v3m12-9v3m19 0v3m91-20v3m31-9v3m12-6v3m12-6v3m17-3v3m26-11v3m17 28v3m7-49v3m0 40v3m5-8v3m19-52v3m0 40v3m12-12v3m48-77v3m7-6v3m5-12v3m7 32v3m7-52v3m29 6v2m7-54v3m5-9v3m7 26v3m24-43v3m43-98v3"/>
<path stroke="#38b976" d="M8 349v3m12-6v3m19-9v3m12 6v3m48 0v3m153 3v2m12-43v3m12-11v3m67-32v3m60-9v3m14-17v3m5-49v3m7-9v3m0 32v3m5-43v3m0 31v3m43-60v3m7-58v3m12-26v3m0 37v3m24-97v3m72 111v3"/>
<path stroke="#39b976" d="M46 343v3m41-6v3m19 0v3m7-6v3m24-6v3m24-5v2m17-2v2m0 29v3m19-40v3m7-3v3m0 31v3m5-34v3m12-3v3m7 25v3m17-37v3m12 20v3m19-6v3m7-9v3m5-37v3m0 34v3m7-6v3m84-89v3m7-8v2m24-23v3m31-3v3m29-83v3m0 40v3m7-57v3m24-49v3m7 25v3m17-86v3m7-20v3m5-17v3m7 20v3m12 14v3m24 57v3m7 37v3"/>
<path stroke="#3bba75" d="M3 352v3m24-6v3m55-12v3m36-3v3m7 0v3m146 3v3m24-49v3m43 11v3m12-46v3m12-6v3m0 26v3m5-37v3m12 23v2m7-8v3m36-38v3m67-137v2m24-54v3m24-20v3m12-26v3m7-18v3"/>
<path stroke="#3dbb74" d="M15 346v3m17-3v3m38-6v3m72-9v3m24-5v2m43 21v2m24-5v3m7 0v2m12-43v3m0 35v3m19-46v2m29-14v3m12-6v3m7-8v2m5-2v2m26 18v2m5-43v3m19-11v3m17 17v3m7-12v3m48-92v3m7 26v3m5-11v2m43-74v3m7-61v3m5 29v3m7-20v3m5-15v3m38-46v3"/>
<path stroke="#3ebc73" d="M39 343v3m146-14v3m31-9v3m0 34v3m12-43v3m12-6v3m60 14v3m7-43v3m0 35v2m12-8v3m12-46v3m0 34v3m12-12v3m12-8v3m19-20v2m17-48v3m12-15v3m14-17v3m24-29v3m24-37v2m122-25v3"/>
<path stroke="#40bd72" d="M20 349v3m55-6v3m12-6v3m62-6v3m24-3v3m0 23v3m24-3v3m48-20v3m19-6v3m12-37v2m7-2v2m29 15v3m12-9v3m14-40v3m65-18v3m7-11v3m7-9v3m29-37v3m7-49v3m5-9v3m19 3v3m55-121v3"/>
<path stroke="#42be71" d="M8 352v3m38-9v3m84 0v3m67-20v3m24 20v3m12-29v3m24-12v3m31 17v3m79-46v3m12-43v3m43-43v3m43-26v3m19-35v3m36-114v2m17-45v2m31 69v3m7 6v3"/>
<path stroke="#44be70" d="M63 352v3m19-12v3m55-6v3m17 3v3m7-12v3m17-3v3m7 26v3m19-37v3m72 8v3m19-9v3m48-57v3m7-9v3m36-29v3m12-11v3m72-95v3m0 34v3m7-51v2m7-14v3m5 23v3m12-63v3m7 20v2m55-54v3m17 51v3m7 20v3"/>
<path stroke="#45bf6f" d="M15 349v3m36 0v3m19-9v3m24 0v3m12-6v3m7-6v3m5-3v3m36 17v3m55-31v2m62 9v3m17-40v3m141-72v3m67-138v3m0 32v2m17-74v3m12-32v3m19-17v3"/>
<path stroke="#47c06e" d="M32 349v3m7-6v3m103-9v3m24-6v3m50 20v3m12-5v2m12-5v3m12-38v3m0 29v3m12-35v3m7-9v3m24-11v3m5-6v3m19-12v3m5-3v3m14 17v3m12-8v3m5-38v3m12-8v2m12 18v3m7-9v3m5-6v3m19-52v3m19-23v3m5-8v2m0 26v3m55-118v3m12 9v3m31-112v3m5 20v3m31 8v3m19 81v2"/>
<path stroke="#49c16d" d="M3 355v3m24-6v3m98-9v3m53 14v3m7-31v2m7 3v3m12 17v3m12-34v3m12-6v3m5 23v3m7-32v3m17 20v3m26-12v3m17-5v2m7-37v3m0 29v3m5-35v3m7 23v3m12-40v3m0 28v3m24-17v3m43-38v3m5-37v3m19 9v2m19-25v2m5-40v3m7 20v3m55-135v3m5 23v3m7-20v3m5-15v3m24-57v3m26 69v3"/>
<path stroke="#4bc26c" d="M46 349v3m41-6v3m110 14v3m146-54v2m48-65v2m12 18v2m14-48v3M575 91v3m5 14v3"/>
<path stroke="#4dc26b" d="M20 352v3m62-9v3m91 14v3m19-8v2m84-46v3m134-57v3m7-9v3m24-60v3m5 20v3m12-20v3m19-32v3m79-164v3m0 26v3"/>
<path stroke="#4fc369" d="M75 349v3m62-9v3m12-3v3m48-11v2m67 6v3m24-9v3m74-66v3m0 20v3m17-40v3m43-43v3m31-43v3m12-21v3m67-109v3"/>
<path stroke="#51c468" d="M8 355v3m7-6v3m55-6v3m91-12v3m60-8v2m36-14v3m14 17v3m12-32v3m12 18v2m17-11v3m12-9v3m14-34v3m12-12v3m24-17v3m0 20v3m12-38v3m72-83v3m12-23v3m0 28v3m38-74v3m12-64v3m17-46v3m26 26v3"/>
<path stroke="#53c567" d="M32 352v3m7-6v3m74-6v3m65-9v3m7 20v3m19-31v2m41-8v3m7 17v3m24-12v3m12-31v2m55-28v3m24 5v3m98-106v3m12-52v3m7 15v2m17-65v2m24-57v3m55 72v2"/>
<path stroke="#55c666" d="M118 346v3m24-6v3m31-3v3m36 9v3m7 0v2m12-5v3m12-6v3m31-38v3m24-11v3m5-6v3m19-12v3m36-23v3m36-3v3m93-149v3m5 17v3m24-83v3"/>
<path stroke="#57c665" d="M106 349v3m60-12v3m19-6v3m12 20v3m19-31v3m12-6v3m12-6v3m5 17v3m7-26v3m48 6v3m7-32v3m0 23v3m12-9v3m12-34v2m19 12v3m29-23v3m19-43v3m48-58v3m50-86v3m5 17v3m43-109v3"/>
<path stroke="#59c764" d="M46 352v3m17 0v3m24-9v3m50 14v3m24-3v3m60-17v3m12-23v3m79-32v3m12-9v3m7 17v3m7-8v2m17-11v3m31-26v3m17-43v3m7-9v3m7-11v2m36-20v3m36-89v3m7 12v3m12-58v3m5 17v3m24-63v3m43 66v3"/>
<path stroke="#5bc862" d="M27 355v3m24-3v3m7 0v2m24-11v3m12 0v3m5 11v3m268-98v3m24-23v3m12 12v3m19-23v3m98-164v3m5-14v2m7-51v3m31 34v3m17 49v3"/>
<path stroke="#5ec961" d="M20 355v3m146 8v3m38-11v2m5-23v3m55-17v3m12-9v3m67-11v3m55-43v2m19-20v3m12-40v3m0 20v3m5-32v3m0 20v3M549 19v3m19 54v3"/>
<path stroke="#60c960" d="M3 358v2m36-8v3m86-6v3m12-6v3m36 11v3m5-3v3m19-26v3m60 3v3m31-11v2m153-114v3m36-55v3m91-115v3"/>
<path stroke="#62ca5f" d="M15 355v3m55-6v3m5-3v3m86-12v3m72 3v3m50-17v2m12-5v3m115-78v3m36-43v3m7-37v2m17-2v2"/>
<path stroke="#64cb5d" d="M99 355v3m50-12v3m0 17v3m122-29v3m79-60v3m29-23v3m7-9v3m55-60v3m17-3v3m12-46v3m62-107v3m5-43v3"/>
<path stroke="#67cc5c" d="M32 355v3m81-9v3m139-6v3m67-49v3m103-80v3m43-61v3m36-69v3m7 9v3m12-58v3m36-43v3m0 20v3"/>
<path stroke="#69cc5b" d="M8 358v2m134-14v3m43 11v3m12-5v2m7-23v3m12 15v3m41-32v3m7 11v3m12-6v3m24-31v3m12 11v3m12-9v3m31-40v3m103-106v3m19-35v3m48-103v3m38-6v3"/>
<path stroke="#6bcd59" d="M118 349v3m12 11v3m36-23v3m12-3v3m7-6v3m31-8v2m12-5v3m0 17v3m12-26v3m0 17v3m12-26v3m19-9v3m12-6v3m5-6v3m7-5v2m12-8v3m31-17v2m53-20v3m74-89v3m48-117v2"/>
<path stroke="#6dce58" d="M46 355v3m36-6v3m5-3v3m43-3v3m31 8v3m139-37v3m7-6v3m12-9v3m12-29v3m0 17v3m12-28v3m19-15v3m0 14v3m5-5v2m117-137v3m5-12v3m12-26v3m43-109v3"/>
<path stroke="#70ce56" d="M106 352v3m48-6v3m12 11v3m184-63v3m5-6v3m19-34v2m29-28v3m14-18v3m29-37v3m38-63v3m24-52v3m5 11v3"/>
<path stroke="#72cf55" d="M142 366v3m232-83v3m5-6v3m7-9v3m67-74v2m43-97v3m0 20v3m29-66v3m12-35v3"/>
<path stroke="#74d054" d="M39 355v3m86 8v3m29-9v3m158-57v3m12-9v3m14 6v3m53-58v3m7-8v2m5 12v3m86-141v3m31-46v3m12-57v3"/>
<path stroke="#77d052" d="M204 355v3m206-121v3m7 9v2"/>
<path stroke="#79d151" d="M20 358v2m50-5v3m79 5v3m43-23v3m84-26v3m91-49v3m55-34v3m55-78v3m72-155v3m14 40v3m5 0v3m0 9v2"/>
<path stroke="#7cd24f" d="M15 358v2m12-2v2m110-11v3m36-6v3m19 6v3m5-18v3m91-11v3m55-29v3"/>
<path stroke="#7ed24e" d="M51 358v2m24-5v3m19-3v3m67-12v3m48 3v3m86-26v3m103-66v3m31-35v3m17-23v3m24-57v2m0 18v3"/>
<path stroke="#81d34c" d="M63 358v2m158-23v3m31 3v3m19-9v3m158-123v3m5-9v3m0 14v3m7-11v3m12-38v3m79-137v2"/>
<path stroke="#83d34b" d="M125 352v3m53 3v2m55-25v2m12-5v3m105-49v3m29-23v3m7-9v3m24-9v3m91-155v3m7 3v3m12-52v3m17-46v3m12-19v2m7 17v3"/>
<path stroke="#86d449" d="M3 360v3m29-5v2m81-8v3m72 3v2m31-8v3m5-6v3m79-40v2m19-11v3m36-23v3m103-89v3m19-52v3m48-103v3m31-15v3m7 6v3"/>
<path stroke="#88d547" d="M137 363v3m5-17v3m7-3v3m17 8v3m7-5v2m36-20v3m19 6v3m12-6v3m5-6v3m12-6v3m165-117v2m19-25v3m24-38v3m48-95v3"/>
<path stroke="#8bd546" d="M118 352v3m43 5v3m5-17v3m19-6v3m12 9v3m7-18v3m24-8v2m12-5v3m24-9v3m43-20v3m84-41v3M544 16v3"/>
<path stroke="#8dd644" d="M46 358v2m36-5v3m5-3v3m55 5v3m74-29v3m17 6v3m19-20v3m31 0v3m48-38v3m127-120v3m43-61v3m67-60v3m0 3v3"/>
<path stroke="#90d643" d="M8 360v3m98 3v3m12-3v3m153-46v3m5 9v2m12-20v3m7-6v3m5 9v3m7-6v3m24-14v2m72-68v3m62-64v3m19-34v3m5-12v3m19-60v3m5 6v2"/>
<path stroke="#92d741" d="M39 358v2m48 6v3m225-49v3m7-6v3m98-89v3m29-37v3m79-132v3m12-35v3"/>
<path stroke="#95d73f" d="M113 366v3m151-32v3m60-26v3m31-20v3m98-97v3m31-69v3m12-26v3m24-38v3m12-51v2m31 23v3"/>
<path stroke="#97d83e" d="M94 366v3m84-23v3m79-20v3m81-38v3m5-5v2m7 6v3m146-172v3m72-66v3"/>
<path stroke="#9ad83c" d="M125 363v3m158-46v3m108-66v3m12 0v3m86-135v3m60-118v3"/>
<path stroke="#9dd93a" d="M106 355v3m261-69v3m12-12v3m7-9v3"/>
<path stroke="#9fd938" d="M362 280v3m55-37v3m60-84v3M544 0v2m19 46v3"/>
<path stroke="#a2da37" d="M149 360v3m213-71v2m12-23v3M556 22v3"/>
<path stroke="#a5da35" d="M312 309v3m12-9v3m50-23v3m24-35v3m12-14v3m60-81v3m0 12v3m62-132v3m5-32v3"/>
<path stroke="#a7db33" d="M15 360v3m24 3v3m31-11v2m12 6v3m122-17v3m72-32v3m62-20v3m84-69v3m79-138v3m7-3v3m12-46v3m36-32v3"/>
<path stroke="#aadb32" d="M20 360v3m50 3v3m67-17v3m60-12v3m170-69v3m79-69v3m7-26v3m72-140v2m38 0v3"/>
<path stroke="#addc30" d="M288 329v3m55-29v3M513 79v3m31-69v3m19 35v2"/>
<path stroke="#afdc2e" d="M161 349v3m134-26v3m134-98v3m12-17v3m36-69v3"/>
<path stroke="#b2dd2c" d="M46 366v3m225-34v2m127-74v3m31-46v3m5-9v3m0 9v2m24-34v3"/>
<path stroke="#b5dd2b" d="M27 360v3m48-5v2m177-20v3m98-54v3m29-23v2m7-8v3m24-15v3m55-83v3m36-55v3m12-28v3m24-64v3"/>
<path stroke="#b7dd29" d="M319 306v3m103-81v3m19-25v2m67-117v3m17-29v3"/>
<path stroke="#bade27" d="M216 349v3m84-38v3m55-31v3m134-147v3m31-69v3m12-46v3m24-11v3"/>
<path stroke="#bdde26" d="M113 355v3m5 5v3m67-11v3m206-89v2m67-88v2m26-34v3m65-144v3"/>
<path stroke="#bfdf24" d="M142 352v3m24 3v2m74-17v3m67-34v2m158-131v2m19-45v2m12-25v2m60-88v2"/>
<path stroke="#c2df22" d="M32 360v3m196-17v3m103-49v3m72-54v2m43-51v3m50-75v3M544 2v3m5-3v3"/>
<path stroke="#c5df21" d="M142 360v3m86-26v3m189-106v3m36-37v3m36-72v3"/>
<path stroke="#c7e01f" d="M82 358v2m84-11v3m19-6v3m55-14v2m91-28v3M537 22v3m19 3v3"/>
<path stroke="#cae01e" d="M3 363v3m110-3v3m5-11v3m98-18v3m91-23v3m170-161v3m55-120v3m12-38v3"/>
<path stroke="#cde01d" d="M300 323v3M520 65v3"/>
<path stroke="#cfe11c" d="M39 360v3m48-5v2m165-28v3m67-21v3m84-60v3m67-86v3m31-69v3m7-9v3m17-52v3"/>
<path stroke="#d2e11b" d="M3 366v3m158-11v2m110-34v3m24-12v3m60-26v3m36-37v3m26-20v3m53-81v3m43-86v3m36-77v2"/>
<path stroke="#d4e11a" d="M137 360v3m60-11v3m7-12v3m84-26v3m62-26v3M537 31v2"/>
<path stroke="#d7e219" d="M46 360v3m29 3v3m74-17v3m127-23v3m103-58v3m7-9v3m60-66v3m7-20v3m24-40v3M549 5v3"/>
<path stroke="#dae218" d="M51 360v3m55 0v3m19-11v3m53-3v3m134-41v3m12-8v2m14-17v3m5-6v3m158-180v2m7-25v3m5-6v3m12-32v3m7-29v3m12-34v3"/>
<path stroke="#dce218" d="M94 358v2m163-23v3m7-11v3m19-3v3m84-46v3m31-35v3m12-14v3m12-9v3m98-166v2"/>
<path stroke="#dfe318" d="M173 349v3m36-3v3m24-15v3m208-126v3m17-26v3m7-20v3M544 8v2"/>
<path stroke="#e1e318" d="M58 360v3m41-5v2m31 0v3m24-11v3m38-9v3m29-9v3m24-8v2m117-54v3m12-12v3m110-129v3m5-11v2m48-117v3"/>
<path stroke="#e4e318" d="M99 363v3m31-11v3m24 0v2m38-8v3m29-9v3m24-9v3m117-54v3m12-12v3m55-60v3m0 2v3m5-14v3m0 3v3m62-107v3m36-80v3"/>
<path stroke="#e7e419" d="M63 360v3m110-8v3m36-15v3m24-3v3m24-14v3m7 0v2m19-14v3m158-118v3m17-26v3m26-46v3m12-20v3m41-100v3"/>
<path stroke="#e9e419" d="M63 366v3m31-6v3m12-8v2m19 0v3m53-14v3m134-40v2m12-8v3m14-6v3m29-26v3m31-23v3m12-14v2m12-20v3m43-54v3m24-49v3m31-69v3m5-15v3"/>
<path stroke="#ece41a" d="M15 363v3m43 0v3m12-9v3m67-8v3m12 0v2m48-14v3m7 0v3m72-26v3m12-3v3m7-6v3m48-26v3m7-11v2m29-23v3m7-8v3m60-66v3m7-9v3m55-101v3m24-63v3"/>
<path stroke="#eee51b" d="M8 363v3m67-6v3m12 0v3m74-14v3m91-18v3m19-8v3m29-18v3m19-11v3m36-23v3m36-26v3m12-18v3m14-17v3m60-80v2m24-51v3m12-29v3m12-29v3"/>
<path stroke="#f1e51c" d="M15 366v3m24-6v3m12 0v3m31-6v3m31-8v2m5 0v3m24-8v3m24-3v3m19-6v3m31-9v3m12-9v6m12-6v3m67-29v3m24-14v3m139-138v6m38-77v2m5-11v3m7-20v3"/>
<path stroke="#f3e51e" d="M20 363v3m12-3v3m14-3v3m29-3v3m7-6v3m5-3v3m26-3v3m5-5v2m24-2v2m19-5v3m5-6v3m19-6v3m31-9v3m24-9v3m12-5v2m19-8v3m29-12v3m7-6v3m12-8v2m12-8v3m24-17v2m36-31v3m12-12v3m14-17v3m29-37v2m7-14v3m24-40v3m7-15v3m5-11v3m7-18v3m5-11v3"/>
<path stroke="#f6e61f" d="M8 366v3m19-6v3m5 0v3m19-6v3m7-3v3m5-3v3m7-3v3m24-6v3m5-3v3m7-3v3m19-5v2m5-2v2m7-2v2m12-5v3m5-3v3m19-6v3m5-3v3m14-6v3m5-3v3m7-6v3m5-3v3m12-6v3m12-6v3m12-6v3m12-5v2m7-5v3m12-6v3m7-6v3m5-6v3m7-6v3m17-9v3m12-8v3m14-12v3m5-6v3m7-6v3m12-11v3m5-6v3m7-9v3m5-6v3m7-8v2m12-14v3m12-14v3m12-15v3m7-11v2m5-8v3m7-12v3m17-26v3m7-14v3"/>
<path stroke="#fae622" d="M20 366v3m7-3v3"/>
</g>
</g>
<g id="colorbar" transform="translate(761.5 58)" shape-rendering="crispEdges" fill="none" stroke-width="19">
<path stroke="#fde725" d="M0 0v1"/>
<path stroke="#fbe723" d="M0 1v1"/>
<path stroke="#f8e621" d="M0 2v2"/>
<path stroke="#f6e620" d="M0 4v1"/>
<path stroke="#f4e61e" d="M0 5v2"/>
<path stroke="#f1e51d" d="M0 7v1"/>
<path stroke="#efe51c" d="M0 8v2"/>
<path stroke="#ece51b" d="M0 10v1"/>
<path stroke="#eae51a" d="M0 11v2"/>
<path stroke="#e7e419" d="M0 13v1"/>
<path stroke="#e5e419" d="M0 14v1"/>
<path stroke="#e2e418" d="M0 15v2"/>
<path stroke="#dfe318" d="M0 17v1"/>
<path stroke="#dde318" d="M0 18v2"/>
<path stroke="#dae319" d="M0 20v1"/>
<path stroke="#d8e219" d="M0 21v2"/>
<path stroke="#d5e21a" d="M0 23v1"/>
<path stroke="#d2e21b" d="M0 24v2"/>
<path stroke="#d0e11c" d="M0 26v1"/>
<path stroke="#cde11d" d="M0 27v1"/>
<path stroke="#cae11f" d="M0 28v2"/>
<path stroke="#c8e020" d="M0 30v1"/>
<path stroke="#c5e021" d="M0 31v2"/>
<path stroke="#c2df23" d="M0 33v1"/>
<path stroke="#c0df25" d="M0 34v2"/>
<path stroke="#bddf26" d="M0 36v1"/>
<path stroke="#bade28" d="M0 37v2"/>
<path stroke="#b8de29" d="M0 39v1"/>
<path stroke="#b5de2b" d="M0 40v1"/>
<path stroke="#b2dd2d" d="M0 41v2"/>
<path stroke="#b0dd2f" d="M0 43v1"/>
<path stroke="#addc30" d="M0 44v2"/>
<path stroke="#aadc32" d="M0 46v1"/>
<path stroke="#a8db34" d="M0 47v2"/>
<path stroke="#a5db36" d="M0 49v1"/>
<path stroke="#a2da37" d="M0 50v2"/>
<path stroke="#a0da39" d="M0 52v1"/>
<path stroke="#9dd93b" d="M0 53v1"/>
<path stroke="#9bd93c" d="M0 54v2"/>
<path stroke="#98d83e" d="M0 56v1"/>
<path stroke="#95d840" d="M0 57v2"/>
<path stroke="#93d741" d="M0 59v1"/>
<path stroke="#90d743" d="M0 60v2"/>
<path stroke="#8ed645" d="M0 62v1"/>
<path stroke="#8bd646" d="M0 63v2"/>
<path stroke="#89d548" d="M0 65v1"/>
<path stroke="#86d549" d="M0 66v1"/>
<path stroke="#84d44b" d="M0 67v2"/>
<path stroke="#81d34d" d="M0 69v1"/>
<path stroke="#7fd34e" d="M0 70v2"/>
<path stroke="#7cd250" d="M0 72v1"/>
<path stroke="#7ad151" d="M0 73v2"/>
<path stroke="#77d153" d="M0 75v1"/>
<path stroke="#75d054" d="M0 76v2"/>
<path stroke="#73d056" d="M0 78v1"/>
<path stroke="#70cf57" d="M0 79v1"/>
<path stroke="#6ece58" d="M0 80v2"/>
<path stroke="#6ccd5a" d="M0 82v1"/>
<path stroke="#69cd5b" d="M0 83v2"/>
<path stroke="#67cc5c" d="M0 85v1"/>
<path stroke="#65cb5e" d="M0 86v2"/>
<path stroke="#63cb5f" d="M0 88v1"/>
<path stroke="#60ca60" d="M0 89v2"/>
<path stroke="#5ec962" d="M0 91v1"/>
<path stroke="#5cc863" d="M0 92v1"/>
<path stroke="#5ac864" d="M0 93v2"/>
<path stroke="#58c765" d="M0 95v1"/>
<path stroke="#56c667" d="M0 96v2"/>
<path stroke="#54c568" d="M0 98v1"/>
<path stroke="#52c569" d="M0 99v2"/>
<path stroke="#50c46a" d="M0 101v1"/>
<path stroke="#4ec36b" d="M0 102v2"/>
<path stroke="#4cc26c" d="M0 104v1"/>
<path stroke="#4ac16d" d="M0 105v1"/>
<path stroke="#48c16e" d="M0 106v2"/>
<path stroke="#46c06f" d="M0 108v1"/>
<path stroke="#44bf70" d="M0 109v2"/>
<path stroke="#42be71" d="M0 111v1"/>
<path stroke="#40bd72" d="M0 112v2"/>
<path stroke="#3fbc73" d="M0 114v1"/>
<path stroke="#3dbc74" d="M0 115v2"/>
<path stroke="#3bbb75" d="M0 117v1"/>
<path stroke="#3aba76" d="M0 118v1"/>
<path stroke="#38b977" d="M0 119v2"/>
<path stroke="#37b878" d="M0 121v1"/>
<path stroke="#35b779" d="M0 122v2"/>
<path stroke="#34b679" d="M0 124v1"/>
<path stroke="#32b67a" d="M0 125v2"/>
<path stroke="#31b57b" d="M0 127v1"/>
<path stroke="#2fb47c" d="M0 128v2"/>
<path stroke="#2eb37c" d="M0 130v1"/>
<path stroke="#2db27d" d="M0 131v1"/>
<path stroke="#2cb17e" d="M0 132v2"/>
<path stroke="#2ab07f" d="M0 134v1"/>
<path stroke="#29af7f" d="M0 135v2"/>
<path stroke="#28ae80" d="M0 137v1"/>
<path stroke="#27ad81" d="M0 138v2"/>
<path stroke="#26ad81" d="M0 140v1"/>
<path stroke="#25ac82" d="M0 141v2"/>
<path stroke="#25ab82" d="M0 143v1"/>
<path stroke="#24aa83" d="M0 144v1"/>
<path stroke="#23a983" d="M0 145v2"/>
<path stroke="#22a884" d="M0 147v1"/>
<path stroke="#22a785" d="M0 148v2"/>
<path stroke="#21a685" d="M0 150v1"/>
<path stroke="#21a585" d="M0 151v2"/>
<path stroke="#20a486" d="M0 153v1"/>
<path stroke="#20a386" d="M0 154v2"/>
<path stroke="#1fa287" d="M0 156v1"/>
<path stroke="#1fa187" d="M0 157v1"/>
<path stroke="#1fa188" d="M0 158v2"/>
<path stroke="#1fa088" d="M0 160v1"/>
<path stroke="#1f9f88" d="M0 161v2"/>
<path stroke="#1f9e89" d="M0 163v1"/>
<path stroke="#1e9d89" d="M0 164v2"/>
<path stroke="#1e9c89" d="M0 166v1"/>
<path stroke="#1e9b8a" d="M0 167v2"/>
<path stroke="#1f9a8a" d="M0 169v1"/>
<path stroke="#1f998a" d="M0 170v1"/>
<path stroke="#1f988b" d="M0 171v2"/>
<path stroke="#1f978b" d="M0 173v1"/>
<path stroke="#1f968b" d="M0 174v2"/>
<path stroke="#1f958b" d="M0 176v1"/>
<path stroke="#1f948c" d="M0 177v2"/>
<path stroke="#20938c" d="M0 179v1"/>
<path stroke="#20928c" d="M0 180v3"/>
<path stroke="#21918c" d="M0 183v1"/>
<path stroke="#21908d" d="M0 184v2"/>
<path stroke="#218f8d" d="M0 186v1"/>
<path stroke="#218e8d" d="M0 187v2"/>
<path stroke="#228d8d" d="M0 189v1"/>
<path stroke="#228c8d" d="M0 190v2"/>
<path stroke="#228b8d" d="M0 192v1"/>
<path stroke="#238a8d" d="M0 193v2"/>
<path stroke="#23898e" d="M0 195v1"/>
<path stroke="#23888e" d="M0 196v1"/>
<path stroke="#24878e" d="M0 197v2"/>
<path stroke="#24868e" d="M0 199v1"/>
<path stroke="#25858e" d="M0 200v2"/>
<path stroke="#25848e" d="M0 202v1"/>
<path stroke="#25838e" d="M0 203v2"/>
<path stroke="#26828e" d="M0 205v3"/>
<path stroke="#26818e" d="M0 208v1"/>
<path stroke="#27808e" d="M0 209v1"/>
<path stroke="#277f8e" d="M0 210v2"/>
<path stroke="#277e8e" d="M0 212v1"/>
<path stroke="#287d8e" d="M0 213v2"/>
<path stroke="#287c8e" d="M0 215v1"/>
<path stroke="#297b8e" d="M0 216v2"/>
<path stroke="#297a8e" d="M0 218v1"/>
<path stroke="#29798e" d="M0 219v1"/>
<path stroke="#2a788e" d="M0 220v2"/>
<path stroke="#2a778e" d="M0 222v1"/>
<path stroke="#2a768e" d="M0 223v2"/>
<path stroke="#2b758e" d="M0 225v1"/>
<path stroke="#2b748e" d="M0 226v2"/>
<path stroke="#2c738e" d="M0 228v1"/>
<path stroke="#2c728e" d="M0 229v2"/>
<path stroke="#2c718e" d="M0 231v1"/>
<path stroke="#2d718e" d="M0 232v1"/>
<path stroke="#2d708e" d="M0 233v2"/>
<path stroke="#2e6f8e" d="M0 235v1"/>
<path stroke="#2e6e8e" d="M0 236v2"/>
<path stroke="#2e6d8e" d="M0 238v1"/>
<path stroke="#2f6c8e" d="M0 239v2"/>
<path stroke="#2f6b8e" d="M0 241v1"/>
<path stroke="#306a8e" d="M0 242v2"/>
<path stroke="#30698e" d="M0 244v1"/>
<path stroke="#31688e" d="M0 245v1"/>
<path stroke="#31678e" d="M0 246v2"/>
<path stroke="#31668e" d="M0 248v1"/>
<path stroke="#32658e" d="M0 249v2"/>
<path stroke="#32648e" d="M0 251v1"/>
<path stroke="#33638d" d="M0 252v2"/>
<path stroke="#33628d" d="M0 254v1"/>
<path stroke="#34618d" d="M0 255v2"/>
<path stroke="#34608d" d="M0 257v1"/>
<path stroke="#355f8d" d="M0 258v1"/>
<path stroke="#355e8d" d="M0 259v2"/>
<path stroke="#365d8d" d="M0 261v1"/>
<path stroke="#365c8d" d="M0 262v2"/>
<path stroke="#375b8d" d="M0 264v1"/>
<path stroke="#375a8c" d="M0 265v2"/>
<path stroke="#38598c" d="M0 267v1"/>
<path stroke="#38588c" d="M0 268v2"/>
<path stroke="#39568c" d="M0 270v1"/>
<path stroke="#39558c" d="M0 271v1"/>
<path stroke="#3a548c" d="M0 272v2"/>
<path stroke="#3a538b" d="M0 274v1"/>
<path stroke="#3b528b" d="M0 275v2"/>
<path stroke="#3b518b" d="M0 277v1"/>
<path stroke="#3c508b" d="M0 278v2"/>
<path stroke="#3c4f8a" d="M0 280v1"/>
<path stroke="#3d4e8a" d="M0 281v2"/>
<path stroke="#3d4d8a" d="M0 283v1"/>
<path stroke="#3e4c8a" d="M0 284v1"/>
<path stroke="#3e4a89" d="M0 285v2"/>
<path stroke="#3e4989" d="M0 287v1"/>
<path stroke="#3f4889" d="M0 288v2"/>
<path stroke="#3f4788" d="M0 290v1"/>
<path stroke="#404688" d="M0 291v2"/>
<path stroke="#404588" d="M0 293v1"/>
<path stroke="#414487" d="M0 294v2"/>
<path stroke="#414287" d="M0 296v1"/>
<path stroke="#424186" d="M0 297v1"/>
<path stroke="#424086" d="M0 298v2"/>
<path stroke="#423f85" d="M0 300v1"/>
<path stroke="#433e85" d="M0 301v2"/>
<path stroke="#433d84" d="M0 303v1"/>
<path stroke="#443b84" d="M0 304v2"/>
<path stroke="#443a83" d="M0 306v1"/>
<path stroke="#443983" d="M0 307v2"/>
<path stroke="#453882" d="M0 309v1"/>
<path stroke="#453781" d="M0 310v1"/>
<path stroke="#453581" d="M0 311v2"/>
<path stroke="#463480" d="M0 313v1"/>
<path stroke="#46337f" d="M0 314v2"/>
<path stroke="#46327e" d="M0 316v1"/>
<path stroke="#46307e" d="M0 317v2"/>
<path stroke="#472f7d" d="M0 319v1"/>
<path stroke="#472e7c" d="M0 320v2"/>
<path stroke="#472d7b" d="M0 322v1"/>
<path stroke="#472c7a" d="M0 323v1"/>
<path stroke="#472a7a" d="M0 324v2"/>
<path stroke="#482979" d="M0 326v1"/>
<path stroke="#482878" d="M0 327v2"/>
<path stroke="#482677" d="M0 329v1"/>
<path stroke="#482576" d="M0 330v2"/>
<path stroke="#482475" d="M0 332v1"/>
<path stroke="#482374" d="M0 333v2"/>
<path stroke="#482173" d="M0 335v1"/>
<path stroke="#482071" d="M0 336v1"/>
<path stroke="#481f70" d="M0 337v2"/>
<path stroke="#481d6f" d="M0 339v1"/>
<path stroke="#481c6e" d="M0 340v2"/>
<path stroke="#481b6d" d="M0 342v1"/>
<path stroke="#481a6c" d="M0 343v2"/>
<path stroke="#48186a" d="M0 345v1"/>
<path stroke="#481769" d="M0 346v2"/>
<path stroke="#481668" d="M0 348v1"/>
<path stroke="#481467" d="M0 349v1"/>
<path stroke="#471365" d="M0 350v2"/>
<path stroke="#471164" d="M0 352v1"/>
<path stroke="#471063" d="M0 353v2"/>
<path stroke="#470e61" d="M0 355v1"/>
<path stroke="#470d60" d="M0 356v2"/>
<path stroke="#460b5e" d="M0 358v1"/>
<path stroke="#460a5d" d="M0 359v2"/>
<path stroke="#46085c" d="M0 361v1"/>
<path stroke="#46075a" d="M0 362v1"/>
<path stroke="#450559" d="M0 363v2"/>
<path stroke="#450457" d="M0 365v1"/>
<path stroke="#440256" d="M0 366v2"/>
<path stroke="#440154" d="M0 368v1"/>
</g>
<g id="grid" shape-rendering="crispEdges">
<path fill="#b0b0b0" fill-opacity=".0372" d="M168 58h1v369h-1zM168 427h1v1h-1zM169 427h1v1h-1zM170 58h1v369h-1zM170 427h1v1h-1zM204 58h1v369h-1zM204 427h1v1h-1zM205 427h1v1h-1zM206 58h1v369h-1zM206 427h1v1h-1zM232 58h1v369h-1zM232 427h1v1h-1zM233 427h1v1h-1zM234 58h1v369h-1zM234 427h1v1h-1zM254 58h1v369h-1zM254 427h1v1h-1zM255 427h1v1h-1zM256 58h1v369h-1zM256 427h1v1h-1zM274 58h1v369h-1zM274 427h1v1h-1zM275 427h1v1h-1zM276 58h1v369h-1zM276 427h1v1h-1zM290 58h1v369h-1zM290 427h1v1h-1zM291 427h1v1h-1zM292 58h1v369h-1zM292 427h1v1h-1zM305 58h1v369h-1zM305 427h1v1h-1zM306 427h1v1h-1zM307 58h1v369h-1zM307 427h1v1h-1zM318 58h1v369h-1zM318 427h1v1h-1zM319 427h1v1h-1zM320 58h1v369h-1zM320 427h1v1h-1zM330 58h1v369h-1zM330 427h1v1h-1zM331 427h1v1h-1zM332 58h1v369h-1zM332 427h1v1h-1zM341 58h1v369h-1zM341 427h1v1h-1zM342 427h1v1h-1zM343 58h1v369h-1zM343 427h1v1h-1zM416 58h1v369h-1zM416 427h1v1h-1zM417 427h1v1h-1zM418 58h1v369h-1zM418 427h1v1h-1zM463 58h1v369h-1zM463 427h1v1h-1zM464 427h1v1h-1zM465 58h1v369h-1zM465 427h1v1h-1zM497 58h1v369h-1zM497 427h1v1h-1zM498 427h1v1h-1zM499 58h1v369h-1zM499 427h1v1h-1zM524 58h1v369h-1zM524 427h1v1h-1zM525 427h1v1h-1zM526 58h1v369h-1zM526 427h1v1h-1zM546 58h1v369h-1zM546 427h1v1h-1zM547 427h1v1h-1zM548 58h1v369h-1zM548 427h1v1h-1zM564 58h1v369h-1zM564 427h1v1h-1zM565 427h1v1h-1zM566 58h1v369h-1zM566 427h1v1h-1zM580 58h1v369h-1zM580 427h1v1h-1zM581 427h1v1h-1zM582 58h1v369h-1zM582 427h1v1h-1zM595 58h1v369h-1zM595 427h1v1h-1zM596 427h1v1h-1zM597 58h1v369h-1zM597 427h1v1h-1zM608 58h1v369h-1zM608 427h1v1h-1zM609 427h1v1h-1zM610 58h1v369h-1zM610 427h1v1h-1zM665 58h1v369h-1zM665 427h1v1h-1zM666 427h1v1h-1zM667 58h1v369h-1zM667 427h1v1h-1zM693 58h1v369h-1zM693 427h1v1h-1zM694 427h1v1h-1zM695 58h1v369h-1zM695 427h1v1h-1z"/>
<path fill="#b0b0b0" fill-opacity=".667" d="M169 58h1v369h-1zM205 58h1v369h-1zM233 58h1v369h-1zM255 58h1v369h-1zM275 58h1v369h-1zM291 58h1v369h-1zM306 58h1v369h-1zM319 58h1v369h-1zM331 58h1v369h-1zM342 58h1v369h-1zM417 58h1v369h-1zM464 58h1v369h-1zM498 58h1v369h-1zM525 58h1v369h-1zM547 58h1v369h-1zM565 58h1v369h-1zM581 58h1v369h-1zM596 58h1v369h-1zM609 58h1v369h-1zM666 58h1v369h-1zM694 58h1v369h-1z"/>
<path fill="#b0b0b0" fill-opacity=".0372" d="M120 59h595v1h-595zM715 58h1v1h-1zM715 59h1v1h-1zM120 195h595v1h-595zM120 197h595v1h-595zM715 195h1v1h-1zM715 196h1v1h-1zM715 197h1v1h-1zM120 311h595v1h-595zM120 313h595v1h-595zM715 311h1v1h-1zM715 312h1v1h-1zM715 313h1v1h-1zM120 403h595v1h-595zM120 405h595v1h-595zM715 403h1v1h-1zM715 404h1v1h-1zM715 405h1v1h-1z"/>
<path fill="#b0b0b0" fill-opacity=".667" d="M120 58h595v1h-595zM120 196h595v1h-595zM120 312h595v1h-595zM120 404h595v1h-595z"/>
</g>
<g id="axes" shape-rendering="crispEdges">
<path fill="#000" fill-opacity=".028" d="M168 427h1v1h-1zM168 432h1v1h-1zM170 427h1v1h-1zM170 432h1v1h-1zM204 427h1v1h-1zM204 432h1v1h-1zM206 427h1v1h-1zM206 432h1v1h-1zM232 427h1v1h-1zM232 432h1v1h-1zM234 427h1v1h-1zM234 432h1v1h-1zM254 427h1v1h-1zM254 432h1v1h-1zM256 427h1v1h-1zM256 432h1v1h-1zM274 427h1v1h-1zM274 432h1v1h-1zM276 427h1v1h-1zM276 432h1v1h-1zM290 427h1v1h-1zM290 432h1v1h-1zM292 427h1v1h-1zM292 432h1v1h-1zM305 427h1v1h-1zM305 432h1v1h-1zM307 427h1v1h-1zM307 432h1v1h-1zM318 427h1v1h-1zM318 432h1v1h-1zM320 427h1v1h-1zM320 432h1v1h-1zM330 427h1v1h-1zM330 432h1v1h-1zM332 427h1v1h-1zM332 432h1v1h-1zM341 427h1v1h-1zM341 432h1v1h-1zM343 427h1v1h-1zM343 432h1v1h-1zM416 427h1v1h-1zM416 432h1v1h-1zM418 427h1v1h-1zM418 432h1v1h-1zM463 427h1v1h-1zM463 432h1v1h-1zM465 427h1v1h-1zM465 432h1v1h-1zM497 427h1v1h-1zM497 432h1v1h-1zM499 427h1v1h-1zM499 432h1v1h-1zM524 427h1v1h-1zM524 432h1v1h-1zM526 427h1v1h-1zM526 432h1v1h-1zM546 427h1v1h-1zM546 432h1v1h-1zM548 427h1v1h-1zM548 432h1v1h-1zM564 427h1v1h-1zM564 432h1v1h-1zM566 427h1v1h-1zM566 432h1v1h-1zM580 427h1v1h-1zM580 432h1v1h-1zM582 427h1v1h-1zM582 432h1v1h-1zM595 427h1v1h-1zM595 432h1v1h-1zM597 427h1v1h-1zM597 432h1v1h-1zM608 427h1v1h-1zM608 432h1v1h-1zM610 427h1v1h-1zM610 432h1v1h-1zM665 427h1v1h-1zM665 432h1v1h-1zM667 427h1v1h-1zM667 432h1v1h-1zM693 427h1v1h-1zM693 432h1v1h-1zM695 427h1v1h-1zM695 432h1v1h-1zM115 57h1v1h-1zM115 59h1v1h-1zM120 57h1v1h-1zM120 59h1v1h-1zM115 195h1v1h-1zM115 197h1v1h-1zM120 195h1v1h-1zM120 197h1v1h-1zM115 311h1v1h-1zM115 313h1v1h-1zM120 311h1v1h-1zM120 313h1v1h-1zM115 403h1v1h-1zM115 405h1v1h-1zM120 403h1v1h-1zM120 405h1v1h-1zM771 60h1v1h-1zM771 62h1v1h-1zM776 60h1v1h-1zM776 62h1v1h-1zM771 107h1v1h-1zM771 109h1v1h-1zM776 107h1v1h-1zM776 109h1v1h-1zM771 154h1v1h-1zM771 156h1v1h-1zM776 154h1v1h-1zM776 156h1v1h-1zM771 201h1v1h-1zM771 203h1v1h-1zM776 201h1v1h-1zM776 203h1v1h-1zM771 248h1v1h-1zM771 250h1v1h-1zM776 248h1v1h-1zM776 250h1v1h-1zM771 295h1v1h-1zM771 297h1v1h-1zM776 295h1v1h-1zM776 297h1v1h-1zM771 342h1v1h-1zM771 344h1v1h-1zM776 342h1v1h-1zM776 344h1v1h-1zM771 389h1v1h-1zM771 391h1v1h-1zM776 389h1v1h-1zM776 391h1v1h-1z"/>
<path fill="#000" fill-opacity=".056" d="M168 428h1v4h-1zM170 428h1v4h-1zM204 428h1v4h-1zM206 428h1v4h-1zM232 428h1v4h-1zM234 428h1v4h-1zM254 428h1v4h-1zM256 428h1v4h-1zM274 428h1v4h-1zM276 428h1v4h-1zM290 428h1v4h-1zM292 428h1v4h-1zM305 428h1v4h-1zM307 428h1v4h-1zM318 428h1v4h-1zM320 428h1v4h-1zM330 428h1v4h-1zM332 428h1v4h-1zM341 428h1v4h-1zM343 428h1v4h-1zM416 428h1v4h-1zM418 428h1v4h-1zM463 428h1v4h-1zM465 428h1v4h-1zM497 428h1v4h-1zM499 428h1v4h-1zM524 428h1v4h-1zM526 428h1v4h-1zM546 428h1v4h-1zM548 428h1v4h-1zM564 428h1v4h-1zM566 428h1v4h-1zM580 428h1v4h-1zM582 428h1v4h-1zM595 428h1v4h-1zM597 428h1v4h-1zM608 428h1v4h-1zM610 428h1v4h-1zM665 428h1v4h-1zM667 428h1v4h-1zM693 428h1v4h-1zM695 428h1v4h-1zM116 57h4v1h-4zM116 59h4v1h-4zM116 195h4v1h-4zM116 197h4v1h-4zM116 311h4v1h-4zM116 313h4v1h-4zM116 403h4v1h-4zM116 405h4v1h-4zM772 60h4v1h-4zM772 62h4v1h-4zM772 107h4v1h-4zM772 109h4v1h-4zM772 154h4v1h-4zM772 156h4v1h-4zM772 201h4v1h-4zM772 203h4v1h-4zM772 248h4v1h-4zM772 250h4v1h-4zM772 295h4v1h-4zM772 297h4v1h-4zM772 342h4v1h-4zM772 344h4v1h-4zM772 389h4v1h-4zM772 391h4v1h-4z"/>
<path fill="#000" fill-opacity=".5" d="M169 427h1v1h-1zM169 432h1v1h-1zM205 427h1v1h-1zM205 432h1v1h-1zM233 427h1v1h-1zM233 432h1v1h-1zM255 427h1v1h-1zM255 432h1v1h-1zM275 427h1v1h-1zM275 432h1v1h-1zM291 427h1v1h-1zM291 432h1v1h-1zM306 427h1v1h-1zM306 432h1v1h-1zM319 427h1v1h-1zM319 432h1v1h-1zM331 427h1v1h-1zM331 432h1v1h-1zM342 427h1v1h-1zM342 432h1v1h-1zM417 427h1v1h-1zM417 432h1v1h-1zM464 427h1v1h-1zM464 432h1v1h-1zM498 427h1v1h-1zM498 432h1v1h-1zM525 427h1v1h-1zM525 432h1v1h-1zM547 427h1v1h-1zM547 432h1v1h-1zM565 427h1v1h-1zM565 432h1v1h-1zM581 427h1v1h-1zM581 432h1v1h-1zM596 427h1v1h-1zM596 432h1v1h-1zM609 427h1v1h-1zM609 432h1v1h-1zM666 427h1v1h-1zM666 432h1v1h-1zM694 427h1v1h-1zM694 432h1v1h-1zM115 58h1v1h-1zM120 58h1v1h-1zM115 196h1v1h-1zM120 196h1v1h-1zM115 312h1v1h-1zM120 312h1v1h-1zM115 404h1v1h-1zM120 404h1v1h-1zM771 61h1v1h-1zM776 61h1v1h-1zM771 108h1v1h-1zM776 108h1v1h-1zM771 155h1v1h-1zM776 155h1v1h-1zM771 202h1v1h-1zM776 202h1v1h-1zM771 249h1v1h-1zM776 249h1v1h-1zM771 296h1v1h-1zM776 296h1v1h-1zM771 343h1v1h-1zM776 343h1v1h-1zM771 390h1v1h-1zM776 390h1v1h-1z"/>
<path fill="#000" d="M169 428h1v4h-1zM205 428h1v4h-1zM233 428h1v4h-1zM255 428h1v4h-1zM275 428h1v4h-1zM291 428h1v4h-1zM306 428h1v4h-1zM319 428h1v4h-1zM331 428h1v4h-1zM342 428h1v4h-1zM417 428h1v4h-1zM464 428h1v4h-1zM498 428h1v4h-1zM525 428h1v4h-1zM547 428h1v4h-1zM565 428h1v4h-1zM581 428h1v4h-1zM596 428h1v4h-1zM609 428h1v4h-1zM666 428h1v4h-1zM694 428h1v4h-1zM116 58h4v1h-4zM116 196h4v1h-4zM116 312h4v1h-4zM116 404h4v1h-4zM772 61h4v1h-4zM772 108h4v1h-4zM772 155h4v1h-4zM772 202h4v1h-4zM772 249h4v1h-4zM772 296h4v1h-4zM772 343h4v1h-4zM772 390h4v1h-4z"/>
<path fill="#000" fill-opacity=".056" d="M119 58h1v370h-1zM120 57h1v1h-1zM120 428h1v1h-1zM121 58h1v370h-1zM714 58h1v370h-1zM715 57h1v1h-1zM715 428h1v1h-1zM716 58h1v370h-1zM751 59h1v368h-1zM753 59h1v368h-1zM770 59h1v368h-1zM772 59h1v368h-1z"/>
<path fill="#000" d="M120 58h1v370h-1zM715 58h1v370h-1zM752 59h1v368h-1zM771 59h1v368h-1z"/>
<path fill="#000" fill-opacity=".056" d="M119 58h1v1h-1zM120 57h596v1h-596zM120 59h596v1h-596zM716 58h1v1h-1zM119 427h1v1h-1zM120 426h596v1h-596zM120 428h596v1h-596zM716 427h1v1h-1zM753 57h18v1h-18zM753 59h18v1h-18zM753 426h18v1h-18zM753 428h18v1h-18z"/>
<path fill="#000" d="M120 58h596v1h-596zM120 427h596v1h-596zM753 58h18v1h-18zM753 427h18v1h-18z"/>
<path fill="#000" fill-opacity=".906" d="M752 58h1v1h-1zM771 58h1v1h-1zM752 427h1v1h-1zM771 427h1v1h-1z"/>
<path fill="#000" fill-opacity=".031" d="M752 57h1v1h-1zM771 57h1v1h-1zM751 58h1v1h-1zM772 58h1v1h-1zM751 427h1v1h-1zM772 427h1v1h-1zM752 428h1v1h-1zM771 428h1v1h-1z"/>
</g>
<g id="labels" fill="#000">
<text id="title" font-size="13.15" x="323 331.5 339.75 346.75 355 368 376.5 380.25 388.5 397 401.25 413.75 422 429.75 438 443 451.25 456.75 469.5 474 479.25 486 494.5 507.5 516 519.75 528 532.25 537.75 546 551.5 559.75 564 568.5 577 585.5 594 602.5 611 615.25 625.25 632.5" y="20">Resampled Waveform (sample rate: 32000 Hz)</text>
<g font-size="11.1111">
<text id="ylabel" transform="translate(66.5 316) rotate(-90)" x="0 10.25 17.375 23.75 30.875 34.875 41.625 45.75 56.625 60.375 65.75 70.375 77 84.375 91.25 98.375 105.25 111.625 118 121.5 126.125 134.25 140.375" y="0">Waveform Frequency (Hz)</text>
<text id="xlabel" x="305 313.75 318.25 321.5 328.5 331.75 338.75 345.75 349 352.5 359.5 362.75 369.75 376.75 383.75 387 390.5 396 400.5 407.25 414.5 421.5 428.5 435.5 441.75 448.25 451.75 456.25 464.5 470.25 474 477.25 480.5 487.25 494.5 498 503.5 509.75 516.5 519.75 526.75" y="460">Original Signal Frequency (Hz, log scale)</text>
<g id="yticks">
<text x="75 81 88 95 102" y="62">16000</text>
<text x="75 81 88 95 102" y="200">10000</text>
<text x="83 89 96 103" y="316">5000</text>
<text x="82 88 95 102" y="408">1000</text>
</g>
<g id="xticks">
<text x="159 165 172" y="445">100</text>
<text x="265 271 278" y="445">500</text>
<text x="328 334 341 348" y="445">1000</text>
<text x="511 517 524 531" y="445">5000</text>
<text x="591 597 604 611 618" y="445">10000</text>
<text x="677 683.25 690.25 697.25 704.25" y="445">20000</text>
</g>
<g id="cbticks">
<text x="781 789.5 796.5" y="65">−25</text>
<text x="781 789.25 796.25" y="112">−50</text>
<text x="781 789.25 796.5" y="159">−75</text>
<text x="781 789.25 796.25 803.25" y="206">−100</text>
<text x="781 789.25 796.5 803.5" y="253">−125</text>
<text x="781 789.25 796.25 803.25" y="300">−150</text>
<text x="781 789.25 796.25 803.5" y="347">−175</text>
<text x="781 789.5 796.5 803.5" y="394">−200</text>
</g>
</g>
</g>
</svg>
</body>
</html>
